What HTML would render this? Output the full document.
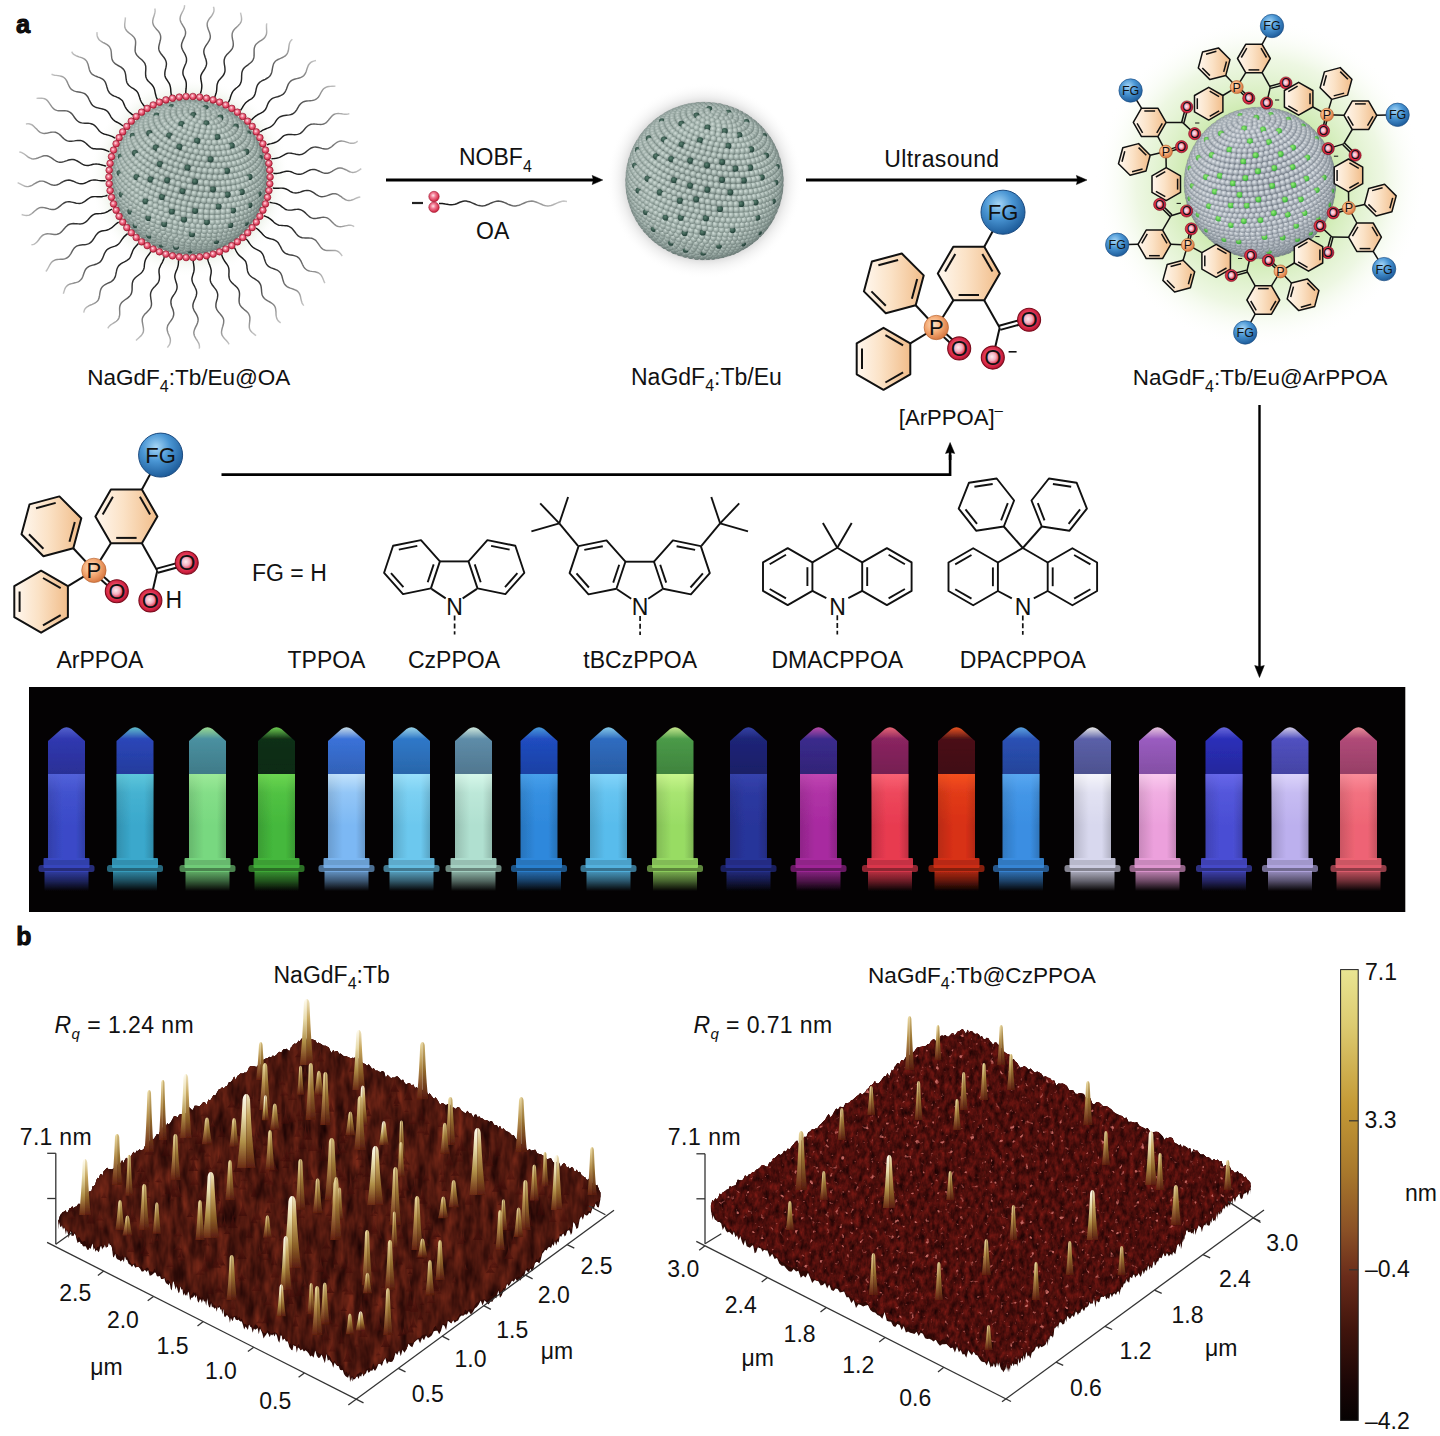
<!DOCTYPE html>
<html><head><meta charset="utf-8"><style>
html,body{margin:0;padding:0;background:#fff;}
svg{display:block;}
text{font-family:"Liberation Sans",sans-serif;}
</style></head><body>
<svg width="1440" height="1436" viewBox="0 0 1440 1436">
<defs>
<filter id="soft" x="-5%" y="-5%" width="110%" height="110%"><feGaussianBlur stdDeviation="0.7"/></filter>
<linearGradient id="peach" x1="0" y1="0" x2="1" y2="0"><stop offset="0" stop-color="#fff7ee"/><stop offset="0.45" stop-color="#fbe2c6"/><stop offset="1" stop-color="#f1bd8a"/></linearGradient>
<radialGradient id="pball" cx="0.4" cy="0.38" r="0.62"><stop offset="0" stop-color="#fde2c4"/><stop offset="0.55" stop-color="#f4a872"/><stop offset="1" stop-color="#d87a44"/></radialGradient>
<radialGradient id="oball" cx="0.46" cy="0.46" r="0.54"><stop offset="0" stop-color="#fdecf0"/><stop offset="0.32" stop-color="#f4b0c0"/><stop offset="0.58" stop-color="#e23c5a"/><stop offset="0.85" stop-color="#d0203e"/><stop offset="1" stop-color="#a81432"/></radialGradient>
<radialGradient id="fgball" cx="0.4" cy="0.32" r="0.7"><stop offset="0" stop-color="#a6d6f6"/><stop offset="0.45" stop-color="#4a96d4"/><stop offset="1" stop-color="#1c5a98"/></radialGradient>
<radialGradient id="rbead" cx="0.42" cy="0.4" r="0.6"><stop offset="0" stop-color="#ffe4e8"/><stop offset="0.4" stop-color="#f07890"/><stop offset="1" stop-color="#cc1f3c"/></radialGradient>
<radialGradient id="gbead" cx="0.4" cy="0.36" r="0.64"><stop offset="0" stop-color="#d0dcd7"/><stop offset="0.5" stop-color="#aabab4"/><stop offset="1" stop-color="#7f8f8a"/></radialGradient>
<radialGradient id="bbead" cx="0.4" cy="0.36" r="0.64"><stop offset="0" stop-color="#e2e6ea"/><stop offset="0.55" stop-color="#b2bac2"/><stop offset="1" stop-color="#8a929c"/></radialGradient>
<radialGradient id="dgdot" cx="0.4" cy="0.38" r="0.6"><stop offset="0" stop-color="#5a8070"/><stop offset="1" stop-color="#24423a"/></radialGradient>
<radialGradient id="lgdot" cx="0.4" cy="0.38" r="0.6"><stop offset="0" stop-color="#9af07a"/><stop offset="1" stop-color="#38b038"/></radialGradient>
<pattern id="pg" patternUnits="userSpaceOnUse" width="6" height="10.4" x="0" y="0" patternTransform="rotate(-8)">
 <rect width="6" height="10.4" fill="#7f8f8a"/>
 <circle cx="3" cy="2.6" r="2.95" fill="url(#gbead)"/>
 <circle cx="0" cy="7.8" r="2.95" fill="url(#gbead)"/><circle cx="6" cy="7.8" r="2.95" fill="url(#gbead)"/>
</pattern>
<pattern id="pb" patternUnits="userSpaceOnUse" width="5.6" height="9.7" x="0" y="0" patternTransform="rotate(-8)">
 <rect width="5.6" height="9.7" fill="#7f8892"/>
 <circle cx="2.8" cy="2.42" r="2.75" fill="url(#bbead)"/>
 <circle cx="0" cy="7.27" r="2.75" fill="url(#bbead)"/><circle cx="5.6" cy="7.27" r="2.75" fill="url(#bbead)"/>
</pattern>
<radialGradient id="sphshade" cx="0.5" cy="0.5" r="0.5"><stop offset="0.7" stop-color="#000" stop-opacity="0"/><stop offset="0.94" stop-color="#233" stop-opacity="0.1"/><stop offset="1" stop-color="#122" stop-opacity="0.22"/></radialGradient>
<radialGradient id="sphhl" cx="0.35" cy="0.3" r="0.6"><stop offset="0" stop-color="#fff" stop-opacity="0.06"/><stop offset="1" stop-color="#fff" stop-opacity="0"/></radialGradient>
<radialGradient id="shadow2" cx="0.5" cy="0.5" r="0.5"><stop offset="0.78" stop-color="#888" stop-opacity="0.35"/><stop offset="0.86" stop-color="#999" stop-opacity="0.15"/><stop offset="1" stop-color="#fff" stop-opacity="0"/></radialGradient>
<radialGradient id="glow3" cx="0.5" cy="0.5" r="0.5"><stop offset="0.45" stop-color="#c8e8a8" stop-opacity="0.9"/><stop offset="0.75" stop-color="#e2f2d0" stop-opacity="0.6"/><stop offset="1" stop-color="#ffffff" stop-opacity="0"/></radialGradient>
<radialGradient id="glow1" cx="0.5" cy="0.5" r="0.5"><stop offset="0.8" stop-color="#dfe8d8" stop-opacity="0.7"/><stop offset="1" stop-color="#ffffff" stop-opacity="0"/></radialGradient>
<radialGradient id="chaing" gradientUnits="userSpaceOnUse" cx="189.5" cy="177" r="175"><stop offset="0.48" stop-color="#111"/><stop offset="0.7" stop-color="#333"/><stop offset="0.88" stop-color="#8a8a8a"/><stop offset="1" stop-color="#d0d0d0"/></radialGradient>
<linearGradient id="oachain" x1="0" y1="0" x2="1" y2="0"><stop offset="0" stop-color="#111"/><stop offset="0.5" stop-color="#555"/><stop offset="1" stop-color="#ccc"/></linearGradient>
<clipPath id="clip1"><circle cx="189.5" cy="177" r="78"/></clipPath><circle id="bd1" r="3.1" fill="url(#gbead)"/><circle id="dt1" r="3.1" fill="url(#dgdot)"/><clipPath id="clip2"><circle cx="704.5" cy="181" r="79.5"/></clipPath><circle id="bd2" r="3.1" fill="url(#gbead)"/><circle id="dt2" r="3.1" fill="url(#dgdot)"/><clipPath id="clip3"><circle cx="1260" cy="183" r="76.5"/></clipPath><circle id="bd3" r="2.9" fill="url(#bbead)"/><circle id="dt3" r="3" fill="url(#lgdot)"/><linearGradient id="vb0" x1="0" y1="0" x2="1" y2="0"><stop offset="0" stop-color="#3a4ac8" stop-opacity="0.85"/><stop offset="0.4" stop-color="#3a4ac8"/><stop offset="0.75" stop-color="#3a4ac8"/><stop offset="1" stop-color="#3a4ac8" stop-opacity="0.82"/></linearGradient><linearGradient id="vh0" x1="0" y1="0" x2="0" y2="1"><stop offset="0" stop-color="#5a6ae0" stop-opacity="0.75"/><stop offset="0.22" stop-color="#5a6ae0" stop-opacity="0.25"/><stop offset="0.6" stop-color="#5a6ae0" stop-opacity="0"/></linearGradient><linearGradient id="vr0" x1="0" y1="0" x2="0" y2="1"><stop offset="0" stop-color="#3a4ac8" stop-opacity="0.8"/><stop offset="0.5" stop-color="#3a4ac8" stop-opacity="0.45"/><stop offset="1" stop-color="#3a4ac8" stop-opacity="0"/></linearGradient><linearGradient id="vc0" x1="0" y1="0" x2="0" y2="1"><stop offset="0" stop-color="#5a6ae0" stop-opacity="0.9"/><stop offset="0.25" stop-color="#3038b0"/><stop offset="1" stop-color="#3038b0" stop-opacity="0.85"/></linearGradient><linearGradient id="vb1" x1="0" y1="0" x2="1" y2="0"><stop offset="0" stop-color="#3aa8cc" stop-opacity="0.85"/><stop offset="0.4" stop-color="#3aa8cc"/><stop offset="0.75" stop-color="#3aa8cc"/><stop offset="1" stop-color="#3aa8cc" stop-opacity="0.82"/></linearGradient><linearGradient id="vh1" x1="0" y1="0" x2="0" y2="1"><stop offset="0" stop-color="#68d0e0" stop-opacity="0.75"/><stop offset="0.22" stop-color="#68d0e0" stop-opacity="0.25"/><stop offset="0.6" stop-color="#68d0e0" stop-opacity="0"/></linearGradient><linearGradient id="vr1" x1="0" y1="0" x2="0" y2="1"><stop offset="0" stop-color="#3aa8cc" stop-opacity="0.8"/><stop offset="0.5" stop-color="#3aa8cc" stop-opacity="0.45"/><stop offset="1" stop-color="#3aa8cc" stop-opacity="0"/></linearGradient><linearGradient id="vc1" x1="0" y1="0" x2="0" y2="1"><stop offset="0" stop-color="#68d0e0" stop-opacity="0.9"/><stop offset="0.25" stop-color="#2a46b8"/><stop offset="1" stop-color="#2a46b8" stop-opacity="0.85"/></linearGradient><linearGradient id="vb2" x1="0" y1="0" x2="1" y2="0"><stop offset="0" stop-color="#78d880" stop-opacity="0.85"/><stop offset="0.4" stop-color="#78d880"/><stop offset="0.75" stop-color="#78d880"/><stop offset="1" stop-color="#78d880" stop-opacity="0.82"/></linearGradient><linearGradient id="vh2" x1="0" y1="0" x2="0" y2="1"><stop offset="0" stop-color="#a8f0a0" stop-opacity="0.75"/><stop offset="0.22" stop-color="#a8f0a0" stop-opacity="0.25"/><stop offset="0.6" stop-color="#a8f0a0" stop-opacity="0"/></linearGradient><linearGradient id="vr2" x1="0" y1="0" x2="0" y2="1"><stop offset="0" stop-color="#78d880" stop-opacity="0.8"/><stop offset="0.5" stop-color="#78d880" stop-opacity="0.45"/><stop offset="1" stop-color="#78d880" stop-opacity="0"/></linearGradient><linearGradient id="vc2" x1="0" y1="0" x2="0" y2="1"><stop offset="0" stop-color="#a8f0a0" stop-opacity="0.9"/><stop offset="0.25" stop-color="#4a90a0"/><stop offset="1" stop-color="#4a90a0" stop-opacity="0.85"/></linearGradient><linearGradient id="vb3" x1="0" y1="0" x2="1" y2="0"><stop offset="0" stop-color="#44b83c" stop-opacity="0.85"/><stop offset="0.4" stop-color="#44b83c"/><stop offset="0.75" stop-color="#44b83c"/><stop offset="1" stop-color="#44b83c" stop-opacity="0.82"/></linearGradient><linearGradient id="vh3" x1="0" y1="0" x2="0" y2="1"><stop offset="0" stop-color="#78e058" stop-opacity="0.75"/><stop offset="0.22" stop-color="#78e058" stop-opacity="0.25"/><stop offset="0.6" stop-color="#78e058" stop-opacity="0"/></linearGradient><linearGradient id="vr3" x1="0" y1="0" x2="0" y2="1"><stop offset="0" stop-color="#44b83c" stop-opacity="0.8"/><stop offset="0.5" stop-color="#44b83c" stop-opacity="0.45"/><stop offset="1" stop-color="#44b83c" stop-opacity="0"/></linearGradient><linearGradient id="vc3" x1="0" y1="0" x2="0" y2="1"><stop offset="0" stop-color="#78e058" stop-opacity="0.9"/><stop offset="0.25" stop-color="#0e3016"/><stop offset="1" stop-color="#0e3016" stop-opacity="0.85"/></linearGradient><linearGradient id="vb4" x1="0" y1="0" x2="1" y2="0"><stop offset="0" stop-color="#7cb8f4" stop-opacity="0.85"/><stop offset="0.4" stop-color="#7cb8f4"/><stop offset="0.75" stop-color="#7cb8f4"/><stop offset="1" stop-color="#7cb8f4" stop-opacity="0.82"/></linearGradient><linearGradient id="vh4" x1="0" y1="0" x2="0" y2="1"><stop offset="0" stop-color="#d8f0ff" stop-opacity="0.75"/><stop offset="0.22" stop-color="#d8f0ff" stop-opacity="0.25"/><stop offset="0.6" stop-color="#d8f0ff" stop-opacity="0"/></linearGradient><linearGradient id="vr4" x1="0" y1="0" x2="0" y2="1"><stop offset="0" stop-color="#7cb8f4" stop-opacity="0.8"/><stop offset="0.5" stop-color="#7cb8f4" stop-opacity="0.45"/><stop offset="1" stop-color="#7cb8f4" stop-opacity="0"/></linearGradient><linearGradient id="vc4" x1="0" y1="0" x2="0" y2="1"><stop offset="0" stop-color="#d8f0ff" stop-opacity="0.9"/><stop offset="0.25" stop-color="#3a72d8"/><stop offset="1" stop-color="#3a72d8" stop-opacity="0.85"/></linearGradient><linearGradient id="vb5" x1="0" y1="0" x2="1" y2="0"><stop offset="0" stop-color="#6cc8ee" stop-opacity="0.85"/><stop offset="0.4" stop-color="#6cc8ee"/><stop offset="0.75" stop-color="#6cc8ee"/><stop offset="1" stop-color="#6cc8ee" stop-opacity="0.82"/></linearGradient><linearGradient id="vh5" x1="0" y1="0" x2="0" y2="1"><stop offset="0" stop-color="#a8e8ff" stop-opacity="0.75"/><stop offset="0.22" stop-color="#a8e8ff" stop-opacity="0.25"/><stop offset="0.6" stop-color="#a8e8ff" stop-opacity="0"/></linearGradient><linearGradient id="vr5" x1="0" y1="0" x2="0" y2="1"><stop offset="0" stop-color="#6cc8ee" stop-opacity="0.8"/><stop offset="0.5" stop-color="#6cc8ee" stop-opacity="0.45"/><stop offset="1" stop-color="#6cc8ee" stop-opacity="0"/></linearGradient><linearGradient id="vc5" x1="0" y1="0" x2="0" y2="1"><stop offset="0" stop-color="#a8e8ff" stop-opacity="0.9"/><stop offset="0.25" stop-color="#2f78c8"/><stop offset="1" stop-color="#2f78c8" stop-opacity="0.85"/></linearGradient><linearGradient id="vb6" x1="0" y1="0" x2="1" y2="0"><stop offset="0" stop-color="#b0e0d0" stop-opacity="0.85"/><stop offset="0.4" stop-color="#b0e0d0"/><stop offset="0.75" stop-color="#b0e0d0"/><stop offset="1" stop-color="#b0e0d0" stop-opacity="0.82"/></linearGradient><linearGradient id="vh6" x1="0" y1="0" x2="0" y2="1"><stop offset="0" stop-color="#e2fff2" stop-opacity="0.75"/><stop offset="0.22" stop-color="#e2fff2" stop-opacity="0.25"/><stop offset="0.6" stop-color="#e2fff2" stop-opacity="0"/></linearGradient><linearGradient id="vr6" x1="0" y1="0" x2="0" y2="1"><stop offset="0" stop-color="#b0e0d0" stop-opacity="0.8"/><stop offset="0.5" stop-color="#b0e0d0" stop-opacity="0.45"/><stop offset="1" stop-color="#b0e0d0" stop-opacity="0"/></linearGradient><linearGradient id="vc6" x1="0" y1="0" x2="0" y2="1"><stop offset="0" stop-color="#e2fff2" stop-opacity="0.9"/><stop offset="0.25" stop-color="#5e8ca8"/><stop offset="1" stop-color="#5e8ca8" stop-opacity="0.85"/></linearGradient><linearGradient id="vb7" x1="0" y1="0" x2="1" y2="0"><stop offset="0" stop-color="#2e88dc" stop-opacity="0.85"/><stop offset="0.4" stop-color="#2e88dc"/><stop offset="0.75" stop-color="#2e88dc"/><stop offset="1" stop-color="#2e88dc" stop-opacity="0.82"/></linearGradient><linearGradient id="vh7" x1="0" y1="0" x2="0" y2="1"><stop offset="0" stop-color="#50a8f0" stop-opacity="0.75"/><stop offset="0.22" stop-color="#50a8f0" stop-opacity="0.25"/><stop offset="0.6" stop-color="#50a8f0" stop-opacity="0"/></linearGradient><linearGradient id="vr7" x1="0" y1="0" x2="0" y2="1"><stop offset="0" stop-color="#2e88dc" stop-opacity="0.8"/><stop offset="0.5" stop-color="#2e88dc" stop-opacity="0.45"/><stop offset="1" stop-color="#2e88dc" stop-opacity="0"/></linearGradient><linearGradient id="vc7" x1="0" y1="0" x2="0" y2="1"><stop offset="0" stop-color="#50a8f0" stop-opacity="0.9"/><stop offset="0.25" stop-color="#1f4cc0"/><stop offset="1" stop-color="#1f4cc0" stop-opacity="0.85"/></linearGradient><linearGradient id="vb8" x1="0" y1="0" x2="1" y2="0"><stop offset="0" stop-color="#58bcec" stop-opacity="0.85"/><stop offset="0.4" stop-color="#58bcec"/><stop offset="0.75" stop-color="#58bcec"/><stop offset="1" stop-color="#58bcec" stop-opacity="0.82"/></linearGradient><linearGradient id="vh8" x1="0" y1="0" x2="0" y2="1"><stop offset="0" stop-color="#90dcff" stop-opacity="0.75"/><stop offset="0.22" stop-color="#90dcff" stop-opacity="0.25"/><stop offset="0.6" stop-color="#90dcff" stop-opacity="0"/></linearGradient><linearGradient id="vr8" x1="0" y1="0" x2="0" y2="1"><stop offset="0" stop-color="#58bcec" stop-opacity="0.8"/><stop offset="0.5" stop-color="#58bcec" stop-opacity="0.45"/><stop offset="1" stop-color="#58bcec" stop-opacity="0"/></linearGradient><linearGradient id="vc8" x1="0" y1="0" x2="0" y2="1"><stop offset="0" stop-color="#90dcff" stop-opacity="0.9"/><stop offset="0.25" stop-color="#2f6cc0"/><stop offset="1" stop-color="#2f6cc0" stop-opacity="0.85"/></linearGradient><linearGradient id="vb9" x1="0" y1="0" x2="1" y2="0"><stop offset="0" stop-color="#98dc64" stop-opacity="0.85"/><stop offset="0.4" stop-color="#98dc64"/><stop offset="0.75" stop-color="#98dc64"/><stop offset="1" stop-color="#98dc64" stop-opacity="0.82"/></linearGradient><linearGradient id="vh9" x1="0" y1="0" x2="0" y2="1"><stop offset="0" stop-color="#d8ff9a" stop-opacity="0.75"/><stop offset="0.22" stop-color="#d8ff9a" stop-opacity="0.25"/><stop offset="0.6" stop-color="#d8ff9a" stop-opacity="0"/></linearGradient><linearGradient id="vr9" x1="0" y1="0" x2="0" y2="1"><stop offset="0" stop-color="#98dc64" stop-opacity="0.8"/><stop offset="0.5" stop-color="#98dc64" stop-opacity="0.45"/><stop offset="1" stop-color="#98dc64" stop-opacity="0"/></linearGradient><linearGradient id="vc9" x1="0" y1="0" x2="0" y2="1"><stop offset="0" stop-color="#d8ff9a" stop-opacity="0.9"/><stop offset="0.25" stop-color="#4a9a48"/><stop offset="1" stop-color="#4a9a48" stop-opacity="0.85"/></linearGradient><linearGradient id="vb10" x1="0" y1="0" x2="1" y2="0"><stop offset="0" stop-color="#28349a" stop-opacity="0.85"/><stop offset="0.4" stop-color="#28349a"/><stop offset="0.75" stop-color="#28349a"/><stop offset="1" stop-color="#28349a" stop-opacity="0.82"/></linearGradient><linearGradient id="vh10" x1="0" y1="0" x2="0" y2="1"><stop offset="0" stop-color="#3a48b4" stop-opacity="0.75"/><stop offset="0.22" stop-color="#3a48b4" stop-opacity="0.25"/><stop offset="0.6" stop-color="#3a48b4" stop-opacity="0"/></linearGradient><linearGradient id="vr10" x1="0" y1="0" x2="0" y2="1"><stop offset="0" stop-color="#28349a" stop-opacity="0.8"/><stop offset="0.5" stop-color="#28349a" stop-opacity="0.45"/><stop offset="1" stop-color="#28349a" stop-opacity="0"/></linearGradient><linearGradient id="vc10" x1="0" y1="0" x2="0" y2="1"><stop offset="0" stop-color="#3a48b4" stop-opacity="0.9"/><stop offset="0.25" stop-color="#1c2478"/><stop offset="1" stop-color="#1c2478" stop-opacity="0.85"/></linearGradient><linearGradient id="vb11" x1="0" y1="0" x2="1" y2="0"><stop offset="0" stop-color="#a82aa0" stop-opacity="0.85"/><stop offset="0.4" stop-color="#a82aa0"/><stop offset="0.75" stop-color="#a82aa0"/><stop offset="1" stop-color="#a82aa0" stop-opacity="0.82"/></linearGradient><linearGradient id="vh11" x1="0" y1="0" x2="0" y2="1"><stop offset="0" stop-color="#c850b8" stop-opacity="0.75"/><stop offset="0.22" stop-color="#c850b8" stop-opacity="0.25"/><stop offset="0.6" stop-color="#c850b8" stop-opacity="0"/></linearGradient><linearGradient id="vr11" x1="0" y1="0" x2="0" y2="1"><stop offset="0" stop-color="#a82aa0" stop-opacity="0.8"/><stop offset="0.5" stop-color="#a82aa0" stop-opacity="0.45"/><stop offset="1" stop-color="#a82aa0" stop-opacity="0"/></linearGradient><linearGradient id="vc11" x1="0" y1="0" x2="0" y2="1"><stop offset="0" stop-color="#c850b8" stop-opacity="0.9"/><stop offset="0.25" stop-color="#3a2a8c"/><stop offset="1" stop-color="#3a2a8c" stop-opacity="0.85"/></linearGradient><linearGradient id="vb12" x1="0" y1="0" x2="1" y2="0"><stop offset="0" stop-color="#e83a50" stop-opacity="0.85"/><stop offset="0.4" stop-color="#e83a50"/><stop offset="0.75" stop-color="#e83a50"/><stop offset="1" stop-color="#e83a50" stop-opacity="0.82"/></linearGradient><linearGradient id="vh12" x1="0" y1="0" x2="0" y2="1"><stop offset="0" stop-color="#ff7080" stop-opacity="0.75"/><stop offset="0.22" stop-color="#ff7080" stop-opacity="0.25"/><stop offset="0.6" stop-color="#ff7080" stop-opacity="0"/></linearGradient><linearGradient id="vr12" x1="0" y1="0" x2="0" y2="1"><stop offset="0" stop-color="#e83a50" stop-opacity="0.8"/><stop offset="0.5" stop-color="#e83a50" stop-opacity="0.45"/><stop offset="1" stop-color="#e83a50" stop-opacity="0"/></linearGradient><linearGradient id="vc12" x1="0" y1="0" x2="0" y2="1"><stop offset="0" stop-color="#ff7080" stop-opacity="0.9"/><stop offset="0.25" stop-color="#8a2460"/><stop offset="1" stop-color="#8a2460" stop-opacity="0.85"/></linearGradient><linearGradient id="vb13" x1="0" y1="0" x2="1" y2="0"><stop offset="0" stop-color="#d83016" stop-opacity="0.85"/><stop offset="0.4" stop-color="#d83016"/><stop offset="0.75" stop-color="#d83016"/><stop offset="1" stop-color="#d83016" stop-opacity="0.82"/></linearGradient><linearGradient id="vh13" x1="0" y1="0" x2="0" y2="1"><stop offset="0" stop-color="#ff5a22" stop-opacity="0.75"/><stop offset="0.22" stop-color="#ff5a22" stop-opacity="0.25"/><stop offset="0.6" stop-color="#ff5a22" stop-opacity="0"/></linearGradient><linearGradient id="vr13" x1="0" y1="0" x2="0" y2="1"><stop offset="0" stop-color="#d83016" stop-opacity="0.8"/><stop offset="0.5" stop-color="#d83016" stop-opacity="0.45"/><stop offset="1" stop-color="#d83016" stop-opacity="0"/></linearGradient><linearGradient id="vc13" x1="0" y1="0" x2="0" y2="1"><stop offset="0" stop-color="#ff5a22" stop-opacity="0.9"/><stop offset="0.25" stop-color="#4a1016"/><stop offset="1" stop-color="#4a1016" stop-opacity="0.85"/></linearGradient><linearGradient id="vb14" x1="0" y1="0" x2="1" y2="0"><stop offset="0" stop-color="#3a8ee2" stop-opacity="0.85"/><stop offset="0.4" stop-color="#3a8ee2"/><stop offset="0.75" stop-color="#3a8ee2"/><stop offset="1" stop-color="#3a8ee2" stop-opacity="0.82"/></linearGradient><linearGradient id="vh14" x1="0" y1="0" x2="0" y2="1"><stop offset="0" stop-color="#62b0f6" stop-opacity="0.75"/><stop offset="0.22" stop-color="#62b0f6" stop-opacity="0.25"/><stop offset="0.6" stop-color="#62b0f6" stop-opacity="0"/></linearGradient><linearGradient id="vr14" x1="0" y1="0" x2="0" y2="1"><stop offset="0" stop-color="#3a8ee2" stop-opacity="0.8"/><stop offset="0.5" stop-color="#3a8ee2" stop-opacity="0.45"/><stop offset="1" stop-color="#3a8ee2" stop-opacity="0"/></linearGradient><linearGradient id="vc14" x1="0" y1="0" x2="0" y2="1"><stop offset="0" stop-color="#62b0f6" stop-opacity="0.9"/><stop offset="0.25" stop-color="#2a50b4"/><stop offset="1" stop-color="#2a50b4" stop-opacity="0.85"/></linearGradient><linearGradient id="vb15" x1="0" y1="0" x2="1" y2="0"><stop offset="0" stop-color="#d8d8ee" stop-opacity="0.85"/><stop offset="0.4" stop-color="#d8d8ee"/><stop offset="0.75" stop-color="#d8d8ee"/><stop offset="1" stop-color="#d8d8ee" stop-opacity="0.82"/></linearGradient><linearGradient id="vh15" x1="0" y1="0" x2="0" y2="1"><stop offset="0" stop-color="#ffffff" stop-opacity="0.75"/><stop offset="0.22" stop-color="#ffffff" stop-opacity="0.25"/><stop offset="0.6" stop-color="#ffffff" stop-opacity="0"/></linearGradient><linearGradient id="vr15" x1="0" y1="0" x2="0" y2="1"><stop offset="0" stop-color="#d8d8ee" stop-opacity="0.8"/><stop offset="0.5" stop-color="#d8d8ee" stop-opacity="0.45"/><stop offset="1" stop-color="#d8d8ee" stop-opacity="0"/></linearGradient><linearGradient id="vc15" x1="0" y1="0" x2="0" y2="1"><stop offset="0" stop-color="#ffffff" stop-opacity="0.9"/><stop offset="0.25" stop-color="#5a60a8"/><stop offset="1" stop-color="#5a60a8" stop-opacity="0.85"/></linearGradient><linearGradient id="vb16" x1="0" y1="0" x2="1" y2="0"><stop offset="0" stop-color="#eca0dc" stop-opacity="0.85"/><stop offset="0.4" stop-color="#eca0dc"/><stop offset="0.75" stop-color="#eca0dc"/><stop offset="1" stop-color="#eca0dc" stop-opacity="0.82"/></linearGradient><linearGradient id="vh16" x1="0" y1="0" x2="0" y2="1"><stop offset="0" stop-color="#ffd8f4" stop-opacity="0.75"/><stop offset="0.22" stop-color="#ffd8f4" stop-opacity="0.25"/><stop offset="0.6" stop-color="#ffd8f4" stop-opacity="0"/></linearGradient><linearGradient id="vr16" x1="0" y1="0" x2="0" y2="1"><stop offset="0" stop-color="#eca0dc" stop-opacity="0.8"/><stop offset="0.5" stop-color="#eca0dc" stop-opacity="0.45"/><stop offset="1" stop-color="#eca0dc" stop-opacity="0"/></linearGradient><linearGradient id="vc16" x1="0" y1="0" x2="0" y2="1"><stop offset="0" stop-color="#ffd8f4" stop-opacity="0.9"/><stop offset="0.25" stop-color="#9a5cc0"/><stop offset="1" stop-color="#9a5cc0" stop-opacity="0.85"/></linearGradient><linearGradient id="vb17" x1="0" y1="0" x2="1" y2="0"><stop offset="0" stop-color="#4a4ed4" stop-opacity="0.85"/><stop offset="0.4" stop-color="#4a4ed4"/><stop offset="0.75" stop-color="#4a4ed4"/><stop offset="1" stop-color="#4a4ed4" stop-opacity="0.82"/></linearGradient><linearGradient id="vh17" x1="0" y1="0" x2="0" y2="1"><stop offset="0" stop-color="#7070f0" stop-opacity="0.75"/><stop offset="0.22" stop-color="#7070f0" stop-opacity="0.25"/><stop offset="0.6" stop-color="#7070f0" stop-opacity="0"/></linearGradient><linearGradient id="vr17" x1="0" y1="0" x2="0" y2="1"><stop offset="0" stop-color="#4a4ed4" stop-opacity="0.8"/><stop offset="0.5" stop-color="#4a4ed4" stop-opacity="0.45"/><stop offset="1" stop-color="#4a4ed4" stop-opacity="0"/></linearGradient><linearGradient id="vc17" x1="0" y1="0" x2="0" y2="1"><stop offset="0" stop-color="#7070f0" stop-opacity="0.9"/><stop offset="0.25" stop-color="#2a2eb8"/><stop offset="1" stop-color="#2a2eb8" stop-opacity="0.85"/></linearGradient><linearGradient id="vb18" x1="0" y1="0" x2="1" y2="0"><stop offset="0" stop-color="#bcb0ee" stop-opacity="0.85"/><stop offset="0.4" stop-color="#bcb0ee"/><stop offset="0.75" stop-color="#bcb0ee"/><stop offset="1" stop-color="#bcb0ee" stop-opacity="0.82"/></linearGradient><linearGradient id="vh18" x1="0" y1="0" x2="0" y2="1"><stop offset="0" stop-color="#e6e0ff" stop-opacity="0.75"/><stop offset="0.22" stop-color="#e6e0ff" stop-opacity="0.25"/><stop offset="0.6" stop-color="#e6e0ff" stop-opacity="0"/></linearGradient><linearGradient id="vr18" x1="0" y1="0" x2="0" y2="1"><stop offset="0" stop-color="#bcb0ee" stop-opacity="0.8"/><stop offset="0.5" stop-color="#bcb0ee" stop-opacity="0.45"/><stop offset="1" stop-color="#bcb0ee" stop-opacity="0"/></linearGradient><linearGradient id="vc18" x1="0" y1="0" x2="0" y2="1"><stop offset="0" stop-color="#e6e0ff" stop-opacity="0.9"/><stop offset="0.25" stop-color="#5050c0"/><stop offset="1" stop-color="#5050c0" stop-opacity="0.85"/></linearGradient><linearGradient id="vb19" x1="0" y1="0" x2="1" y2="0"><stop offset="0" stop-color="#ee6474" stop-opacity="0.85"/><stop offset="0.4" stop-color="#ee6474"/><stop offset="0.75" stop-color="#ee6474"/><stop offset="1" stop-color="#ee6474" stop-opacity="0.82"/></linearGradient><linearGradient id="vh19" x1="0" y1="0" x2="0" y2="1"><stop offset="0" stop-color="#ff9aa6" stop-opacity="0.75"/><stop offset="0.22" stop-color="#ff9aa6" stop-opacity="0.25"/><stop offset="0.6" stop-color="#ff9aa6" stop-opacity="0"/></linearGradient><linearGradient id="vr19" x1="0" y1="0" x2="0" y2="1"><stop offset="0" stop-color="#ee6474" stop-opacity="0.8"/><stop offset="0.5" stop-color="#ee6474" stop-opacity="0.45"/><stop offset="1" stop-color="#ee6474" stop-opacity="0"/></linearGradient><linearGradient id="vc19" x1="0" y1="0" x2="0" y2="1"><stop offset="0" stop-color="#ff9aa6" stop-opacity="0.9"/><stop offset="0.25" stop-color="#b04a78"/><stop offset="1" stop-color="#b04a78" stop-opacity="0.85"/></linearGradient>
<filter id="afmtex" x="0" y="0" width="1" height="1" color-interpolation-filters="sRGB">
 <feTurbulence type="fractalNoise" baseFrequency="0.11 0.035" numOctaves="3" seed="4" result="n"/>
 <feColorMatrix in="n" type="matrix" values="0.5 0 0 0 0.05  0.2 0 0 0 -0.01  0.11 0 0 0 0.0  0 0 0 0 1" result="c"/>
 <feComposite in="c" in2="SourceGraphic" operator="in"/>
</filter>
<filter id="afmtex2" x="0" y="0" width="1" height="1" color-interpolation-filters="sRGB">
 <feTurbulence type="fractalNoise" baseFrequency="0.2 0.12" numOctaves="3" seed="9" result="n"/>
 <feColorMatrix in="n" type="matrix" values="0.48 0 0 0 0.06  0.11 0 0 0 0.0  0.08 0 0 0 0.005  0 0 0 0 1" result="c"/>
 <feComposite in="c" in2="SourceGraphic" operator="in"/>
</filter>
<filter id="speck" x="0" y="0" width="1" height="1" color-interpolation-filters="sRGB">
 <feTurbulence type="fractalNoise" baseFrequency="0.2" numOctaves="2" seed="21" result="n"/>
 <feColorMatrix in="n" type="matrix" values="0 0 0 0 0.76  0 0 0 0 0.4  0 0 0 0 0.38  7 0 0 0 -4.75" result="c"/>
 <feComposite in="c" in2="SourceGraphic" operator="in"/>
</filter>
<linearGradient id="spkL" x1="0" y1="0" x2="0" y2="1"><stop offset="0" stop-color="#fffcf0"/><stop offset="0.3" stop-color="#e8dcac"/><stop offset="0.65" stop-color="#b09048"/><stop offset="1" stop-color="#6a2a14"/></linearGradient>
<linearGradient id="spkR" x1="0" y1="0" x2="0" y2="1"><stop offset="0" stop-color="#efe4c0"/><stop offset="0.3" stop-color="#c8a860"/><stop offset="0.7" stop-color="#8a5e26"/><stop offset="1" stop-color="#5a1c10"/></linearGradient>
<linearGradient id="spkL2" x1="0" y1="0" x2="0" y2="1"><stop offset="0" stop-color="#ecdca4"/><stop offset="0.4" stop-color="#b89450"/><stop offset="1" stop-color="#62200f"/></linearGradient>
<linearGradient id="spkR2" x1="0" y1="0" x2="0" y2="1"><stop offset="0" stop-color="#d0b878"/><stop offset="0.45" stop-color="#967030"/><stop offset="1" stop-color="#561a0e"/></linearGradient>
<linearGradient id="cone" x1="0" y1="0" x2="0" y2="1"><stop offset="0" stop-color="#7e3020"/><stop offset="1" stop-color="#420c08"/></linearGradient>
<linearGradient id="cone2" x1="0" y1="0" x2="0" y2="1"><stop offset="0" stop-color="#5e1a12"/><stop offset="1" stop-color="#360806"/></linearGradient>
<linearGradient id="cbar" x1="0" y1="0" x2="0" y2="1"><stop offset="0" stop-color="#e9e592"/><stop offset="0.12" stop-color="#ddcc72"/><stop offset="0.3" stop-color="#c49a36"/><stop offset="0.45" stop-color="#a8782c"/><stop offset="0.58" stop-color="#8a5026"/><stop offset="0.68" stop-color="#6a2c1a"/><stop offset="0.8" stop-color="#40140c"/><stop offset="0.92" stop-color="#1a0606"/><stop offset="1" stop-color="#060202"/></linearGradient>
<clipPath id="afmclip5"><polygon points="58.8,1220 60.1,1215.2 61.5,1213.7 62.8,1212 64.2,1211.8 65.5,1210.3 66.9,1213 68.2,1211.4 69.6,1208.2 70.9,1207.9 72.3,1206.2 73.6,1208.3 75,1206.8 76.3,1206.7 77.7,1204.8 79,1203.5 80.4,1204.8 81.7,1205 82.9,1199.1 84.1,1197.1 85.4,1197.9 86.6,1194.2 87.8,1194.7 89,1191.6 90.3,1191.6 91.5,1190.9 92.7,1185.9 93.9,1185.9 95.2,1184.7 96.4,1180 97.6,1177.8 98.8,1178.4 100.1,1174.6 101.3,1174 102.5,1176 103.7,1171 104.9,1170.3 106.2,1168.5 107.4,1167.7 108.6,1169.4 109.8,1169.1 111.1,1169.4 112.3,1169 113.5,1168.7 114.7,1167.1 116,1164.8 117.2,1166.1 118.4,1163.2 119.6,1163.2 120.9,1162.8 122.1,1160 123.3,1163.3 124.8,1159.9 126.2,1157.7 127.7,1159 129.2,1154.9 130.7,1157 132.1,1153.9 133.6,1151.8 135.1,1154 136.5,1150.8 138,1150.9 139.5,1149.3 140.9,1150.6 142.4,1150.1 143.9,1148.7 145.4,1144.4 146.8,1145.6 148.3,1146.7 150,1139.9 151.7,1140.3 153.5,1139.2 155.2,1136.9 156.9,1134 158.6,1134.7 160.3,1131 162,1128.5 163.8,1126.3 165.5,1127.9 167.2,1123.3 168.9,1124.4 170.6,1122.4 172.3,1119.5 174.1,1116.1 175.8,1116.3 177.5,1117.5 179.2,1114.8 180.9,1114.1 182.7,1114 184.4,1113.8 186.1,1113 187.8,1109.9 189.5,1107.2 191.2,1109.4 193,1110 194.7,1105.7 196.4,1105.8 198.1,1105.9 199.8,1106.1 201.5,1104.2 203.3,1102.1 205,1102.5 206.7,1105 208.4,1099.6 210.1,1100.7 211.8,1098.1 213.5,1094.9 215.3,1095.8 217,1092.6 218.7,1089.6 220.4,1089.1 222.1,1087.2 223.8,1088.5 225.5,1086.5 227.2,1086 229,1081.9 230.7,1082 232.4,1080.3 234.1,1076.5 235.8,1080 237.3,1076 238.7,1075.3 240.2,1073.5 241.7,1073.4 243.2,1073.5 244.6,1072.5 246.1,1072.7 247.6,1071.1 249,1067.5 250.5,1066 252,1066.3 253.4,1066.3 254.9,1066.4 256.4,1066.9 257.9,1065.6 259.3,1062.5 260.8,1065.4 262.5,1060.8 264.2,1059.3 266,1058.6 267.7,1057.9 269.4,1056.7 271.1,1057.4 272.8,1055.6 274.5,1056.2 276.3,1054.9 278,1052.8 279.7,1051.8 281.4,1052.6 283.1,1049.5 284.8,1049.2 286.6,1048.8 288.3,1050.5 290,1050.8 291,1047.1 292,1046.7 292.9,1044.7 293.9,1044.3 294.9,1043.2 295.9,1044.3 296.9,1043 297.9,1041.7 298.8,1040.6 299.8,1041.8 300.8,1039.7 301.8,1038.5 302.8,1038.5 303.8,1036.8 304.7,1036 305.7,1037.1 306.7,1040.4 308.2,1037.4 309.6,1036.8 311.1,1039.1 312.6,1039.4 314.1,1039.9 315.5,1040.5 317,1043.5 318.5,1042.4 319.9,1043.4 321.4,1043.9 322.9,1045.6 324.3,1045.7 325.8,1045.7 327.3,1046.7 328.8,1047.2 330.2,1050.8 331.7,1052.9 333.2,1050.1 334.6,1052 336.1,1050.9 337.6,1051.2 339.1,1054.1 340.5,1053.5 342,1054.7 343.5,1056.1 344.9,1056.6 346.4,1056.3 347.9,1057.1 349.3,1057.6 350.8,1058.8 352.3,1057.7 353.8,1058.1 355.2,1057.6 356.7,1061.3 358.4,1058.2 360.1,1062 361.8,1062.2 363.5,1063.4 365.3,1063.9 367,1066 368.7,1064.3 370.4,1066.4 372.1,1069.1 373.8,1068.2 375.5,1070.8 377.2,1070.4 379,1071.8 380.7,1071.9 382.4,1071 384.1,1072 385.8,1077.9 387.5,1074.8 389.2,1076.5 391,1078.3 392.7,1077.4 394.4,1077.7 396.1,1076.6 397.8,1076.6 399.5,1078.6 401.3,1080.7 403,1079.4 404.7,1083.3 406.4,1084.4 408.1,1083.2 409.8,1083.1 411.6,1085.5 413.3,1084.6 415,1088.3 416.5,1087 417.9,1088.6 419.4,1089.5 420.9,1087.6 422.4,1090.2 423.8,1089.3 425.3,1089.9 426.8,1092.1 428.2,1094.8 429.7,1093.3 431.2,1095.6 432.6,1097.3 434.1,1098.9 435.6,1097.3 437.1,1099.5 438.5,1101.8 440,1105 442,1103 443.9,1103.8 445.9,1105.2 447.8,1104 449.8,1104 451.8,1108 453.7,1107.5 455.7,1108.9 457.6,1107.1 459.6,1107.7 461.5,1110.7 463.5,1112 465.5,1113.4 467.4,1110.8 469.4,1113.4 471.3,1113.4 473.3,1117.5 474.8,1114.8 476.2,1114.6 477.7,1117.6 479.2,1116.2 480.7,1118.2 482.1,1118.2 483.6,1119.5 485.1,1120.5 486.5,1120.2 488,1120.8 489.5,1121.9 490.9,1121 492.4,1121.8 493.9,1124.8 495.4,1125.2 496.8,1124.9 498.3,1127.9 500,1125.8 501.7,1129.5 503.5,1128.3 505.2,1130.4 506.9,1131.4 508.6,1132 510.3,1133.5 512,1135.5 513.8,1135.2 515.5,1138.3 517.2,1140.2 518.9,1139.7 520.6,1143.3 522.3,1144.9 524.1,1144.1 525.8,1148 527.5,1150.8 529.5,1149.1 531.4,1150.8 533.4,1149.9 535.3,1149.7 537.3,1153.6 539.3,1154.1 541.2,1154.6 543.2,1155.6 545.1,1157.3 547.1,1159.3 549,1158.7 551,1158.3 553,1162 554.9,1163.1 556.9,1161.7 558.8,1162 560.8,1167.5 562,1164.9 563.3,1163.4 564.5,1163.3 565.7,1164.8 566.9,1168.3 568.2,1166.4 569.4,1168.8 570.6,1168.1 571.9,1166.9 573.1,1167.9 574.3,1171 575.6,1171.6 576.8,1169.5 578,1172.4 579.2,1171.7 580.5,1172.6 581.7,1175.8 582.8,1175.8 583.9,1177 585,1176.9 586.1,1178.9 587.2,1180.2 588.3,1179.1 589.4,1178.8 590.5,1178.8 591.6,1182.6 592.7,1183.2 593.8,1184.6 594.9,1184.5 596,1185.6 597.1,1184.7 598.2,1187.5 599.3,1190.4 600.4,1192.5 600.4,1196.2 600.4,1196.6 600.4,1198.9 600.4,1198 600.4,1198.2 600.4,1196.7 600.4,1197.8 600.4,1196.8 600.4,1199.2 600.4,1198.9 600.4,1197.1 600.4,1197.2 600.4,1198.1 600.4,1200.4 600.4,1198.4 600.4,1200.7 600.4,1196.7 598.8,1201.7 597.2,1201.1 595.6,1202.2 594,1205.9 592.4,1206.3 590.8,1210.6 589.2,1210.9 587.6,1211.3 586.1,1214.8 584.5,1213 582.9,1217 581.3,1215.9 579.7,1217 578.1,1222.5 576.5,1223.7 574.9,1222.8 573.3,1221.7 572.1,1227.5 570.9,1229.2 569.6,1227 568.4,1229.5 567.2,1229.5 566,1229.6 564.7,1230.8 563.5,1233.3 562.3,1233.4 561.1,1234.3 559.8,1234 558.6,1238.1 557.4,1239.1 556.2,1240.8 554.9,1240.2 553.7,1242.8 552.5,1238.3 551,1243.8 549.6,1246.6 548.1,1246.9 546.6,1246.7 545.1,1247.5 543.7,1249.8 542.2,1250.9 540.7,1256.7 539.3,1257.6 537.8,1260.5 536.3,1258.7 534.9,1261.7 533.4,1266 531.9,1267.1 530.4,1267.6 529,1269.2 527.5,1267.5 525.8,1269.8 524.1,1272.1 522.3,1273.8 520.6,1277.6 518.9,1275.9 517.2,1276.8 515.5,1278.1 513.8,1278.7 512,1280.4 510.3,1281.5 508.6,1283.9 506.9,1283.2 505.2,1288.4 503.5,1288 501.7,1291.6 500,1292.3 498.3,1288.3 496.3,1295 494.4,1293 492.4,1296 490.5,1295.9 488.5,1298.7 486.5,1300.6 484.6,1299.2 482.6,1299.8 480.7,1300 478.7,1301.9 476.8,1302.6 474.8,1305.3 472.8,1309.9 470.9,1309 468.9,1309.4 467,1311.1 465,1309.2 463.3,1314.9 461.6,1313.4 459.8,1314 458.1,1317.1 456.4,1320 454.7,1320.1 453,1319.7 451.3,1323 449.5,1319.8 447.8,1319.8 446.1,1324.1 444.4,1324.2 442.7,1323.1 441,1326 439.2,1329.8 437.5,1329.2 435.8,1325.8 433.8,1327.5 431.9,1332.9 429.9,1333.4 428,1336.6 426,1334 424,1335 422.1,1335.2 420.1,1337.9 418.2,1337.8 416.2,1339.7 414.3,1341.9 412.3,1342.9 410.3,1342.7 408.4,1343.5 406.4,1349.3 404.5,1347.9 402.5,1346.7 400.8,1351 399.1,1350.1 397.3,1351.6 395.6,1351.8 393.9,1354.7 392.2,1358.1 390.5,1358.2 388.8,1360.2 387,1358.3 385.3,1357.4 383.6,1360.4 381.9,1361.8 380.2,1363.3 378.5,1363.4 376.7,1365.4 375,1367.2 373.3,1363.3 372.1,1366.8 370.9,1369.8 369.6,1368.1 368.4,1367.6 367.2,1369 366,1368.7 364.7,1372.7 363.5,1374.6 362.3,1373.1 361.1,1372.3 359.8,1372.3 358.6,1373.6 357.4,1373.7 356.2,1376 354.9,1378 353.7,1377.4 352.5,1375.8 352.3,1376.8 352.1,1376.6 352,1376.8 351.8,1377.1 351.6,1375.6 351.4,1376.6 351.2,1376.2 351,1378 350.9,1377.4 350.7,1378.7 350.5,1377.7 350.3,1377.7 350.1,1376.6 349.9,1375.4 349.8,1376.8 349.6,1376.1 349.4,1371 348.1,1374.6 346.7,1371.6 345.4,1372.7 344,1370.2 342.7,1367.4 341.3,1365.5 340,1364.7 338.6,1364.2 337.3,1365.4 335.9,1363 334.6,1360.5 333.2,1362.5 331.9,1361.3 330.5,1357.5 329.2,1355.8 327.8,1354.9 326.5,1353 324.9,1358.5 323.3,1356.8 321.6,1354 320,1353.8 318.4,1353 316.8,1352.2 315.2,1350 313.6,1351.9 311.9,1353.3 310.3,1352.8 308.7,1349.1 307.1,1349.8 305.5,1347.8 303.9,1349.6 302.2,1348.4 300.6,1350.1 299,1343.8 297.9,1344.9 296.8,1347.6 295.8,1345.7 294.7,1344.5 293.6,1343.7 292.5,1344.6 291.4,1345.3 290.3,1343 289.3,1344 288.2,1342 287.1,1338.4 286,1340.5 284.9,1338.6 283.8,1335.7 282.8,1339.1 281.7,1334.8 280.6,1332.4 279.4,1337.2 278.2,1335.1 277,1333.3 275.8,1332.8 274.5,1332 273.3,1333.3 272.1,1332.4 270.9,1333.8 269.7,1331.4 268.5,1330.9 267.3,1330 266.1,1333.1 264.8,1333 263.6,1332.8 262.4,1331.2 261.2,1329.4 260,1325.5 258.8,1328.7 257.6,1325.7 256.4,1325.1 255.2,1324.2 253.9,1326.7 252.7,1328 251.5,1324.4 250.3,1326 249.1,1323.7 247.9,1324.5 246.7,1325.2 245.5,1323.8 244.2,1324 243,1321.5 241.8,1318.5 240.6,1319.8 239.4,1316.3 238.5,1318 237.5,1317.5 236.6,1315.5 235.6,1316 234.7,1316.1 233.7,1316.2 232.8,1317 231.8,1315.4 230.9,1317.4 229.9,1316.8 229,1316.8 228,1315.3 227.1,1314.3 226.1,1313 225.2,1313.6 224.2,1311.1 223.3,1307.2 222.4,1310.2 221.4,1308.4 220.5,1306.3 219.5,1305.3 218.6,1305.8 217.7,1306.7 216.7,1307.4 215.8,1306.9 214.8,1304.2 213.9,1306 212.9,1302.8 212,1303.6 211.1,1300.1 210.1,1302 209.2,1301.7 208.2,1302.6 207.3,1295.7 206.2,1300.6 205.1,1300.2 204.1,1299.2 203,1296.5 201.9,1297 200.8,1298.8 199.8,1295.7 198.7,1298.2 197.6,1296.5 196.5,1295 195.5,1292.2 194.4,1293.1 193.3,1292 192.2,1293.8 191.2,1295.3 190.1,1295.5 189,1288.8 188.1,1289.4 187.1,1291.5 186.2,1291.1 185.2,1291.4 184.3,1289.4 183.3,1291.1 182.4,1287.8 181.4,1286.9 180.5,1286 179.5,1287.2 178.6,1288.6 177.6,1284.9 176.7,1285.8 175.7,1286.4 174.8,1283.4 173.8,1281.3 172.9,1279.7 171.8,1284.7 170.7,1283.7 169.7,1281.4 168.6,1280.3 167.5,1280 166.4,1281.3 165.4,1278.2 164.3,1276.7 163.2,1277.4 162.1,1278.9 161.1,1275 160,1272.6 158.9,1271.8 157.8,1273.3 156.8,1273.5 155.7,1271 154.6,1268.2 153,1271.7 151.4,1271.6 149.7,1271.3 148.1,1267.4 146.5,1267.8 144.9,1269.3 143.3,1269.9 141.7,1266.3 140,1267.5 138.4,1266.3 136.8,1267 135.2,1263.1 133.6,1263.9 132,1264.4 130.3,1262.2 128.7,1259.2 127.1,1256.8 126,1256.6 124.9,1256 123.9,1257.5 122.8,1254.8 121.7,1256.6 120.6,1256.5 119.6,1256.2 118.5,1255.4 117.4,1254.1 116.3,1254.2 115.3,1253.7 114.2,1251.3 113.1,1251.7 112,1246.8 111,1244.7 109.9,1243.3 108.8,1241.7 107.9,1244.7 106.9,1246.1 106,1247 105,1243.9 104.1,1244.7 103.1,1245.7 102.2,1245.2 101.2,1243.8 100.3,1245.8 99.3,1245.4 98.4,1246.9 97.4,1246.4 96.5,1248.7 95.5,1249.3 94.6,1245.2 93.6,1247.5 92.7,1243 91.6,1243.4 90.5,1244.4 89.5,1243.6 88.4,1244.8 87.3,1245.6 86.2,1242.7 85.2,1240.8 84.1,1240.9 83,1241.4 81.9,1241.6 80.9,1240.1 79.8,1237.7 78.7,1236.8 77.6,1238.6 76.6,1237 75.5,1233.7 74.4,1231.5 73.5,1234.5 72.5,1231.6 71.6,1231.2 70.6,1229.8 69.7,1230.8 68.7,1233.1 67.8,1231.1 66.8,1229.3 65.9,1231 64.9,1226.8 64,1226.4 63,1228.1 62.1,1224 61.1,1226.2 60.2,1224.3 59.2,1221.5 58.3,1219.8 58.3,1222.4 58.4,1223.2 58.4,1221.1 58.4,1221.3 58.4,1225.2 58.5,1223.7 58.5,1223.4 58.5,1221.4 58.6,1221.8 58.6,1225.3 58.6,1225 58.7,1224 58.7,1221.4 58.7,1222.4 58.7,1224.6 58.8,1223.6 58.8,1220"/></clipPath><path id="cn5a0" d="M-2.5,0 Q0,-1.8 0,-6 Q0,-1.8 2.5,0 Z" fill="url(#cone)" opacity="0.55"/><path id="cn5b0" d="M-2.5,0 Q0,-1.8 0,-6 Q0,-1.8 2.5,0 Z" fill="url(#cone2)" opacity="0.55"/><path id="cn5a1" d="M-3.6,0 Q0,-2.5 0,-8.3 Q0,-2.5 3.6,0 Z" fill="url(#cone)" opacity="0.55"/><path id="cn5b1" d="M-3.6,0 Q0,-2.5 0,-8.3 Q0,-2.5 3.6,0 Z" fill="url(#cone2)" opacity="0.55"/><path id="cn5a2" d="M-4.6,0 Q0,-3.2 0,-10.6 Q0,-3.2 4.6,0 Z" fill="url(#cone)" opacity="0.55"/><path id="cn5b2" d="M-4.6,0 Q0,-3.2 0,-10.6 Q0,-3.2 4.6,0 Z" fill="url(#cone2)" opacity="0.55"/><path id="cn5a3" d="M-2.9,0 Q0,-3.9 0,-12.9 Q0,-3.9 2.9,0 Z" fill="url(#cone)" opacity="0.55"/><path id="cn5b3" d="M-2.9,0 Q0,-3.9 0,-12.9 Q0,-3.9 2.9,0 Z" fill="url(#cone2)" opacity="0.55"/><path id="cn5a4" d="M-3.9,0 Q0,-4.5 0,-15.1 Q0,-4.5 3.9,0 Z" fill="url(#cone)" opacity="0.55"/><path id="cn5b4" d="M-3.9,0 Q0,-4.5 0,-15.1 Q0,-4.5 3.9,0 Z" fill="url(#cone2)" opacity="0.55"/><path id="cn5a5" d="M-5,0 Q0,-5.2 0,-17.4 Q0,-5.2 5,0 Z" fill="url(#cone)" opacity="0.55"/><path id="cn5b5" d="M-5,0 Q0,-5.2 0,-17.4 Q0,-5.2 5,0 Z" fill="url(#cone2)" opacity="0.55"/><path id="cn5a6" d="M-3.2,0 Q0,-5.9 0,-19.7 Q0,-5.9 3.2,0 Z" fill="url(#cone)" opacity="0.55"/><path id="cn5b6" d="M-3.2,0 Q0,-5.9 0,-19.7 Q0,-5.9 3.2,0 Z" fill="url(#cone2)" opacity="0.55"/><path id="cn5a7" d="M-4.3,0 Q0,-6.6 0,-22 Q0,-6.6 4.3,0 Z" fill="url(#cone)" opacity="0.55"/><path id="cn5b7" d="M-4.3,0 Q0,-6.6 0,-22 Q0,-6.6 4.3,0 Z" fill="url(#cone2)" opacity="0.55"/><clipPath id="afmclip8"><polygon points="710.9,1205.4 712.4,1199.9 713.8,1201.2 715.3,1198.3 716.8,1199.2 718.2,1198 719.7,1193.6 721.2,1194.8 722.6,1192.5 724.1,1191.7 725.5,1190.7 727,1189.4 728.5,1189.4 729.9,1185.9 731.4,1187.1 732.9,1186 734.3,1185.8 735.8,1185.1 737.7,1179.7 739.5,1180.1 741.4,1180.6 743.2,1179.4 745.1,1175.2 747,1177.1 748.8,1174.5 750.7,1174.1 752.5,1172 754.4,1172 756.2,1169.7 758.1,1169.1 760,1167.6 761.8,1165.3 763.7,1165.2 765.5,1166.3 767.4,1167 769.3,1162.4 771.1,1162.6 773,1158.5 774.8,1157.9 776.7,1156.2 778.6,1154.1 780.4,1155 782.3,1154.1 784.1,1150.7 786,1151.8 787.8,1148.6 789.7,1149.5 791.6,1146.4 793.4,1144.4 795.3,1141.9 797.1,1140.6 799,1144.4 800.9,1141.9 802.7,1138.7 804.6,1136.7 806.4,1136.9 808.3,1132.3 810.2,1131.5 812,1129.3 813.9,1129.6 815.7,1128.4 817.6,1128 819.4,1125.3 821.3,1123.7 823.2,1121.5 825,1119.9 826.9,1116.4 828.7,1114 830.6,1117.4 832.5,1114.9 834.3,1111.6 836.2,1108.4 838,1109.7 839.9,1106.8 841.8,1107 843.6,1107.3 845.5,1103.3 847.3,1103 849.2,1102.7 851,1100.5 852.9,1099.8 854.8,1097.9 856.6,1096.2 858.5,1094.9 860.3,1092.9 862.2,1094.8 863.8,1093.3 865.4,1092.1 867,1089.2 868.6,1088.3 870.1,1085.4 871.7,1085.1 873.3,1083.4 874.9,1081 876.5,1083.4 878.1,1083.5 879.7,1082.3 881.3,1080.2 882.8,1078 884.4,1075.9 886,1076.1 887.6,1072.9 889.2,1076.7 890.5,1073.4 891.9,1069.8 893.2,1071.3 894.5,1066.9 895.8,1065.5 897.2,1063.2 898.5,1063.3 899.8,1064.1 901.2,1060.1 902.5,1060.2 903.8,1060.8 905.2,1057.9 906.5,1056.5 907.8,1055.3 909.1,1055.3 910.5,1054.6 911.8,1054.2 913.4,1052.3 915,1050.4 916.6,1048.1 918.2,1046.9 919.8,1047 921.4,1046.8 923,1046.3 924.6,1046.2 926.1,1045.7 927.7,1043.9 929.3,1044.3 930.9,1041.2 932.5,1039.8 934.1,1039.2 935.7,1041 937.3,1039.5 938.9,1040.6 940.5,1036 942.1,1035.4 943.7,1036 945.3,1035 946.9,1036.6 948.5,1036.7 950.1,1035.2 951.7,1033.5 953.2,1033.2 954.8,1035.5 956.4,1033.3 958,1031.2 959.6,1030.9 961.2,1029.8 962.8,1029 964.4,1031.6 966,1033.9 967.6,1029.8 969.2,1032.2 970.8,1031 972.4,1031.5 974,1033.5 975.6,1034.1 977.2,1033.4 978.8,1034.3 980.3,1037.1 981.9,1036.1 983.5,1039 985.1,1039.6 986.7,1037.8 988.3,1038.2 989.9,1041 991.5,1042.4 993.1,1045.1 994.7,1042.5 996.3,1042.6 997.9,1044.5 999.5,1045.6 1001,1047.8 1002.6,1050.4 1004.2,1051.8 1005.8,1052.9 1007.4,1054 1009,1054 1010.6,1057.3 1012.2,1060 1013.7,1059 1015.3,1061.6 1016.9,1062.6 1018.5,1065.2 1020.1,1067.7 1022.2,1067.2 1024.4,1066 1026.5,1067.6 1028.6,1069.8 1030.7,1068.6 1032.9,1071 1035,1072.7 1037.1,1071.4 1039.3,1072.5 1041.4,1073.8 1043.5,1077 1045.7,1076.3 1047.8,1077.8 1049.9,1078 1052,1080.7 1054.2,1080.6 1056.3,1085.8 1058.4,1083.6 1060.5,1083.7 1062.7,1083.5 1064.8,1084.5 1066.9,1086.1 1069,1090.1 1071.2,1090 1073.3,1090.4 1075.4,1093.8 1077.5,1094 1079.7,1093.1 1081.8,1093.4 1083.9,1094.1 1086,1098.6 1088.2,1098.5 1090.3,1098.2 1092.4,1103.8 1094.5,1104.3 1096.6,1101.9 1098.8,1102.2 1100.9,1103.9 1103,1106.3 1105.1,1105.9 1107.3,1106.5 1109.4,1107.9 1111.5,1109.5 1113.6,1111.9 1115.8,1113.5 1117.9,1114.5 1120,1115.6 1122.1,1115.9 1124.3,1118.5 1126.4,1117.4 1128.5,1121.9 1130.6,1121.7 1132.7,1122 1134.9,1122.7 1137,1122.1 1139.1,1125.6 1141.2,1126.8 1143.4,1127.7 1145.5,1129.1 1147.6,1127.9 1149.7,1131 1151.9,1132.9 1154,1132.1 1156.1,1131.8 1158.2,1132.1 1160.4,1134 1162.5,1136.3 1164.6,1139.9 1166.2,1137.8 1167.8,1138.3 1169.4,1137.4 1171,1137.4 1172.6,1138.3 1174.2,1142.5 1175.8,1143.5 1177.4,1144 1178.9,1145.7 1180.5,1144.3 1182.1,1147.4 1183.7,1145.4 1185.3,1146.6 1186.9,1147.4 1188.5,1149.1 1190.1,1147.9 1191.7,1153.5 1193.6,1149.3 1195.4,1150.7 1197.3,1150.4 1199.1,1153 1201,1154.8 1202.9,1153.9 1204.7,1155.5 1206.6,1157.5 1208.4,1157.1 1210.3,1158.4 1212.1,1160.8 1214,1159.1 1215.9,1160.5 1217.7,1159.6 1219.6,1161.7 1221.4,1161.1 1223.3,1167 1224.9,1165.4 1226.5,1164.9 1228.1,1165.1 1229.7,1166.6 1231.3,1169.9 1232.9,1170.4 1234.5,1172.7 1236.1,1172.6 1237.6,1170.9 1239.2,1173.5 1240.8,1173.4 1242.4,1174.4 1244,1177.4 1245.6,1176.6 1247.2,1179.6 1248.8,1180.7 1250.4,1182.8 1250.4,1188 1250.5,1186.7 1250.5,1187.5 1250.5,1189.5 1250.6,1185.8 1250.6,1189.3 1250.6,1185.6 1250.7,1187.4 1250.7,1188.4 1250.8,1190.4 1250.8,1187.9 1250.8,1190.2 1250.9,1189.5 1250.9,1188.5 1250.9,1186.8 1251,1186.7 1251,1185 1249.9,1188 1248.9,1191 1247.8,1190.1 1246.7,1191.6 1245.7,1189.5 1244.6,1189.8 1243.5,1193.2 1242.5,1195.5 1241.4,1193.7 1240.4,1192.2 1239.3,1193.2 1238.2,1194.5 1237.2,1195.4 1236.1,1197.1 1235,1196.7 1234,1198.7 1232.9,1195.3 1232.5,1200.5 1232.1,1200.4 1231.6,1198.9 1231.2,1201.6 1230.8,1199.9 1230.4,1202.4 1229.9,1201.3 1229.5,1202.2 1229.1,1202 1228.7,1202.9 1228.2,1201.8 1227.8,1202.9 1227.4,1204.3 1227,1203 1226.5,1204.1 1226.1,1203.9 1225.7,1200.7 1225.2,1204.7 1224.6,1206.5 1224.1,1204.9 1223.6,1204.7 1223.1,1208.4 1222.5,1206.3 1222,1209.7 1221.5,1211 1220.9,1209.1 1220.4,1211.1 1219.9,1210.2 1219.3,1213.5 1218.8,1211.5 1218.3,1210.9 1217.8,1210.8 1217.2,1214.7 1216.7,1211.5 1216,1217.4 1215.2,1217.9 1214.5,1218.4 1213.7,1218.1 1213,1218.8 1212.2,1216.1 1211.5,1219.8 1210.7,1218.8 1210,1221.5 1209.2,1220.5 1208.5,1223.1 1207.7,1219.6 1207,1223.9 1206.2,1221.1 1205.5,1222.7 1204.7,1223.5 1204,1220.6 1202.9,1227.1 1201.9,1227.8 1200.8,1225.9 1199.8,1224.3 1198.7,1224 1197.6,1227.1 1196.6,1229.6 1195.5,1229.1 1194.5,1227.7 1193.4,1228.8 1192.4,1229.8 1191.3,1228.3 1190.2,1230.4 1189.2,1228.8 1188.1,1227.8 1187.1,1227.9 1186,1227.8 1185.7,1230.7 1185.4,1231.9 1185,1234.3 1184.7,1233.4 1184.4,1234.9 1184.1,1236.3 1183.8,1236.3 1183.5,1235.8 1183.1,1238.6 1182.8,1240 1182.5,1238.3 1182.2,1241.5 1181.9,1242.2 1181.6,1244 1181.2,1244.6 1180.9,1243.9 1180.6,1240.4 1179.5,1244.8 1178.5,1243.2 1177.4,1244.5 1176.3,1246.2 1175.3,1249 1174.2,1249.3 1173.1,1251 1172.1,1251.7 1171,1252.9 1170,1252 1168.9,1252.1 1167.8,1251.9 1166.8,1251 1165.7,1254.1 1164.6,1254.5 1163.6,1252.8 1162.5,1251.3 1161.6,1255.9 1160.8,1256.8 1159.9,1255.5 1159.1,1258 1158.2,1258.6 1157.4,1257.7 1156.5,1258.8 1155.7,1262.3 1154.8,1259.5 1154,1259.6 1153.1,1261.9 1152.3,1264.2 1151.4,1265.8 1150.6,1264.1 1149.7,1265.9 1148.9,1263.6 1148,1262.1 1146.9,1267.4 1145.9,1267 1144.8,1268.1 1143.8,1268.4 1142.7,1269.2 1141.6,1271.6 1140.6,1273.2 1139.5,1270.2 1138.5,1272.6 1137.4,1274.7 1136.4,1274.1 1135.3,1273.8 1134.2,1273.5 1133.2,1274.4 1132.1,1275.7 1131.1,1276.6 1130,1273 1129.3,1276.6 1128.5,1278.1 1127.8,1277.3 1127,1279.8 1126.3,1278.2 1125.6,1279.6 1124.8,1280.8 1124.1,1281.3 1123.3,1282.8 1122.6,1282.2 1121.8,1284.1 1121.1,1286.8 1120.4,1287.3 1119.6,1289.7 1118.9,1290.8 1118.1,1289.3 1117.4,1285.6 1116,1291.8 1114.6,1291.3 1113.3,1292.2 1111.9,1293 1110.5,1292.8 1109.1,1293.2 1107.7,1293.2 1106.3,1293.9 1105,1294.7 1103.6,1297 1102.2,1294.9 1100.8,1294.5 1099.4,1298.9 1098,1298.6 1096.7,1299.9 1095.3,1301.8 1093.9,1296.4 1092.8,1302.7 1091.8,1302.5 1090.7,1302 1089.6,1301 1088.6,1301 1087.5,1304.6 1086.4,1306.7 1085.4,1305 1084.3,1305.8 1083.3,1307.3 1082.2,1307.8 1081.1,1306.7 1080.1,1310.1 1079,1309.7 1077.9,1310.9 1076.9,1311.5 1075.8,1307.2 1074.8,1309.9 1073.9,1311.8 1072.9,1313.4 1072,1314.2 1071,1313.2 1070.1,1312.8 1069.1,1312.7 1068.2,1313.2 1067.2,1314.1 1066.3,1316.4 1065.3,1317.9 1064.4,1319.5 1063.4,1319.1 1062.5,1321 1061.5,1318.4 1060.6,1319.6 1059.6,1318 1058.9,1322.8 1058.1,1324.4 1057.4,1325 1056.6,1325.6 1055.9,1326.4 1055.2,1326.4 1054.4,1327.6 1053.7,1330.3 1052.9,1332.3 1052.2,1331.4 1051.4,1335.7 1050.7,1333.7 1050,1334.4 1049.2,1337.1 1048.5,1338.1 1047.7,1340.2 1047,1338 1045.6,1343.6 1044.2,1343.3 1042.9,1344.8 1041.5,1344.4 1040.1,1343.4 1038.7,1343.3 1037.3,1344.4 1035.9,1346.5 1034.6,1346.8 1033.2,1348.9 1031.8,1350.6 1030.4,1352.8 1029,1350.2 1027.6,1354 1026.3,1350.8 1024.9,1354.8 1023.5,1350.6 1022.8,1355.8 1022,1355.8 1021.3,1356.5 1020.5,1358.7 1019.8,1360.2 1019,1357.8 1018.3,1357.2 1017.5,1360.9 1016.8,1360.9 1016,1362.9 1015.3,1360.5 1014.5,1363.4 1013.8,1361.2 1013,1360.9 1012.3,1362 1011.5,1366 1010.8,1361.4 1010.6,1363.6 1010.3,1362.6 1010.1,1364.3 1009.8,1365.1 1009.6,1364.7 1009.3,1366.6 1009.1,1365.1 1008.8,1368.2 1008.6,1368.8 1008.3,1367.4 1008.1,1364.7 1007.8,1366.2 1007.6,1367.1 1007.3,1367.6 1007.1,1366.7 1006.8,1368 1006.6,1363.4 1005.5,1364.3 1004.5,1366.1 1003.4,1366.4 1002.4,1365.8 1001.3,1367.3 1000.2,1363 999.2,1361.3 998.1,1364.1 997.1,1361.5 996,1360.6 995,1363.5 993.9,1361.8 992.8,1363.6 991.8,1363.5 990.7,1362.4 989.7,1360.3 988.6,1356.6 986.7,1361.7 984.9,1361.4 983,1358.7 981.2,1356.2 979.3,1356.6 977.4,1355.1 975.6,1353 973.7,1351.4 971.9,1351.9 970,1350.1 968.2,1349.7 966.3,1352.5 964.4,1352.6 962.6,1351.8 960.7,1349.2 958.9,1349.1 957,1343.1 954.9,1348.1 952.7,1347.2 950.6,1347.4 948.5,1345.1 946.4,1342.2 944.2,1339.3 942.1,1339.2 940,1341.4 937.8,1340 935.7,1339.5 933.6,1339.7 931.4,1336.6 929.3,1334.3 927.2,1336.9 925.1,1335.6 922.9,1331.8 920.8,1329.5 918.7,1333.4 916.6,1329.5 914.4,1328.3 912.3,1329.5 910.2,1328.9 908.1,1326.3 905.9,1327.9 903.8,1324.3 901.7,1325.4 899.6,1321.2 897.4,1320.9 895.3,1322.7 893.2,1321 891.1,1320.1 888.9,1319.7 886.8,1317.5 884.7,1311.5 882.3,1314.1 879.9,1314.8 877.5,1313.1 875.1,1307.9 872.8,1306.8 870.4,1308.6 868,1304.3 865.6,1301.6 863.2,1302.7 860.8,1302.6 858.4,1303.2 856,1302.3 853.7,1299.4 851.3,1298 848.9,1295.8 846.5,1295.8 844.1,1288.9 842,1291.2 839.9,1288 837.7,1287.8 835.6,1286.9 833.5,1288.9 831.4,1285.2 829.2,1284.2 827.1,1284 825,1281.4 822.9,1281.2 820.7,1279.6 818.6,1280.5 816.5,1280.4 814.4,1278.5 812.2,1278.7 810.1,1276.1 808,1270.8 805.6,1271.6 803.2,1270.4 800.8,1272 798.4,1269.6 796.1,1267.3 793.7,1267.2 791.3,1267.6 788.9,1266.2 786.5,1264.7 784.1,1262.7 781.7,1261.8 779.3,1259.4 777,1256.9 774.6,1254.9 772.2,1253 769.8,1252 767.4,1248.3 765.8,1250 764.2,1249.4 762.6,1248 761,1248.2 759.4,1245.5 757.8,1247 756.2,1248.1 754.6,1248.1 753.1,1244.8 751.5,1242.3 749.9,1243.8 748.3,1243.8 746.7,1240.4 745.1,1238.2 743.5,1240 741.9,1238.5 740.3,1234.7 738.7,1238.7 737.1,1234.3 735.5,1232.7 733.9,1230.2 732.3,1231.8 730.7,1228.3 729.1,1230.2 727.5,1228.6 726,1226.7 724.4,1224 722.8,1225.3 721.2,1220.9 719.6,1221.1 718,1221.4 716.4,1219.7 714.8,1215.2 713.2,1212.2 713.1,1215.9 712.9,1213.3 712.8,1216.4 712.7,1216.7 712.5,1214.9 712.4,1215.6 712.3,1214.4 712.1,1211.3 712,1211.3 711.8,1209.1 711.7,1210.3 711.6,1213.1 711.4,1210.8 711.3,1211.1 711.2,1209.4 711,1210.1 710.9,1205.4"/></clipPath><path id="cn8a0" d="M-1.5,0 Q0,-0.9 0,-3 Q0,-0.9 1.5,0 Z" fill="url(#cone)" opacity="0.55"/><path id="cn8b0" d="M-1.5,0 Q0,-0.9 0,-3 Q0,-0.9 1.5,0 Z" fill="url(#cone2)" opacity="0.55"/><path id="cn8a1" d="M-2.4,0 Q0,-1.2 0,-4 Q0,-1.2 2.4,0 Z" fill="url(#cone)" opacity="0.55"/><path id="cn8b1" d="M-2.4,0 Q0,-1.2 0,-4 Q0,-1.2 2.4,0 Z" fill="url(#cone2)" opacity="0.55"/><path id="cn8a2" d="M-3.2,0 Q0,-1.5 0,-5 Q0,-1.5 3.2,0 Z" fill="url(#cone)" opacity="0.55"/><path id="cn8b2" d="M-3.2,0 Q0,-1.5 0,-5 Q0,-1.5 3.2,0 Z" fill="url(#cone2)" opacity="0.55"/><path id="cn8a3" d="M-1.8,0 Q0,-1.8 0,-6 Q0,-1.8 1.8,0 Z" fill="url(#cone)" opacity="0.55"/><path id="cn8b3" d="M-1.8,0 Q0,-1.8 0,-6 Q0,-1.8 1.8,0 Z" fill="url(#cone2)" opacity="0.55"/><path id="cn8a4" d="M-2.6,0 Q0,-2.1 0,-7 Q0,-2.1 2.6,0 Z" fill="url(#cone)" opacity="0.55"/><path id="cn8b4" d="M-2.6,0 Q0,-2.1 0,-7 Q0,-2.1 2.6,0 Z" fill="url(#cone2)" opacity="0.55"/><path id="cn8a5" d="M-3.5,0 Q0,-2.4 0,-8 Q0,-2.4 3.5,0 Z" fill="url(#cone)" opacity="0.55"/><path id="cn8b5" d="M-3.5,0 Q0,-2.4 0,-8 Q0,-2.4 3.5,0 Z" fill="url(#cone2)" opacity="0.55"/><path id="cn8a6" d="M-2.1,0 Q0,-2.7 0,-9 Q0,-2.7 2.1,0 Z" fill="url(#cone)" opacity="0.55"/><path id="cn8b6" d="M-2.1,0 Q0,-2.7 0,-9 Q0,-2.7 2.1,0 Z" fill="url(#cone2)" opacity="0.55"/><path id="cn8a7" d="M-2.9,0 Q0,-3 0,-10 Q0,-3 2.9,0 Z" fill="url(#cone)" opacity="0.55"/><path id="cn8b7" d="M-2.9,0 Q0,-3 0,-10 Q0,-3 2.9,0 Z" fill="url(#cone2)" opacity="0.55"/></defs>
<rect width="1440" height="1436" fill="#fff"/>
<circle cx="189.5" cy="177" r="100" fill="url(#glow1)"/>
<polyline points="185.8,93.1 185.8,91.6 185.9,90.1 186.1,88.7 186.2,87.2 186.3,85.7 186.3,84.3 186.2,82.8 185.9,81.3 185.4,79.9 184.7,78.4 184.1,77 183.4,75.6 183,74.1 182.9,72.7 183,71.2 183.3,69.7 183.8,68.2 184.4,66.7 185,65.2 185.7,63.7 186.2,62.2 186.5,60.8 186.5,59.3 186.4,57.8 185.9,56.4 185.3,54.9 184.6,53.5 183.8,52.1 183,50.6 182.3,49.2 181.8,47.7 181.5,46.3 181.5,44.8 181.8,43.3 182.3,41.9 182.9,40.4 183.6,38.9 184.3,37.4 184.9,35.9 185.4,34.4 185.6,32.9 185.5,31.4 185.1,30 184.6,28.5 183.8,27.1 182.9,25.7 182,24.2 181.2,22.8 180.6,21.4 180.2,19.9 180.1,18.5 180.3,17 180.7,15.5 181.4,14 182.1,12.5 182.9,11 183.6,9.5 184.2,8 184.5,6.5 184.6,5.1" fill="none" stroke="url(#chaing)" stroke-width="1.45" />
<polyline points="200.5,93.7 200.8,92.3 201.2,90.9 201.5,89.4 201.7,88 201.8,86.5 201.8,85 201.6,83.5 201.4,82 201.1,80.5 200.8,79 200.7,77.5 200.8,76 201.3,74.6 202,73.2 202.8,71.8 203.7,70.5 204.6,69.1 205.4,67.7 206,66.3 206.4,64.9 206.6,63.5 206.5,62 206.2,60.5 205.8,58.9 205.2,57.4 204.7,55.8 204.2,54.3 203.9,52.8 203.8,51.3 204,49.8 204.4,48.4 205.1,47 205.9,45.6 206.8,44.3 207.8,42.9 208.7,41.5 209.4,40.2 210,38.8 210.3,37.3 210.3,35.8 210,34.3 209.6,32.8 209,31.2 208.4,29.7 207.8,28.1 207.4,26.6 207.2,25.1 207.2,23.6 207.5,22.2 208.1,20.8 208.9,19.4 209.9,18 211,16.7 212,15.3 212.8,14 213.5,12.6 213.9,11.2 214,9.7 213.9,8.2 213.4,6.7" fill="none" stroke="url(#chaing)" stroke-width="1.45" />
<polyline points="214.8,96.9 215.3,95.5 215.8,94.1 216.2,92.7 216.5,91.3 216.7,89.8 216.8,88.3 216.9,86.8 217,85.3 217.3,83.9 217.8,82.5 218.4,81.1 219.3,79.9 220.4,78.7 221.5,77.5 222.6,76.3 223.5,75 224.2,73.7 224.7,72.3 225,70.9 225,69.4 224.9,67.8 224.7,66.2 224.4,64.6 224.2,63 224.1,61.4 224.2,59.9 224.6,58.5 225.1,57.1 225.9,55.8 226.9,54.6 228,53.4 229.2,52.2 230.4,51.1 231.4,49.8 232.2,48.6 232.8,47.2 233.2,45.8 233.3,44.3 233.2,42.7 233,41.1 232.6,39.5 232.3,37.8 232.1,36.2 232.1,34.7 232.3,33.2 232.8,31.8 233.5,30.5 234.5,29.3 235.6,28.1 236.8,27 238.1,25.8 239.2,24.6 240.2,23.4 240.9,22.1 241.4,20.7 241.6,19.2 241.5,17.7 241.3,16.1 240.9,14.4 240.5,12.7" fill="none" stroke="url(#chaing)" stroke-width="1.45" />
<polyline points="228.3,102.5 229,101.2 229.6,99.9 230.1,98.5 230.5,97 231,95.6 231.5,94.2 232.1,92.9 232.8,91.6 233.7,90.4 234.8,89.4 236,88.3 237.3,87.3 238.5,86.3 239.5,85.2 240.3,83.9 240.9,82.6 241.3,81.1 241.5,79.6 241.6,78 241.6,76.4 241.7,74.7 241.8,73.2 242.1,71.7 242.6,70.3 243.3,69 244.3,67.8 245.4,66.7 246.6,65.8 248,64.8 249.3,63.8 250.6,62.8 251.7,61.8 252.6,60.6 253.3,59.3 253.8,57.9 254,56.4 254.1,54.8 254.1,53.1 254.1,51.4 254.1,49.8 254.3,48.2 254.7,46.8 255.3,45.4 256.1,44.2 257.2,43.2 258.5,42.2 259.9,41.2 261.3,40.3 262.7,39.4 263.9,38.4 264.9,37.2 265.7,36 266.3,34.6 266.6,33.1 266.7,31.5 266.6,29.8 266.5,28.1 266.5,26.5 266.5,24.8 266.8,23.3" fill="none" stroke="url(#chaing)" stroke-width="1.45" />
<polyline points="240.6,110.4 241.4,109.1 242.2,107.9 242.9,106.6 243.7,105.3 244.6,104.1 245.5,103 246.6,102 247.8,101.1 249.1,100.2 250.5,99.4 251.8,98.6 252.9,97.6 253.8,96.5 254.6,95.2 255.1,93.7 255.5,92.2 255.9,90.6 256.2,89 256.6,87.5 257.1,86 257.7,84.7 258.6,83.5 259.6,82.4 260.9,81.5 262.2,80.7 263.7,80 265.2,79.3 266.6,78.5 268,77.7 269.1,76.8 270.1,75.7 270.9,74.4 271.5,73 271.9,71.5 272.2,69.9 272.5,68.2 272.8,66.6 273.2,65.1 273.7,63.6 274.5,62.4 275.4,61.3 276.6,60.3 278,59.5 279.5,58.8 281,58.2 282.5,57.5 284,56.7 285.3,55.9 286.3,54.8 287.2,53.6 287.8,52.3 288.3,50.8 288.6,49.1 288.8,47.5 289,45.8 289.3,44.2 289.7,42.7 290.4,41.3 291.3,40.2 292.4,39.2" fill="none" stroke="url(#chaing)" stroke-width="1.45" />
<polyline points="251.4,120.3 252.4,119.1 253.4,118.1 254.5,117 255.6,116.1 256.8,115.3 258.1,114.5 259.4,113.8 260.8,113.1 262.1,112.4 263.4,111.6 264.5,110.6 265.4,109.5 266.1,108.1 266.8,106.6 267.4,105.1 268,103.6 268.7,102.2 269.6,101 270.5,99.9 271.7,98.9 273,98.2 274.4,97.6 276,97.1 277.6,96.7 279.1,96.2 280.6,95.7 282,95 283.2,94.1 284.3,93.1 285.1,91.9 285.8,90.5 286.5,89 287,87.5 287.6,85.9 288.2,84.4 289,83.1 289.9,81.9 291,80.9 292.2,80.1 293.7,79.5 295.2,79 296.8,78.6 298.4,78.2 300,77.8 301.5,77.2 302.8,76.4 303.9,75.5 304.8,74.3 305.6,73 306.2,71.5 306.7,69.9 307.2,68.3 307.8,66.7 308.4,65.2 309.3,64 310.3,62.9 311.5,62 312.9,61.4 314.4,60.9 316,60.5" fill="none" stroke="url(#chaing)" stroke-width="1.45" />
<polyline points="260.3,131.9 261.5,131 262.8,130.2 264.1,129.6 265.5,129 266.9,128.4 268.3,127.9 269.6,127.3 270.9,126.6 272.1,125.8 273.2,124.8 274.2,123.6 275.1,122.3 276,120.9 276.9,119.6 277.9,118.5 279,117.5 280.3,116.7 281.6,116.2 283.1,115.8 284.7,115.5 286.3,115.3 287.9,115.1 289.5,114.9 291,114.5 292.4,114 293.7,113.2 294.8,112.2 295.8,111.1 296.7,109.8 297.5,108.4 298.4,106.9 299.2,105.5 300.2,104.3 301.2,103.2 302.4,102.3 303.7,101.7 305.2,101.3 306.8,101 308.4,100.9 310.1,100.7 311.7,100.6 313.3,100.3 314.7,99.9 316.1,99.2 317.2,98.3 318.3,97.2 319.2,95.9 320,94.5 320.8,93 321.6,91.5 322.5,90.1 323.4,89 324.6,88 325.8,87.3 327.3,86.8 328.8,86.5 330.5,86.4 332.2,86.3 333.9,86.2 335.5,86.1" fill="none" stroke="url(#chaing)" stroke-width="1.45" />
<polyline points="267.1,144.9 268.5,144.3 269.9,143.9 271.3,143.6 272.8,143.2 274.2,142.8 275.6,142.3 276.9,141.6 278.1,140.8 279.3,139.9 280.5,138.8 281.6,137.7 282.7,136.6 284,135.7 285.3,135.1 286.7,134.7 288.2,134.5 289.8,134.4 291.4,134.5 293,134.6 294.6,134.7 296.2,134.6 297.7,134.4 299.1,133.9 300.4,133.3 301.6,132.4 302.8,131.3 303.9,130.1 304.9,128.8 306,127.6 307.1,126.5 308.3,125.5 309.6,124.8 311,124.3 312.5,124.1 314,124 315.7,124.1 317.3,124.3 319,124.4 320.6,124.5 322.1,124.4 323.6,124 324.9,123.4 326.2,122.6 327.3,121.5 328.4,120.3 329.4,119 330.5,117.7 331.5,116.5 332.7,115.4 333.9,114.5 335.3,113.9 336.7,113.6 338.3,113.5 339.9,113.6 341.6,113.8 343.3,114.1 344.9,114.2 346.5,114.3 348,114 349.4,113.6" fill="none" stroke="url(#chaing)" stroke-width="1.45" />
<polyline points="271.5,158.8 273,158.6 274.4,158.5 275.9,158.3 277.3,158 278.8,157.6 280.1,157.1 281.5,156.4 282.8,155.7 284.2,154.9 285.5,154.1 286.9,153.5 288.3,153.1 289.8,153.1 291.3,153.3 292.9,153.6 294.5,153.9 296,154.3 297.6,154.5 299.1,154.7 300.6,154.5 302,154.2 303.4,153.6 304.7,152.8 306,151.9 307.3,150.8 308.6,149.8 309.9,148.8 311.2,148 312.6,147.5 314,147.1 315.5,147 317,147.2 318.6,147.5 320.2,147.9 321.8,148.4 323.4,148.7 324.9,149 326.4,149 327.9,148.7 329.3,148.2 330.6,147.5 331.9,146.5 333.1,145.4 334.4,144.3 335.7,143.3 337,142.3 338.3,141.6 339.7,141.2 341.2,141 342.7,141.1 344.3,141.4 345.9,141.9 347.5,142.4 349.1,142.9 350.7,143.2 352.2,143.3 353.7,143.2 355.1,142.8 356.4,142.1 357.7,141.2" fill="none" stroke="url(#chaing)" stroke-width="1.45" />
<polyline points="273.4,173.3 274.9,173.4 276.4,173.4 277.8,173.3 279.3,173.1 280.7,172.7 282.2,172.3 283.6,171.9 285.1,171.5 286.5,171.3 288,171.2 289.5,171.4 291,171.8 292.5,172.4 294,173.1 295.5,173.6 296.9,174.1 298.4,174.3 299.9,174.3 301.3,174 302.8,173.6 304.2,172.9 305.7,172.1 307.1,171.3 308.5,170.6 310,170 311.4,169.6 312.9,169.4 314.4,169.5 315.8,169.8 317.3,170.3 318.8,171 320.3,171.7 321.8,172.3 323.3,172.9 324.8,173.2 326.3,173.3 327.7,173.2 329.2,172.8 330.6,172.1 332.1,171.3 333.5,170.5 334.9,169.6 336.4,168.9 337.8,168.3 339.3,168 340.7,168 342.2,168.3 343.7,168.8 345.2,169.5 346.7,170.2 348.2,171 349.7,171.7 351.2,172.1 352.7,172.4 354.1,172.3 355.6,172 357,171.4 358.4,170.6 359.9,169.7 361.3,168.7" fill="none" stroke="url(#chaing)" stroke-width="1.45" />
<polyline points="272.8,188 274.2,188.2 275.7,188.3 277.2,188.3 278.7,188.2 280.2,188.1 281.6,188.1 283.1,188.2 284.5,188.5 286,189 287.4,189.6 288.7,190.4 290.1,191.3 291.5,192 292.9,192.6 294.3,192.9 295.8,193 297.3,192.9 298.8,192.5 300.3,192.1 301.9,191.5 303.4,191 305,190.6 306.5,190.4 308,190.4 309.4,190.6 310.8,191.1 312.2,191.8 313.6,192.7 314.9,193.6 316.3,194.6 317.7,195.4 319.1,196.1 320.5,196.5 321.9,196.7 323.4,196.6 324.9,196.3 326.5,195.9 328,195.3 329.6,194.7 331.1,194.2 332.7,193.8 334.2,193.7 335.6,193.8 337,194.2 338.4,194.9 339.8,195.8 341.2,196.7 342.5,197.8 343.9,198.7 345.2,199.5 346.6,200.1 348.1,200.4 349.5,200.4 351.1,200.2 352.6,199.7 354.2,199.1 355.7,198.4 357.3,197.8 358.8,197.3 360.3,197" fill="none" stroke="url(#chaing)" stroke-width="1.45" />
<polyline points="269.6,202.3 271,202.6 272.5,202.9 274,203.1 275.4,203.4 276.8,203.8 278.2,204.4 279.5,205 280.8,205.9 282,206.8 283.3,207.8 284.5,208.7 285.8,209.5 287.2,209.9 288.7,210.1 290.2,210.1 291.8,210 293.4,209.8 295,209.5 296.6,209.4 298.1,209.3 299.6,209.5 301,209.9 302.4,210.6 303.6,211.4 304.8,212.4 306,213.6 307.2,214.7 308.4,215.8 309.6,216.8 310.9,217.6 312.3,218.1 313.7,218.4 315.3,218.4 316.8,218.3 318.5,218 320.1,217.7 321.7,217.4 323.3,217.3 324.8,217.4 326.3,217.6 327.6,218.2 328.9,219 330.1,220 331.3,221.2 332.5,222.4 333.6,223.6 334.8,224.7 336.1,225.6 337.4,226.2 338.8,226.6 340.3,226.7 341.9,226.6 343.5,226.3 345.2,225.9 346.8,225.6 348.5,225.3 350,225.2 351.5,225.4 352.9,225.9 354.2,226.6" fill="none" stroke="url(#chaing)" stroke-width="1.45" />
<polyline points="264,215.8 265.4,216.3 266.7,216.9 268.1,217.5 269.3,218.3 270.5,219.1 271.7,220.1 272.8,221.1 273.9,222.2 275,223.2 276.2,224 277.5,224.7 278.9,225.2 280.5,225.4 282.1,225.5 283.7,225.6 285.3,225.7 286.9,225.8 288.3,226.2 289.7,226.8 291,227.6 292.1,228.5 293.1,229.7 294.1,231 295.1,232.3 296.1,233.6 297.1,234.8 298.2,235.9 299.4,236.7 300.7,237.3 302.2,237.7 303.7,237.9 305.4,238 307,238 308.7,238 310.3,238.1 311.8,238.3 313.2,238.8 314.5,239.5 315.7,240.4 316.7,241.6 317.7,242.9 318.6,244.2 319.6,245.6 320.5,246.9 321.6,248.1 322.8,249.1 324,249.8 325.4,250.2 327,250.5 328.6,250.5 330.3,250.5 332,250.4 333.6,250.4 335.2,250.5 336.7,250.9 338,251.5 339.2,252.3 340.3,253.4 341.3,254.7 342.2,256.1" fill="none" stroke="url(#chaing)" stroke-width="1.45" />
<polyline points="256.1,228.1 257.4,229 258.5,229.9 259.6,230.9 260.6,232 261.6,233.1 262.6,234.2 263.6,235.3 264.7,236.3 265.9,237.1 267.2,237.8 268.7,238.3 270.2,238.7 271.8,239.1 273.3,239.5 274.7,240.1 276,240.8 277.2,241.7 278.2,242.8 279,244.1 279.8,245.5 280.6,246.9 281.3,248.4 282.1,249.8 282.9,251.1 283.9,252.2 285.1,253.1 286.4,253.8 287.8,254.3 289.4,254.7 291,255 292.6,255.3 294.2,255.6 295.7,256.1 297.1,256.7 298.3,257.6 299.3,258.6 300.2,259.8 301,261.2 301.7,262.7 302.4,264.3 303.1,265.7 303.9,267.1 304.8,268.3 305.9,269.3 307.1,270.1 308.5,270.7 310.1,271.1 311.7,271.4 313.4,271.6 315,271.8 316.6,272.2 318.1,272.7 319.3,273.5 320.5,274.4 321.4,275.6 322.2,277 322.9,278.5 323.5,280.1 324.1,281.7 324.9,283.1" fill="none" stroke="url(#chaing)" stroke-width="1.45" />
<polyline points="246.2,238.9 247.2,240.1 248.1,241.2 248.9,242.5 249.7,243.7 250.6,244.9 251.6,246 252.6,247 253.8,247.9 255.1,248.7 256.5,249.4 258,250.1 259.4,250.8 260.6,251.6 261.6,252.7 262.5,253.9 263.2,255.2 263.8,256.7 264.2,258.2 264.7,259.8 265.2,261.3 265.8,262.8 266.5,264.1 267.4,265.3 268.5,266.3 269.8,267.1 271.2,267.8 272.7,268.4 274.3,269 275.8,269.6 277.2,270.2 278.5,271 279.6,272 280.6,273.1 281.3,274.5 281.9,275.9 282.3,277.5 282.7,279.1 283.2,280.7 283.7,282.2 284.3,283.6 285.1,284.9 286.2,285.9 287.4,286.8 288.8,287.5 290.3,288.1 291.9,288.6 293.5,289.2 295,289.8 296.4,290.5 297.6,291.3 298.6,292.4 299.4,293.7 300,295.1 300.5,296.7 300.8,298.3 301.2,300 301.6,301.6 302.1,303.1 302.9,304.4 303.8,305.6" fill="none" stroke="url(#chaing)" stroke-width="1.45" />
<polyline points="234.6,247.8 235.3,249.2 235.9,250.5 236.6,251.8 237.4,253.1 238.2,254.2 239.2,255.4 240.3,256.4 241.5,257.4 242.7,258.4 243.8,259.4 244.9,260.5 245.7,261.6 246.2,263.1 246.6,264.6 246.9,266.1 247,267.8 247.3,269.4 247.5,270.9 248,272.4 248.6,273.7 249.4,274.9 250.5,276 251.7,277 253,277.9 254.4,278.7 255.8,279.6 257.1,280.5 258.3,281.4 259.3,282.5 260.1,283.8 260.7,285.1 261.1,286.6 261.3,288.2 261.5,289.9 261.6,291.5 261.8,293.1 262.1,294.7 262.7,296.1 263.4,297.3 264.4,298.5 265.5,299.5 266.9,300.3 268.3,301.2 269.8,302 271.2,302.8 272.5,303.7 273.6,304.7 274.5,305.9 275.2,307.2 275.6,308.7 275.8,310.3 276,311.9 276,313.6 276.1,315.3 276.4,316.9 276.8,318.4 277.4,319.7 278.3,320.9 279.4,321.9 280.7,322.8" fill="none" stroke="url(#chaing)" stroke-width="1.45" />
<polyline points="221.6,254.6 222.1,256 222.6,257.4 223.2,258.7 223.9,260 224.7,261.3 225.6,262.5 226.5,263.7 227.3,264.9 228.1,266.2 228.6,267.6 228.9,269.1 229,270.6 229,272.2 228.9,273.8 228.9,275.4 229,277 229.3,278.4 229.8,279.8 230.6,281.1 231.5,282.3 232.6,283.4 233.8,284.5 235.1,285.6 236.3,286.7 237.3,287.8 238.2,289 238.8,290.3 239.3,291.8 239.5,293.3 239.5,294.8 239.4,296.5 239.2,298.1 239.1,299.8 239.1,301.3 239.3,302.9 239.7,304.3 240.4,305.6 241.3,306.8 242.4,307.9 243.6,309 244.9,310.1 246.2,311.1 247.4,312.2 248.4,313.4 249.1,314.7 249.6,316 249.9,317.5 249.9,319.1 249.8,320.7 249.6,322.4 249.4,324.1 249.3,325.7 249.3,327.3 249.6,328.7 250.2,330.1 251,331.3 252.1,332.5 253.4,333.5 254.7,334.6 256.1,335.6" fill="none" stroke="url(#chaing)" stroke-width="1.45" />
<polyline points="207.7,259 208,260.4 208.4,261.9 208.9,263.2 209.5,264.6 210,266 210.5,267.4 210.9,268.8 211.2,270.3 211.2,271.7 211.1,273.3 210.8,274.8 210.5,276.4 210.3,278 210.2,279.5 210.4,280.9 210.8,282.3 211.5,283.7 212.3,285 213.3,286.3 214.3,287.6 215.3,288.9 216.2,290.2 216.9,291.5 217.4,292.9 217.7,294.3 217.7,295.8 217.5,297.4 217.2,299 216.7,300.6 216.3,302.2 216,303.7 215.9,305.3 215.9,306.8 216.3,308.2 216.9,309.6 217.7,310.9 218.7,312.2 219.7,313.4 220.8,314.7 221.8,316 222.7,317.3 223.3,318.6 223.7,320.1 223.7,321.5 223.6,323.1 223.2,324.7 222.8,326.3 222.3,327.9 221.9,329.5 221.6,331 221.5,332.6 221.7,334 222.2,335.4 223,336.7 224,338 225.1,339.3 226.3,340.5 227.4,341.8 228.4,343.1 229.1,344.4" fill="none" stroke="url(#chaing)" stroke-width="1.45" />
<polyline points="193.2,260.9 193.3,262.4 193.6,263.8 193.8,265.3 194,266.8 194.1,268.2 194.1,269.7 193.9,271.2 193.6,272.6 193.1,274.1 192.6,275.6 192.2,277.1 191.9,278.6 192,280.1 192.3,281.5 192.8,283 193.5,284.4 194.3,285.8 195,287.3 195.7,288.7 196.3,290.1 196.6,291.6 196.7,293.1 196.5,294.5 196.2,296 195.6,297.5 195,299 194.3,300.5 193.7,302 193.2,303.5 192.9,305 192.9,306.4 193.1,307.9 193.6,309.3 194.3,310.8 195.1,312.2 196,313.6 196.8,315.1 197.4,316.5 197.9,318 198.1,319.4 198,320.9 197.7,322.4 197.1,323.9 196.5,325.4 195.7,326.9 195,328.4 194.4,329.9 194,331.4 193.8,332.8 194,334.3 194.4,335.7 195.1,337.2 195.9,338.6 196.8,340 197.7,341.5 198.5,342.9 199.1,344.3 199.4,345.8 199.5,347.3 199.2,348.7" fill="none" stroke="url(#chaing)" stroke-width="1.45" />
<polyline points="178.5,260.3 178.5,261.8 178.4,263.2 178.3,264.7 178,266.1 177.6,267.6 177.1,269 176.5,270.4 175.9,271.8 175.4,273.2 175,274.6 174.8,276.1 174.8,277.5 175.2,279.1 175.6,280.6 176.1,282.2 176.6,283.7 176.9,285.2 177.1,286.7 177,288.2 176.7,289.6 176.1,291 175.4,292.4 174.5,293.8 173.6,295.1 172.7,296.5 171.9,297.9 171.3,299.3 171,300.7 170.9,302.2 171,303.7 171.3,305.2 171.8,306.7 172.4,308.3 173,309.8 173.4,311.4 173.7,312.9 173.7,314.4 173.5,315.8 173,317.3 172.3,318.6 171.4,320 170.5,321.3 169.5,322.7 168.6,324.1 167.8,325.4 167.4,326.9 167.1,328.3 167.2,329.8 167.5,331.3 168,332.9 168.6,334.4 169.3,336 169.9,337.5 170.3,339.1 170.4,340.6 170.3,342 169.9,343.5 169.3,344.9 168.4,346.2 167.4,347.6" fill="none" stroke="url(#chaing)" stroke-width="1.45" />
<polyline points="164.2,257.1 163.9,258.5 163.4,259.9 162.8,261.3 162.2,262.6 161.4,263.9 160.7,265.2 160.1,266.6 159.5,267.9 159.1,269.3 159,270.8 159,272.4 159.2,274 159.4,275.6 159.5,277.1 159.4,278.7 159.2,280.1 158.7,281.5 158,282.8 157.1,284.1 156,285.3 154.9,286.5 153.8,287.6 152.7,288.9 151.8,290.1 151.2,291.4 150.7,292.8 150.5,294.3 150.5,295.8 150.7,297.4 150.9,299.1 151.2,300.7 151.4,302.3 151.5,303.8 151.4,305.3 151,306.8 150.4,308.1 149.5,309.4 148.4,310.6 147.3,311.7 146.1,312.9 144.9,314.1 143.9,315.3 143.1,316.6 142.5,317.9 142.2,319.4 142.2,320.9 142.4,322.5 142.7,324.1 143,325.8 143.3,327.4 143.5,329 143.5,330.5 143.3,332 142.7,333.4 141.9,334.7 140.9,335.9 139.7,337 138.4,338.2 137.2,339.3 136,340.5" fill="none" stroke="url(#chaing)" stroke-width="1.45" />
<polyline points="150.7,251.5 150,252.8 149.2,254 148.3,255.2 147.4,256.4 146.6,257.6 145.9,258.9 145.3,260.3 144.9,261.7 144.6,263.2 144.4,264.8 144.3,266.3 144.1,267.9 143.7,269.3 143,270.7 142.2,271.9 141.2,273 140,274 138.7,275 137.4,276 136.1,277 135,278 134,279.2 133.2,280.4 132.7,281.8 132.3,283.3 132.2,284.8 132.1,286.5 132.1,288.1 132.1,289.8 131.9,291.3 131.6,292.8 131.1,294.2 130.3,295.4 129.3,296.6 128.1,297.6 126.8,298.6 125.4,299.5 124.1,300.5 122.8,301.5 121.7,302.6 120.8,303.8 120.2,305.1 119.8,306.5 119.6,308.1 119.6,309.7 119.7,311.4 119.7,313.1 119.7,314.7 119.4,316.3 119,317.7 118.4,319 117.4,320.2 116.3,321.2 115,322.2 113.5,323.1 112.1,324 110.7,324.9 109.5,326 108.5,327.1 107.8,328.4" fill="none" stroke="url(#chaing)" stroke-width="1.45" />
<polyline points="138.4,243.6 137.3,244.7 136.3,245.8 135.3,246.9 134.4,248 133.6,249.2 132.9,250.5 132.3,251.9 131.8,253.4 131.2,254.8 130.7,256.2 130,257.6 129.2,258.8 128,259.7 126.7,260.6 125.3,261.4 123.9,262.1 122.4,262.8 121.1,263.7 119.9,264.6 118.8,265.6 118,266.8 117.3,268.2 116.8,269.6 116.5,271.2 116.1,272.8 115.8,274.4 115.4,276 114.9,277.4 114.2,278.7 113.3,279.9 112.2,280.9 110.9,281.8 109.5,282.5 108,283.2 106.5,283.9 105.1,284.7 103.8,285.5 102.6,286.5 101.7,287.6 101,288.9 100.5,290.3 100.1,291.9 99.8,293.6 99.6,295.2 99.3,296.8 98.9,298.4 98.3,299.8 97.5,301 96.4,302 95.2,302.9 93.8,303.7 92.2,304.4 90.7,305 89.1,305.7 87.7,306.5 86.5,307.3 85.4,308.4 84.6,309.6 84.1,311.1 83.7,312.6" fill="none" stroke="url(#chaing)" stroke-width="1.45" />
<polyline points="127.6,233.7 126.4,234.6 125.3,235.6 124.2,236.6 123.3,237.7 122.4,238.9 121.5,240.2 120.7,241.4 119.8,242.6 118.8,243.8 117.7,244.7 116.5,245.5 115,246.1 113.5,246.6 112,247.1 110.5,247.6 109.1,248.3 107.8,249.1 106.7,250 105.8,251.2 105,252.5 104.3,253.9 103.7,255.4 103.1,257 102.5,258.5 101.7,259.8 100.9,261.1 99.9,262.1 98.7,263 97.3,263.7 95.8,264.2 94.3,264.7 92.7,265.1 91.1,265.6 89.6,266.1 88.3,266.8 87.1,267.7 86.1,268.8 85.2,270.1 84.6,271.5 84,273 83.5,274.6 82.9,276.2 82.3,277.6 81.5,279 80.5,280.1 79.4,281.1 78.1,281.8 76.6,282.4 75,282.8 73.4,283.2 71.8,283.6 70.2,284 68.7,284.6 67.5,285.4 66.4,286.4 65.5,287.6 64.8,289 64.3,290.6 63.8,292.2 63.3,293.8" fill="none" stroke="url(#chaing)" stroke-width="1.45" />
<polyline points="118.7,222.1 117.4,222.9 116.2,223.8 115.1,224.7 114,225.7 112.9,226.7 111.8,227.7 110.6,228.5 109.3,229.2 107.9,229.8 106.4,230.2 104.8,230.5 103.2,230.7 101.7,231 100.3,231.5 99,232.2 97.8,233.1 96.8,234.2 95.8,235.4 94.9,236.8 94.1,238.2 93.2,239.5 92.3,240.8 91.3,241.9 90.1,242.9 88.9,243.6 87.5,244.1 85.9,244.5 84.3,244.7 82.7,244.8 81,245 79.5,245.2 78,245.6 76.6,246.2 75.4,247 74.3,248.1 73.3,249.3 72.5,250.7 71.7,252.1 70.9,253.6 70,254.9 69,256.2 68,257.2 66.7,258 65.4,258.6 63.9,259 62.3,259.2 60.6,259.3 58.9,259.4 57.3,259.5 55.7,259.8 54.3,260.3 53,261 51.9,262 50.9,263.1 50,264.5 49.2,266 48.4,267.5 47.6,269 46.8,270.3 45.8,271.5" fill="none" stroke="url(#chaing)" stroke-width="1.45" />
<polyline points="111.9,209.1 110.6,209.8 109.3,210.5 108,211.3 106.7,212 105.4,212.6 104,213 102.5,213.3 101,213.5 99.5,213.6 97.9,213.7 96.3,213.8 94.9,214 93.5,214.6 92.3,215.4 91.1,216.4 90,217.5 88.9,218.7 87.8,220 86.7,221.1 85.5,222.1 84.2,222.9 82.9,223.5 81.5,223.8 79.9,224 78.3,223.9 76.7,223.8 75.1,223.7 73.4,223.6 71.9,223.7 70.4,224 69,224.5 67.7,225.2 66.6,226.2 65.4,227.3 64.4,228.6 63.3,229.8 62.2,231.1 61.1,232.2 59.9,233.1 58.6,233.8 57.2,234.2 55.7,234.4 54.1,234.4 52.4,234.2 50.8,234 49.1,233.9 47.5,233.8 46,234 44.6,234.4 43.2,235 42,235.9 40.9,237 39.8,238.3 38.8,239.7 37.8,241 36.7,242.2 35.5,243.3 34.3,244.1 32.9,244.6 31.4,244.8" fill="none" stroke="url(#chaing)" stroke-width="1.45" />
<polyline points="107.5,195.2 106.1,195.7 104.7,196.1 103.3,196.4 101.8,196.7 100.3,196.8 98.8,196.8 97.3,196.7 95.8,196.6 94.3,196.6 92.8,196.7 91.4,197 90,197.6 88.7,198.5 87.4,199.4 86.1,200.4 84.8,201.4 83.5,202.2 82.2,202.9 80.7,203.3 79.3,203.5 77.8,203.4 76.2,203.2 74.6,202.8 73,202.4 71.5,202.1 69.9,201.8 68.4,201.7 66.9,201.9 65.5,202.3 64.1,203 62.8,203.8 61.6,204.8 60.3,205.9 59,206.9 57.7,207.9 56.4,208.7 55,209.2 53.6,209.5 52.1,209.5 50.5,209.3 48.9,208.9 47.3,208.4 45.7,208 44.1,207.6 42.6,207.4 41.1,207.4 39.7,207.7 38.3,208.3 37,209.2 35.7,210.2 34.4,211.3 33.2,212.4 31.9,213.5 30.6,214.4 29.3,215.1 27.9,215.4 26.4,215.5 24.8,215.4 23.3,215 21.6,214.5" fill="none" stroke="url(#chaing)" stroke-width="1.45" />
<polyline points="105.6,180.7 104.1,180.8 102.7,180.8 101.2,180.8 99.7,180.6 98.2,180.4 96.7,180.1 95.3,180 93.8,179.9 92.3,180.1 90.9,180.4 89.4,181 88,181.7 86.6,182.4 85.1,183 83.7,183.5 82.2,183.8 80.8,183.8 79.3,183.6 77.8,183.1 76.3,182.6 74.8,181.9 73.3,181.2 71.8,180.7 70.3,180.3 68.9,180.1 67.4,180.2 65.9,180.5 64.5,181 63.1,181.7 61.6,182.5 60.2,183.4 58.8,184.1 57.3,184.7 55.9,185.1 54.4,185.2 52.9,185 51.4,184.7 49.9,184.1 48.4,183.4 46.9,182.6 45.4,182 44,181.4 42.5,181.1 41,181.1 39.5,181.3 38.1,181.8 36.7,182.5 35.2,183.3 33.8,184.2 32.4,185.1 30.9,185.8 29.5,186.3 28,186.6 26.6,186.5 25.1,186.2 23.6,185.6 22.1,184.9 20.6,184.1 19.1,183.3 17.6,182.6" fill="none" stroke="url(#chaing)" stroke-width="1.45" />
<polyline points="106.2,166 104.8,165.8 103.3,165.4 101.9,165 100.5,164.6 99.1,164.3 97.6,164.1 96.1,164 94.6,164.1 93.1,164.3 91.6,164.7 90.1,165.1 88.5,165.5 87.1,165.5 85.6,165.4 84.2,165 82.8,164.4 81.4,163.6 80,162.7 78.7,161.8 77.3,161 75.9,160.3 74.5,159.8 73.1,159.5 71.6,159.5 70.1,159.7 68.5,160 67,160.6 65.4,161.1 63.9,161.6 62.4,162 60.9,162.2 59.4,162.2 58,161.9 56.5,161.3 55.2,160.5 53.8,159.6 52.5,158.7 51.1,157.7 49.7,156.9 48.3,156.2 46.9,155.8 45.4,155.7 43.9,155.8 42.4,156.2 40.9,156.8 39.3,157.4 37.8,158 36.2,158.5 34.7,158.8 33.2,158.9 31.7,158.7 30.3,158.2 28.9,157.5 27.6,156.6 26.2,155.5 24.9,154.5 23.5,153.5 22.2,152.8 20.8,152.2 19.3,152" fill="none" stroke="url(#chaing)" stroke-width="1.45" />
<polyline points="109.4,151.7 108,151.2 106.7,150.6 105.3,150 103.9,149.5 102.5,149.2 101,149 99.5,148.9 98,148.9 96.4,148.9 94.9,148.8 93.4,148.7 92,148.3 90.7,147.5 89.5,146.6 88.3,145.5 87.1,144.4 85.9,143.3 84.7,142.3 83.4,141.5 82.1,140.9 80.6,140.5 79.1,140.4 77.6,140.4 76,140.6 74.4,140.9 72.8,141.1 71.2,141.3 69.6,141.3 68.2,141.1 66.8,140.6 65.4,139.9 64.2,139 63,137.9 61.8,136.7 60.7,135.6 59.5,134.5 58.2,133.5 56.9,132.8 55.5,132.3 54.1,132.1 52.5,132.1 50.9,132.3 49.3,132.6 47.6,133 46,133.2 44.4,133.4 42.9,133.3 41.5,132.9 40.2,132.3 38.9,131.4 37.7,130.3 36.6,129.1 35.4,127.9 34.2,126.7 33,125.6 31.8,124.7 30.4,124.2 29,123.8 27.5,123.8 25.9,124" fill="none" stroke="url(#chaing)" stroke-width="1.45" />
<polyline points="115,138.2 113.7,137.4 112.5,136.7 111.1,136.1 109.8,135.6 108.3,135.1 106.9,134.8 105.4,134.4 104,134 102.6,133.4 101.3,132.7 100.2,131.8 99.1,130.7 98.1,129.4 97.1,128.1 96.1,126.9 95,125.8 93.8,124.9 92.5,124.2 91.1,123.7 89.6,123.4 88,123.3 86.4,123.2 84.8,123.2 83.2,123.1 81.6,122.9 80.2,122.5 78.8,121.9 77.6,121 76.5,120 75.5,118.8 74.5,117.5 73.6,116.1 72.6,114.8 71.6,113.6 70.5,112.6 69.2,111.8 67.9,111.2 66.4,110.9 64.8,110.7 63.2,110.7 61.5,110.8 59.8,110.8 58.2,110.7 56.7,110.4 55.3,109.9 54.1,109.1 52.9,108.1 51.9,106.9 51,105.6 50,104.2 49.1,102.8 48.1,101.5 47.1,100.3 45.9,99.4 44.6,98.8 43.1,98.4 41.6,98.2 39.9,98.2 38.2,98.3 36.5,98.4" fill="none" stroke="url(#chaing)" stroke-width="1.45" />
<polyline points="122.9,125.9 121.7,125 120.5,124.2 119.2,123.4 117.9,122.7 116.6,122 115.3,121.3 114.1,120.4 113,119.5 112,118.3 111.1,117.1 110.3,115.7 109.6,114.3 108.7,113 107.8,111.8 106.7,110.8 105.4,110 104,109.4 102.5,109 101,108.6 99.4,108.3 97.8,107.9 96.3,107.5 94.9,106.9 93.6,106.2 92.5,105.2 91.5,104 90.7,102.7 90,101.3 89.2,99.8 88.5,98.3 87.8,96.9 86.9,95.7 85.8,94.6 84.7,93.7 83.3,93.1 81.8,92.6 80.2,92.3 78.6,92 77,91.7 75.4,91.4 73.9,90.9 72.6,90.2 71.4,89.4 70.4,88.3 69.5,87 68.8,85.5 68.1,84 67.4,82.4 66.7,80.9 65.9,79.6 65,78.4 63.9,77.5 62.6,76.7 61.1,76.2 59.5,75.9 57.9,75.6 56.2,75.4 54.5,75.2 53,74.8 51.5,74.3" fill="none" stroke="url(#chaing)" stroke-width="1.45" />
<polyline points="132.8,115.1 131.7,114.1 130.5,113.1 129.4,112.2 128.3,111.2 127.3,110.1 126.4,108.9 125.6,107.7 124.9,106.3 124.3,104.9 123.7,103.4 123.1,102 122.4,100.7 121.3,99.7 120.1,98.8 118.8,98 117.3,97.4 115.8,96.7 114.3,96.1 112.9,95.5 111.6,94.7 110.4,93.8 109.4,92.7 108.6,91.5 107.9,90.1 107.4,88.6 106.9,87 106.5,85.4 106,83.9 105.4,82.4 104.6,81.1 103.7,80 102.6,79.1 101.2,78.3 99.8,77.6 98.2,77.1 96.7,76.5 95.1,75.9 93.7,75.2 92.4,74.4 91.4,73.4 90.5,72.2 89.8,70.9 89.3,69.4 88.9,67.8 88.5,66.1 88.1,64.5 87.5,63 86.9,61.6 86,60.4 84.9,59.4 83.7,58.6 82.2,57.9 80.7,57.4 79,56.9 77.4,56.3 75.9,55.7 74.6,55 73.4,54.1 72.4,53 71.7,51.7" fill="none" stroke="url(#chaing)" stroke-width="1.45" />
<polyline points="144.4,106.2 143.4,105 142.6,103.8 141.7,102.6 141,101.3 140.4,100 139.9,98.6 139.5,97.1 139,95.7 138.5,94.2 137.9,92.9 137.1,91.7 136.1,90.6 134.8,89.6 133.5,88.7 132.1,87.9 130.8,87 129.5,86 128.5,85 127.6,83.8 126.9,82.5 126.5,81 126.2,79.5 126,77.9 125.8,76.2 125.6,74.6 125.3,73.1 124.8,71.6 124.2,70.3 123.3,69.1 122.2,68.1 121,67.2 119.6,66.3 118.1,65.5 116.7,64.7 115.4,63.8 114.2,62.8 113.2,61.6 112.5,60.4 112,59 111.7,57.4 111.5,55.8 111.4,54.1 111.3,52.5 111.1,50.9 110.7,49.3 110.1,48 109.4,46.7 108.3,45.6 107.1,44.7 105.7,43.8 104.2,43 102.7,42.3 101.3,41.4 100,40.5 98.9,39.5 98.1,38.2 97.5,36.9 97.1,35.4 97,33.8 96.9,32.1" fill="none" stroke="url(#chaing)" stroke-width="1.45" />
<polyline points="157.4,99.4 156.7,98.1 156.2,96.7 155.8,95.3 155.4,93.8 155.1,92.4 154.8,90.9 154.5,89.5 154,88.1 153.4,86.8 152.5,85.5 151.5,84.3 150.4,83.2 149.2,82.1 148.1,81 147.2,79.8 146.5,78.5 145.9,77.1 145.7,75.7 145.6,74.1 145.6,72.5 145.7,70.9 145.8,69.3 145.8,67.7 145.7,66.1 145.3,64.7 144.8,63.3 143.9,62.1 142.9,60.9 141.8,59.8 140.5,58.7 139.3,57.7 138.1,56.6 137,55.4 136.2,54.2 135.6,52.8 135.2,51.4 135.1,49.9 135.2,48.3 135.3,46.6 135.5,45 135.6,43.3 135.6,41.7 135.4,40.2 134.9,38.9 134.2,37.6 133.2,36.4 132,35.3 130.7,34.2 129.4,33.2 128.1,32.1 126.9,31 126,29.8 125.3,28.5 124.8,27.1 124.7,25.6 124.7,24 124.9,22.4 125.1,20.7 125.3,19 125.4,17.4" fill="none" stroke="url(#chaing)" stroke-width="1.45" />
<polyline points="171.3,95 171.1,93.5 170.9,92.1 170.8,90.6 170.7,89.1 170.5,87.7 170.2,86.2 169.8,84.8 169.2,83.4 168.4,82.1 167.6,80.8 166.7,79.5 165.8,78.2 165.2,76.8 164.9,75.4 164.8,73.9 164.9,72.4 165.1,70.8 165.5,69.2 165.9,67.7 166.2,66.1 166.4,64.5 166.4,63 166.1,61.6 165.6,60.2 164.9,58.9 164,57.5 163,56.3 162,55 161,53.7 160.1,52.4 159.4,51.1 158.9,49.7 158.7,48.2 158.8,46.7 159.1,45.1 159.5,43.5 159.9,41.9 160.3,40.3 160.6,38.8 160.7,37.2 160.6,35.8 160.2,34.4 159.6,33 158.7,31.7 157.7,30.4 156.5,29.2 155.4,27.9 154.4,26.6 153.6,25.3 153,23.9 152.7,22.5 152.7,21 153,19.4 153.4,17.8 153.9,16.2 154.4,14.6 154.8,13 155.1,11.5 155.1,10 154.8,8.5" fill="none" stroke="url(#chaing)" stroke-width="1.45" />
<g clip-path="url(#clip1)">
<circle cx="189.5" cy="177" r="76.5" fill="#6e7e79"/>
<g transform="translate(189.5,177)">
<use href="#bd1" x="-15.9" y="-72.9"/>
<use href="#bd1" x="71.2" y="-22.3"/>
<use href="#bd1" x="67.8" y="31.3"/>
<use href="#bd1" x="-11.2" y="73.8"/>
<use href="#bd1" x="40.2" y="62.9"/>
<use href="#bd1" x="73.7" y="11.9"/>
<use href="#bd1" x="-17" y="72.7"/>
<use href="#bd1" x="-25.2" y="-70.3"/>
<use href="#bd1" x="-56.3" y="-49"/>
<use href="#bd1" x="-69" y="28.6"/>
<use href="#bd1" x="-33.1" y="-66.9"/>
<use href="#bd1" x="-51.5" y="-54"/>
<use href="#bd1" x="25.2" y="70.3"/>
<use href="#bd1" x="16" y="-72.9"/>
<use href="#bd1" x="-67.7" y="-31.4"/>
<use href="#bd1" x="-7.2" y="-74.3"/>
<use href="#bd1" x="36.8" y="-65"/>
<use href="#bd1" x="32.6" y="67.2"/>
<use href="#bd1" x="-72.3" y="-18.5"/>
<use href="#bd1" x="10.2" y="-74"/>
<use href="#bd1" x="4.6" y="74.5"/>
<use href="#bd1" x="45.9" y="-58.9"/>
<use href="#bd1" x="72.1" y="19.3"/>
<use href="#bd1" x="-34.4" y="66.2"/>
<use href="#bd1" x="21.7" y="-71.4"/>
<use href="#bd1" x="-44.1" y="60.2"/>
<use href="#bd1" x="58" y="-47"/>
<use href="#bd1" x="62.5" y="-40.8"/>
<use href="#bd1" x="-64.7" y="-37.2"/>
<use href="#bd1" x="-61.6" y="42.2"/>
<use href="#bd1" x="45.2" y="59.4"/>
<use href="#bd1" x="69.3" y="-27.7"/>
<use href="#bd1" x="-61.1" y="-42.8"/>
<use href="#bd1" x="69.8" y="26.3"/>
<use href="#bd1" x="53.2" y="-52.3"/>
<use href="#bd1" x="4.5" y="-74.5"/>
<use href="#bd1" x="-65.1" y="36.5"/>
<use href="#bd1" x="-50.1" y="55.3"/>
<use href="#bd1" x="-74.6" y="2.7"/>
<use href="#bd1" x="27.1" y="-69.5"/>
<use href="#bd1" x="-47.2" y="-57.8"/>
<use href="#bd1" x="74.3" y="6.7"/>
<use href="#bd1" x="55.2" y="50.2"/>
<use href="#bd1" x="73.3" y="-13.7"/>
<use href="#bd1" x="13.6" y="73.4"/>
<use href="#bd1" x="-74.5" y="-4"/>
<use href="#bd1" x="74.3" y="-6.8"/>
<use href="#bd1" x="-72.7" y="16.7"/>
<use href="#bd1" x="-55.8" y="49.5"/>
<use href="#bd1" x="-41.6" y="-61.9"/>
<use href="#bd1" x="-20.2" y="-71.8"/>
<use href="#bd1" x="-73.9" y="10"/>
<use href="#bd1" x="74.6" y="0.3"/>
<use href="#bd1" x="-0.9" y="74.6"/>
<use href="#bd1" x="49.8" y="55.5"/>
<use href="#bd1" x="-29.4" y="68.5"/>
<use href="#bd1" x="-70.7" y="23.8"/>
<use href="#bd1" x="63.4" y="39.4"/>
<use href="#bd1" x="-70.7" y="-23.6"/>
<use href="#bd1" x="59.3" y="45.2"/>
<use href="#bd1" x="-12.1" y="-73.6"/>
<use href="#bd1" x="41" y="-62.3"/>
<use href="#bd1" x="67" y="-32.8"/>
<use href="#bd1" x="-28.9" y="-68.7"/>
<use href="#bd1" x="37" y="64.7"/>
<use href="#bd1" x="-1" y="-74.5"/>
<use href="#bd1" x="-73.9" y="-10"/>
<use href="#bd1" x="-40" y="62.9"/>
<use href="#bd1" x="21.1" y="71.5"/>
<use href="#bd1" x="72" y="-19.4"/>
<use href="#bd1" x="66.4" y="33.8"/>
<use href="#bd1" x="32" y="-67.3"/>
<use href="#bd1" x="-36.3" y="-65.1"/>
<use href="#bd1" x="73.1" y="14.6"/>
<use href="#bd1" x="-6.6" y="74.2"/>
<use href="#bd1" x="-24" y="70.5"/>
<use href="#bd1" x="-67.5" y="31.5"/>
<use href="#bd1" x="49.1" y="-56"/>
<use href="#bd1" x="28.8" y="68.7"/>
<use href="#bd1" x="-58.1" y="-46.7"/>
<use href="#bd1" x="-53.6" y="-51.7"/>
<use href="#bd1" x="-12.5" y="73.4"/>
<use href="#bd1" x="-18.3" y="72.2"/>
<use href="#bd1" x="8.6" y="74"/>
<use href="#bd1" x="-59.2" y="45.2"/>
<use href="#bd1" x="-68.7" y="-28.8"/>
<use href="#bd1" x="60" y="-44"/>
<use href="#bd1" x="64.1" y="-37.8"/>
<use href="#bd1" x="-72.7" y="-15.7"/>
<use href="#bd1" x="-46.6" y="58.1"/>
<use href="#bd1" x="42.1" y="61.3"/>
<use href="#bd1" x="71.1" y="21.9"/>
<use href="#bd1" x="-65.9" y="-34.6"/>
<use href="#bd1" x="55.6" y="-49.4"/>
<use href="#bd1" x="15.2" y="-72.8"/>
<use href="#bd1" x="70.1" y="-24.8"/>
<use href="#bd1" x="-62.5" y="-40.3"/>
<use href="#bd1" x="-52.7" y="52.4"/>
<use href="#bd1" x="-63" y="39.5"/>
<use href="#bd1" x="20.9" y="-71.3"/>
<use href="#bd1" x="-6.1" y="-74.1"/>
<use href="#bd1" x="-35.4" y="65.4"/>
<use href="#bd1" x="9.4" y="-73.7"/>
<use href="#bd1" x="68.5" y="28.8"/>
<use href="#bd1" x="-24" y="-70.3"/>
<use href="#bd1" x="-74.1" y="5.5"/>
<use href="#bd1" x="52.8" y="52.3"/>
<use href="#bd1" x="-49.3" y="-55.5"/>
<use href="#bd1" x="36.4" y="-64.7"/>
<use href="#bd1" x="-16.5" y="-72.4"/>
<use href="#bd1" x="73.7" y="9.4"/>
<use href="#bd1" x="44.5" y="-59.4"/>
<use href="#bd1" x="73.5" y="-10.8"/>
<use href="#bd1" x="-71.6" y="19.6"/>
<use href="#bd1" x="16.4" y="72.4"/>
<use href="#bd1" x="-74.2" y="-1.1"/>
<use href="#bd1" x="-44" y="-59.8"/>
<use href="#bd1" x="74.1" y="-4"/>
<use href="#bd1" x="46.9" y="57.5"/>
<use href="#bd1" x="3.2" y="74.2"/>
<use href="#bd1" x="-69.2" y="26.8"/>
<use href="#bd1" x="-73.1" y="13"/>
<use href="#bd1" x="33.3" y="66.3"/>
<use href="#bd1" x="74.1" y="3"/>
<use href="#bd1" x="26.3" y="-69.4"/>
<use href="#bd1" x="61.4" y="41.7"/>
<use href="#bd1" x="57.1" y="47.4"/>
<use href="#bd1" x="-32" y="-66.9"/>
<use href="#bd1" x="3.7" y="-74.1"/>
<use href="#bd1" x="-71.2" y="-20.9"/>
<use href="#bd1" x="24.5" y="70"/>
<use href="#bd1" x="67.9" y="-29.8"/>
<use href="#bd1" x="-30.4" y="67.6"/>
<use href="#bd1" x="-42.5" y="60.7"/>
<use href="#bd1" x="51.7" y="-53.1"/>
<use href="#bd1" x="-73.7" y="-7.1"/>
<use href="#bd1" x="72.2" y="-16.6"/>
<use href="#bd1" x="-38.9" y="-63"/>
<use href="#bd1" x="64.6" y="36.2"/>
<use href="#bd1" x="-65.5" y="34.5"/>
<use href="#bd1" x="-56.3" y="48.1"/>
<use href="#bd1" x="-2.3" y="74"/>
<use href="#bd1" x="72" y="17.2"/>
<use href="#bd1" x="-59.4" y="-44.1"/>
<use href="#bd1" x="-55.1" y="-49.3"/>
<use href="#bd1" x="-10.8" y="-73.1"/>
<use href="#bd1" x="38.6" y="63"/>
<use href="#bd1" x="-25.1" y="69.5"/>
<use href="#bd1" x="-49.1" y="55.2"/>
<use href="#bd1" x="61.5" y="-41"/>
<use href="#bd1" x="11.4" y="73"/>
<use href="#bd1" x="-69.1" y="-26.1"/>
<use href="#bd1" x="31.1" y="-67"/>
<use href="#bd1" x="65.1" y="-34.9"/>
<use href="#bd1" x="-8" y="73.4"/>
<use href="#bd1" x="40.1" y="-62"/>
<use href="#bd1" x="57.4" y="-46.4"/>
<use href="#bd1" x="-1.6" y="-73.8"/>
<use href="#bd1" x="-72.7" y="-12.9"/>
<use href="#bd1" x="69.6" y="24.4"/>
<use href="#bd1" x="-60.4" y="42.4"/>
<use href="#bd1" x="-19.5" y="71.2"/>
<use href="#bd1" x="-13.8" y="72.5"/>
<use href="#bd1" x="-66.5" y="-31.9"/>
<use href="#bd1" x="70.4" y="-21.9"/>
<use href="#bd1" x="-27.2" y="-68.5"/>
<use href="#bd1" x="-63.4" y="-37.6"/>
<use href="#bd1" x="-20.3" y="-70.8"/>
<use href="#bd1" x="47.3" y="-56.5"/>
<use href="#bd1" x="-37.9" y="63.2"/>
<use href="#bd1" x="49.9" y="54.2"/>
<use href="#bd1" x="66.7" y="31.2"/>
<use href="#bd1" x="29.3" y="67.6"/>
<use href="#bd1" x="15" y="-72.1"/>
<use href="#bd1" x="-73.1" y="8.5"/>
<use href="#bd1" x="43.6" y="59.3"/>
<use href="#bd1" x="19.8" y="70.9"/>
<use href="#bd1" x="-70" y="22.6"/>
<use href="#bd1" x="-51" y="-53.1"/>
<use href="#bd1" x="-73.5" y="1.8"/>
<use href="#bd1" x="72.6" y="12"/>
<use href="#bd1" x="-67.3" y="29.7"/>
<use href="#bd1" x="-45.9" y="-57.4"/>
<use href="#bd1" x="73.1" y="-8.1"/>
<use href="#bd1" x="20.7" y="-70.6"/>
<use href="#bd1" x="9.2" y="-72.9"/>
<use href="#bd1" x="73.5" y="-1.3"/>
<use href="#bd1" x="-71.7" y="15.9"/>
<use href="#bd1" x="6.1" y="73.2"/>
<use href="#bd1" x="54.3" y="49.4"/>
<use href="#bd1" x="-34.6" y="-64.8"/>
<use href="#bd1" x="58.9" y="43.9"/>
<use href="#bd1" x="73.2" y="5.6"/>
<use href="#bd1" x="-52.9" y="50.9"/>
<use href="#bd1" x="-71.1" y="-18.1"/>
<use href="#bd1" x="-45" y="57.9"/>
<use href="#bd1" x="53.5" y="-50.1"/>
<use href="#bd1" x="-63.1" y="37.4"/>
<use href="#bd1" x="68.2" y="-26.9"/>
<use href="#bd1" x="-33" y="65.4"/>
<use href="#bd1" x="35.2" y="-64.3"/>
<use href="#bd1" x="-73.1" y="-4.2"/>
<use href="#bd1" x="62.4" y="38.4"/>
<use href="#bd1" x="-41" y="-60.7"/>
<use href="#bd1" x="-6.4" y="-72.9"/>
<use href="#bd1" x="-14.7" y="-71.7"/>
<use href="#bd1" x="71.9" y="-13.8"/>
<use href="#bd1" x="34.7" y="64.5"/>
<use href="#bd1" x="25.9" y="-68.4"/>
<use href="#bd1" x="70.4" y="19.7"/>
<use href="#bd1" x="3.6" y="-73"/>
<use href="#dt1" x="0.6" y="73.1"/>
<use href="#bd1" x="43" y="-59.1"/>
<use href="#bd1" x="-60.1" y="-41.5"/>
<use href="#bd1" x="-57.3" y="45.3"/>
<use href="#bd1" x="14.8" y="71.5"/>
<use href="#bd1" x="-56.1" y="-46.7"/>
<use href="#bd1" x="62.3" y="-38.1"/>
<use href="#dt1" x="-27.8" y="67.5"/>
<use href="#bd1" x="24.8" y="68.6"/>
<use href="#bd1" x="65.5" y="-32"/>
<use href="#bd1" x="-69.1" y="-23.2"/>
<use href="#dt1" x="58.5" y="-43.5"/>
<use href="#bd1" x="-72.2" y="-10"/>
<use href="#bd1" x="67.7" y="26.8"/>
<use href="#bd1" x="-5.1" y="72.6"/>
<use href="#bd1" x="-29.8" y="-66.4"/>
<use href="#bd1" x="46.5" y="56"/>
<use href="#bd1" x="-23.3" y="-68.9"/>
<use href="#bd1" x="49.3" y="-53.5"/>
<use href="#bd1" x="39.9" y="60.8"/>
<use href="#bd1" x="-66.7" y="-29.1"/>
<use href="#dt1" x="70.2" y="-19.2"/>
<use href="#bd1" x="-40.5" y="60.4"/>
<use href="#bd1" x="-22.3" y="69.2"/>
<use href="#bd1" x="-63.7" y="-34.9"/>
<use href="#bd1" x="64.5" y="33.5"/>
<use href="#bd1" x="-49" y="53.6"/>
<use href="#bd1" x="-71.7" y="11.4"/>
<use href="#bd1" x="-68" y="25.6"/>
<use href="#bd1" x="-10.9" y="71.8"/>
<use href="#bd1" x="-64.8" y="32.7"/>
<use href="#bd1" x="-16.6" y="70.7"/>
<use href="#bd1" x="-72.4" y="4.7"/>
<use href="#bd1" x="30.3" y="-65.9"/>
<use href="#bd1" x="-52" y="-50.5"/>
<use href="#bd1" x="-70" y="18.9"/>
<use href="#bd1" x="71" y="14.4"/>
<use href="#bd1" x="51.2" y="51.3"/>
<use href="#bd1" x="-47.2" y="-54.9"/>
<use href="#bd1" x="72.2" y="-5.4"/>
<use href="#dt1" x="56.1" y="45.8"/>
<use href="#bd1" x="9.5" y="71.8"/>
<use href="#bd1" x="-60.1" y="40.3"/>
<use href="#bd1" x="-1.4" y="-72.4"/>
<use href="#bd1" x="72.4" y="1.3"/>
<use href="#bd1" x="-36.5" y="-62.5"/>
<use href="#bd1" x="12.7" y="-71.2"/>
<use href="#bd1" x="38.3" y="-61.4"/>
<use href="#bd1" x="18.4" y="-69.9"/>
<use href="#bd1" x="30.3" y="65.6"/>
<use href="#bd1" x="71.8" y="8.1"/>
<use href="#bd1" x="-10.3" y="-71.5"/>
<use href="#bd1" x="-70.6" y="-15.2"/>
<use href="#bd1" x="54.7" y="-47.2"/>
<use href="#bd1" x="20" y="69.3"/>
<use href="#dt1" x="-17.9" y="-69.9"/>
<use href="#bd1" x="-35.6" y="62.8"/>
<use href="#dt1" x="-53.7" y="48.2"/>
<use href="#bd1" x="59.7" y="40.5"/>
<use href="#bd1" x="67.9" y="-24.1"/>
<use href="#bd1" x="-72.1" y="-1.2"/>
<use href="#bd1" x="-42.4" y="-58.2"/>
<use href="#bd1" x="71.1" y="-11.2"/>
<use href="#bd1" x="7" y="-71.6"/>
<use href="#bd1" x="45" y="-56.1"/>
<use href="#bd1" x="68.4" y="22"/>
<use href="#bd1" x="3.9" y="71.7"/>
<use href="#bd1" x="-44.8" y="56.2"/>
<use href="#bd1" x="23.6" y="-67.8"/>
<use href="#bd1" x="-60.4" y="-38.7"/>
<use href="#bd1" x="35.8" y="62.1"/>
<use href="#bd1" x="-56.6" y="-43.9"/>
<use href="#bd1" x="42.8" y="57.5"/>
<use href="#bd1" x="62.4" y="-35.2"/>
<use href="#bd1" x="-30.3" y="64.9"/>
<use href="#bd1" x="65.3" y="-29.3"/>
<use href="#dt1" x="-68.6" y="-20.4"/>
<use href="#bd1" x="58.9" y="-40.7"/>
<use href="#bd1" x="-71.2" y="-7"/>
<use href="#bd1" x="65.4" y="29"/>
<use href="#bd1" x="-62" y="35.6"/>
<use href="#bd1" x="-31.6" y="-64.1"/>
<use href="#bd1" x="-65.5" y="28.6"/>
<use href="#bd1" x="-25.6" y="-66.7"/>
<use href="#bd1" x="50.5" y="-50.5"/>
<use href="#bd1" x="33.6" y="-63"/>
<use href="#bd1" x="-1.8" y="71.4"/>
<use href="#bd1" x="-66.4" y="-26.2"/>
<use href="#bd1" x="14.8" y="69.8"/>
<use href="#bd1" x="61.9" y="35.5"/>
<use href="#bd1" x="-69.9" y="14.4"/>
<use href="#bd1" x="69.4" y="-16.5"/>
<use href="#bd1" x="25.6" y="66.6"/>
<use href="#bd1" x="-56.8" y="43.2"/>
<use href="#bd1" x="-5.5" y="-71"/>
<use href="#bd1" x="-63.6" y="-32"/>
<use href="#bd1" x="-24.9" y="66.8"/>
<use href="#bd1" x="47.6" y="53"/>
<use href="#bd1" x="-67.7" y="21.9"/>
<use href="#bd1" x="-70.7" y="7.7"/>
<use href="#bd1" x="-49.7" y="50.9"/>
<use href="#bd1" x="52.8" y="47.6"/>
<use href="#bd1" x="-7.6" y="70.7"/>
<use href="#dt1" x="-40.2" y="58.6"/>
<use href="#bd1" x="2.1" y="-71"/>
<use href="#dt1" x="69" y="16.8"/>
<use href="#bd1" x="40.4" y="-58.4"/>
<use href="#bd1" x="-52.6" y="-47.7"/>
<use href="#bd1" x="-19.2" y="68.4"/>
<use href="#bd1" x="-48" y="-52.3"/>
<use href="#dt1" x="-13.4" y="69.7"/>
<use href="#bd1" x="70.9" y="-2.9"/>
<use href="#bd1" x="-13.3" y="-69.6"/>
<use href="#bd1" x="70.8" y="3.8"/>
<use href="#bd1" x="-37.8" y="-60"/>
<use href="#bd1" x="27.7" y="-65.2"/>
<use href="#bd1" x="70" y="10.5"/>
<use href="#bd1" x="-69.7" y="-12.2"/>
<use href="#bd1" x="56.6" y="42.4"/>
<use href="#bd1" x="55" y="-44.3"/>
<use href="#dt1" x="16.2" y="-68.8"/>
<use href="#bd1" x="-20.2" y="-67.7"/>
<use href="#bd1" x="9.5" y="69.9"/>
<use href="#bd1" x="-70.5" y="1.7"/>
<use href="#bd1" x="31.4" y="63.2"/>
<use href="#bd1" x="67.1" y="-21.5"/>
<use href="#bd1" x="10.5" y="-69.7"/>
<use href="#bd1" x="38.7" y="58.8"/>
<use href="#bd1" x="-43.2" y="-55.5"/>
<use href="#bd1" x="69.8" y="-8.6"/>
<use href="#bd1" x="46.1" y="-53.2"/>
<use href="#bd1" x="66" y="24.2"/>
<use href="#bd1" x="-35.2" y="60.8"/>
<use href="#bd1" x="20.6" y="67.2"/>
<use href="#bd1" x="-58.7" y="38.5"/>
<use href="#bd1" x="-53" y="45.9"/>
<use href="#bd1" x="-45.3" y="53.5"/>
<use href="#bd1" x="-60.2" y="-35.9"/>
<use href="#bd1" x="21.2" y="-66.7"/>
<use href="#bd1" x="-62.5" y="31.5"/>
<use href="#dt1" x="-56.6" y="-41.1"/>
<use href="#bd1" x="61.9" y="-32.5"/>
<use href="#bd1" x="62.6" y="31"/>
<use href="#bd1" x="-67.7" y="-17.4"/>
<use href="#bd1" x="3.9" y="69.8"/>
<use href="#dt1" x="-69.8" y="-4"/>
<use href="#bd1" x="64.6" y="-26.6"/>
<use href="#bd1" x="58.7" y="-37.9"/>
<use href="#bd1" x="35.6" y="-60"/>
<use href="#dt1" x="-67.6" y="17.4"/>
<use href="#bd1" x="43.7" y="54.4"/>
<use href="#bd1" x="58.8" y="37.4"/>
<use href="#dt1" x="-32.8" y="-61.5"/>
<use href="#bd1" x="-30" y="62.9"/>
<use href="#bd1" x="-65" y="24.9"/>
<use href="#bd1" x="-27" y="-64.1"/>
<use href="#bd1" x="50.8" y="-47.6"/>
<use href="#bd1" x="-8.4" y="-69.1"/>
<use href="#bd1" x="-65.6" y="-23.3"/>
<use href="#bd1" x="49.1" y="49.2"/>
<use href="#bd1" x="68.1" y="-14"/>
<use href="#bd1" x="-1.7" y="-69.5"/>
<use href="#bd1" x="-68.7" y="10.7"/>
<use href="#bd1" x="-63" y="-29.1"/>
<use href="#bd1" x="5.6" y="-69.2"/>
<use href="#bd1" x="-1.7" y="69.3"/>
<use href="#dt1" x="26.6" y="64"/>
<use href="#bd1" x="15.3" y="67.5"/>
<use href="#bd1" x="66.6" y="18.9"/>
<use href="#bd1" x="-24.6" y="64.7"/>
<use href="#bd1" x="41.3" y="-55.5"/>
<use href="#bd1" x="30.2" y="-62.2"/>
<use href="#bd1" x="-52.5" y="-44.9"/>
<use href="#bd1" x="-48.2" y="-49.5"/>
<use href="#bd1" x="-40.6" y="55.9"/>
<use href="#bd1" x="53.1" y="44"/>
<use href="#bd1" x="69" y="-0.5"/>
<use href="#bd1" x="-7.5" y="68.6"/>
<use href="#bd1" x="-15.3" y="-67.3"/>
<use href="#bd1" x="68.7" y="6.1"/>
<use href="#bd1" x="34.2" y="59.9"/>
<use href="#bd1" x="-38.4" y="-57.3"/>
<use href="#bd1" x="67.7" y="12.7"/>
<use href="#bd1" x="-18.9" y="66.3"/>
<use href="#bd1" x="-68.3" y="-9.3"/>
<use href="#bd1" x="-13.2" y="67.6"/>
<use href="#bd1" x="-48.8" y="48.6"/>
<use href="#bd1" x="-68.6" y="4.7"/>
<use href="#bd1" x="-55" y="41.2"/>
<use href="#bd1" x="54.7" y="-41.6"/>
<use href="#bd1" x="-21.6" y="-65.2"/>
<use href="#bd1" x="13.4" y="-67.2"/>
<use href="#bd1" x="24.5" y="-64"/>
<use href="#bd1" x="65.8" y="-18.9"/>
<use href="#bd1" x="63.2" y="26.2"/>
<use href="#dt1" x="-59.1" y="34.4"/>
<use href="#bd1" x="68" y="-6.2"/>
<use href="#bd1" x="9.9" y="67.6"/>
<use href="#dt1" x="46.2" y="-50.3"/>
<use href="#bd1" x="-43.4" y="-52.7"/>
<use href="#bd1" x="39.4" y="55.6"/>
<use href="#bd1" x="-35.5" y="58.1"/>
<use href="#bd1" x="21.5" y="64.5"/>
<use href="#bd1" x="-59.5" y="-33"/>
<use href="#bd1" x="59.5" y="32.9"/>
<use href="#bd1" x="-64.9" y="20.3"/>
<use href="#bd1" x="-67.9" y="-1"/>
<use href="#bd1" x="-61.9" y="27.8"/>
<use href="#bd1" x="-56.1" y="-38.2"/>
<use href="#bd1" x="-66.3" y="-14.5"/>
<use href="#bd1" x="55.4" y="39.1"/>
<use href="#bd1" x="45.1" y="50.6"/>
<use href="#bd1" x="60.8" y="-29.9"/>
<use href="#bd1" x="63.3" y="-24.1"/>
<use href="#bd1" x="57.7" y="-35.3"/>
<use href="#bd1" x="18.6" y="-65"/>
<use href="#bd1" x="36.2" y="-57.1"/>
<use href="#bd1" x="-44.3" y="51"/>
<use href="#bd1" x="-66.2" y="13.6"/>
<use href="#bd1" x="4.2" y="67.4"/>
<use href="#bd1" x="29.5" y="60.7"/>
<use href="#bd1" x="-33.1" y="-58.8"/>
<use href="#bd1" x="2.5" y="-67.4"/>
<use href="#bd1" x="-64.3" y="-20.3"/>
<use href="#bd1" x="-30.2" y="60.2"/>
<use href="#bd1" x="-10" y="-66.6"/>
<use href="#bd1" x="-3.9" y="-67.2"/>
<use href="#bd1" x="66.3" y="-11.6"/>
<use href="#bd1" x="-27.6" y="-61.4"/>
<use href="#bd1" x="50.2" y="-44.9"/>
<use href="#bd1" x="-61.9" y="-26.2"/>
<use href="#bd1" x="-50.9" y="43.9"/>
<use href="#bd1" x="49.3" y="45.5"/>
<use href="#bd1" x="63.8" y="20.9"/>
<use href="#bd1" x="8.4" y="-66.4"/>
<use href="#bd1" x="-1.6" y="66.8"/>
<use href="#dt1" x="30.8" y="-59.3"/>
<use href="#bd1" x="41.1" y="-52.7"/>
<use href="#bd1" x="16.2" y="64.8"/>
<use href="#bd1" x="-47.8" y="-46.7"/>
<use href="#bd1" x="-24.7" y="62"/>
<use href="#bd1" x="-51.9" y="-42"/>
<use href="#bd1" x="66.7" y="1.7"/>
<use href="#bd1" x="66.2" y="8.2"/>
<use href="#bd1" x="65.1" y="14.8"/>
<use href="#bd1" x="-66.4" y="-6.3"/>
<use href="#bd1" x="-55.4" y="37.1"/>
<use href="#bd1" x="-66.2" y="7.7"/>
<use href="#bd1" x="-16.1" y="-64.6"/>
<use href="#bd1" x="-38.3" y="-54.5"/>
<use href="#bd1" x="-7.4" y="66"/>
<use href="#bd1" x="34.8" y="56.6"/>
<use href="#bd1" x="-19" y="63.6"/>
<use href="#bd1" x="-39.5" y="53.4"/>
<use href="#bd1" x="-13.2" y="65"/>
<use href="#bd1" x="53.6" y="-39"/>
<use href="#bd1" x="-22" y="-62.5"/>
<use href="#dt1" x="59.9" y="28"/>
<use href="#bd1" x="25.2" y="-61.1"/>
<use href="#bd1" x="63.9" y="-16.6"/>
<use href="#bd1" x="-58.5" y="30.6"/>
<use href="#bd1" x="24.4" y="61.3"/>
<use href="#bd1" x="-61.7" y="23.2"/>
<use href="#bd1" x="65.8" y="-4"/>
<use href="#bd1" x="13.7" y="-64.5"/>
<use href="#bd1" x="40.7" y="51.8"/>
<use href="#bd1" x="55.9" y="34.6"/>
<use href="#bd1" x="45.3" y="-47.7"/>
<use href="#bd1" x="-42.9" y="-49.8"/>
<use href="#bd1" x="-46.5" y="46.4"/>
<use href="#bd1" x="51.6" y="40.7"/>
<use href="#bd1" x="10.8" y="64.8"/>
<use href="#bd1" x="-65.6" y="2"/>
<use href="#bd1" x="-58.3" y="-30"/>
<use href="#bd1" x="-64.5" y="-11.5"/>
<use href="#bd1" x="-63.3" y="16.5"/>
<use href="#bd1" x="-55" y="-35.3"/>
<use href="#bd1" x="-34.4" y="55.6"/>
<use href="#bd1" x="61.4" y="-21.8"/>
<use href="#bd1" x="59" y="-27.5"/>
<use href="#bd1" x="56.1" y="-32.9"/>
<use href="#bd1" x="45.2" y="46.8"/>
<use href="#bd1" x="-62.6" y="-17.3"/>
<use href="#bd1" x="35.4" y="-54.4"/>
<use href="#bd1" x="18.9" y="-62.1"/>
<use href="#bd1" x="-51.3" y="39.8"/>
<use href="#bd1" x="1.9" y="-64.8"/>
<use href="#bd1" x="-32.8" y="-55.9"/>
<use href="#bd1" x="5.1" y="64.5"/>
<use href="#bd1" x="64" y="-9.4"/>
<use href="#bd1" x="60.6" y="22.7"/>
<use href="#bd1" x="-60.3" y="-23.2"/>
<use href="#bd1" x="29.9" y="57.3"/>
<use href="#bd1" x="-4.1" y="-64.5"/>
<use href="#bd1" x="-10.1" y="-63.8"/>
<use href="#bd1" x="-27.3" y="-58.5"/>
<use href="#bd1" x="48.8" y="-42.3"/>
<use href="#bd1" x="19.2" y="61.6"/>
<use href="#bd1" x="-29.1" y="57.5"/>
<use href="#bd1" x="-63.4" y="10.6"/>
<use href="#bd1" x="-41.8" y="48.8"/>
<use href="#bd1" x="-64.1" y="-3.3"/>
<use href="#bd1" x="62" y="16.6"/>
<use href="#bd1" x="8.7" y="-63.5"/>
<use href="#bd1" x="63.3" y="10.2"/>
<use href="#bd1" x="64" y="3.8"/>
<use href="#bd1" x="-46.8" y="-43.7"/>
<use href="#bd1" x="29.6" y="-56.8"/>
<use href="#bd1" x="-50.7" y="-39"/>
<use href="#bd1" x="-0.6" y="64"/>
<use href="#bd1" x="-54.6" y="33.4"/>
<use href="#bd1" x="39.7" y="-50.2"/>
<use href="#bd1" x="36.1" y="52.7"/>
<use href="#bd1" x="-23.5" y="59.3"/>
<use href="#bd1" x="-58.3" y="26"/>
<use href="#bd1" x="-37.5" y="-51.5"/>
<use href="#bd1" x="-15.8" y="-61.7"/>
<use href="#bd1" x="56.3" y="29.7"/>
<use href="#bd1" x="-6.4" y="63.2"/>
<use href="#bd1" x="-17.9" y="60.8"/>
<use href="#bd1" x="51.7" y="-36.7"/>
<use href="#bd1" x="47.5" y="42"/>
<use href="#bd1" x="-12.2" y="62.1"/>
<use href="#bd1" x="52" y="36.1"/>
<use href="#bd1" x="23.3" y="-58.9"/>
<use href="#bd1" x="-21.4" y="-59.6"/>
<use href="#bd1" x="13.7" y="61.6"/>
<use href="#bd1" x="-46.8" y="42.4"/>
<use href="#bd1" x="61.5" y="-14.4"/>
<use href="#bd1" x="63.1" y="-2"/>
<use href="#bd1" x="-60" y="19.4"/>
<use href="#bd1" x="-62.8" y="4.9"/>
<use href="#bd1" x="-36.8" y="51.1"/>
<use href="#bd1" x="13.9" y="-61.4"/>
<use href="#bd1" x="24.7" y="57.8"/>
<use href="#dt1" x="40.7" y="47.9"/>
<use href="#bd1" x="-41.8" y="-46.8"/>
<use href="#bd1" x="43.4" y="-45.3"/>
<use href="#bd1" x="-62.2" y="-8.5"/>
<use href="#bd1" x="-56.6" y="-27"/>
<use href="#bd1" x="-53.4" y="-32.3"/>
<use href="#bd1" x="58.9" y="-19.6"/>
<use href="#bd1" x="-60.4" y="-14.3"/>
<use href="#dt1" x="56.7" y="-25.3"/>
<use href="#dt1" x="3.9" y="-61.9"/>
<use href="#bd1" x="53.9" y="-30.6"/>
<use href="#bd1" x="8.1" y="61.4"/>
<use href="#bd1" x="57" y="24.3"/>
<use href="#bd1" x="-50.4" y="36"/>
<use href="#bd1" x="31.1" y="53.4"/>
<use href="#bd1" x="33.1" y="-52.2"/>
<use href="#bd1" x="-31.6" y="53.1"/>
<use href="#bd1" x="61.3" y="-7.4"/>
<use href="#bd1" x="-58.3" y="-20.2"/>
<use href="#bd1" x="-60.2" y="13.5"/>
<use href="#bd1" x="-31.6" y="-53"/>
<use href="#bd1" x="-2.5" y="-61.5"/>
<use href="#bd1" x="-54.4" y="28.7"/>
<use href="#bd1" x="-8.8" y="-60.8"/>
<use href="#bd1" x="-42.1" y="44.8"/>
<use href="#bd1" x="-61.4" y="-0.4"/>
<use href="#bd1" x="-26.2" y="-55.5"/>
<use href="#bd1" x="46.5" y="-40.1"/>
<use href="#bd1" x="58.5" y="18.3"/>
<use href="#bd1" x="19.4" y="58"/>
<use href="#bd1" x="60" y="12"/>
<use href="#bd1" x="60.8" y="5.6"/>
<use href="#bd1" x="2.4" y="61"/>
<use href="#bd1" x="26.6" y="-54.9"/>
<use href="#bd1" x="52.4" y="31.1"/>
<use href="#bd1" x="43.1" y="43"/>
<use href="#bd1" x="-45.2" y="-40.8"/>
<use href="#bd1" x="-26.1" y="55"/>
<use href="#bd1" x="-49" y="-36"/>
<use href="#bd1" x="19.1" y="-57.7"/>
<use href="#bd1" x="37.2" y="-48"/>
<use href="#bd1" x="47.8" y="37.3"/>
<use href="#bd1" x="-56.4" y="22.2"/>
<use href="#bd1" x="35.9" y="48.7"/>
<use href="#bd1" x="-36.1" y="-48.6"/>
<use href="#bd1" x="-14.3" y="-58.7"/>
<use href="#bd1" x="-3.3" y="60.2"/>
<use href="#bd1" x="-20.6" y="56.6"/>
<use href="#bd1" x="-59.7" y="7.8"/>
<use href="#bd1" x="49.2" y="-34.6"/>
<use href="#bd1" x="-19.9" y="-56.6"/>
<use href="#bd1" x="-9.1" y="59.3"/>
<use href="#bd1" x="8.2" y="-59.4"/>
<use href="#dt1" x="60" y="-0.1"/>
<use href="#bd1" x="-14.9" y="58.1"/>
<use href="#bd1" x="-45.9" y="38.5"/>
<use href="#bd1" x="-37" y="47"/>
<use href="#bd1" x="58.6" y="-12.4"/>
<use href="#bd1" x="25.9" y="53.9"/>
<use href="#bd1" x="-59.5" y="-5.6"/>
<use href="#bd1" x="13.9" y="58"/>
<use href="#bd1" x="13.7" y="-57.9"/>
<use href="#dt1" x="-54.4" y="-24.1"/>
<use href="#dt1" x="-40.1" y="-43.8"/>
<use href="#bd1" x="40.7" y="-43.3"/>
<use href="#bd1" x="-50.2" y="31.4"/>
<use href="#bd1" x="-51.3" y="-29.4"/>
<use href="#bd1" x="53" y="25.8"/>
<use href="#bd1" x="-56.6" y="16.4"/>
<use href="#bd1" x="-57.8" y="-11.4"/>
<use href="#bd1" x="56" y="-17.7"/>
<use href="#bd1" x="0.8" y="-58.7"/>
<use href="#bd1" x="53.7" y="-23.3"/>
<use href="#bd1" x="51" y="-28.7"/>
<use href="#bd1" x="29.6" y="-50.5"/>
<use href="#bd1" x="-31.8" y="49.1"/>
<use href="#bd1" x="-55.8" y="-17.2"/>
<use href="#bd1" x="-58.3" y="2.5"/>
<use href="#bd1" x="58.1" y="-5.6"/>
<use href="#bd1" x="38.4" y="43.9"/>
<use href="#bd1" x="8.2" y="57.7"/>
<use href="#bd1" x="-29.8" y="-50"/>
<use href="#bd1" x="30.9" y="49.3"/>
<use href="#bd1" x="-6.1" y="-57.9"/>
<use href="#bd1" x="22.2" y="-53.8"/>
<use href="#bd1" x="54.7" y="19.8"/>
<use href="#bd1" x="-52.4" y="24.9"/>
<use href="#bd1" x="48.1" y="32.3"/>
<use href="#dt1" x="-41" y="40.9"/>
<use href="#bd1" x="56.3" y="13.5"/>
<use href="#bd1" x="20.6" y="54.1"/>
<use href="#bd1" x="43.3" y="38.3"/>
<use href="#bd1" x="-24.2" y="-52.5"/>
<use href="#bd1" x="43.4" y="-38.2"/>
<use href="#bd1" x="57.2" y="7.3"/>
<use href="#bd1" x="-26.3" y="51"/>
<use href="#bd1" x="-43.1" y="-37.8"/>
<use href="#bd1" x="33.7" y="-46.3"/>
<use href="#bd1" x="-46.8" y="-33"/>
<use href="#dt1" x="2.4" y="57.2"/>
<use href="#bd1" x="-56.2" y="10.6"/>
<use href="#bd1" x="-11.6" y="-55.8"/>
<use href="#bd1" x="-34" y="-45.6"/>
<use href="#bd1" x="-45.7" y="33.9"/>
<use href="#bd1" x="-20.7" y="52.7"/>
<use href="#bd1" x="-3.4" y="56.4"/>
<use href="#bd1" x="5.5" y="-56.3"/>
<use href="#bd1" x="-56.4" y="-2.7"/>
<use href="#bd1" x="46" y="-32.8"/>
<use href="#bd1" x="56.4" y="1.5"/>
<use href="#bd1" x="-17.4" y="-53.7"/>
<use href="#dt1" x="16.8" y="-53.7"/>
<use href="#bd1" x="-15" y="54.2"/>
<use href="#bd1" x="-9.2" y="55.4"/>
<use href="#bd1" x="55.2" y="-10.7"/>
<use href="#bd1" x="-36" y="43.1"/>
<use href="#bd1" x="15" y="54"/>
<use href="#bd1" x="-52.7" y="19.1"/>
<use href="#bd1" x="25.7" y="49.7"/>
<use href="#bd1" x="-51.7" y="-21.2"/>
<use href="#bd1" x="37.1" y="-41.7"/>
<use href="#bd1" x="48.8" y="27"/>
<use href="#bd1" x="33.4" y="44.6"/>
<use href="#bd1" x="-37.8" y="-40.9"/>
<use href="#bd1" x="11" y="-54.5"/>
<use href="#bd1" x="-48.8" y="-26.4"/>
<use href="#bd1" x="25" y="-49.5"/>
<use href="#bd1" x="-54.7" y="-8.5"/>
<use href="#bd1" x="-48.1" y="27.4"/>
<use href="#bd1" x="-2.2" y="-55.1"/>
<use href="#bd1" x="-54.9" y="5.3"/>
<use href="#bd1" x="52.6" y="-16"/>
<use href="#bd1" x="38.5" y="39.2"/>
<use href="#dt1" x="43.5" y="33.3"/>
<use href="#bd1" x="-52.9" y="-14.3"/>
<use href="#bd1" x="47.6" y="-27"/>
<use href="#bd1" x="50.3" y="-21.6"/>
<use href="#bd1" x="50.5" y="21.1"/>
<use href="#bd1" x="-40.9" y="36.2"/>
<use href="#bd1" x="-30.7" y="45.2"/>
<use href="#bd1" x="54.4" y="-4"/>
<use href="#bd1" x="9.3" y="53.7"/>
<use href="#bd1" x="-27.2" y="-47.1"/>
<use href="#dt1" x="52.2" y="14.9"/>
<use href="#bd1" x="-52.3" y="13.4"/>
<use href="#bd1" x="53.3" y="8.7"/>
<use href="#bd1" x="-21.4" y="-49.6"/>
<use href="#bd1" x="39.7" y="-36.6"/>
<use href="#bd1" x="29.3" y="-45.2"/>
<use href="#bd1" x="20.3" y="49.8"/>
<use href="#dt1" x="-8" y="-53"/>
<use href="#bd1" x="-40.4" y="-34.9"/>
<use href="#dt1" x="-25.2" y="47.1"/>
<use href="#bd1" x="3.6" y="53.2"/>
<use href="#bd1" x="-44" y="-30.1"/>
<use href="#bd1" x="28.2" y="45"/>
<use href="#bd1" x="-48.4" y="21.7"/>
<use href="#bd1" x="19.7" y="-49.3"/>
<use href="#bd1" x="-31.2" y="-42.7"/>
<use href="#dt1" x="-52.9" y="0.1"/>
<use href="#bd1" x="2.6" y="-52.8"/>
<use href="#bd1" x="-43.5" y="29.9"/>
<use href="#bd1" x="-14.1" y="-50.8"/>
<use href="#bd1" x="-35.9" y="38.5"/>
<use href="#bd1" x="52.5" y="2.9"/>
<use href="#bd1" x="-19.6" y="48.7"/>
<use href="#dt1" x="42.2" y="-31.3"/>
<use href="#bd1" x="-2.2" y="52.4"/>
<use href="#bd1" x="44.2" y="27.9"/>
<use href="#bd1" x="51.3" y="-9.1"/>
<use href="#bd1" x="32.8" y="-40.5"/>
<use href="#bd1" x="-13.9" y="50.2"/>
<use href="#bd1" x="-8.1" y="51.4"/>
<use href="#bd1" x="-48.7" y="-18.3"/>
<use href="#bd1" x="33.4" y="39.7"/>
<use href="#bd1" x="14.8" y="49.7"/>
<use href="#bd1" x="-51" y="8"/>
<use href="#bd1" x="13.9" y="-49.7"/>
<use href="#bd1" x="-51.3" y="-5.6"/>
<use href="#bd1" x="8.1" y="-50.9"/>
<use href="#bd1" x="38.7" y="34.1"/>
<use href="#bd1" x="-34.9" y="-37.9"/>
<use href="#bd1" x="-45.8" y="-23.5"/>
<use href="#bd1" x="46" y="22.1"/>
<use href="#bd1" x="48.7" y="-14.6"/>
<use href="#bd1" x="-49.5" y="-11.4"/>
<use href="#bd1" x="-30.7" y="40.5"/>
<use href="#bd1" x="24.2" y="-44.6"/>
<use href="#bd1" x="-48.1" y="16.1"/>
<use href="#bd1" x="43.7" y="-25.6"/>
<use href="#bd1" x="22.9" y="45.1"/>
<use href="#bd1" x="-3.6" y="-50.4"/>
<use href="#bd1" x="46.3" y="-20.2"/>
<use href="#bd1" x="50.4" y="-2.6"/>
<use href="#bd1" x="47.8" y="16"/>
<use href="#bd1" x="-24" y="-44.2"/>
<use href="#bd1" x="-38.6" y="32.2"/>
<use href="#bd1" x="9.1" y="49.3"/>
<use href="#dt1" x="-43.9" y="24.2"/>
<use href="#bd1" x="-17.8" y="-46.7"/>
<use href="#bd1" x="49" y="9.9"/>
<use href="#bd1" x="35.3" y="-35.4"/>
<use href="#bd1" x="-25.2" y="42.4"/>
<use href="#bd1" x="-37.3" y="-32.1"/>
<use href="#bd1" x="-10" y="-48.1"/>
<use href="#bd1" x="-49.1" y="2.8"/>
<use href="#bd1" x="-40.8" y="-27.2"/>
<use href="#bd1" x="28.2" y="40.1"/>
<use href="#bd1" x="3.3" y="48.7"/>
<use href="#bd1" x="39.4" y="28.7"/>
<use href="#bd1" x="-28" y="-39.9"/>
<use href="#dt1" x="27.9" y="-39.8"/>
<use href="#bd1" x="18.7" y="-44.7"/>
<use href="#bd1" x="37.8" y="-30.2"/>
<use href="#bd1" x="48.2" y="4.1"/>
<use href="#dt1" x="17.3" y="45.1"/>
<use href="#bd1" x="-19.7" y="44.1"/>
<use href="#bd1" x="1.5" y="-48.2"/>
<use href="#bd1" x="33.6" y="34.6"/>
<use href="#bd1" x="-46.9" y="10.7"/>
<use href="#bd1" x="-33.5" y="34.4"/>
<use href="#bd1" x="-2.4" y="47.9"/>
<use href="#bd1" x="-45.2" y="-15.5"/>
<use href="#bd1" x="47.1" y="-7.9"/>
<use href="#bd1" x="-14" y="45.6"/>
<use href="#bd1" x="-8.2" y="46.8"/>
<use href="#bd1" x="-47.5" y="-2.8"/>
<use href="#bd1" x="-43.6" y="18.6"/>
<use href="#bd1" x="-39" y="26.6"/>
<use href="#bd1" x="41.2" y="22.9"/>
<use href="#bd1" x="-42.3" y="-20.7"/>
<use href="#bd1" x="12.9" y="-45.3"/>
<use href="#bd1" x="-31.4" y="-35.1"/>
<use href="#bd1" x="7.1" y="-46.5"/>
<use href="#bd1" x="-45.8" y="-8.7"/>
<use href="#bd1" x="44.4" y="-13.4"/>
<use href="#bd1" x="43.1" y="16.9"/>
<use href="#bd1" x="39.3" y="-24.5"/>
<use href="#bd1" x="11.7" y="44.8"/>
<use href="#bd1" x="22.7" y="40.2"/>
<use href="#dt1" x="-20.2" y="-41.5"/>
<use href="#bd1" x="-13.6" y="-44"/>
<use href="#bd1" x="30.4" y="-34.7"/>
<use href="#bd1" x="46" y="-1.5"/>
<use href="#bd1" x="-5.3" y="-45.7"/>
<use href="#bd1" x="41.9" y="-19"/>
<use href="#bd1" x="-28.2" y="36.4"/>
<use href="#bd1" x="44.4" y="10.9"/>
<use href="#bd1" x="22.6" y="-39.6"/>
<use href="#bd1" x="-44.9" y="5.5"/>
<use href="#bd1" x="34.3" y="29.2"/>
<use href="#bd1" x="28.3" y="34.9"/>
<use href="#dt1" x="-33.7" y="-29.3"/>
<use href="#bd1" x="6" y="44.2"/>
<use href="#bd1" x="-33.9" y="28.8"/>
<use href="#bd1" x="-22.7" y="38.2"/>
<use href="#bd1" x="-37.1" y="-24.4"/>
<use href="#bd1" x="-42.4" y="13.2"/>
<use href="#bd1" x="-24.1" y="-37.2"/>
<use href="#bd1" x="33" y="-29.4"/>
<use href="#bd1" x="-38.8" y="21"/>
<use href="#bd1" x="43.6" y="5"/>
<use href="#bd1" x="-0.1" y="-43.6"/>
<use href="#bd1" x="17.1" y="40.1"/>
<use href="#bd1" x="0.2" y="43.5"/>
<use href="#bd1" x="16.9" y="-39.9"/>
<use href="#bd1" x="-17.1" y="39.8"/>
<use href="#bd1" x="-43.3" y="-0.2"/>
<use href="#bd1" x="-41.3" y="-12.7"/>
<use href="#bd1" x="36.2" y="23.5"/>
<use href="#bd1" x="42.5" y="-6.9"/>
<use href="#dt1" x="-5.6" y="42.5"/>
<use href="#bd1" x="-11.4" y="41.3"/>
<use href="#bd1" x="-8.9" y="-41.6"/>
<use href="#bd1" x="25" y="-34.4"/>
<use href="#bd1" x="-27.5" y="-32.3"/>
<use href="#bd1" x="-38.4" y="-18"/>
<use href="#bd1" x="5.4" y="-42"/>
<use href="#bd1" x="11.2" y="-40.7"/>
<use href="#bd1" x="-28.6" y="30.9"/>
<use href="#bd1" x="-41.6" y="-6"/>
<use href="#bd1" x="-15.9" y="-38.9"/>
<use href="#dt1" x="38.1" y="17.6"/>
<use href="#bd1" x="34.4" y="-23.8"/>
<use href="#bd1" x="22.8" y="35"/>
<use href="#bd1" x="39.7" y="-12.6"/>
<use href="#dt1" x="29" y="29.5"/>
<use href="#bd1" x="37.1" y="-18.2"/>
<use href="#bd1" x="41.3" y="-0.6"/>
<use href="#bd1" x="11.4" y="39.7"/>
<use href="#bd1" x="-40.4" y="8"/>
<use href="#bd1" x="39.5" y="11.6"/>
<use href="#bd1" x="-33.8" y="23.2"/>
<use href="#bd1" x="-37.6" y="15.6"/>
<use href="#bd1" x="27.9" y="-29"/>
<use href="#bd1" x="-23.2" y="32.8"/>
<use href="#bd1" x="-19.8" y="-34.6"/>
<use href="#bd1" x="-29.6" y="-26.6"/>
<use href="#bd1" x="-3.6" y="-39.4"/>
<use href="#bd1" x="19.4" y="-34.5"/>
<use href="#bd1" x="5.6" y="39.1"/>
<use href="#bd1" x="-33" y="-21.7"/>
<use href="#bd1" x="31" y="23.9"/>
<use href="#bd1" x="38.7" y="5.7"/>
<use href="#dt1" x="-38.8" y="2.4"/>
<use href="#bd1" x="17.1" y="34.8"/>
<use href="#dt1" x="-17.6" y="34.5"/>
<use href="#bd1" x="-37" y="-10.1"/>
<use href="#bd1" x="-0.2" y="38.3"/>
<use href="#bd1" x="-11.1" y="-36.6"/>
<use href="#bd1" x="-28.5" y="25.3"/>
<use href="#dt1" x="37.5" y="-6.2"/>
<use href="#bd1" x="-11.8" y="35.9"/>
<use href="#bd1" x="23.6" y="29.6"/>
<use href="#bd1" x="-6" y="37.2"/>
<use href="#bd1" x="1.9" y="-37.6"/>
<use href="#bd1" x="13.5" y="-35.1"/>
<use href="#bd1" x="-23.1" y="-29.8"/>
<use href="#bd1" x="32.9" y="18"/>
<use href="#bd1" x="-34.2" y="-15.4"/>
<use href="#bd1" x="29.3" y="-23.4"/>
<use href="#bd1" x="-37.2" y="-3.4"/>
<use href="#bd1" x="-32.6" y="17.8"/>
<use href="#bd1" x="-35.6" y="10.4"/>
<use href="#dt1" x="7.7" y="-36.2"/>
<use href="#bd1" x="34.8" y="-12"/>
<use href="#bd1" x="22.4" y="-29"/>
<use href="#bd1" x="32" y="-17.7"/>
<use href="#bd1" x="34.3" y="12.1"/>
<use href="#bd1" x="36.3" y="-0"/>
<use href="#bd1" x="11.4" y="34.4"/>
<use href="#bd1" x="-23.1" y="27.2"/>
<use href="#bd1" x="-15.1" y="-32.2"/>
<use href="#bd1" x="25.6" y="24"/>
<use href="#bd1" x="-5.9" y="-34.5"/>
<use href="#bd1" x="-25.2" y="-24.1"/>
<use href="#bd1" x="18" y="29.4"/>
<use href="#bd1" x="-28.5" y="-19.1"/>
<use href="#bd1" x="-34" y="4.8"/>
<use href="#dt1" x="5.6" y="33.8"/>
<use href="#bd1" x="33.5" y="6.2"/>
<use href="#dt1" x="-27.4" y="19.9"/>
<use href="#bd1" x="-17.5" y="29"/>
<use href="#bd1" x="16.7" y="-29.4"/>
<use href="#bd1" x="-32.5" y="-7.7"/>
<use href="#bd1" x="23.8" y="-23.3"/>
<use href="#bd1" x="-30.6" y="12.6"/>
<use href="#bd1" x="27.5" y="18.2"/>
<use href="#bd1" x="-18.3" y="-27.3"/>
<use href="#bd1" x="-0.2" y="32.9"/>
<use href="#bd1" x="32.3" y="-5.8"/>
<use href="#bd1" x="-0.4" y="-32.7"/>
<use href="#bd1" x="-11.8" y="30.5"/>
<use href="#bd1" x="-32.5" y="-1"/>
<use href="#bd1" x="-6" y="31.8"/>
<use href="#dt1" x="-29.6" y="-12.9"/>
<use href="#bd1" x="11" y="-30.1"/>
<use href="#bd1" x="26.6" y="-17.5"/>
<use href="#bd1" x="29.5" y="-11.7"/>
<use href="#dt1" x="-10" y="-30.1"/>
<use href="#bd1" x="5.2" y="-31.2"/>
<use href="#bd1" x="29" y="12.3"/>
<use href="#bd1" x="12.3" y="29"/>
<use href="#bd1" x="20" y="23.8"/>
<use href="#bd1" x="31.1" y="0.3"/>
<use href="#bd1" x="-22" y="21.8"/>
<use href="#bd1" x="-20.4" y="-21.8"/>
<use href="#bd1" x="18.2" y="-23.6"/>
<use href="#bd1" x="-29" y="7"/>
<use href="#bd1" x="-25.4" y="14.6"/>
<use href="#bd1" x="6.5" y="28.3"/>
<use href="#bd1" x="-23.7" y="-16.8"/>
<use href="#bd1" x="28.2" y="6.4"/>
<use href="#bd1" x="-16.5" y="23.5"/>
<use href="#bd1" x="-4.6" y="-28.2"/>
<use href="#bd1" x="22" y="18.1"/>
<use href="#bd1" x="-13.2" y="-25.2"/>
<use href="#bd1" x="-27.6" y="-5.3"/>
<use href="#bd1" x="14.4" y="23.5"/>
<use href="#bd1" x="0.7" y="27.5"/>
<use href="#bd1" x="26.9" y="-5.7"/>
<use href="#bd1" x="-27.4" y="1.3"/>
<use href="#dt1" x="21" y="-17.7"/>
<use href="#bd1" x="12.5" y="-24.3"/>
<use href="#bd1" x="-10.8" y="25.1"/>
<use href="#bd1" x="-24.7" y="-10.6"/>
<use href="#bd1" x="-5.1" y="26.4"/>
<use href="#bd1" x="24.1" y="-11.7"/>
<use href="#bd1" x="1" y="-26.6"/>
<use href="#dt1" x="23.4" y="12.3"/>
<use href="#bd1" x="6.7" y="-25.3"/>
<use href="#bd1" x="-20" y="16.5"/>
<use href="#bd1" x="25.6" y="0.3"/>
<use href="#bd1" x="-23.7" y="9.1"/>
<use href="#bd1" x="-15.3" y="-19.7"/>
<use href="#bd1" x="-7.8" y="-23.2"/>
<use href="#bd1" x="8.6" y="22.9"/>
<use href="#bd1" x="16.3" y="17.8"/>
<use href="#bd1" x="15.2" y="-18.2"/>
<use href="#bd1" x="-18.6" y="-14.6"/>
<use href="#bd1" x="22.7" y="6.3"/>
<use href="#bd1" x="-14.4" y="18.2"/>
<use href="#bd1" x="-22.5" y="-3.2"/>
<use href="#dt1" x="-22.2" y="3.3"/>
<use href="#bd1" x="2.8" y="22.1"/>
<use href="#bd1" x="21.3" y="-5.8"/>
<use href="#bd1" x="18.5" y="-12"/>
<use href="#bd1" x="-2.2" y="-21.5"/>
<use href="#bd1" x="-8.7" y="19.7"/>
<use href="#bd1" x="17.8" y="12"/>
<use href="#bd1" x="-19.6" y="-8.5"/>
<use href="#bd1" x="-18.2" y="11"/>
<use href="#bd1" x="-3" y="21"/>
<use href="#bd1" x="9.4" y="-19"/>
<use href="#bd1" x="3.6" y="-20.1"/>
<use href="#bd1" x="-9.9" y="-17.7"/>
<use href="#bd1" x="10.5" y="17.3"/>
<use href="#bd1" x="20" y="0.1"/>
<use href="#bd1" x="-13.2" y="-12.6"/>
<use href="#bd1" x="17" y="5.9"/>
<use href="#bd1" x="12.7" y="-12.6"/>
<use href="#bd1" x="-12.6" y="12.7"/>
<use href="#bd1" x="-16.7" y="5.2"/>
<use href="#bd1" x="-17.2" y="-1.2"/>
<use href="#bd1" x="4.7" y="16.5"/>
<use href="#bd1" x="15.5" y="-6.3"/>
<use href="#bd1" x="-4.4" y="-16"/>
<use href="#bd1" x="12" y="11.5"/>
<use href="#dt1" x="-6.9" y="14.1"/>
<use href="#bd1" x="-14.2" y="-6.6"/>
<use href="#bd1" x="-1.1" y="15.4"/>
<use href="#bd1" x="7" y="-13.4"/>
<use href="#bd1" x="1.2" y="-14.6"/>
<use href="#bd1" x="14.3" y="-0.3"/>
<use href="#bd1" x="-7.6" y="-10.8"/>
<use href="#bd1" x="-11.1" y="6.9"/>
<use href="#bd1" x="11.3" y="5.3"/>
<use href="#bd1" x="6.2" y="10.7"/>
<use href="#bd1" x="9.7" y="-7"/>
<use href="#bd1" x="-11.7" y="0.5"/>
<use href="#bd1" x="-5.4" y="8.4"/>
<use href="#bd1" x="-8.7" y="-4.8"/>
<use href="#bd1" x="0.4" y="9.7"/>
<use href="#dt1" x="-1.9" y="-9.3"/>
<use href="#bd1" x="3.9" y="-8"/>
<use href="#bd1" x="8.5" y="-1.1"/>
<use href="#dt1" x="5.5" y="4.5"/>
<use href="#bd1" x="-6" y="2.1"/>
<use href="#bd1" x="-3" y="-3.3"/>
<use href="#bd1" x="2.8" y="-2.1"/>
<use href="#bd1" x="-0.3" y="3.4"/>
</g>
<circle cx="189.5" cy="177" r="78" fill="url(#sphshade)"/>
</g>
<circle cx="270.1" cy="177" r="3.35" fill="url(#rbead)" stroke="#8a1026" stroke-width="0.6"/>
<circle cx="269.8" cy="183.8" r="3.35" fill="url(#rbead)" stroke="#8a1026" stroke-width="0.6"/>
<circle cx="268.9" cy="190.6" r="3.35" fill="url(#rbead)" stroke="#8a1026" stroke-width="0.6"/>
<circle cx="267.5" cy="197.3" r="3.35" fill="url(#rbead)" stroke="#8a1026" stroke-width="0.6"/>
<circle cx="265.5" cy="203.9" r="3.35" fill="url(#rbead)" stroke="#8a1026" stroke-width="0.6"/>
<circle cx="262.9" cy="210.2" r="3.35" fill="url(#rbead)" stroke="#8a1026" stroke-width="0.6"/>
<circle cx="259.9" cy="216.3" r="3.35" fill="url(#rbead)" stroke="#8a1026" stroke-width="0.6"/>
<circle cx="256.3" cy="222.1" r="3.35" fill="url(#rbead)" stroke="#8a1026" stroke-width="0.6"/>
<circle cx="252.2" cy="227.6" r="3.35" fill="url(#rbead)" stroke="#8a1026" stroke-width="0.6"/>
<circle cx="247.7" cy="232.8" r="3.35" fill="url(#rbead)" stroke="#8a1026" stroke-width="0.6"/>
<circle cx="242.8" cy="237.5" r="3.35" fill="url(#rbead)" stroke="#8a1026" stroke-width="0.6"/>
<circle cx="237.4" cy="241.8" r="3.35" fill="url(#rbead)" stroke="#8a1026" stroke-width="0.6"/>
<circle cx="231.8" cy="245.6" r="3.35" fill="url(#rbead)" stroke="#8a1026" stroke-width="0.6"/>
<circle cx="225.8" cy="249" r="3.35" fill="url(#rbead)" stroke="#8a1026" stroke-width="0.6"/>
<circle cx="219.6" cy="251.8" r="3.35" fill="url(#rbead)" stroke="#8a1026" stroke-width="0.6"/>
<circle cx="213.1" cy="254.1" r="3.35" fill="url(#rbead)" stroke="#8a1026" stroke-width="0.6"/>
<circle cx="206.5" cy="255.8" r="3.35" fill="url(#rbead)" stroke="#8a1026" stroke-width="0.6"/>
<circle cx="199.7" cy="256.9" r="3.35" fill="url(#rbead)" stroke="#8a1026" stroke-width="0.6"/>
<circle cx="192.9" cy="257.5" r="3.35" fill="url(#rbead)" stroke="#8a1026" stroke-width="0.6"/>
<circle cx="186.1" cy="257.5" r="3.35" fill="url(#rbead)" stroke="#8a1026" stroke-width="0.6"/>
<circle cx="179.3" cy="256.9" r="3.35" fill="url(#rbead)" stroke="#8a1026" stroke-width="0.6"/>
<circle cx="172.5" cy="255.8" r="3.35" fill="url(#rbead)" stroke="#8a1026" stroke-width="0.6"/>
<circle cx="165.9" cy="254.1" r="3.35" fill="url(#rbead)" stroke="#8a1026" stroke-width="0.6"/>
<circle cx="159.4" cy="251.8" r="3.35" fill="url(#rbead)" stroke="#8a1026" stroke-width="0.6"/>
<circle cx="153.2" cy="249" r="3.35" fill="url(#rbead)" stroke="#8a1026" stroke-width="0.6"/>
<circle cx="147.2" cy="245.6" r="3.35" fill="url(#rbead)" stroke="#8a1026" stroke-width="0.6"/>
<circle cx="141.6" cy="241.8" r="3.35" fill="url(#rbead)" stroke="#8a1026" stroke-width="0.6"/>
<circle cx="136.2" cy="237.5" r="3.35" fill="url(#rbead)" stroke="#8a1026" stroke-width="0.6"/>
<circle cx="131.3" cy="232.8" r="3.35" fill="url(#rbead)" stroke="#8a1026" stroke-width="0.6"/>
<circle cx="126.8" cy="227.6" r="3.35" fill="url(#rbead)" stroke="#8a1026" stroke-width="0.6"/>
<circle cx="122.7" cy="222.1" r="3.35" fill="url(#rbead)" stroke="#8a1026" stroke-width="0.6"/>
<circle cx="119.1" cy="216.3" r="3.35" fill="url(#rbead)" stroke="#8a1026" stroke-width="0.6"/>
<circle cx="116.1" cy="210.2" r="3.35" fill="url(#rbead)" stroke="#8a1026" stroke-width="0.6"/>
<circle cx="113.5" cy="203.9" r="3.35" fill="url(#rbead)" stroke="#8a1026" stroke-width="0.6"/>
<circle cx="111.5" cy="197.3" r="3.35" fill="url(#rbead)" stroke="#8a1026" stroke-width="0.6"/>
<circle cx="110.1" cy="190.6" r="3.35" fill="url(#rbead)" stroke="#8a1026" stroke-width="0.6"/>
<circle cx="109.2" cy="183.8" r="3.35" fill="url(#rbead)" stroke="#8a1026" stroke-width="0.6"/>
<circle cx="108.9" cy="177" r="3.35" fill="url(#rbead)" stroke="#8a1026" stroke-width="0.6"/>
<circle cx="109.2" cy="170.2" r="3.35" fill="url(#rbead)" stroke="#8a1026" stroke-width="0.6"/>
<circle cx="110.1" cy="163.4" r="3.35" fill="url(#rbead)" stroke="#8a1026" stroke-width="0.6"/>
<circle cx="111.5" cy="156.7" r="3.35" fill="url(#rbead)" stroke="#8a1026" stroke-width="0.6"/>
<circle cx="113.5" cy="150.1" r="3.35" fill="url(#rbead)" stroke="#8a1026" stroke-width="0.6"/>
<circle cx="116.1" cy="143.8" r="3.35" fill="url(#rbead)" stroke="#8a1026" stroke-width="0.6"/>
<circle cx="119.1" cy="137.7" r="3.35" fill="url(#rbead)" stroke="#8a1026" stroke-width="0.6"/>
<circle cx="122.7" cy="131.9" r="3.35" fill="url(#rbead)" stroke="#8a1026" stroke-width="0.6"/>
<circle cx="126.8" cy="126.4" r="3.35" fill="url(#rbead)" stroke="#8a1026" stroke-width="0.6"/>
<circle cx="131.3" cy="121.2" r="3.35" fill="url(#rbead)" stroke="#8a1026" stroke-width="0.6"/>
<circle cx="136.2" cy="116.5" r="3.35" fill="url(#rbead)" stroke="#8a1026" stroke-width="0.6"/>
<circle cx="141.6" cy="112.2" r="3.35" fill="url(#rbead)" stroke="#8a1026" stroke-width="0.6"/>
<circle cx="147.2" cy="108.4" r="3.35" fill="url(#rbead)" stroke="#8a1026" stroke-width="0.6"/>
<circle cx="153.2" cy="105" r="3.35" fill="url(#rbead)" stroke="#8a1026" stroke-width="0.6"/>
<circle cx="159.4" cy="102.2" r="3.35" fill="url(#rbead)" stroke="#8a1026" stroke-width="0.6"/>
<circle cx="165.9" cy="99.9" r="3.35" fill="url(#rbead)" stroke="#8a1026" stroke-width="0.6"/>
<circle cx="172.5" cy="98.2" r="3.35" fill="url(#rbead)" stroke="#8a1026" stroke-width="0.6"/>
<circle cx="179.3" cy="97.1" r="3.35" fill="url(#rbead)" stroke="#8a1026" stroke-width="0.6"/>
<circle cx="186.1" cy="96.5" r="3.35" fill="url(#rbead)" stroke="#8a1026" stroke-width="0.6"/>
<circle cx="192.9" cy="96.5" r="3.35" fill="url(#rbead)" stroke="#8a1026" stroke-width="0.6"/>
<circle cx="199.7" cy="97.1" r="3.35" fill="url(#rbead)" stroke="#8a1026" stroke-width="0.6"/>
<circle cx="206.5" cy="98.2" r="3.35" fill="url(#rbead)" stroke="#8a1026" stroke-width="0.6"/>
<circle cx="213.1" cy="99.9" r="3.35" fill="url(#rbead)" stroke="#8a1026" stroke-width="0.6"/>
<circle cx="219.6" cy="102.2" r="3.35" fill="url(#rbead)" stroke="#8a1026" stroke-width="0.6"/>
<circle cx="225.8" cy="105" r="3.35" fill="url(#rbead)" stroke="#8a1026" stroke-width="0.6"/>
<circle cx="231.8" cy="108.4" r="3.35" fill="url(#rbead)" stroke="#8a1026" stroke-width="0.6"/>
<circle cx="237.4" cy="112.2" r="3.35" fill="url(#rbead)" stroke="#8a1026" stroke-width="0.6"/>
<circle cx="242.8" cy="116.5" r="3.35" fill="url(#rbead)" stroke="#8a1026" stroke-width="0.6"/>
<circle cx="247.7" cy="121.2" r="3.35" fill="url(#rbead)" stroke="#8a1026" stroke-width="0.6"/>
<circle cx="252.2" cy="126.4" r="3.35" fill="url(#rbead)" stroke="#8a1026" stroke-width="0.6"/>
<circle cx="256.3" cy="131.9" r="3.35" fill="url(#rbead)" stroke="#8a1026" stroke-width="0.6"/>
<circle cx="259.9" cy="137.7" r="3.35" fill="url(#rbead)" stroke="#8a1026" stroke-width="0.6"/>
<circle cx="262.9" cy="143.8" r="3.35" fill="url(#rbead)" stroke="#8a1026" stroke-width="0.6"/>
<circle cx="265.5" cy="150.1" r="3.35" fill="url(#rbead)" stroke="#8a1026" stroke-width="0.6"/>
<circle cx="267.5" cy="156.7" r="3.35" fill="url(#rbead)" stroke="#8a1026" stroke-width="0.6"/>
<circle cx="268.9" cy="163.4" r="3.35" fill="url(#rbead)" stroke="#8a1026" stroke-width="0.6"/>
<circle cx="269.8" cy="170.2" r="3.35" fill="url(#rbead)" stroke="#8a1026" stroke-width="0.6"/>
<circle cx="704.5" cy="181" r="98" fill="url(#shadow2)"/>
<g clip-path="url(#clip2)">
<circle cx="704.5" cy="181" r="78" fill="#6e7e79"/>
<g transform="translate(704.5,181)">
<use href="#bd2" x="-46.4" y="-60.4"/>
<use href="#bd2" x="-67.8" y="-34.7"/>
<use href="#bd2" x="-19.9" y="-73.5"/>
<use href="#bd2" x="28.4" y="70.7"/>
<use href="#bd2" x="41.2" y="-64.1"/>
<use href="#bd2" x="31.3" y="-69.4"/>
<use href="#bd2" x="70.1" y="-29.7"/>
<use href="#bd2" x="64.8" y="40"/>
<use href="#bd2" x="-75.5" y="10.2"/>
<use href="#bd2" x="-11.8" y="-75.2"/>
<use href="#bd2" x="61" y="45.6"/>
<use href="#bd2" x="-70.1" y="29.7"/>
<use href="#bd2" x="63.8" y="-41.7"/>
<use href="#bd2" x="-74.5" y="-15.7"/>
<use href="#bd2" x="-1.8" y="-76.1"/>
<use href="#bd2" x="-74.2" y="17"/>
<use href="#bd2" x="-35.2" y="-67.5"/>
<use href="#bd2" x="56.6" y="50.9"/>
<use href="#bd2" x="67.3" y="-35.6"/>
<use href="#bd2" x="-76.1" y="4"/>
<use href="#bd2" x="40.9" y="64.3"/>
<use href="#bd2" x="75.5" y="9.6"/>
<use href="#bd2" x="-61.2" y="-45.3"/>
<use href="#bd2" x="-48" y="59.1"/>
<use href="#bd2" x="54.9" y="-52.7"/>
<use href="#bd2" x="-30" y="70"/>
<use href="#bd2" x="-70.8" y="-28"/>
<use href="#bd2" x="-63.3" y="42.3"/>
<use href="#bd2" x="49.4" y="-58"/>
<use href="#bd2" x="75.5" y="-9.7"/>
<use href="#bd2" x="-2.2" y="76.1"/>
<use href="#bd2" x="72.7" y="22.8"/>
<use href="#bd2" x="-39.9" y="64.9"/>
<use href="#bd2" x="46.1" y="60.6"/>
<use href="#bd2" x="-53.6" y="54.1"/>
<use href="#bd2" x="-73" y="-21.5"/>
<use href="#bd2" x="-75.7" y="-8.6"/>
<use href="#bd2" x="76.1" y="-2.9"/>
<use href="#bd2" x="-58.5" y="48.7"/>
<use href="#bd2" x="15.2" y="-74.6"/>
<use href="#bd2" x="51.2" y="56.4"/>
<use href="#bd2" x="74.2" y="16.8"/>
<use href="#bd2" x="20.9" y="-73.2"/>
<use href="#bd2" x="-76.1" y="-1.7"/>
<use href="#bd2" x="8.6" y="75.6"/>
<use href="#bd2" x="35.8" y="-67.2"/>
<use href="#bd2" x="-29.9" y="-70"/>
<use href="#bd2" x="-57.6" y="-49.7"/>
<use href="#bd2" x="9.4" y="-75.5"/>
<use href="#bd2" x="-24.8" y="72"/>
<use href="#bd2" x="17.6" y="74"/>
<use href="#bd2" x="-7.8" y="75.7"/>
<use href="#bd2" x="-42.7" y="-63"/>
<use href="#bd2" x="-53.2" y="-54.4"/>
<use href="#bd2" x="76" y="4.3"/>
<use href="#bd2" x="32.5" y="68.8"/>
<use href="#bd2" x="-6.7" y="-75.8"/>
<use href="#bd2" x="-71.8" y="25"/>
<use href="#bd2" x="-23.6" y="-72.3"/>
<use href="#bd2" x="44.8" y="-61.5"/>
<use href="#bd2" x="67.1" y="35.9"/>
<use href="#bd2" x="-19.3" y="73.6"/>
<use href="#bd2" x="-16.1" y="-74.3"/>
<use href="#bd2" x="60.9" y="-45.5"/>
<use href="#bd2" x="-13.5" y="74.8"/>
<use href="#bd2" x="26.3" y="-71.4"/>
<use href="#bd2" x="-66" y="37.9"/>
<use href="#bd2" x="73" y="-21.4"/>
<use href="#bd2" x="69.9" y="30"/>
<use href="#bd2" x="24.7" y="71.9"/>
<use href="#bd2" x="-48.6" y="-58.5"/>
<use href="#bd2" x="74.6" y="-14.8"/>
<use href="#bd2" x="-65.7" y="-38.3"/>
<use href="#bd2" x="3.8" y="-75.9"/>
<use href="#bd2" x="-68.8" y="-32.4"/>
<use href="#bd2" x="-35.4" y="67.3"/>
<use href="#bd2" x="-44.4" y="61.7"/>
<use href="#bd2" x="71" y="-27.2"/>
<use href="#bd2" x="63.2" y="42.1"/>
<use href="#bd2" x="-74.9" y="12.8"/>
<use href="#bd2" x="59.2" y="47.6"/>
<use href="#bd2" x="-68.8" y="32.3"/>
<use href="#bd2" x="37.9" y="65.8"/>
<use href="#bd2" x="65.2" y="-39.1"/>
<use href="#bd2" x="-37.9" y="-65.8"/>
<use href="#bd2" x="3.4" y="75.9"/>
<use href="#bd2" x="52" y="-55.3"/>
<use href="#bd2" x="54.5" y="52.9"/>
<use href="#bd2" x="68.4" y="-33"/>
<use href="#bd2" x="-73.4" y="19.6"/>
<use href="#bd2" x="57.1" y="-50.1"/>
<use href="#bd2" x="-74.8" y="-13.3"/>
<use href="#bd2" x="-50.5" y="56.7"/>
<use href="#bd2" x="-61.2" y="45"/>
<use href="#bd2" x="-75.7" y="6.5"/>
<use href="#bd2" x="-62.5" y="-43.2"/>
<use href="#bd2" x="75" y="12"/>
<use href="#bd2" x="39.7" y="-64.7"/>
<use href="#bd2" x="-71.4" y="-25.6"/>
<use href="#bd2" x="43.4" y="62.2"/>
<use href="#bd2" x="31.2" y="-69.2"/>
<use href="#bd2" x="-55.9" y="51.3"/>
<use href="#bd2" x="13.1" y="74.7"/>
<use href="#bd2" x="75.5" y="-7.2"/>
<use href="#bd2" x="71.6" y="25"/>
<use href="#bd2" x="-73.4" y="-19.1"/>
<use href="#bd2" x="-30.5" y="69.4"/>
<use href="#bd2" x="-75.6" y="-6.1"/>
<use href="#bd2" x="-1.5" y="-75.8"/>
<use href="#bd2" x="48.7" y="58.1"/>
<use href="#bd2" x="75.8" y="-0.5"/>
<use href="#bd2" x="-11.1" y="-75"/>
<use href="#bd2" x="-32.7" y="-68.4"/>
<use href="#bd2" x="73.3" y="19.1"/>
<use href="#bd2" x="-2.1" y="75.7"/>
<use href="#bd2" x="-75.7" y="0.8"/>
<use href="#bd2" x="16" y="-74"/>
<use href="#bd2" x="28.9" y="70"/>
<use href="#bd2" x="-58.9" y="-47.6"/>
<use href="#bd2" x="20.6" y="72.9"/>
<use href="#bd2" x="47.7" y="-58.8"/>
<use href="#bd2" x="-40.3" y="64.1"/>
<use href="#bd2" x="-26.7" y="-70.8"/>
<use href="#bd2" x="-44.7" y="-61.1"/>
<use href="#bd2" x="-19.8" y="-73.1"/>
<use href="#bd2" x="-54.7" y="-52.3"/>
<use href="#bd2" x="10.3" y="-75"/>
<use href="#bd2" x="-70.4" y="27.7"/>
<use href="#bd2" x="21.7" y="-72.5"/>
<use href="#bd2" x="75.4" y="6.7"/>
<use href="#bd2" x="-63.9" y="40.5"/>
<use href="#bd2" x="-25.1" y="71.4"/>
<use href="#bd2" x="62.3" y="-42.9"/>
<use href="#bd2" x="65.4" y="37.9"/>
<use href="#bd2" x="-7.8" y="75.2"/>
<use href="#bd2" x="68.4" y="32.1"/>
<use href="#bd2" x="73.2" y="-18.9"/>
<use href="#bd2" x="-50.2" y="-56.5"/>
<use href="#bd2" x="-46.9" y="59.2"/>
<use href="#bd2" x="74.5" y="-12.4"/>
<use href="#bd2" x="8.2" y="75.1"/>
<use href="#bd2" x="-66.4" y="-36"/>
<use href="#bd2" x="-19.5" y="73"/>
<use href="#bd2" x="35.3" y="-66.8"/>
<use href="#bd2" x="-13.7" y="74.3"/>
<use href="#bd2" x="34.5" y="67.2"/>
<use href="#bd2" x="-69.3" y="-30.1"/>
<use href="#bd2" x="-66.9" y="35"/>
<use href="#bd2" x="-58.5" y="47.6"/>
<use href="#bd2" x="61.2" y="44.1"/>
<use href="#bd2" x="57" y="49.4"/>
<use href="#bd2" x="71.3" y="-24.7"/>
<use href="#bd2" x="-73.9" y="15.4"/>
<use href="#bd2" x="42.9" y="-62.1"/>
<use href="#bd2" x="54" y="-52.7"/>
<use href="#bd2" x="4.7" y="-75.3"/>
<use href="#bd2" x="66" y="-36.5"/>
<use href="#bd2" x="-40" y="-63.9"/>
<use href="#bd2" x="58.6" y="-47.5"/>
<use href="#bd2" x="52" y="54.6"/>
<use href="#bd2" x="-6.1" y="-75.2"/>
<use href="#bd2" x="-52.7" y="54"/>
<use href="#bd2" x="26.8" y="-70.5"/>
<use href="#bd2" x="-72.1" y="22.2"/>
<use href="#bd2" x="68.9" y="-30.5"/>
<use href="#bd2" x="-35.7" y="66.4"/>
<use href="#bd2" x="-74.8" y="9"/>
<use href="#bd2" x="40.2" y="63.7"/>
<use href="#bd2" x="-74.6" y="-10.8"/>
<use href="#bd2" x="74" y="14.2"/>
<use href="#bd2" x="-63.2" y="-40.9"/>
<use href="#bd2" x="-14.8" y="-73.8"/>
<use href="#bd2" x="16" y="73.5"/>
<use href="#bd2" x="-71.6" y="-23.2"/>
<use href="#bd2" x="45.7" y="59.7"/>
<use href="#bd2" x="24.7" y="71"/>
<use href="#bd2" x="70.1" y="27.1"/>
<use href="#bd2" x="75" y="-4.9"/>
<use href="#bd2" x="2.9" y="75.1"/>
<use href="#bd2" x="-73.3" y="-16.7"/>
<use href="#bd2" x="-75.1" y="-3.6"/>
<use href="#bd2" x="-34.9" y="-66.5"/>
<use href="#bd2" x="75.1" y="1.8"/>
<use href="#bd2" x="49.8" y="-56.2"/>
<use href="#bd2" x="-42.8" y="61.6"/>
<use href="#bd2" x="72" y="21.2"/>
<use href="#bd2" x="-74.9" y="3.4"/>
<use href="#bd2" x="-30.7" y="68.4"/>
<use href="#bd2" x="-22.7" y="-71.5"/>
<use href="#bd2" x="-61.3" y="43.1"/>
<use href="#bd2" x="-29.2" y="-69.1"/>
<use href="#bd2" x="-59.7" y="-45.3"/>
<use href="#bd2" x="-68.5" y="30.3"/>
<use href="#bd2" x="-0.3" y="-74.9"/>
<use href="#bd2" x="-46.2" y="-59"/>
<use href="#bd2" x="-55.7" y="-50"/>
<use href="#bd2" x="31.2" y="-68.1"/>
<use href="#bd2" x="17.5" y="-72.8"/>
<use href="#bd2" x="38.6" y="-64.2"/>
<use href="#bd2" x="-2.6" y="74.8"/>
<use href="#bd2" x="74.3" y="8.9"/>
<use href="#bd2" x="30.6" y="68.3"/>
<use href="#bd2" x="63.3" y="39.8"/>
<use href="#bd2" x="11.8" y="-73.9"/>
<use href="#bd2" x="63" y="-40.4"/>
<use href="#bd2" x="66.5" y="34.1"/>
<use href="#bd2" x="-55.4" y="50.2"/>
<use href="#bd2" x="-48.9" y="56.5"/>
<use href="#bd2" x="72.9" y="-16.5"/>
<use href="#bd2" x="-25.4" y="70.3"/>
<use href="#bd2" x="11.1" y="73.9"/>
<use href="#bd2" x="-51.3" y="-54.3"/>
<use href="#bd2" x="-64.5" y="37.6"/>
<use href="#bd2" x="74" y="-10"/>
<use href="#bd2" x="-9.9" y="-74"/>
<use href="#bd2" x="-66.6" y="-33.6"/>
<use href="#bd2" x="45.1" y="-59.5"/>
<use href="#bd2" x="-69.3" y="-27.7"/>
<use href="#bd2" x="-8.3" y="74.1"/>
<use href="#dt2" x="54.3" y="51.1"/>
<use href="#bd2" x="58.8" y="45.9"/>
<use href="#bd2" x="22.9" y="-71"/>
<use href="#bd2" x="-72.4" y="18"/>
<use href="#bd2" x="49" y="56.2"/>
<use href="#bd2" x="36.6" y="65"/>
<use href="#bd2" x="55.2" y="-50.1"/>
<use href="#bd2" x="-19.8" y="71.9"/>
<use href="#bd2" x="-70.3" y="24.8"/>
<use href="#bd2" x="71.1" y="-22.2"/>
<use href="#bd2" x="20.1" y="71.7"/>
<use href="#bd2" x="-14.1" y="73.2"/>
<use href="#dt2" x="59.4" y="-45"/>
<use href="#bd2" x="66.3" y="-34"/>
<use href="#bd2" x="-38.2" y="63.9"/>
<use href="#bd2" x="-41.5" y="-61.8"/>
<use href="#bd2" x="-73.5" y="11.6"/>
<use href="#bd2" x="68.9" y="-28.1"/>
<use href="#bd2" x="6.3" y="-74.1"/>
<use href="#bd2" x="-73.9" y="-8.2"/>
<use href="#bd2" x="-17.7" y="-72.2"/>
<use href="#bd2" x="42.3" y="61.1"/>
<use href="#bd2" x="72.5" y="16.3"/>
<use href="#bd2" x="-63.5" y="-38.5"/>
<use href="#bd2" x="-71.3" y="-20.7"/>
<use href="#bd2" x="68.2" y="29.1"/>
<use href="#bd2" x="5.8" y="73.9"/>
<use href="#bd2" x="74.1" y="-2.6"/>
<use href="#bd2" x="-72.7" y="-14.1"/>
<use href="#bd2" x="-58.3" y="45.7"/>
<use href="#bd2" x="-74.1" y="-1"/>
<use href="#bd2" x="-4.4" y="-73.9"/>
<use href="#bd2" x="-36.5" y="-64.4"/>
<use href="#bd2" x="73.9" y="4"/>
<use href="#bd2" x="-44.7" y="58.9"/>
<use href="#bd2" x="26.3" y="69.2"/>
<use href="#bd2" x="34.4" y="-65.5"/>
<use href="#bd2" x="51" y="-53.6"/>
<use href="#bd2" x="-33.3" y="66"/>
<use href="#bd2" x="-73.7" y="6"/>
<use href="#bd2" x="70.2" y="23.2"/>
<use href="#bd2" x="-66.2" y="33"/>
<use href="#bd2" x="-51.8" y="52.7"/>
<use href="#bd2" x="-24.9" y="-69.6"/>
<use href="#bd2" x="27.3" y="-68.7"/>
<use href="#bd2" x="-30.9" y="-67.1"/>
<use href="#bd2" x="40.8" y="-61.5"/>
<use href="#bd2" x="-60.1" y="-42.9"/>
<use href="#bd2" x="-47.1" y="-56.7"/>
<use href="#bd2" x="15.2" y="72.2"/>
<use href="#bd2" x="60.8" y="41.6"/>
<use href="#bd2" x="0.3" y="73.7"/>
<use href="#bd2" x="-56.2" y="-47.7"/>
<use href="#bd2" x="-61.7" y="40.2"/>
<use href="#bd2" x="72.8" y="11"/>
<use href="#bd2" x="64.2" y="35.9"/>
<use href="#bd2" x="32.6" y="66"/>
<use href="#bd2" x="63.1" y="-37.9"/>
<use href="#bd2" x="14.5" y="-72.1"/>
<use href="#bd2" x="1.6" y="-73.5"/>
<use href="#bd2" x="-12.8" y="-72.4"/>
<use href="#bd2" x="-28" y="67.9"/>
<use href="#bd2" x="51.2" y="52.7"/>
<use href="#dt2" x="72.1" y="-14.2"/>
<use href="#bd2" x="-51.9" y="-52"/>
<use href="#bd2" x="45.6" y="57.6"/>
<use href="#bd2" x="46.5" y="-56.9"/>
<use href="#bd2" x="56" y="47.5"/>
<use href="#bd2" x="-70.4" y="20.6"/>
<use href="#bd2" x="73" y="-7.8"/>
<use href="#dt2" x="-66.4" y="-31.1"/>
<use href="#bd2" x="-68" y="27.5"/>
<use href="#bd2" x="-68.9" y="-25.2"/>
<use href="#bd2" x="19.9" y="-70.6"/>
<use href="#bd2" x="-5.4" y="73.1"/>
<use href="#bd2" x="55.6" y="-47.6"/>
<use href="#bd2" x="-40.1" y="61.3"/>
<use href="#dt2" x="38.5" y="62.3"/>
<use href="#bd2" x="-22.5" y="69.6"/>
<use href="#bd2" x="70.4" y="-19.9"/>
<use href="#bd2" x="-71.8" y="14.3"/>
<use href="#bd2" x="59.5" y="-42.5"/>
<use href="#bd2" x="65.9" y="-31.7"/>
<use href="#bd2" x="9" y="-72.6"/>
<use href="#dt2" x="-42.4" y="-59.6"/>
<use href="#bd2" x="-11.1" y="72.2"/>
<use href="#bd2" x="21.6" y="69.8"/>
<use href="#bd2" x="-54.8" y="48.3"/>
<use href="#bd2" x="-72.8" y="-5.6"/>
<use href="#bd2" x="-16.9" y="71.1"/>
<use href="#bd2" x="68.3" y="-25.7"/>
<use href="#bd2" x="-19.8" y="-70.3"/>
<use href="#bd2" x="9.9" y="72.3"/>
<use href="#bd2" x="70.6" y="18.3"/>
<use href="#bd2" x="-47.7" y="55.2"/>
<use href="#bd2" x="-63.4" y="-36"/>
<use href="#bd2" x="-70.5" y="-18.1"/>
<use href="#bd2" x="65.9" y="30.9"/>
<use href="#bd2" x="-7.4" y="-72.4"/>
<use href="#bd2" x="-72.7" y="1.6"/>
<use href="#bd2" x="-71.7" y="-11.6"/>
<use href="#bd2" x="-63.4" y="35.6"/>
<use href="#bd2" x="30.3" y="-66.1"/>
<use href="#bd2" x="72.7" y="-0.5"/>
<use href="#bd2" x="36.3" y="-62.8"/>
<use href="#bd2" x="-37.3" y="-62.2"/>
<use href="#bd2" x="72.3" y="6"/>
<use href="#bd2" x="-72" y="8.6"/>
<use href="#bd2" x="-35.2" y="63.4"/>
<use href="#bd2" x="68" y="25.1"/>
<use href="#bd2" x="28.2" y="66.8"/>
<use href="#bd2" x="51.4" y="-51"/>
<use href="#bd2" x="-58.4" y="42.8"/>
<use href="#dt2" x="24" y="-68.2"/>
<use href="#bd2" x="-26.3" y="-67.4"/>
<use href="#bd2" x="-32" y="-64.9"/>
<use href="#dt2" x="41.9" y="-58.9"/>
<use href="#bd2" x="4.4" y="72.1"/>
<use href="#bd2" x="57.9" y="43.2"/>
<use href="#bd2" x="-59.9" y="-40.4"/>
<use href="#bd2" x="-47.5" y="-54.4"/>
<use href="#bd2" x="-1.7" y="-72.1"/>
<use href="#bd2" x="41.8" y="58.7"/>
<use href="#bd2" x="61.5" y="37.6"/>
<use href="#bd2" x="70.9" y="12.9"/>
<use href="#bd2" x="16.7" y="70.1"/>
<use href="#bd2" x="47.7" y="54"/>
<use href="#bd2" x="-56.1" y="-45.2"/>
<use href="#bd2" x="-43.3" y="57.5"/>
<use href="#bd2" x="-65.3" y="30.1"/>
<use href="#bd2" x="52.7" y="48.9"/>
<use href="#bd2" x="34.3" y="63.2"/>
<use href="#dt2" x="4.8" y="-71.8"/>
<use href="#bd2" x="-68" y="23.3"/>
<use href="#bd2" x="62.5" y="-35.5"/>
<use href="#bd2" x="-29.9" y="65.4"/>
<use href="#bd2" x="-50.9" y="50.7"/>
<use href="#bd2" x="-14.6" y="-70.4"/>
<use href="#bd2" x="70.8" y="-12.1"/>
<use href="#bd2" x="-51.9" y="-49.5"/>
<use href="#bd2" x="46.8" y="-54.4"/>
<use href="#bd2" x="16.1" y="-69.9"/>
<use href="#dt2" x="-1.3" y="71.7"/>
<use href="#bd2" x="71.5" y="-5.7"/>
<use href="#bd2" x="-65.7" y="-28.6"/>
<use href="#bd2" x="-68" y="-22.6"/>
<use href="#bd2" x="-69.6" y="16.9"/>
<use href="#bd2" x="55.4" y="-45.3"/>
<use href="#bd2" x="-24.3" y="67.1"/>
<use href="#bd2" x="69.2" y="-17.8"/>
<use href="#bd2" x="59" y="-40.2"/>
<use href="#bd2" x="65" y="-29.4"/>
<use href="#bd2" x="-71.3" y="-3"/>
<use href="#bd2" x="-7" y="71"/>
<use href="#bd2" x="-42.6" y="-57.1"/>
<use href="#bd2" x="23.4" y="67.3"/>
<use href="#bd2" x="67.2" y="-23.5"/>
<use href="#dt2" x="68.3" y="20.1"/>
<use href="#bd2" x="-20.9" y="-68.1"/>
<use href="#bd2" x="-60.1" y="38.2"/>
<use href="#dt2" x="-18.7" y="68.7"/>
<use href="#bd2" x="-12.9" y="69.9"/>
<use href="#bd2" x="10.4" y="-70.4"/>
<use href="#bd2" x="11.4" y="70.2"/>
<use href="#bd2" x="63.2" y="32.6"/>
<use href="#bd2" x="-62.7" y="-33.5"/>
<use href="#bd2" x="-54.7" y="45.4"/>
<use href="#bd2" x="-38.5" y="59.7"/>
<use href="#dt2" x="-69.3" y="-15.5"/>
<use href="#bd2" x="-70.8" y="4.2"/>
<use href="#bd2" x="-9" y="-70.3"/>
<use href="#bd2" x="-70.3" y="-9"/>
<use href="#bd2" x="31.5" y="-63.5"/>
<use href="#dt2" x="70.8" y="1.5"/>
<use href="#bd2" x="-69.9" y="11.3"/>
<use href="#bd2" x="36.8" y="-60.3"/>
<use href="#bd2" x="-46.6" y="53.1"/>
<use href="#bd2" x="70.2" y="8"/>
<use href="#bd2" x="65.3" y="26.8"/>
<use href="#bd2" x="25.9" y="-65.7"/>
<use href="#bd2" x="-37.5" y="-59.8"/>
<use href="#bd2" x="37.6" y="59.7"/>
<use href="#bd2" x="29.7" y="63.9"/>
<use href="#bd2" x="54.6" y="44.6"/>
<use href="#bd2" x="43.9" y="55.1"/>
<use href="#bd2" x="50.9" y="-48.7"/>
<use href="#bd2" x="20.1" y="-67.4"/>
<use href="#bd2" x="-32.2" y="-62.5"/>
<use href="#bd2" x="-26.7" y="-65"/>
<use href="#bd2" x="-62.2" y="32.7"/>
<use href="#bd2" x="41.8" y="-56.5"/>
<use href="#bd2" x="58.4" y="39.1"/>
<use href="#bd2" x="5.9" y="70"/>
<use href="#bd2" x="-59.2" y="-37.8"/>
<use href="#bd2" x="49.1" y="50.2"/>
<use href="#bd2" x="-65.2" y="25.9"/>
<use href="#dt2" x="-33.4" y="61.7"/>
<use href="#bd2" x="-3.3" y="-70.1"/>
<use href="#bd2" x="-47.2" y="-51.9"/>
<use href="#bd2" x="68.5" y="14.8"/>
<use href="#bd2" x="18.4" y="67.6"/>
<use href="#dt2" x="-55.5" y="-42.7"/>
<use href="#bd2" x="2.7" y="-69.9"/>
<use href="#bd2" x="-67" y="19.5"/>
<use href="#bd2" x="61.3" y="-33.3"/>
<use href="#bd2" x="-15.2" y="-68.1"/>
<use href="#bd2" x="69" y="-10"/>
<use href="#bd2" x="-51.4" y="-47"/>
<use href="#dt2" x="-50.6" y="47.8"/>
<use href="#bd2" x="46.2" y="-52.1"/>
<use href="#bd2" x="-56.4" y="40.8"/>
<use href="#bd2" x="69.5" y="-3.8"/>
<use href="#bd2" x="-66.7" y="-20"/>
<use href="#bd2" x="-64.6" y="-26"/>
<use href="#bd2" x="14.5" y="-68.1"/>
<use href="#bd2" x="0.3" y="69.5"/>
<use href="#bd2" x="-28.1" y="63.6"/>
<use href="#bd2" x="-42" y="55.4"/>
<use href="#bd2" x="54.3" y="-43"/>
<use href="#bd2" x="-69.3" y="-0.4"/>
<use href="#bd2" x="67.4" y="-15.7"/>
<use href="#bd2" x="57.8" y="-38"/>
<use href="#bd2" x="63.5" y="-27.3"/>
<use href="#bd2" x="65.6" y="21.8"/>
<use href="#bd2" x="24.9" y="64.4"/>
<use href="#bd2" x="60.1" y="34.1"/>
<use href="#bd2" x="-42.2" y="-54.6"/>
<use href="#bd2" x="-5.4" y="68.8"/>
<use href="#bd2" x="65.6" y="-21.5"/>
<use href="#bd2" x="-22.5" y="65.2"/>
<use href="#bd2" x="-21" y="-65.7"/>
<use href="#bd2" x="33.1" y="60.5"/>
<use href="#bd2" x="-68.6" y="6.9"/>
<use href="#bd2" x="13.1" y="67.6"/>
<use href="#bd2" x="-61.5" y="-30.9"/>
<use href="#bd2" x="-67.6" y="-12.9"/>
<use href="#bd2" x="8.7" y="-68.3"/>
<use href="#bd2" x="-11.1" y="67.9"/>
<use href="#bd2" x="-16.9" y="66.7"/>
<use href="#bd2" x="-67.3" y="13.9"/>
<use href="#bd2" x="-68.5" y="-6.3"/>
<use href="#bd2" x="39.7" y="56"/>
<use href="#bd2" x="68.5" y="3.3"/>
<use href="#bd2" x="50.9" y="45.8"/>
<use href="#bd2" x="-9.3" y="-67.9"/>
<use href="#bd2" x="30.8" y="-61.2"/>
<use href="#bd2" x="-58.7" y="35.3"/>
<use href="#bd2" x="62.3" y="28.4"/>
<use href="#bd2" x="67.7" y="9.7"/>
<use href="#bd2" x="-37" y="57.5"/>
<use href="#bd2" x="25.2" y="-63.5"/>
<use href="#bd2" x="45.1" y="51.3"/>
<use href="#bd2" x="35.9" y="-58.1"/>
<use href="#bd2" x="-62" y="28.5"/>
<use href="#bd2" x="-37.1" y="-57.3"/>
<use href="#bd2" x="54.9" y="40.4"/>
<use href="#bd2" x="-46.1" y="50.2"/>
<use href="#bd2" x="49.6" y="-46.5"/>
<use href="#bd2" x="-52.4" y="43.2"/>
<use href="#bd2" x="18.5" y="-65.3"/>
<use href="#bd2" x="-31.8" y="-60"/>
<use href="#bd2" x="7.6" y="67.4"/>
<use href="#bd2" x="-26.3" y="-62.5"/>
<use href="#bd2" x="-57.9" y="-35.2"/>
<use href="#bd2" x="65.8" y="16.4"/>
<use href="#bd2" x="40.6" y="-54.3"/>
<use href="#bd2" x="-64" y="22.2"/>
<use href="#bd2" x="-46.4" y="-49.3"/>
<use href="#bd2" x="-3" y="-67.6"/>
<use href="#bd2" x="19.8" y="64.7"/>
<use href="#bd2" x="3.3" y="-67.5"/>
<use href="#bd2" x="-54.4" y="-40.1"/>
<use href="#bd2" x="-31.8" y="59.4"/>
<use href="#bd2" x="28.3" y="61"/>
<use href="#bd2" x="59.5" y="-31.3"/>
<use href="#bd2" x="66.7" y="-8.2"/>
<use href="#bd2" x="-64.9" y="-17.4"/>
<use href="#bd2" x="-14.7" y="-65.5"/>
<use href="#bd2" x="-50.3" y="-44.4"/>
<use href="#bd2" x="-62.9" y="-23.3"/>
<use href="#bd2" x="67.1" y="-2"/>
<use href="#bd2" x="44.7" y="-50"/>
<use href="#bd2" x="2" y="67"/>
<use href="#bd2" x="12.8" y="-65.8"/>
<use href="#bd2" x="-66.9" y="2.3"/>
<use href="#bd2" x="-41.4" y="52.4"/>
<use href="#bd2" x="35.1" y="56.8"/>
<use href="#bd2" x="56.6" y="35.4"/>
<use href="#bd2" x="62.5" y="23.3"/>
<use href="#bd2" x="52.6" y="-41"/>
<use href="#bd2" x="-26.4" y="61.2"/>
<use href="#bd2" x="65.2" y="-13.9"/>
<use href="#dt2" x="-65.9" y="9.5"/>
<use href="#bd2" x="-54.8" y="37.8"/>
<use href="#dt2" x="61.5" y="-25.4"/>
<use href="#bd2" x="55.9" y="-36.1"/>
<use href="#bd2" x="-64.4" y="16.5"/>
<use href="#bd2" x="63.4" y="-19.6"/>
<use href="#bd2" x="-3.7" y="66.3"/>
<use href="#bd2" x="-41.2" y="-52"/>
<use href="#bd2" x="-65.6" y="-10.3"/>
<use href="#bd2" x="46.9" y="46.9"/>
<use href="#bd2" x="-66.2" y="-3.7"/>
<use href="#dt2" x="14.4" y="64.7"/>
<use href="#bd2" x="-59.9" y="-28.3"/>
<use href="#bd2" x="-20.1" y="-63.1"/>
<use href="#bd2" x="-48" y="45.6"/>
<use href="#bd2" x="-20.9" y="62.8"/>
<use href="#bd2" x="40.8" y="52.2"/>
<use href="#dt2" x="-58.4" y="31.1"/>
<use href="#bd2" x="58.9" y="29.8"/>
<use href="#bd2" x="-9.4" y="65.4"/>
<use href="#bd2" x="-15.2" y="64.2"/>
<use href="#bd2" x="65.7" y="5"/>
<use href="#bd2" x="21.9" y="-62.1"/>
<use href="#bd2" x="51" y="41.6"/>
<use href="#bd2" x="28.4" y="-59.4"/>
<use href="#bd2" x="64.8" y="11.3"/>
<use href="#dt2" x="-8" y="-65.3"/>
<use href="#bd2" x="23.2" y="61.3"/>
<use href="#bd2" x="33.6" y="-56.2"/>
<use href="#bd2" x="-36.3" y="54.5"/>
<use href="#bd2" x="-60.6" y="24.7"/>
<use href="#bd2" x="-35.9" y="-54.7"/>
<use href="#bd2" x="6.4" y="-65"/>
<use href="#bd2" x="62.6" y="17.9"/>
<use href="#bd2" x="47.4" y="-44.6"/>
<use href="#bd2" x="8.9" y="64.4"/>
<use href="#bd2" x="-30.6" y="-57.4"/>
<use href="#bd2" x="-56.3" y="-32.6"/>
<use href="#bd2" x="-0.8" y="-65"/>
<use href="#bd2" x="38.2" y="-52.5"/>
<use href="#bd2" x="-25.1" y="-59.9"/>
<use href="#bd2" x="-45" y="-46.7"/>
<use href="#bd2" x="30.3" y="57.3"/>
<use href="#bd2" x="-52.7" y="-37.4"/>
<use href="#bd2" x="-50.6" y="40.2"/>
<use href="#bd2" x="-43.3" y="47.9"/>
<use href="#bd2" x="-31" y="56.4"/>
<use href="#bd2" x="-62.7" y="-14.7"/>
<use href="#bd2" x="-64.1" y="4.9"/>
<use href="#bd2" x="-60.9" y="-20.7"/>
<use href="#bd2" x="63.9" y="-6.5"/>
<use href="#bd2" x="64.3" y="-0.3"/>
<use href="#bd2" x="-13.1" y="-62.9"/>
<use href="#bd2" x="57.1" y="-29.5"/>
<use href="#bd2" x="-48.7" y="-41.8"/>
<use href="#bd2" x="16.9" y="-61.9"/>
<use href="#dt2" x="52.8" y="36.6"/>
<use href="#bd2" x="42.2" y="-48.2"/>
<use href="#bd2" x="3.2" y="64"/>
<use href="#bd2" x="-62.9" y="12.1"/>
<use href="#bd2" x="59.1" y="24.7"/>
<use href="#bd2" x="-61.1" y="19.1"/>
<use href="#bd2" x="36.1" y="52.8"/>
<use href="#bd2" x="42.6" y="47.7"/>
<use href="#bd2" x="-54.5" y="33.6"/>
<use href="#bd2" x="11.3" y="-63"/>
<use href="#bd2" x="17.9" y="61.4"/>
<use href="#bd2" x="50.1" y="-39.3"/>
<use href="#bd2" x="62.4" y="-12.2"/>
<use href="#bd2" x="-25.5" y="58.2"/>
<use href="#bd2" x="58.9" y="-23.7"/>
<use href="#bd2" x="-63.1" y="-7.6"/>
<use href="#bd2" x="-63.5" y="-1"/>
<use href="#bd2" x="53.4" y="-34.3"/>
<use href="#bd2" x="60.8" y="-17.9"/>
<use href="#bd2" x="46.9" y="42.6"/>
<use href="#bd2" x="55.2" y="31"/>
<use href="#bd2" x="-2.5" y="63.3"/>
<use href="#bd2" x="-57.9" y="-25.6"/>
<use href="#bd2" x="24.3" y="-58.4"/>
<use href="#bd2" x="-39.6" y="-49.4"/>
<use href="#bd2" x="-18.3" y="-60.5"/>
<use href="#bd2" x="-56.9" y="27.3"/>
<use href="#bd2" x="-38.3" y="50"/>
<use href="#bd2" x="-19.9" y="59.8"/>
<use href="#bd2" x="62.6" y="6.5"/>
<use href="#bd2" x="-5.4" y="-62.7"/>
<use href="#bd2" x="-8.3" y="62.3"/>
<use href="#bd2" x="61.6" y="12.8"/>
<use href="#bd2" x="25.2" y="57.6"/>
<use href="#bd2" x="-14.1" y="61.2"/>
<use href="#bd2" x="-46.1" y="42.5"/>
<use href="#bd2" x="30" y="-54.9"/>
<use href="#bd2" x="2.9" y="-62.5"/>
<use href="#bd2" x="12.4" y="61.2"/>
<use href="#bd2" x="-34.1" y="-52.1"/>
<use href="#bd2" x="59.1" y="19.3"/>
<use href="#bd2" x="34.8" y="-51.1"/>
<use href="#bd2" x="44.5" y="-43"/>
<use href="#bd2" x="-54.1" y="-29.9"/>
<use href="#bd2" x="-28.6" y="-54.8"/>
<use href="#bd2" x="31.2" y="53.3"/>
<use href="#bd2" x="-50.2" y="36"/>
<use href="#dt2" x="-23" y="-57.2"/>
<use href="#bd2" x="-33.1" y="52"/>
<use href="#bd2" x="-43" y="-44.1"/>
<use href="#bd2" x="38" y="48.4"/>
<use href="#bd2" x="-61" y="7.5"/>
<use href="#bd2" x="48.6" y="37.5"/>
<use href="#bd2" x="-50.6" y="-34.8"/>
<use href="#bd2" x="-57.4" y="21.7"/>
<use href="#bd2" x="19.2" y="-58.2"/>
<use href="#bd2" x="-60.1" y="-12.1"/>
<use href="#bd2" x="-59.4" y="14.7"/>
<use href="#bd2" x="6.8" y="60.8"/>
<use href="#bd2" x="-10.3" y="-60.3"/>
<use href="#bd2" x="-58.4" y="-18"/>
<use href="#bd2" x="61" y="1.1"/>
<use href="#bd2" x="55.3" y="25.8"/>
<use href="#bd2" x="60.8" y="-5"/>
<use href="#bd2" x="20" y="57.6"/>
<use href="#bd2" x="-46.6" y="-39.2"/>
<use href="#bd2" x="7.9" y="-60.4"/>
<use href="#bd2" x="38.9" y="-46.8"/>
<use href="#bd2" x="54.1" y="-27.9"/>
<use href="#bd2" x="-41.3" y="44.7"/>
<use href="#bd2" x="42.4" y="43.3"/>
<use href="#bd2" x="-52.8" y="29.7"/>
<use href="#bd2" x="-27.7" y="53.8"/>
<use href="#bd2" x="13.5" y="-58.9"/>
<use href="#bd2" x="-60.4" y="1.6"/>
<use href="#bd2" x="-60.1" y="-5"/>
<use href="#bd2" x="51.1" y="32"/>
<use href="#bd2" x="47" y="-37.8"/>
<use href="#bd2" x="59.3" y="-10.7"/>
<use href="#bd2" x="1" y="60.2"/>
<use href="#bd2" x="-1.6" y="-60.1"/>
<use href="#bd2" x="55.9" y="-22.2"/>
<use href="#bd2" x="50.3" y="-32.8"/>
<use href="#bd2" x="-15.6" y="-57.9"/>
<use href="#bd2" x="57.6" y="-16.5"/>
<use href="#bd2" x="-55.3" y="-23"/>
<use href="#bd2" x="25.4" y="-54.3"/>
<use href="#bd2" x="-37.3" y="-46.7"/>
<use href="#bd2" x="-22.1" y="55.5"/>
<use href="#bd2" x="57.9" y="14"/>
<use href="#bd2" x="59" y="7.8"/>
<use href="#bd2" x="26.1" y="53.5"/>
<use href="#bd2" x="-45.6" y="38.3"/>
<use href="#bd2" x="-4.8" y="59.3"/>
<use href="#bd2" x="-16.4" y="57"/>
<use href="#bd2" x="14.5" y="57.5"/>
<use href="#bd2" x="-10.6" y="58.2"/>
<use href="#bd2" x="-36.2" y="46.8"/>
<use href="#bd2" x="33.1" y="48.8"/>
<use href="#bd2" x="55.2" y="20.4"/>
<use href="#bd2" x="30.6" y="-50.2"/>
<use href="#bd2" x="-31.6" y="-49.4"/>
<use href="#bd2" x="-53.4" y="24.1"/>
<use href="#bd2" x="44.2" y="38.3"/>
<use href="#bd2" x="40.8" y="-41.7"/>
<use href="#bd2" x="-57.4" y="10.1"/>
<use href="#bd2" x="-26" y="-52.2"/>
<use href="#bd2" x="-55.7" y="17.2"/>
<use href="#bd2" x="-51.4" y="-27.3"/>
<use href="#bd2" x="-20.1" y="-54.6"/>
<use href="#bd2" x="-6.6" y="-57.7"/>
<use href="#bd2" x="-48.4" y="32.1"/>
<use href="#bd2" x="3.2" y="-57.9"/>
<use href="#dt2" x="-40.5" y="-41.5"/>
<use href="#bd2" x="20.1" y="-54.2"/>
<use href="#bd2" x="-57.1" y="-9.5"/>
<use href="#bd2" x="37.6" y="43.9"/>
<use href="#bd2" x="8.9" y="57.1"/>
<use href="#bd2" x="-48" y="-32.1"/>
<use href="#bd2" x="51.1" y="26.8"/>
<use href="#bd2" x="-30.9" y="48.7"/>
<use href="#bd2" x="-55.4" y="-15.4"/>
<use href="#dt2" x="34.8" y="-45.8"/>
<use href="#bd2" x="20.8" y="53.5"/>
<use href="#bd2" x="57.4" y="2.4"/>
<use href="#bd2" x="-40.7" y="40.5"/>
<use href="#dt2" x="57.2" y="-3.7"/>
<use href="#bd2" x="-44" y="-36.6"/>
<use href="#bd2" x="46.7" y="32.9"/>
<use href="#bd2" x="-57" y="4.1"/>
<use href="#bd2" x="50.5" y="-26.6"/>
<use href="#dt2" x="-56.9" y="-2.4"/>
<use href="#bd2" x="8.6" y="-56.1"/>
<use href="#bd2" x="14.4" y="-54.9"/>
<use href="#bd2" x="43.3" y="-36.6"/>
<use href="#bd2" x="-12.1" y="-55.3"/>
<use href="#bd2" x="3.2" y="56.5"/>
<use href="#dt2" x="28" y="49.1"/>
<use href="#bd2" x="-25.4" y="50.5"/>
<use href="#bd2" x="55.6" y="-9.4"/>
<use href="#dt2" x="46.7" y="-31.6"/>
<use href="#bd2" x="52.3" y="-20.9"/>
<use href="#bd2" x="-52.4" y="-20.4"/>
<use href="#bd2" x="54.1" y="-15.2"/>
<use href="#bd2" x="25.6" y="-49.8"/>
<use href="#bd2" x="53.9" y="15.1"/>
<use href="#bd2" x="-34.4" y="-44.1"/>
<use href="#bd2" x="55.1" y="8.9"/>
<use href="#bd2" x="-49" y="26.5"/>
<use href="#bd2" x="-2.6" y="55.7"/>
<use href="#dt2" x="-19.8" y="52"/>
<use href="#bd2" x="-43.7" y="34.3"/>
<use href="#bd2" x="15.3" y="53.3"/>
<use href="#bd2" x="-2.1" y="-55.4"/>
<use href="#bd2" x="-35.6" y="42.5"/>
<use href="#bd2" x="39.4" y="38.9"/>
<use href="#dt2" x="51" y="21.3"/>
<use href="#bd2" x="-8.4" y="54.7"/>
<use href="#bd2" x="-14.1" y="53.5"/>
<use href="#bd2" x="-51.6" y="19.6"/>
<use href="#bd2" x="-53.6" y="12.6"/>
<use href="#bd2" x="32.6" y="44.3"/>
<use href="#bd2" x="-28.6" y="-46.9"/>
<use href="#bd2" x="36.5" y="-40.8"/>
<use href="#bd2" x="-22.7" y="-49.6"/>
<use href="#bd2" x="-16.5" y="-52"/>
<use href="#bd2" x="30.1" y="-45.3"/>
<use href="#dt2" x="-48.4" y="-24.7"/>
<use href="#bd2" x="46.7" y="27.6"/>
<use href="#bd2" x="22.7" y="49.1"/>
<use href="#bd2" x="-53.7" y="-6.9"/>
<use href="#bd2" x="-37.5" y="-38.9"/>
<use href="#dt2" x="20.2" y="-49.9"/>
<use href="#bd2" x="9.6" y="52.9"/>
<use href="#bd2" x="42.1" y="33.5"/>
<use href="#bd2" x="-30.3" y="44.4"/>
<use href="#bd2" x="-44.9" y="-29.5"/>
<use href="#bd2" x="-52.1" y="-12.8"/>
<use href="#bd2" x="-53.2" y="6.6"/>
<use href="#bd2" x="-7.9" y="-53"/>
<use href="#dt2" x="3.1" y="-53.4"/>
<use href="#bd2" x="53.4" y="3.4"/>
<use href="#bd2" x="53.2" y="-2.6"/>
<use href="#dt2" x="-38.8" y="36.5"/>
<use href="#bd2" x="-53.2" y="0.2"/>
<use href="#bd2" x="-40.9" y="-34"/>
<use href="#bd2" x="46.5" y="-25.5"/>
<use href="#bd2" x="-44.4" y="28.8"/>
<use href="#bd2" x="39" y="-35.7"/>
<use href="#bd2" x="14.5" y="-50.6"/>
<use href="#bd2" x="8.7" y="-51.8"/>
<use href="#bd2" x="3.9" y="52.3"/>
<use href="#bd2" x="-24.8" y="46.2"/>
<use href="#bd2" x="42.5" y="-30.6"/>
<use href="#bd2" x="51.6" y="-8.4"/>
<use href="#bd2" x="34.5" y="39.2"/>
<use href="#bd2" x="48.3" y="-19.9"/>
<use href="#bd2" x="27.4" y="44.4"/>
<use href="#bd2" x="-49" y="-17.8"/>
<use href="#bd2" x="49.6" y="15.9"/>
<use href="#bd2" x="50.1" y="-14.1"/>
<use href="#bd2" x="-47.2" y="22"/>
<use href="#bd2" x="17.2" y="48.9"/>
<use href="#bd2" x="50.9" y="9.9"/>
<use href="#bd2" x="-31.1" y="-41.5"/>
<use href="#bd2" x="-49.4" y="15"/>
<use href="#bd2" x="24.9" y="-45.1"/>
<use href="#dt2" x="-1.9" y="51.5"/>
<use href="#bd2" x="-19.2" y="47.8"/>
<use href="#bd2" x="46.5" y="22.1"/>
<use href="#bd2" x="31.6" y="-40.3"/>
<use href="#bd2" x="-33.6" y="38.5"/>
<use href="#bd2" x="-12.2" y="-49.5"/>
<use href="#bd2" x="-7.7" y="50.4"/>
<use href="#bd2" x="-13.5" y="49.2"/>
<use href="#bd2" x="-25" y="-44.3"/>
<use href="#bd2" x="-3" y="-50.8"/>
<use href="#bd2" x="-18.9" y="-47.1"/>
<use href="#bd2" x="42" y="28.2"/>
<use href="#bd2" x="37.2" y="33.9"/>
<use href="#bd2" x="-39.5" y="31"/>
<use href="#bd2" x="-49.9" y="-4.4"/>
<use href="#bd2" x="-44.9" y="-22.1"/>
<use href="#bd2" x="11.6" y="48.5"/>
<use href="#bd2" x="-49.1" y="9.1"/>
<use href="#bd2" x="-34" y="-36.3"/>
<use href="#bd2" x="22" y="44.4"/>
<use href="#bd2" x="-48.4" y="-10.3"/>
<use href="#bd2" x="-41.4" y="-26.9"/>
<use href="#bd2" x="19.4" y="-45.4"/>
<use href="#bd2" x="-49.2" y="2.6"/>
<use href="#bd2" x="-28.3" y="40.3"/>
<use href="#bd2" x="49" y="4.3"/>
<use href="#bd2" x="34.3" y="-35.2"/>
<use href="#bd2" x="29.3" y="39.4"/>
<use href="#bd2" x="2.3" y="-48.9"/>
<use href="#bd2" x="48.9" y="-1.7"/>
<use href="#bd2" x="-42.5" y="24.2"/>
<use href="#bd2" x="-37.4" y="-31.4"/>
<use href="#bd2" x="42.1" y="-24.7"/>
<use href="#bd2" x="37.9" y="-30"/>
<use href="#bd2" x="5.9" y="47.9"/>
<use href="#bd2" x="13.6" y="-46.2"/>
<use href="#bd2" x="-44.9" y="17.3"/>
<use href="#bd2" x="26.3" y="-40.2"/>
<use href="#bd2" x="7.9" y="-47.4"/>
<use href="#bd2" x="45" y="16.6"/>
<use href="#bd2" x="-7.4" y="-47.3"/>
<use href="#bd2" x="43.9" y="-19.1"/>
<use href="#bd2" x="47.3" y="-7.5"/>
<use href="#bd2" x="-45.3" y="-15.3"/>
<use href="#bd2" x="-22.8" y="42"/>
<use href="#bd2" x="-34.4" y="33"/>
<use href="#dt2" x="45.7" y="-13.3"/>
<use href="#bd2" x="46.4" y="10.6"/>
<use href="#bd2" x="-27.2" y="-38.9"/>
<use href="#bd2" x="41.7" y="22.6"/>
<use href="#bd2" x="0.1" y="47.1"/>
<use href="#bd2" x="16.5" y="44.1"/>
<use href="#bd2" x="-14.5" y="-44.8"/>
<use href="#bd2" x="-17.1" y="43.6"/>
<use href="#bd2" x="32" y="34.1"/>
<use href="#bd2" x="-20.9" y="-41.9"/>
<use href="#bd2" x="37" y="28.5"/>
<use href="#bd2" x="-5.6" y="46.2"/>
<use href="#bd2" x="-11.4" y="45"/>
<use href="#dt2" x="-44.6" y="11.4"/>
<use href="#bd2" x="23.9" y="39.4"/>
<use href="#bd2" x="-37.6" y="26.4"/>
<use href="#bd2" x="-45.8" y="-1.9"/>
<use href="#bd2" x="29.2" y="-35"/>
<use href="#bd2" x="-29.1" y="35"/>
<use href="#bd2" x="20.7" y="-40.4"/>
<use href="#bd2" x="-41" y="-19.6"/>
<use href="#bd2" x="-2.2" y="-45.3"/>
<use href="#bd2" x="-30" y="-33.9"/>
<use href="#bd2" x="-44.9" y="5"/>
<use href="#bd2" x="-44.4" y="-7.8"/>
<use href="#bd2" x="10.8" y="43.6"/>
<use href="#bd2" x="-37.5" y="-24.5"/>
<use href="#bd2" x="44.4" y="4.9"/>
<use href="#bd2" x="-40.1" y="19.6"/>
<use href="#bd2" x="37.3" y="-24.2"/>
<use href="#bd2" x="33" y="-29.6"/>
<use href="#bd2" x="44.3" y="-1.1"/>
<use href="#bd2" x="-33.4" y="-29"/>
<use href="#bd2" x="15" y="-41.1"/>
<use href="#bd2" x="3.4" y="-43.6"/>
<use href="#bd2" x="-9.6" y="-42.6"/>
<use href="#dt2" x="-23.6" y="36.7"/>
<use href="#bd2" x="40.1" y="17.1"/>
<use href="#bd2" x="26.7" y="34.2"/>
<use href="#dt2" x="36.7" y="23"/>
<use href="#bd2" x="39.2" y="-18.5"/>
<use href="#bd2" x="5.1" y="42.9"/>
<use href="#bd2" x="18.4" y="39.1"/>
<use href="#bd2" x="-41.2" y="-12.8"/>
<use href="#bd2" x="9.1" y="-42.2"/>
<use href="#bd2" x="42.6" y="-6.9"/>
<use href="#dt2" x="-22.8" y="-36.5"/>
<use href="#bd2" x="-32.4" y="28.4"/>
<use href="#bd2" x="41.5" y="11.1"/>
<use href="#bd2" x="41" y="-12.8"/>
<use href="#bd2" x="31.9" y="28.7"/>
<use href="#bd2" x="-16.3" y="-39.6"/>
<use href="#dt2" x="23.8" y="-35.1"/>
<use href="#bd2" x="-18" y="38.3"/>
<use href="#bd2" x="-39.9" y="13.7"/>
<use href="#bd2" x="-0.7" y="42.1"/>
<use href="#bd2" x="-12.3" y="39.8"/>
<use href="#bd2" x="-6.5" y="41"/>
<use href="#bd2" x="-41.4" y="0.4"/>
<use href="#bd2" x="-35.1" y="21.7"/>
<use href="#bd2" x="-40.3" y="7.3"/>
<use href="#dt2" x="-4.4" y="-40.7"/>
<use href="#bd2" x="12.8" y="38.7"/>
<use href="#bd2" x="-25.7" y="-31.5"/>
<use href="#bd2" x="-27.1" y="30.3"/>
<use href="#bd2" x="-36.7" y="-17.2"/>
<use href="#bd2" x="27.7" y="-29.6"/>
<use href="#bd2" x="-40" y="-5.4"/>
<use href="#bd2" x="21.2" y="34"/>
<use href="#bd2" x="32.1" y="-24"/>
<use href="#bd2" x="18.2" y="-35.6"/>
<use href="#dt2" x="-33.2" y="-22"/>
<use href="#bd2" x="39.5" y="5.3"/>
<use href="#bd2" x="-29.1" y="-26.6"/>
<use href="#dt2" x="39.3" y="-0.6"/>
<use href="#bd2" x="-11.4" y="-37.5"/>
<use href="#bd2" x="31.5" y="23.1"/>
<use href="#bd2" x="35" y="17.3"/>
<use href="#bd2" x="26.5" y="28.7"/>
<use href="#bd2" x="1" y="-38.9"/>
<use href="#bd2" x="-18.1" y="-34.3"/>
<use href="#bd2" x="7.1" y="38"/>
<use href="#bd2" x="34.1" y="-18.2"/>
<use href="#bd2" x="-21.6" y="32"/>
<use href="#bd2" x="12.4" y="-36.4"/>
<use href="#bd2" x="-35" y="15.8"/>
<use href="#bd2" x="-36.8" y="-10.5"/>
<use href="#bd2" x="36.5" y="11.4"/>
<use href="#bd2" x="37.6" y="-6.5"/>
<use href="#bd2" x="6.7" y="-37.5"/>
<use href="#bd2" x="36" y="-12.4"/>
<use href="#bd2" x="-29.8" y="23.7"/>
<use href="#dt2" x="1.3" y="37.2"/>
<use href="#bd2" x="22.2" y="-29.8"/>
<use href="#bd2" x="-16" y="33.6"/>
<use href="#bd2" x="15.6" y="33.6"/>
<use href="#bd2" x="-36.7" y="2.7"/>
<use href="#bd2" x="-35.4" y="9.5"/>
<use href="#bd2" x="-4.5" y="36.2"/>
<use href="#bd2" x="-10.3" y="35"/>
<use href="#bd2" x="-6.1" y="-35.6"/>
<use href="#bd2" x="-21" y="-29.3"/>
<use href="#bd2" x="26.7" y="-24"/>
<use href="#bd2" x="-35.3" y="-3.2"/>
<use href="#bd2" x="-32.2" y="-14.8"/>
<use href="#bd2" x="21" y="28.5"/>
<use href="#bd2" x="-24.4" y="25.5"/>
<use href="#bd2" x="26.1" y="23"/>
<use href="#bd2" x="-29.8" y="17.8"/>
<use href="#bd2" x="34.3" y="5.5"/>
<use href="#bd2" x="-28.6" y="-19.8"/>
<use href="#bd2" x="-13" y="-32.2"/>
<use href="#bd2" x="16.5" y="-30.4"/>
<use href="#bd2" x="-24.4" y="-24.4"/>
<use href="#bd2" x="9.9" y="33"/>
<use href="#bd2" x="29.7" y="17.3"/>
<use href="#bd2" x="34.1" y="-0.4"/>
<use href="#bd2" x="28.8" y="-18.2"/>
<use href="#bd2" x="-0.6" y="-33.9"/>
<use href="#bd2" x="31.2" y="11.5"/>
<use href="#dt2" x="30.8" y="-12.3"/>
<use href="#bd2" x="-18.9" y="27.2"/>
<use href="#bd2" x="-32.1" y="-8.2"/>
<use href="#bd2" x="10.8" y="-31.3"/>
<use href="#bd2" x="32.3" y="-6.4"/>
<use href="#bd2" x="5" y="-32.5"/>
<use href="#bd2" x="4.1" y="32.2"/>
<use href="#bd2" x="-30.3" y="11.6"/>
<use href="#bd2" x="21" y="-24.4"/>
<use href="#bd2" x="-31.7" y="4.8"/>
<use href="#dt2" x="15.4" y="28"/>
<use href="#bd2" x="-13.2" y="28.7"/>
<use href="#bd2" x="-16" y="-27.2"/>
<use href="#dt2" x="-24.5" y="19.7"/>
<use href="#bd2" x="-1.7" y="31.2"/>
<use href="#bd2" x="-7.7" y="-30.3"/>
<use href="#bd2" x="-7.5" y="30.1"/>
<use href="#bd2" x="20.5" y="22.8"/>
<use href="#dt2" x="-30.4" y="-1"/>
<use href="#bd2" x="-27.3" y="-12.6"/>
<use href="#bd2" x="23.3" y="-18.5"/>
<use href="#bd2" x="24.3" y="17.2"/>
<use href="#bd2" x="-19.4" y="-22.3"/>
<use href="#bd2" x="-23.6" y="-17.6"/>
<use href="#bd2" x="28.9" y="5.5"/>
<use href="#bd2" x="15.3" y="-25"/>
<use href="#bd2" x="9.7" y="27.4"/>
<use href="#bd2" x="28.8" y="-0.5"/>
<use href="#bd2" x="-2.1" y="-28.6"/>
<use href="#bd2" x="-19" y="21.4"/>
<use href="#bd2" x="-25" y="13.5"/>
<use href="#bd2" x="25.3" y="-12.5"/>
<use href="#dt2" x="25.7" y="11.3"/>
<use href="#bd2" x="-27.1" y="-6.1"/>
<use href="#bd2" x="26.9" y="-6.5"/>
<use href="#bd2" x="9.5" y="-25.9"/>
<use href="#bd2" x="-10.7" y="-25.3"/>
<use href="#bd2" x="-26.6" y="6.8"/>
<use href="#bd2" x="3.7" y="-27.1"/>
<use href="#bd2" x="3.9" y="26.6"/>
<use href="#bd2" x="14.9" y="22.3"/>
<use href="#bd2" x="-13.4" y="23"/>
<use href="#dt2" x="17.6" y="-19"/>
<use href="#bd2" x="-1.9" y="25.6"/>
<use href="#bd2" x="-7.7" y="24.3"/>
<use href="#bd2" x="-25.2" y="1"/>
<use href="#bd2" x="18.7" y="16.8"/>
<use href="#bd2" x="-19.6" y="15.3"/>
<use href="#dt2" x="-14.2" y="-20.3"/>
<use href="#bd2" x="-22.2" y="-10.6"/>
<use href="#bd2" x="-18.5" y="-15.6"/>
<use href="#bd2" x="-5.2" y="-23.6"/>
<use href="#bd2" x="23.4" y="5.3"/>
<use href="#bd2" x="19.7" y="-12.9"/>
<use href="#bd2" x="9.1" y="21.6"/>
<use href="#bd2" x="23.2" y="-0.7"/>
<use href="#bd2" x="11.9" y="-19.8"/>
<use href="#bd2" x="20.1" y="11"/>
<use href="#bd2" x="-21.2" y="8.7"/>
<use href="#bd2" x="21.3" y="-6.9"/>
<use href="#bd2" x="-21.9" y="-4.1"/>
<use href="#bd2" x="0.4" y="-22.1"/>
<use href="#bd2" x="-13.9" y="16.9"/>
<use href="#bd2" x="6.2" y="-20.8"/>
<use href="#bd2" x="3.3" y="20.7"/>
<use href="#bd2" x="13" y="16.2"/>
<use href="#bd2" x="-8.8" y="-18.6"/>
<use href="#dt2" x="-8.2" y="18.3"/>
<use href="#bd2" x="-19.9" y="2.9"/>
<use href="#bd2" x="-2.5" y="19.6"/>
<use href="#bd2" x="14" y="-13.6"/>
<use href="#bd2" x="-13.1" y="-13.7"/>
<use href="#bd2" x="-16.8" y="-8.7"/>
<use href="#bd2" x="-15.7" y="10.4"/>
<use href="#bd2" x="17.8" y="4.8"/>
<use href="#bd2" x="14.4" y="10.4"/>
<use href="#dt2" x="17.5" y="-1.2"/>
<use href="#bd2" x="-3.2" y="-17"/>
<use href="#bd2" x="15.6" y="-7.5"/>
<use href="#bd2" x="7.2" y="15.4"/>
<use href="#bd2" x="8.3" y="-14.5"/>
<use href="#bd2" x="-16.5" y="-2.3"/>
<use href="#dt2" x="2.5" y="-15.7"/>
<use href="#bd2" x="-10.1" y="11.9"/>
<use href="#dt2" x="-14.3" y="4.6"/>
<use href="#bd2" x="1.4" y="14.4"/>
<use href="#bd2" x="-7.5" y="-12.1"/>
<use href="#bd2" x="-4.3" y="13.3"/>
<use href="#bd2" x="-11.3" y="-7"/>
<use href="#bd2" x="8.6" y="9.7"/>
<use href="#bd2" x="9.8" y="-8.3"/>
<use href="#bd2" x="12" y="4.1"/>
<use href="#bd2" x="11.7" y="-2"/>
<use href="#bd2" x="-10.9" y="-0.6"/>
<use href="#bd2" x="-1.8" y="-10.6"/>
<use href="#bd2" x="-8.7" y="6.1"/>
<use href="#bd2" x="4" y="-9.3"/>
<use href="#dt2" x="2.8" y="8.7"/>
<use href="#bd2" x="-2.9" y="7.5"/>
<use href="#bd2" x="-5.6" y="-5.4"/>
<use href="#bd2" x="6.3" y="3.2"/>
<use href="#bd2" x="5.9" y="-2.9"/>
<use href="#bd2" x="-5.3" y="0.8"/>
<use href="#bd2" x="0.1" y="-4"/>
<use href="#bd2" x="0.5" y="2.1"/>
</g>
<circle cx="704.5" cy="181" r="79.5" fill="url(#sphshade)"/>
</g>
<circle cx="1260" cy="183" r="165" fill="url(#glow3)"/>
<g clip-path="url(#clip3)">
<circle cx="1260" cy="183" r="75" fill="#77808a"/>
<g transform="translate(1260,183)">
<use href="#bd3" x="-24.4" y="-69.1"/>
<use href="#bd3" x="44.8" y="58"/>
<use href="#bd3" x="50.7" y="52.9"/>
<use href="#bd3" x="37.4" y="63"/>
<use href="#bd3" x="27.6" y="67.9"/>
<use href="#bd3" x="-18.6" y="70.9"/>
<use href="#bd3" x="-72.2" y="-12.3"/>
<use href="#bd3" x="25.9" y="-68.5"/>
<use href="#bd3" x="33.6" y="-65.1"/>
<use href="#bd3" x="63.4" y="36.6"/>
<use href="#bd3" x="-33.5" y="65.1"/>
<use href="#bd3" x="18.1" y="-71"/>
<use href="#bd3" x="72.9" y="-6.8"/>
<use href="#bd3" x="66.4" y="30.9"/>
<use href="#bd3" x="72.1" y="-13.1"/>
<use href="#bd3" x="-50.6" y="-53"/>
<use href="#bd3" x="7.8" y="-72.8"/>
<use href="#bd3" x="70.7" y="-19.2"/>
<use href="#bd3" x="73.2" y="-0.3"/>
<use href="#bd3" x="-4.4" y="73.1"/>
<use href="#bd3" x="-55.1" y="48.3"/>
<use href="#bd3" x="-37.9" y="-62.7"/>
<use href="#bd3" x="68.8" y="25.2"/>
<use href="#bd3" x="73" y="6.3"/>
<use href="#bd3" x="-70.4" y="20.2"/>
<use href="#bd3" x="66.4" y="-30.8"/>
<use href="#bd3" x="-29.2" y="-67.2"/>
<use href="#bd3" x="56.1" y="-47.1"/>
<use href="#bd3" x="22.7" y="69.6"/>
<use href="#bd3" x="-38.9" y="62"/>
<use href="#bd3" x="-56.2" y="-47"/>
<use href="#bd3" x="-65.7" y="32.3"/>
<use href="#bd3" x="59" y="43.4"/>
<use href="#bd3" x="-62.6" y="38.1"/>
<use href="#bd3" x="-71.8" y="14.3"/>
<use href="#bd3" x="-67" y="-29.5"/>
<use href="#bd3" x="70.6" y="19.5"/>
<use href="#bd3" x="-24.1" y="69.2"/>
<use href="#bd3" x="-11.8" y="-72.3"/>
<use href="#bd3" x="-44.4" y="58.2"/>
<use href="#bd3" x="-72.8" y="8.2"/>
<use href="#bd3" x="-60.6" y="-41.1"/>
<use href="#bd3" x="72" y="13.3"/>
<use href="#bd3" x="-6.2" y="-73"/>
<use href="#bd3" x="-73.2" y="2"/>
<use href="#bd3" x="54" y="49.4"/>
<use href="#bd3" x="0.9" y="73.2"/>
<use href="#bd3" x="-58.6" y="43.9"/>
<use href="#bd3" x="33.3" y="65.2"/>
<use href="#bd3" x="69.1" y="-24.3"/>
<use href="#bd3" x="-13.9" y="71.9"/>
<use href="#bd3" x="60.4" y="-41.4"/>
<use href="#bd3" x="63.8" y="-35.8"/>
<use href="#bd3" x="52.1" y="-51.4"/>
<use href="#bd3" x="-46.4" y="-56.6"/>
<use href="#bd3" x="-17.3" y="-71.1"/>
<use href="#bd3" x="17.4" y="71.1"/>
<use href="#bd3" x="-68" y="27.1"/>
<use href="#bd3" x="-64.3" y="-34.9"/>
<use href="#bd3" x="41.3" y="60.5"/>
<use href="#bd3" x="47.3" y="-55.8"/>
<use href="#bd3" x="-73.1" y="-4"/>
<use href="#bd3" x="-71.3" y="-16.6"/>
<use href="#bd3" x="12.7" y="-72.1"/>
<use href="#bd3" x="42" y="-59.9"/>
<use href="#bd3" x="6.4" y="72.9"/>
<use href="#bd3" x="-69.6" y="-22.7"/>
<use href="#bd3" x="47.7" y="55.5"/>
<use href="#bd3" x="-0.6" y="-73.2"/>
<use href="#bd3" x="12" y="72.2"/>
<use href="#bd3" x="29.6" y="-66.9"/>
<use href="#bd3" x="-49" y="54.3"/>
<use href="#bd3" x="22.3" y="-69.7"/>
<use href="#bd3" x="-29.9" y="66.8"/>
<use href="#bd3" x="-33.4" y="-65"/>
<use href="#bd3" x="36.7" y="-63.2"/>
<use href="#bd3" x="-22.5" y="-69.6"/>
<use href="#bd3" x="-72.5" y="-9.6"/>
<use href="#bd3" x="-41.4" y="-60.3"/>
<use href="#bd3" x="61.6" y="39.3"/>
<use href="#bd3" x="-53" y="-50.4"/>
<use href="#bd3" x="64.9" y="33.6"/>
<use href="#bd3" x="28.7" y="67.2"/>
<use href="#bd3" x="-9" y="72.5"/>
<use href="#bd3" x="4.7" y="-72.9"/>
<use href="#bd3" x="72.9" y="-4.2"/>
<use href="#bd3" x="72.3" y="-10.5"/>
<use href="#bd3" x="-19.7" y="70.3"/>
<use href="#bd3" x="71.1" y="-16.7"/>
<use href="#bd3" x="-52.8" y="50.4"/>
<use href="#bd3" x="73" y="2.3"/>
<use href="#bd3" x="-35.5" y="63.8"/>
<use href="#bd3" x="67.5" y="27.9"/>
<use href="#bd3" x="72.4" y="9"/>
<use href="#bd3" x="56.6" y="46.1"/>
<use href="#bd3" x="-58" y="-44.3"/>
<use href="#bd3" x="-69.4" y="22.7"/>
<use href="#bd3" x="37.3" y="62.7"/>
<use href="#bd3" x="57.6" y="-44.8"/>
<use href="#bd3" x="67.3" y="-28.3"/>
<use href="#bd3" x="17.1" y="-70.9"/>
<use href="#bd3" x="-41.4" y="60.1"/>
<use href="#bd3" x="51.1" y="52"/>
<use href="#bd3" x="-64.2" y="34.7"/>
<use href="#bd3" x="-60.8" y="40.4"/>
<use href="#bd3" x="-27.3" y="-67.6"/>
<use href="#bd3" x="69.5" y="22.2"/>
<use href="#bd3" x="-67.8" y="-26.8"/>
<use href="#bd3" x="-70.9" y="16.9"/>
<use href="#bd3" x="-62" y="-38.4"/>
<use href="#bd3" x="23.7" y="69"/>
<use href="#bd3" x="-49" y="-54"/>
<use href="#bd3" x="-3.7" y="72.8"/>
<use href="#bd3" x="44.3" y="57.9"/>
<use href="#bd3" x="71.1" y="16"/>
<use href="#bd3" x="-72.1" y="10.8"/>
<use href="#bd3" x="-56.5" y="46.1"/>
<use href="#bd3" x="-72.7" y="4.5"/>
<use href="#bd3" x="69.6" y="-21.7"/>
<use href="#bd3" x="61.6" y="-38.9"/>
<use href="#bd3" x="53.9" y="-49.1"/>
<use href="#bd3" x="25.9" y="-68.1"/>
<use href="#bd3" x="64.8" y="-33.3"/>
<use href="#bd3" x="-25.8" y="68.1"/>
<use href="#bd3" x="-37.1" y="-62.7"/>
<use href="#bd3" x="-66.6" y="29.5"/>
<use href="#bd3" x="49.4" y="-53.6"/>
<use href="#bd3" x="-65.3" y="-32.2"/>
<use href="#bd3" x="-8.1" y="-72.4"/>
<use href="#bd3" x="32.8" y="-65"/>
<use href="#bd3" x="44.4" y="-57.7"/>
<use href="#bd3" x="-13.6" y="-71.5"/>
<use href="#bd3" x="9.7" y="-72.2"/>
<use href="#bd3" x="-46.2" y="56.3"/>
<use href="#bd3" x="-72.8" y="-1.4"/>
<use href="#bd3" x="-71.5" y="-13.9"/>
<use href="#bd3" x="-70" y="-20"/>
<use href="#bd3" x="18.4" y="70.4"/>
<use href="#bd3" x="1.8" y="72.8"/>
<use href="#bd3" x="-15" y="71.2"/>
<use href="#bd3" x="-44.3" y="-57.7"/>
<use href="#bd3" x="-2.7" y="-72.7"/>
<use href="#bd3" x="39.3" y="-61.2"/>
<use href="#bd3" x="59.3" y="42"/>
<use href="#bd3" x="12.9" y="71.5"/>
<use href="#bd3" x="7.4" y="72.3"/>
<use href="#bd3" x="32.8" y="64.9"/>
<use href="#bd3" x="-18.9" y="-70.2"/>
<use href="#bd3" x="-54.8" y="-47.7"/>
<use href="#bd3" x="-72.3" y="-7"/>
<use href="#bd3" x="-31.7" y="65.3"/>
<use href="#bd3" x="62.9" y="36.3"/>
<use href="#bd3" x="-31.5" y="-65.4"/>
<use href="#bd3" x="-50.1" y="52.5"/>
<use href="#bd3" x="53.8" y="48.7"/>
<use href="#bd3" x="72.5" y="-1.5"/>
<use href="#bd3" x="20.9" y="-69.4"/>
<use href="#bd3" x="47.8" y="54.5"/>
<use href="#bd3" x="72.1" y="-7.8"/>
<use href="#bd3" x="40.4" y="60.2"/>
<use href="#bd3" x="65.7" y="30.6"/>
<use href="#bd3" x="71.1" y="-14"/>
<use href="#bd3" x="72.3" y="5"/>
<use href="#bd3" x="2.6" y="-72.5"/>
<use href="#bd3" x="-37.9" y="61.8"/>
<use href="#bd3" x="-9.9" y="71.8"/>
<use href="#bd3" x="71.5" y="11.7"/>
<use href="#bd3" x="-21.4" y="69.2"/>
<use href="#bd3" x="-59.3" y="-41.6"/>
<use href="#bd3" x="-68" y="25"/>
<use href="#bd3" x="-23.7" y="-68.4"/>
<use href="#bd3" x="58.8" y="-42.3"/>
<use href="#bd3" x="-58.5" y="42.6"/>
<use href="#bd3" x="28" y="66.7"/>
<use href="#bd3" x="67.7" y="-25.7"/>
<use href="#bd3" x="-62.2" y="37"/>
<use href="#bd3" x="14.1" y="-71"/>
<use href="#bd3" x="-51" y="-51.3"/>
<use href="#bd3" x="67.9" y="25"/>
<use href="#bd3" x="-40.2" y="-60.1"/>
<use href="#bd3" x="-53.9" y="48.1"/>
<use href="#bd3" x="-62.9" y="-35.6"/>
<use href="#bd3" x="-69.7" y="19.3"/>
<use href="#bd3" x="-68.2" y="-24.1"/>
<use href="#bd3" x="69.8" y="18.8"/>
<use href="#bd3" x="29" y="-66.2"/>
<use href="#bd3" x="-71" y="13.2"/>
<use href="#bd3" x="-42.9" y="58.1"/>
<use href="#bd3" x="-71.9" y="7.1"/>
<use href="#bd3" x="35.3" y="-63"/>
<use href="#bd3" x="69.6" y="-19.1"/>
<use href="#bd3" x="55.1" y="-46.6"/>
<use href="#bd3" x="62.4" y="-36.4"/>
<use href="#bd3" x="-64.8" y="31.8"/>
<use href="#bd3" x="-4.6" y="72"/>
<use href="#bd3" x="65.3" y="-30.7"/>
<use href="#bd3" x="50.9" y="-51.2"/>
<use href="#bd3" x="-65.8" y="-29.5"/>
<use href="#bd3" x="46.2" y="-55.4"/>
<use href="#bd3" x="22.9" y="68.4"/>
<use href="#bd3" x="-46.6" y="-55"/>
<use href="#bd3" x="-72.1" y="1.2"/>
<use href="#bd3" x="-27.5" y="66.6"/>
<use href="#bd3" x="56.6" y="44.6"/>
<use href="#bd3" x="-71.2" y="-11.3"/>
<use href="#bd3" x="7.4" y="-71.7"/>
<use href="#bd3" x="36.1" y="62.4"/>
<use href="#bd3" x="-69.9" y="-17.3"/>
<use href="#bd3" x="-12.5" y="-70.9"/>
<use href="#bd3" x="-7" y="-71.7"/>
<use href="#bd3" x="-35" y="-62.9"/>
<use href="#bd3" x="41.4" y="-58.9"/>
<use href="#bd3" x="-16.6" y="70"/>
<use href="#bd3" x="44" y="56.9"/>
<use href="#bd3" x="0.9" y="71.9"/>
<use href="#bd3" x="60.5" y="39"/>
<use href="#bd3" x="-27.9" y="-66.3"/>
<use href="#bd3" x="50.5" y="51.2"/>
<use href="#bd3" x="-56.1" y="-44.9"/>
<use href="#bd3" x="17.6" y="69.7"/>
<use href="#bd3" x="-47" y="54.3"/>
<use href="#bd3" x="-34" y="63.3"/>
<use href="#bd3" x="-71.7" y="-4.4"/>
<use href="#bd3" x="24.1" y="-67.6"/>
<use href="#bd3" x="6.5" y="71.5"/>
<use href="#bd3" x="-17.7" y="-69.6"/>
<use href="#bd3" x="12.1" y="70.8"/>
<use href="#bd3" x="-1.6" y="-71.7"/>
<use href="#bd3" x="63.6" y="33.3"/>
<use href="#bd3" x="71.7" y="1.2"/>
<use href="#dt3" x="71.2" y="7.7"/>
<use href="#bd3" x="71.5" y="-5.1"/>
<use href="#bd3" x="17.8" y="-69.4"/>
<use href="#bd3" x="70.7" y="-11.3"/>
<use href="#bd3" x="70.1" y="14.4"/>
<use href="#bd3" x="31.4" y="64.3"/>
<use href="#bd3" x="-66.1" y="27.3"/>
<use href="#bd3" x="-60.1" y="-38.8"/>
<use href="#bd3" x="-55.9" y="44.6"/>
<use href="#bd3" x="-59.8" y="39.1"/>
<use href="#bd3" x="-42.5" y="-57.5"/>
<use href="#bd3" x="-11.5" y="70.6"/>
<use href="#bd3" x="65.9" y="27.7"/>
<use href="#bd3" x="-51" y="50.1"/>
<use href="#bd3" x="-39.3" y="59.7"/>
<use href="#bd3" x="59.4" y="-39.7"/>
<use href="#bd3" x="-23" y="67.7"/>
<use href="#bd3" x="67.6" y="-23"/>
<use href="#bd3" x="-52.4" y="-48.5"/>
<use href="#dt3" x="68.1" y="21.5"/>
<use href="#bd3" x="31.4" y="-64.1"/>
<use href="#bd3" x="-68" y="21.7"/>
<use href="#bd3" x="11.5" y="-70.4"/>
<use href="#bd3" x="-63.3" y="-32.9"/>
<use href="#bd3" x="-68" y="-21.5"/>
<use href="#bd3" x="39.8" y="59.1"/>
<use href="#bd3" x="-22.4" y="-67.7"/>
<use href="#dt3" x="-69.5" y="15.6"/>
<use href="#bd3" x="53.5" y="47.1"/>
<use href="#bd3" x="-70.6" y="9.5"/>
<use href="#bd3" x="37.3" y="-60.7"/>
<use href="#bd3" x="-62.6" y="33.9"/>
<use href="#bd3" x="3.3" y="-71.1"/>
<use href="#bd3" x="69.3" y="-16.4"/>
<use href="#dt3" x="55.9" y="-44.1"/>
<use href="#bd3" x="62.7" y="-33.7"/>
<use href="#bd3" x="46.8" y="53.6"/>
<use href="#bd3" x="26.4" y="66"/>
<use href="#bd3" x="51.9" y="-48.7"/>
<use href="#bd3" x="65.3" y="-28.1"/>
<use href="#bd3" x="-65.8" y="-26.8"/>
<use href="#bd3" x="47.5" y="-53"/>
<use href="#bd3" x="-31.3" y="-63.8"/>
<use href="#bd3" x="-48.2" y="-52.3"/>
<use href="#bd3" x="-37.7" y="-60.3"/>
<use href="#dt3" x="-6.2" y="70.8"/>
<use href="#bd3" x="-29.7" y="64.5"/>
<use href="#bd3" x="-70.9" y="3.6"/>
<use href="#bd3" x="57.6" y="41.6"/>
<use href="#bd3" x="-70.5" y="-8.7"/>
<use href="#dt3" x="-69.4" y="-14.8"/>
<use href="#dt3" x="42.8" y="-56.5"/>
<use href="#bd3" x="-43.5" y="56"/>
<use href="#bd3" x="-9.8" y="-70.1"/>
<use href="#bd3" x="21.2" y="67.5"/>
<use href="#bd3" x="-18.1" y="68.4"/>
<use href="#bd3" x="-56.8" y="-42.2"/>
<use href="#bd3" x="61" y="35.9"/>
<use href="#bd3" x="26.6" y="-65.5"/>
<use href="#bd3" x="-0.8" y="70.7"/>
<use href="#bd3" x="-70.6" y="-1.9"/>
<use href="#bd3" x="35.3" y="61.2"/>
<use href="#bd3" x="-15.1" y="-69"/>
<use href="#bd3" x="-4.3" y="-70.5"/>
<use href="#bd3" x="20.8" y="-67.4"/>
<use href="#bd3" x="-35.3" y="61.1"/>
<use href="#bd3" x="15.8" y="68.7"/>
<use href="#bd3" x="70.4" y="3.9"/>
<use href="#bd3" x="69.7" y="10.4"/>
<use href="#bd3" x="4.7" y="70.4"/>
<use href="#bd3" x="70.4" y="-2.4"/>
<use href="#bd3" x="68.3" y="17.1"/>
<use href="#bd3" x="10.3" y="69.7"/>
<use href="#bd3" x="69.9" y="-8.7"/>
<use href="#dt3" x="-52.9" y="46.5"/>
<use href="#bd3" x="-26.2" y="-65.4"/>
<use href="#bd3" x="-47.7" y="51.8"/>
<use href="#bd3" x="-63.9" y="29.5"/>
<use href="#bd3" x="-57.1" y="41.2"/>
<use href="#bd3" x="63.5" y="30.3"/>
<use href="#bd3" x="7.5" y="-69.9"/>
<use href="#dt3" x="49.9" y="49.5"/>
<use href="#bd3" x="-44.1" y="-54.8"/>
<use href="#bd3" x="42.7" y="55.9"/>
<use href="#bd3" x="14.8" y="-68.7"/>
<use href="#bd3" x="-60.2" y="-36.2"/>
<use href="#bd3" x="65.9" y="24.2"/>
<use href="#bd3" x="-25.1" y="65.5"/>
<use href="#bd3" x="59.6" y="-37.1"/>
<use href="#bd3" x="67.1" y="-20.3"/>
<use href="#bd3" x="-53.1" y="-45.8"/>
<use href="#bd3" x="-13" y="68.9"/>
<use href="#bd3" x="-65.9" y="23.9"/>
<use href="#bd3" x="33.2" y="-61.7"/>
<use href="#bd3" x="30.4" y="63"/>
<use href="#bd3" x="-60" y="36"/>
<use href="#bd3" x="-63.1" y="-30.3"/>
<use href="#bd3" x="-67.6" y="17.9"/>
<use href="#bd3" x="-67.4" y="-18.9"/>
<use href="#bd3" x="54.3" y="44.1"/>
<use href="#dt3" x="-19.7" y="-67.1"/>
<use href="#bd3" x="-33.8" y="-61.2"/>
<use href="#bd3" x="-68.9" y="11.8"/>
<use href="#bd3" x="0.6" y="-69.9"/>
<use href="#bd3" x="38.6" y="-58.2"/>
<use href="#bd3" x="68.5" y="-13.7"/>
<use href="#bd3" x="-39.6" y="57.5"/>
<use href="#bd3" x="56.1" y="-41.5"/>
<use href="#dt3" x="62.5" y="-31.1"/>
<use href="#bd3" x="-39.4" y="-57.5"/>
<use href="#bd3" x="64.9" y="-25.4"/>
<use href="#bd3" x="-49" y="-49.5"/>
<use href="#bd3" x="52.3" y="-46"/>
<use href="#bd3" x="-65.3" y="-24.3"/>
<use href="#bd3" x="48.1" y="-50.4"/>
<use href="#bd3" x="-69.4" y="6"/>
<use href="#bd3" x="-7.6" y="69.1"/>
<use href="#bd3" x="-69.3" y="-6.2"/>
<use href="#bd3" x="57.9" y="38.5"/>
<use href="#bd3" x="-30.9" y="62.3"/>
<use href="#bd3" x="-68.4" y="-12.3"/>
<use href="#bd3" x="43.7" y="-54"/>
<use href="#bd3" x="25.3" y="64.7"/>
<use href="#bd3" x="38.2" y="58"/>
<use href="#bd3" x="-20.3" y="66.3"/>
<use href="#bd3" x="46" y="51.8"/>
<use href="#dt3" x="28.3" y="-63.2"/>
<use href="#bd3" x="-56.8" y="-39.6"/>
<use href="#bd3" x="-44" y="53.4"/>
<use href="#bd3" x="-10.3" y="-68.4"/>
<use href="#bd3" x="-69.1" y="0.5"/>
<use href="#bd3" x="-49.5" y="48.3"/>
<use href="#bd3" x="-28.9" y="-62.8"/>
<use href="#bd3" x="-2.1" y="69.1"/>
<use href="#bd3" x="67.8" y="13.1"/>
<use href="#bd3" x="68.8" y="6.6"/>
<use href="#bd3" x="66.2" y="19.8"/>
<use href="#bd3" x="22.8" y="-65.2"/>
<use href="#bd3" x="60.7" y="32.9"/>
<use href="#bd3" x="20" y="66.1"/>
<use href="#bd3" x="-53.9" y="43"/>
<use href="#bd3" x="69" y="0.3"/>
<use href="#dt3" x="10.7" y="-68.1"/>
<use href="#bd3" x="68.7" y="-5.9"/>
<use href="#dt3" x="-61.3" y="31.5"/>
<use href="#bd3" x="-5" y="-68.7"/>
<use href="#bd3" x="3.4" y="68.7"/>
<use href="#bd3" x="63.4" y="26.8"/>
<use href="#bd3" x="14.6" y="67.2"/>
<use href="#bd3" x="17.2" y="-66.6"/>
<use href="#bd3" x="50.7" y="46.5"/>
<use href="#bd3" x="-23.1" y="-64.7"/>
<use href="#dt3" x="9" y="68.1"/>
<use href="#bd3" x="-44.8" y="-52"/>
<use href="#bd3" x="4.5" y="-68.5"/>
<use href="#bd3" x="-15.3" y="-66.9"/>
<use href="#bd3" x="-35.4" y="58.8"/>
<use href="#bd3" x="-59.8" y="-33.5"/>
<use href="#bd3" x="33.5" y="59.9"/>
<use href="#bd3" x="-63.4" y="26"/>
<use href="#bd3" x="-15.1" y="66.8"/>
<use href="#bd3" x="66.2" y="-17.6"/>
<use href="#bd3" x="-57.1" y="37.9"/>
<use href="#bd3" x="59.2" y="-34.4"/>
<use href="#bd3" x="-26.3" y="63.2"/>
<use href="#dt3" x="-53.1" y="-43.2"/>
<use href="#bd3" x="-65.4" y="20.1"/>
<use href="#bd3" x="34.2" y="-59.2"/>
<use href="#bd3" x="-35.2" y="-58.5"/>
<use href="#bd3" x="-66.8" y="14"/>
<use href="#bd3" x="-66.2" y="-16.4"/>
<use href="#bd3" x="-62.4" y="-27.7"/>
<use href="#bd3" x="41.7" y="54"/>
<use href="#bd3" x="54.6" y="40.9"/>
<use href="#bd3" x="67.3" y="-11"/>
<use href="#bd3" x="39.2" y="-55.7"/>
<use href="#bd3" x="61.8" y="-28.4"/>
<use href="#bd3" x="55.9" y="-38.8"/>
<use href="#bd3" x="-40.3" y="-54.8"/>
<use href="#bd3" x="64.1" y="-22.6"/>
<use href="#bd3" x="-67.4" y="8.2"/>
<use href="#bd3" x="-64.3" y="-21.8"/>
<use href="#bd3" x="-49.1" y="-46.9"/>
<use href="#bd3" x="52.2" y="-43.4"/>
<use href="#bd3" x="48.3" y="-47.7"/>
<use href="#bd3" x="28.4" y="61.6"/>
<use href="#bd3" x="-39.9" y="54.8"/>
<use href="#bd3" x="-9.8" y="67.1"/>
<use href="#bd3" x="-67.7" y="-3.9"/>
<use href="#bd3" x="-0.6" y="-67.7"/>
<use href="#bd3" x="-67" y="-9.9"/>
<use href="#bd3" x="-45.7" y="49.8"/>
<use href="#bd3" x="43.9" y="-51.4"/>
<use href="#dt3" x="57.5" y="35.5"/>
<use href="#bd3" x="46.7" y="48.8"/>
<use href="#bd3" x="63.6" y="22.4"/>
<use href="#bd3" x="65.5" y="15.8"/>
<use href="#bd3" x="-21.4" y="63.9"/>
<use href="#bd3" x="-50.4" y="44.7"/>
<use href="#bd3" x="29.3" y="-60.7"/>
<use href="#bd3" x="-56.3" y="-37"/>
<use href="#bd3" x="-30.9" y="59.8"/>
<use href="#bd3" x="66.7" y="9.3"/>
<use href="#bd3" x="-18.8" y="-64.6"/>
<use href="#bd3" x="-30.3" y="-60.1"/>
<use href="#dt3" x="-67.2" y="2.8"/>
<use href="#bd3" x="23.2" y="63.1"/>
<use href="#bd3" x="-58.3" y="33.4"/>
<use href="#bd3" x="-4.4" y="67.1"/>
<use href="#bd3" x="60.4" y="29.4"/>
<use href="#dt3" x="37.1" y="56"/>
<use href="#bd3" x="67.1" y="3"/>
<use href="#bd3" x="12.7" y="-65.9"/>
<use href="#bd3" x="67" y="-3.2"/>
<use href="#bd3" x="24" y="-62.7"/>
<use href="#bd3" x="-7.6" y="-66.6"/>
<use href="#bd3" x="-25" y="-62.1"/>
<use href="#bd3" x="7" y="-66.5"/>
<use href="#bd3" x="18.5" y="-64.2"/>
<use href="#bd3" x="17.8" y="64.4"/>
<use href="#bd3" x="-53.7" y="39.7"/>
<use href="#bd3" x="1.2" y="66.8"/>
<use href="#bd3" x="50.8" y="43.3"/>
<use href="#bd3" x="-60.6" y="28"/>
<use href="#bd3" x="-44.7" y="-49.4"/>
<use href="#bd3" x="12.3" y="65.4"/>
<use href="#bd3" x="6.7" y="66.2"/>
<use href="#bd3" x="-58.9" y="-31"/>
<use href="#bd3" x="-13" y="-65.3"/>
<use href="#bd3" x="64.9" y="-14.9"/>
<use href="#bd3" x="-62.7" y="22.1"/>
<use href="#bd3" x="58.4" y="-31.7"/>
<use href="#bd3" x="-16.3" y="64.4"/>
<use href="#bd3" x="-52.5" y="-40.6"/>
<use href="#bd3" x="-64.4" y="16.1"/>
<use href="#dt3" x="-35.6" y="56"/>
<use href="#bd3" x="34.5" y="-56.6"/>
<use href="#bd3" x="32.3" y="57.8"/>
<use href="#bd3" x="-35.5" y="-55.9"/>
<use href="#bd3" x="42.3" y="50.9"/>
<use href="#bd3" x="65.7" y="-8.3"/>
<use href="#bd3" x="-64.7" y="-14.1"/>
<use href="#dt3" x="-61.1" y="-25.3"/>
<use href="#bd3" x="-26.1" y="60.7"/>
<use href="#bd3" x="-41.7" y="51.2"/>
<use href="#bd3" x="39.2" y="-53"/>
<use href="#bd3" x="60.7" y="-25.7"/>
<use href="#bd3" x="53.9" y="37.9"/>
<use href="#bd3" x="-65.1" y="10.4"/>
<use href="#bd3" x="55.1" y="-36.1"/>
<use href="#bd3" x="62.8" y="-19.9"/>
<use href="#bd3" x="1.9" y="-65.8"/>
<use href="#bd3" x="-40.1" y="-52.1"/>
<use href="#bd3" x="-62.8" y="-19.4"/>
<use href="#bd3" x="51.6" y="-40.7"/>
<use href="#bd3" x="-48.5" y="-44.3"/>
<use href="#bd3" x="47.8" y="-45"/>
<use href="#bd3" x="-46.6" y="46.2"/>
<use href="#bd3" x="-65.6" y="-1.6"/>
<use href="#bd3" x="60.6" y="25"/>
<use href="#bd3" x="-65.1" y="-7.6"/>
<use href="#bd3" x="-11" y="64.6"/>
<use href="#bd3" x="62.9" y="18.4"/>
<use href="#bd3" x="57.1" y="31.9"/>
<use href="#bd3" x="27.2" y="59.5"/>
<use href="#bd3" x="43.6" y="-48.7"/>
<use href="#bd3" x="64.2" y="12"/>
<use href="#dt3" x="-3.6" y="-65.2"/>
<use href="#bd3" x="46.8" y="45.6"/>
<use href="#bd3" x="-55" y="35.2"/>
<use href="#bd3" x="-20" y="-62"/>
<use href="#bd3" x="-64.9" y="5"/>
<use href="#bd3" x="64.9" y="5.7"/>
<use href="#bd3" x="-55.1" y="-34.5"/>
<use href="#bd3" x="29.3" y="-58.1"/>
<use href="#bd3" x="-30.4" y="-57.5"/>
<use href="#bd3" x="65" y="-0.6"/>
<use href="#bd3" x="37.7" y="52.9"/>
<use href="#bd3" x="-50.1" y="41.2"/>
<use href="#bd3" x="-5.6" y="64.6"/>
<use href="#bd3" x="-21.1" y="61.3"/>
<use href="#bd3" x="-31" y="56.9"/>
<use href="#bd3" x="13.4" y="-63.4"/>
<use href="#bd3" x="21.9" y="60.9"/>
<use href="#bd3" x="-9" y="-64"/>
<use href="#bd3" x="24.1" y="-60"/>
<use href="#bd3" x="-57.4" y="29.8"/>
<use href="#bd3" x="-25.2" y="-59.5"/>
<use href="#bd3" x="7.8" y="-64"/>
<use href="#bd3" x="18.8" y="-61.6"/>
<use href="#bd3" x="-0.1" y="64.3"/>
<use href="#bd3" x="-37.3" y="52.4"/>
<use href="#bd3" x="-59.6" y="24"/>
<use href="#bd3" x="16.5" y="62.1"/>
<use href="#bd3" x="63.1" y="-12.2"/>
<use href="#bd3" x="50" y="40.2"/>
<use href="#bd3" x="-43.8" y="-46.9"/>
<use href="#bd3" x="-14.3" y="-62.5"/>
<use href="#bd3" x="-61.5" y="18.1"/>
<use href="#bd3" x="-57.3" y="-28.6"/>
<use href="#bd3" x="5.5" y="63.8"/>
<use href="#bd3" x="11" y="63.1"/>
<use href="#bd3" x="57.1" y="-29"/>
<use href="#dt3" x="63.6" y="-5.6"/>
<use href="#bd3" x="-51.2" y="-38.1"/>
<use href="#bd3" x="32.9" y="54.7"/>
<use href="#bd3" x="42.4" y="47.7"/>
<use href="#bd3" x="-42.5" y="47.5"/>
<use href="#bd3" x="-62.6" y="-11.8"/>
<use href="#bd3" x="-15.9" y="61.7"/>
<use href="#bd3" x="34" y="-53.9"/>
<use href="#bd3" x="-34.7" y="-53.4"/>
<use href="#bd3" x="-59.3" y="-22.9"/>
<use href="#bd3" x="57.4" y="27.4"/>
<use href="#bd3" x="-62.3" y="12.4"/>
<use href="#bd3" x="53.5" y="34.3"/>
<use href="#bd3" x="59.2" y="-22.9"/>
<use href="#bd3" x="61" y="-17.2"/>
<use href="#bd3" x="59.8" y="20.9"/>
<use href="#bd3" x="53.9" y="-33.4"/>
<use href="#bd3" x="-26.1" y="57.7"/>
<use href="#bd3" x="38.5" y="-50.3"/>
<use href="#bd3" x="1.9" y="-63.2"/>
<use href="#bd3" x="-60.9" y="-17.1"/>
<use href="#bd3" x="-63.1" y="0.5"/>
<use href="#bd3" x="-51.3" y="36.8"/>
<use href="#bd3" x="50.5" y="-37.9"/>
<use href="#dt3" x="-39" y="-49.6"/>
<use href="#bd3" x="61.4" y="14.6"/>
<use href="#bd3" x="46.8" y="-42.3"/>
<use href="#bd3" x="-62.8" y="-5.4"/>
<use href="#bd3" x="-47.1" y="-41.9"/>
<use href="#bd3" x="-46.1" y="42.7"/>
<use href="#bd3" x="27.8" y="56.3"/>
<use href="#bd3" x="62.2" y="8.3"/>
<use href="#bd3" x="-10.5" y="61.8"/>
<use href="#bd3" x="42.6" y="-46"/>
<use href="#bd3" x="-5" y="-62.5"/>
<use href="#bd3" x="-18.7" y="-59.7"/>
<use href="#bd3" x="-62.2" y="7"/>
<use href="#bd3" x="62.5" y="2.1"/>
<use href="#bd3" x="-32.6" y="53.4"/>
<use href="#bd3" x="45.8" y="42.4"/>
<use href="#bd3" x="-53.4" y="-32.2"/>
<use href="#bd3" x="37.7" y="49.6"/>
<use href="#bd3" x="-53.8" y="31.4"/>
<use href="#bd3" x="28.6" y="-55.4"/>
<use href="#bd3" x="-29" y="-55.1"/>
<use href="#bd3" x="22.5" y="57.8"/>
<use href="#bd3" x="-10.3" y="-61.1"/>
<use href="#bd3" x="12.6" y="-60.7"/>
<use href="#bd3" x="-5.1" y="61.7"/>
<use href="#dt3" x="-21.1" y="58.2"/>
<use href="#bd3" x="-56.3" y="25.8"/>
<use href="#bd3" x="23.3" y="-57.3"/>
<use href="#bd3" x="-23.5" y="-57.2"/>
<use href="#bd3" x="-38.1" y="48.7"/>
<use href="#bd3" x="6.8" y="-61.3"/>
<use href="#bd3" x="-58.3" y="19.9"/>
<use href="#bd3" x="60.9" y="-9.5"/>
<use href="#bd3" x="17.9" y="-58.9"/>
<use href="#bd3" x="49.5" y="36.6"/>
<use href="#bd3" x="17.1" y="59"/>
<use href="#bd3" x="53.7" y="29.8"/>
<use href="#bd3" x="0.5" y="61.4"/>
<use href="#bd3" x="-42.1" y="-44.6"/>
<use href="#bd3" x="61.2" y="-3"/>
<use href="#bd3" x="55.4" y="-26.2"/>
<use href="#bd3" x="-55.3" y="-26.4"/>
<use href="#bd3" x="11.6" y="60"/>
<use href="#bd3" x="6" y="60.8"/>
<use href="#bd3" x="56.5" y="23.4"/>
<use href="#bd3" x="32.9" y="51.4"/>
<use href="#bd3" x="-59.2" y="14.2"/>
<use href="#bd3" x="-49.2" y="-35.9"/>
<use href="#bd3" x="-60.1" y="-9.7"/>
<use href="#bd3" x="-27.8" y="54.1"/>
<use href="#bd3" x="-47.4" y="38.2"/>
<use href="#bd3" x="-32.8" y="-51.1"/>
<use href="#bd3" x="32.8" y="-51.1"/>
<use href="#bd3" x="-0.5" y="-60.7"/>
<use href="#bd3" x="41.3" y="44.5"/>
<use href="#bd3" x="-57" y="-20.8"/>
<use href="#bd3" x="-41.9" y="43.9"/>
<use href="#bd3" x="57.2" y="-20.3"/>
<use href="#bd3" x="-15.8" y="58.6"/>
<use href="#bd3" x="58.2" y="17.1"/>
<use href="#bd3" x="58.9" y="-14.5"/>
<use href="#bd3" x="52.1" y="-30.7"/>
<use href="#bd3" x="37.1" y="-47.5"/>
<use href="#bd3" x="-60.3" y="2.5"/>
<use href="#bd3" x="-58.4" y="-15"/>
<use href="#bd3" x="59.2" y="10.9"/>
<use href="#bd3" x="-60.1" y="-3.4"/>
<use href="#bd3" x="-15.1" y="-58.2"/>
<use href="#bd3" x="48.8" y="-35.2"/>
<use href="#bd3" x="45.2" y="-39.6"/>
<use href="#bd3" x="-36.9" y="-47.4"/>
<use href="#bd3" x="-45" y="-39.6"/>
<use href="#bd3" x="59.7" y="4.6"/>
<use href="#bd3" x="27.8" y="53"/>
<use href="#bd3" x="-49.9" y="32.9"/>
<use href="#bd3" x="-33.4" y="49.6"/>
<use href="#bd3" x="-59.1" y="8.8"/>
<use href="#bd3" x="41" y="-43.3"/>
<use href="#bd3" x="-10.5" y="58.6"/>
<use href="#bd3" x="45.2" y="38.7"/>
<use href="#bd3" x="-51.1" y="-30.1"/>
<use href="#bd3" x="-26.4" y="-53"/>
<use href="#bd3" x="49.8" y="32.1"/>
<use href="#bd3" x="-52.5" y="27.3"/>
<use href="#bd3" x="-22.7" y="54.7"/>
<use href="#bd3" x="27.1" y="-52.6"/>
<use href="#bd3" x="36.6" y="46.4"/>
<use href="#bd3" x="-20.3" y="-55.4"/>
<use href="#bd3" x="-4.9" y="-58.8"/>
<use href="#bd3" x="10.5" y="-58"/>
<use href="#dt3" x="22.5" y="54.5"/>
<use href="#bd3" x="4.1" y="-58.8"/>
<use href="#bd3" x="-54.8" y="21.5"/>
<use href="#bd3" x="-10.2" y="-57.9"/>
<use href="#bd3" x="-5" y="58.5"/>
<use href="#bd3" x="52.7" y="25.7"/>
<use href="#bd3" x="58.3" y="-6.8"/>
<use href="#bd3" x="21.5" y="-54.5"/>
<use href="#bd3" x="16" y="-56.3"/>
<use href="#bd3" x="-37.4" y="44.9"/>
<use href="#bd3" x="58.4" y="-0.4"/>
<use href="#bd3" x="-43.1" y="39.4"/>
<use href="#bd3" x="17.1" y="55.7"/>
<use href="#bd3" x="53.1" y="-23.6"/>
<use href="#bd3" x="0.5" y="58.1"/>
<use href="#bd3" x="-39.6" y="-42.5"/>
<use href="#bd3" x="54.7" y="19.5"/>
<use href="#bd3" x="-55.8" y="15.9"/>
<use href="#bd3" x="-52.7" y="-24.3"/>
<use href="#bd3" x="11.6" y="56.7"/>
<use href="#bd3" x="6.1" y="57.5"/>
<use href="#bd3" x="-28.5" y="50.3"/>
<use href="#bd3" x="-57.2" y="-7.8"/>
<use href="#bd3" x="-17.4" y="55"/>
<use href="#bd3" x="-30" y="-49.2"/>
<use href="#bd3" x="31.6" y="48.2"/>
<use href="#bd3" x="40.7" y="40.8"/>
<use href="#bd3" x="-46.7" y="-33.8"/>
<use href="#bd3" x="54.8" y="-17.6"/>
<use href="#bd3" x="56.3" y="-11.9"/>
<use href="#bd3" x="-54.3" y="-18.7"/>
<use href="#bd3" x="30.8" y="-48.4"/>
<use href="#bd3" x="55.8" y="13.4"/>
<use href="#bd3" x="49.9" y="-28"/>
<use href="#bd3" x="-57" y="4.3"/>
<use href="#bd3" x="-45.8" y="34.2"/>
<use href="#bd3" x="-55.5" y="-13.1"/>
<use href="#dt3" x="56.6" y="7.1"/>
<use href="#bd3" x="-57" y="-1.6"/>
<use href="#bd3" x="45.5" y="34.3"/>
<use href="#bd3" x="35.1" y="-44.8"/>
<use href="#bd3" x="46.6" y="-32.5"/>
<use href="#bd3" x="-34" y="-45.4"/>
<use href="#bd3" x="43.1" y="-36.9"/>
<use href="#dt3" x="-15.8" y="-54.4"/>
<use href="#bd3" x="-55.7" y="10.6"/>
<use href="#bd3" x="-0" y="-56.6"/>
<use href="#bd3" x="-42.3" y="-37.6"/>
<use href="#bd3" x="-12" y="55.1"/>
<use href="#bd3" x="-48.5" y="28.7"/>
<use href="#bd3" x="26.4" y="49.7"/>
<use href="#bd3" x="-22.7" y="-51.5"/>
<use href="#bd3" x="38.9" y="-40.6"/>
<use href="#bd3" x="-32.6" y="45.8"/>
<use href="#bd3" x="48.7" y="28"/>
<use href="#bd3" x="7.3" y="-55.6"/>
<use href="#bd3" x="-23.4" y="50.9"/>
<use href="#bd3" x="-38.6" y="40.4"/>
<use href="#dt3" x="-50.9" y="23"/>
<use href="#dt3" x="-48.2" y="-28.1"/>
<use href="#bd3" x="24.7" y="-50"/>
<use href="#dt3" x="35.9" y="42.7"/>
<use href="#bd3" x="55.3" y="-4.3"/>
<use href="#bd3" x="-6.6" y="55"/>
<use href="#bd3" x="-10.5" y="-54.3"/>
<use href="#bd3" x="21.1" y="51.1"/>
<use href="#bd3" x="-5.1" y="-55.1"/>
<use href="#bd3" x="50.8" y="21.9"/>
<use href="#bd3" x="55.3" y="2.1"/>
<use href="#bd3" x="13" y="-53.7"/>
<use href="#dt3" x="18.9" y="-51.9"/>
<use href="#bd3" x="-52" y="17.4"/>
<use href="#bd3" x="41.1" y="36.3"/>
<use href="#bd3" x="50.5" y="-20.9"/>
<use href="#bd3" x="-1" y="54.6"/>
<use href="#bd3" x="15.7" y="52.3"/>
<use href="#bd3" x="-36.4" y="-40.7"/>
<use href="#bd3" x="52.1" y="15.8"/>
<use href="#bd3" x="-26.2" y="-47.7"/>
<use href="#dt3" x="-41.4" y="35.4"/>
<use href="#bd3" x="-49.6" y="-22.4"/>
<use href="#dt3" x="4.6" y="54.1"/>
<use href="#bd3" x="-18.1" y="51.2"/>
<use href="#bd3" x="10.2" y="53.3"/>
<use href="#dt3" x="-53.9" y="-6"/>
<use href="#bd3" x="53.3" y="-9.3"/>
<use href="#bd3" x="30.9" y="44.4"/>
<use href="#bd3" x="51.9" y="-15"/>
<use href="#bd3" x="-27.7" y="46.4"/>
<use href="#bd3" x="-43.5" y="-31.9"/>
<use href="#bd3" x="53.1" y="9.6"/>
<use href="#bd3" x="-51.1" y="-16.9"/>
<use href="#bd3" x="28.2" y="-45.8"/>
<use href="#bd3" x="-53.4" y="5.9"/>
<use href="#bd3" x="-18.1" y="-50.6"/>
<use href="#dt3" x="44.4" y="30.1"/>
<use href="#dt3" x="47.2" y="-25.4"/>
<use href="#dt3" x="3" y="-53.5"/>
<use href="#bd3" x="-53.5" y="0.1"/>
<use href="#bd3" x="-52.2" y="-11.3"/>
<use href="#bd3" x="-33.9" y="41.3"/>
<use href="#bd3" x="-44.2" y="29.9"/>
<use href="#bd3" x="32.5" y="-42.2"/>
<use href="#bd3" x="-51.9" y="12.1"/>
<use href="#bd3" x="-30.2" y="-43.8"/>
<use href="#bd3" x="43.9" y="-29.9"/>
<use href="#bd3" x="40.4" y="-34.2"/>
<use href="#bd3" x="-38.9" y="-35.9"/>
<use href="#bd3" x="-12.7" y="51.2"/>
<use href="#bd3" x="-46.8" y="24.3"/>
<use href="#bd3" x="36.3" y="38.2"/>
<use href="#bd3" x="25.7" y="45.9"/>
<use href="#bd3" x="46.6" y="24.1"/>
<use href="#bd3" x="36.2" y="-38"/>
<use href="#bd3" x="9.2" y="-51.4"/>
<use href="#bd3" x="21.7" y="-47.4"/>
<use href="#bd3" x="-44.8" y="-26.4"/>
<use href="#bd3" x="-22.6" y="46.8"/>
<use href="#bd3" x="51.9" y="-1.8"/>
<use href="#bd3" x="-12.9" y="-50.3"/>
<use href="#bd3" x="51.7" y="4.5"/>
<use href="#bd3" x="-2" y="-51.8"/>
<use href="#bd3" x="15.4" y="-49.4"/>
<use href="#bd3" x="-7.2" y="51.1"/>
<use href="#bd3" x="-36.7" y="36.3"/>
<use href="#bd3" x="20.4" y="47.3"/>
<use href="#bd3" x="-47.9" y="18.8"/>
<use href="#bd3" x="-21.7" y="-46.7"/>
<use href="#bd3" x="48.1" y="18"/>
<use href="#bd3" x="-7.4" y="-50.8"/>
<use href="#bd3" x="39.9" y="32.1"/>
<use href="#dt3" x="-28.9" y="41.9"/>
<use href="#bd3" x="-32.6" y="-39.2"/>
<use href="#bd3" x="47.4" y="-18.4"/>
<use href="#bd3" x="-1.7" y="50.8"/>
<use href="#bd3" x="31.4" y="39.9"/>
<use href="#bd3" x="15" y="48.5"/>
<use href="#bd3" x="49.2" y="11.9"/>
<use href="#bd3" x="-46" y="-20.8"/>
<use href="#bd3" x="50" y="-6.8"/>
<use href="#bd3" x="3.9" y="50.2"/>
<use href="#bd3" x="-50.2" y="-4.4"/>
<use href="#bd3" x="9.4" y="49.4"/>
<use href="#bd3" x="-39.7" y="31"/>
<use href="#bd3" x="48.7" y="-12.5"/>
<use href="#bd3" x="-17.3" y="47.1"/>
<use href="#bd3" x="-39.8" y="-30.3"/>
<use href="#bd3" x="-49.5" y="7.4"/>
<use href="#bd3" x="25" y="-43.3"/>
<use href="#bd3" x="-47.4" y="-15.3"/>
<use href="#bd3" x="-25.8" y="-42.6"/>
<use href="#bd3" x="44.1" y="-22.9"/>
<use href="#bd3" x="42.2" y="26.2"/>
<use href="#bd3" x="4.6" y="-49.4"/>
<use href="#bd3" x="-49.6" y="1.6"/>
<use href="#bd3" x="-47.8" y="13.4"/>
<use href="#bd3" x="-48.5" y="-9.7"/>
<use href="#bd3" x="-42.4" y="25.4"/>
<use href="#bd3" x="29.3" y="-39.7"/>
<use href="#bd3" x="40.8" y="-27.3"/>
<use href="#bd3" x="-16.7" y="-46.2"/>
<use href="#bd3" x="26.3" y="41.5"/>
<use href="#bd3" x="-35" y="-34.4"/>
<use href="#bd3" x="37.3" y="-31.7"/>
<use href="#bd3" x="35.1" y="34"/>
<use href="#bd3" x="-31.8" y="37"/>
<use href="#bd3" x="-23.8" y="42.4"/>
<use href="#bd3" x="-11.9" y="47.1"/>
<use href="#bd3" x="18" y="-45.1"/>
<use href="#bd3" x="11.2" y="-47.2"/>
<use href="#dt3" x="33" y="-35.5"/>
<use href="#bd3" x="47.9" y="6.8"/>
<use href="#bd3" x="43.9" y="20.2"/>
<use href="#bd3" x="48.2" y="0.6"/>
<use href="#bd3" x="-41" y="-24.9"/>
<use href="#bd3" x="-43.6" y="19.9"/>
<use href="#bd3" x="-0.4" y="-47.9"/>
<use href="#bd3" x="21" y="42.8"/>
<use href="#bd3" x="-11.3" y="-46.2"/>
<use href="#bd3" x="-28.2" y="-38"/>
<use href="#bd3" x="-6.4" y="46.9"/>
<use href="#bd3" x="45.1" y="14.1"/>
<use href="#bd3" x="-34.9" y="31.8"/>
<use href="#bd3" x="-5.8" y="-46.8"/>
<use href="#bd3" x="37.6" y="28.1"/>
<use href="#bd3" x="-20.9" y="-41.9"/>
<use href="#bd3" x="44" y="-15.9"/>
<use href="#bd3" x="15.6" y="44"/>
<use href="#bd3" x="30.2" y="35.7"/>
<use href="#bd3" x="-0.9" y="46.5"/>
<use href="#bd3" x="-18.6" y="42.6"/>
<use href="#dt3" x="46.2" y="-4.4"/>
<use href="#bd3" x="-42" y="-19.3"/>
<use href="#bd3" x="45.1" y="-10.1"/>
<use href="#bd3" x="-46.1" y="-3"/>
<use href="#bd3" x="10.1" y="45.1"/>
<use href="#bd3" x="4.6" y="45.9"/>
<use href="#bd3" x="-26.7" y="37.5"/>
<use href="#bd3" x="21.2" y="-40.9"/>
<use href="#dt3" x="-45.2" y="8.6"/>
<use href="#bd3" x="-37.7" y="26.3"/>
<use href="#bd3" x="-35.7" y="-29"/>
<use href="#bd3" x="-43.4" y="14.6"/>
<use href="#bd3" x="6.4" y="-45.2"/>
<use href="#bd3" x="-43.4" y="-13.9"/>
<use href="#bd3" x="-45.5" y="2.9"/>
<use href="#bd3" x="40.6" y="-20.4"/>
<use href="#bd3" x="-44.5" y="-8.4"/>
<use href="#bd3" x="25.6" y="-37.3"/>
<use href="#bd3" x="39.3" y="22.2"/>
<use href="#dt3" x="-30.5" y="-33.3"/>
<use href="#bd3" x="13.7" y="-42.9"/>
<use href="#bd3" x="25" y="37.2"/>
<use href="#bd3" x="37.2" y="-24.9"/>
<use href="#bd3" x="43.8" y="9"/>
<use href="#bd3" x="-13.2" y="42.6"/>
<use href="#bd3" x="33.7" y="-29.3"/>
<use href="#bd3" x="-15.5" y="-41.6"/>
<use href="#bd3" x="44.2" y="2.9"/>
<use href="#bd3" x="32.7" y="29.9"/>
<use href="#bd3" x="-39" y="20.9"/>
<use href="#bd3" x="29.3" y="-33.1"/>
<use href="#bd3" x="-29.9" y="32.4"/>
<use href="#bd3" x="-23.3" y="-37.3"/>
<use href="#dt3" x="40.7" y="16.2"/>
<use href="#bd3" x="-36.8" y="-23.6"/>
<use href="#bd3" x="1.1" y="-43.7"/>
<use href="#bd3" x="-21.5" y="37.9"/>
<use href="#bd3" x="19.7" y="38.6"/>
<use href="#bd3" x="-7.7" y="42.5"/>
<use href="#dt3" x="-10" y="-41.8"/>
<use href="#bd3" x="-4.4" y="-42.5"/>
<use href="#bd3" x="-32.8" y="27"/>
<use href="#bd3" x="40.1" y="-13.6"/>
<use href="#bd3" x="42.2" y="-2.1"/>
<use href="#bd3" x="16.8" y="-38.8"/>
<use href="#bd3" x="14.3" y="39.7"/>
<use href="#bd3" x="-2.2" y="42.1"/>
<use href="#bd3" x="34.5" y="24.1"/>
<use href="#dt3" x="8.9" y="-41"/>
<use href="#dt3" x="27.6" y="31.6"/>
<use href="#bd3" x="41.2" y="-7.8"/>
<use href="#bd3" x="-40.7" y="9.7"/>
<use href="#bd3" x="-31.1" y="-28"/>
<use href="#bd3" x="-37.7" y="-18.1"/>
<use href="#bd3" x="-41.8" y="-1.9"/>
<use href="#bd3" x="-38.7" y="15.6"/>
<use href="#bd3" x="8.9" y="40.7"/>
<use href="#bd3" x="3.3" y="41.5"/>
<use href="#bd3" x="-25.7" y="-32.5"/>
<use href="#dt3" x="-16.1" y="38"/>
<use href="#bd3" x="-41" y="4"/>
<use href="#bd3" x="-18.1" y="-36.9"/>
<use href="#bd3" x="-24.7" y="32.8"/>
<use href="#bd3" x="21.4" y="-35.1"/>
<use href="#bd3" x="-39" y="-12.7"/>
<use href="#bd3" x="36.8" y="-18.1"/>
<use href="#bd3" x="39.4" y="11.1"/>
<use href="#dt3" x="-40.1" y="-7.2"/>
<use href="#bd3" x="-34.2" y="21.6"/>
<use href="#bd3" x="36.1" y="18.1"/>
<use href="#bd3" x="39.9" y="5.1"/>
<use href="#bd3" x="33.3" y="-22.6"/>
<use href="#bd3" x="29.6" y="-27"/>
<use href="#bd3" x="22.4" y="33"/>
<use href="#bd3" x="25.1" y="-30.9"/>
<use href="#bd3" x="3.8" y="-39.5"/>
<use href="#bd3" x="-10.6" y="37.9"/>
<use href="#bd3" x="-32.2" y="-22.7"/>
<use href="#bd3" x="29.6" y="25.8"/>
<use href="#bd3" x="-27.8" y="27.5"/>
<use href="#bd3" x="-12.7" y="-37"/>
<use href="#bd3" x="12.1" y="-36.8"/>
<use href="#bd3" x="17" y="34.3"/>
<use href="#bd3" x="-19.4" y="33"/>
<use href="#bd3" x="-1.6" y="-38.3"/>
<use href="#bd3" x="-7.1" y="-37.4"/>
<use href="#bd3" x="-20.5" y="-32"/>
<use href="#bd3" x="-5.1" y="37.6"/>
<use href="#bd3" x="37.9" y="0"/>
<use href="#bd3" x="-26.2" y="-27.3"/>
<use href="#bd3" x="36" y="-11.4"/>
<use href="#bd3" x="-33.9" y="16.3"/>
<use href="#bd3" x="-35.9" y="10.5"/>
<use href="#bd3" x="36.9" y="-5.6"/>
<use href="#bd3" x="11.5" y="35.4"/>
<use href="#bd3" x="-33" y="-17.2"/>
<use href="#bd3" x="34.8" y="13.1"/>
<use href="#bd3" x="-37.1" y="-0.9"/>
<use href="#bd3" x="16.8" y="-33.1"/>
<use href="#dt3" x="0.5" y="37.1"/>
<use href="#bd3" x="31.2" y="19.9"/>
<use href="#bd3" x="6" y="36.4"/>
<use href="#bd3" x="24.4" y="27.4"/>
<use href="#dt3" x="-29.1" y="22.2"/>
<use href="#bd3" x="-36.3" y="4.9"/>
<use href="#bd3" x="-34.3" y="-11.8"/>
<use href="#dt3" x="32.5" y="-15.9"/>
<use href="#bd3" x="35.3" y="7.1"/>
<use href="#bd3" x="-35.4" y="-6.3"/>
<use href="#bd3" x="6.9" y="-35.2"/>
<use href="#bd3" x="-14" y="33"/>
<use href="#bd3" x="-22.6" y="27.9"/>
<use href="#dt3" x="20.6" y="-28.9"/>
<use href="#bd3" x="29" y="-20.4"/>
<use href="#bd3" x="25.2" y="-24.9"/>
<use href="#bd3" x="-15.1" y="-32"/>
<use href="#bd3" x="-27.2" y="-22"/>
<use href="#bd3" x="19.1" y="28.8"/>
<use href="#bd3" x="-20.9" y="-26.9"/>
<use href="#bd3" x="26.2" y="21.6"/>
<use href="#bd3" x="1.6" y="-33.9"/>
<use href="#bd3" x="-8.5" y="32.8"/>
<use href="#bd3" x="-9.5" y="-32.2"/>
<use href="#bd3" x="11.8" y="-31.3"/>
<use href="#bd3" x="29.9" y="14.9"/>
<use href="#bd3" x="-28.8" y="16.9"/>
<use href="#dt3" x="33.3" y="2"/>
<use href="#bd3" x="-3.9" y="-32.9"/>
<use href="#dt3" x="13.7" y="30"/>
<use href="#bd3" x="-24" y="22.6"/>
<use href="#bd3" x="-30.9" y="11.2"/>
<use href="#bd3" x="-17.2" y="28"/>
<use href="#bd3" x="31.5" y="-9.3"/>
<use href="#bd3" x="32.4" y="-3.6"/>
<use href="#bd3" x="-2.9" y="32.4"/>
<use href="#bd3" x="-28" y="-16.6"/>
<use href="#bd3" x="-32.2" y="-0.2"/>
<use href="#bd3" x="8.2" y="31"/>
<use href="#bd3" x="2.6" y="31.8"/>
<use href="#bd3" x="-31.3" y="5.6"/>
<use href="#bd3" x="30.5" y="8.9"/>
<use href="#bd3" x="-29.3" y="-11.1"/>
<use href="#bd3" x="15.8" y="-27"/>
<use href="#bd3" x="28" y="-13.9"/>
<use href="#bd3" x="21" y="23"/>
<use href="#bd3" x="-15.5" y="-26.8"/>
<use href="#bd3" x="-30.5" y="-5.6"/>
<use href="#bd3" x="-22" y="-21.6"/>
<use href="#bd3" x="20.5" y="-22.9"/>
<use href="#bd3" x="6.6" y="-29.8"/>
<use href="#bd3" x="24.3" y="-18.4"/>
<use href="#bd3" x="-11.8" y="27.9"/>
<use href="#dt3" x="24.8" y="16.5"/>
<use href="#bd3" x="-18.6" y="22.7"/>
<use href="#bd3" x="-23.5" y="17.2"/>
<use href="#bd3" x="15.7" y="24.3"/>
<use href="#bd3" x="-10" y="-27.1"/>
<use href="#bd3" x="28.4" y="3.9"/>
<use href="#bd3" x="1.1" y="-28.6"/>
<use href="#bd3" x="-6.3" y="27.6"/>
<use href="#bd3" x="-25.7" y="11.6"/>
<use href="#dt3" x="-4.4" y="-27.7"/>
<use href="#bd3" x="-22.8" y="-16.2"/>
<use href="#bd3" x="26.8" y="-7.4"/>
<use href="#bd3" x="27.6" y="-1.7"/>
<use href="#bd3" x="25.5" y="10.6"/>
<use href="#bd3" x="10.7" y="-25.4"/>
<use href="#bd3" x="10.2" y="25.4"/>
<use href="#dt3" x="-16.7" y="-21.5"/>
<use href="#dt3" x="-27.1" y="0.3"/>
<use href="#bd3" x="-0.8" y="27.1"/>
<use href="#bd3" x="-26.2" y="6"/>
<use href="#bd3" x="4.8" y="26.3"/>
<use href="#bd3" x="19.6" y="17.9"/>
<use href="#bd3" x="-24.1" y="-10.7"/>
<use href="#bd3" x="15.5" y="-21.2"/>
<use href="#dt3" x="-13.2" y="22.6"/>
<use href="#bd3" x="23.2" y="-12.1"/>
<use href="#bd3" x="-25.3" y="-5.2"/>
<use href="#bd3" x="19.4" y="-16.7"/>
<use href="#bd3" x="-18.2" y="17.3"/>
<use href="#bd3" x="5.4" y="-24.1"/>
<use href="#bd3" x="-11.2" y="-21.7"/>
<use href="#bd3" x="23.4" y="5.6"/>
<use href="#bd3" x="14.3" y="19.2"/>
<use href="#bd3" x="20.3" y="12.2"/>
<use href="#bd3" x="-17.4" y="-16.1"/>
<use href="#bd3" x="-7.7" y="22.4"/>
<use href="#dt3" x="-20.4" y="11.8"/>
<use href="#bd3" x="-0.1" y="-23"/>
<use href="#bd3" x="-5.6" y="-22.2"/>
<use href="#bd3" x="22.6" y="-0"/>
<use href="#bd3" x="21.8" y="-5.7"/>
<use href="#bd3" x="10.3" y="-19.7"/>
<use href="#bd3" x="8.8" y="20.3"/>
<use href="#bd3" x="-2.2" y="21.9"/>
<use href="#bd3" x="-21.8" y="0.6"/>
<use href="#bd3" x="-20.9" y="6.2"/>
<use href="#bd3" x="-18.8" y="-10.6"/>
<use href="#bd3" x="3.3" y="21.2"/>
<use href="#bd3" x="-12.7" y="17.2"/>
<use href="#bd3" x="18.1" y="-10.4"/>
<use href="#dt3" x="14.2" y="-15.1"/>
<use href="#bd3" x="-20" y="-5"/>
<use href="#bd3" x="15" y="13.5"/>
<use href="#bd3" x="-11.8" y="-16.3"/>
<use href="#bd3" x="18.1" y="7"/>
<use href="#bd3" x="4.8" y="-18.4"/>
<use href="#bd3" x="-14.9" y="11.8"/>
<use href="#bd3" x="-7.1" y="16.9"/>
<use href="#bd3" x="-6.3" y="-16.7"/>
<use href="#bd3" x="17.4" y="1.5"/>
<use href="#bd3" x="9.5" y="14.7"/>
<use href="#bd3" x="-0.7" y="-17.4"/>
<use href="#bd3" x="16.6" y="-4.1"/>
<use href="#bd3" x="-13.3" y="-10.7"/>
<use href="#bd3" x="-15.5" y="6.2"/>
<use href="#dt3" x="-1.6" y="16.4"/>
<use href="#bd3" x="-16.4" y="0.6"/>
<use href="#bd3" x="8.9" y="-13.7"/>
<use href="#bd3" x="4" y="15.6"/>
<use href="#bd3" x="12.9" y="-8.9"/>
<use href="#dt3" x="-14.6" y="-5"/>
<use href="#bd3" x="12.8" y="8.4"/>
<use href="#bd3" x="-9.4" y="11.5"/>
<use href="#bd3" x="-7.7" y="-11"/>
<use href="#bd3" x="3.4" y="-12.6"/>
<use href="#dt3" x="12.1" y="2.8"/>
<use href="#bd3" x="7.3" y="9.5"/>
<use href="#dt3" x="-2.1" y="-11.7"/>
<use href="#bd3" x="-3.8" y="11"/>
<use href="#bd3" x="-10" y="6"/>
<use href="#bd3" x="11.3" y="-2.8"/>
<use href="#bd3" x="-10.9" y="0.4"/>
<use href="#bd3" x="7.5" y="-7.7"/>
<use href="#bd3" x="-9.1" y="-5.3"/>
<use href="#bd3" x="1.7" y="10.4"/>
<use href="#bd3" x="6.6" y="3.9"/>
<use href="#bd3" x="-4.4" y="5.5"/>
<use href="#bd3" x="2" y="-6.7"/>
<use href="#bd3" x="-3.5" y="-5.9"/>
<use href="#bd3" x="5.8" y="-1.6"/>
<use href="#bd3" x="-5.3" y="-0"/>
<use href="#bd3" x="1.1" y="4.8"/>
<use href="#bd3" x="0.3" y="-0.7"/>
</g>
<circle cx="1260" cy="183" r="76.5" fill="url(#sphshade)"/>
</g>
<line x1="984.3" y1="246.7" x2="1003" y2="212.2" stroke="#111" stroke-width="2.0" />
<line x1="953.3" y1="300.4" x2="936.3" y2="327.5" stroke="#111" stroke-width="2.0" />
<line x1="984.3" y1="300.4" x2="999.7" y2="327.8" stroke="#111" stroke-width="2.0" />
<line x1="1000.3" y1="329.9" x2="1029.7" y2="321.9" stroke="#111" stroke-width="2.0" />
<line x1="999.1" y1="325.7" x2="1028.5" y2="317.7" stroke="#111" stroke-width="2.0" />
<line x1="999.7" y1="327.8" x2="992.8" y2="357.6" stroke="#111" stroke-width="2.0" />
<line x1="935" y1="329" x2="957.9" y2="349.9" stroke="#111" stroke-width="2.0" />
<line x1="937.6" y1="326" x2="960.5" y2="346.9" stroke="#111" stroke-width="2.0" />
<line x1="936.3" y1="327.5" x2="915.7" y2="305.3" stroke="#111" stroke-width="2.0" />
<line x1="936.3" y1="327.5" x2="910.3" y2="343.3" stroke="#111" stroke-width="2.0" />
<polygon points="999.8,273.5 984.3,300.3 953.3,300.3 937.8,273.5 953.3,246.7 984.3,246.7" fill="url(#peach)" stroke="#111" stroke-width="2.0" stroke-linejoin="round" />
<line x1="945.1" y1="271.6" x2="955.3" y2="253.9" stroke="#111" stroke-width="2.0" />
<line x1="982.3" y1="253.9" x2="992.5" y2="271.6" stroke="#111" stroke-width="2.0" />
<line x1="979" y1="295" x2="958.6" y2="295" stroke="#111" stroke-width="2.0" />
<polygon points="923.7,275.4 915.7,305.3 885.8,313.3 863.9,291.4 871.9,261.5 901.8,253.5" fill="url(#peach)" stroke="#111" stroke-width="2.0" stroke-linejoin="round" />
<line x1="885.8" y1="305.8" x2="871.4" y2="291.4" stroke="#111" stroke-width="2.0" />
<line x1="878.4" y1="265.3" x2="898.1" y2="260" stroke="#111" stroke-width="2.0" />
<line x1="917.2" y1="279.1" x2="911.9" y2="298.8" stroke="#111" stroke-width="2.0" />
<polygon points="910.3,374.3 883.5,389.8 856.7,374.3 856.7,343.3 883.5,327.8 910.3,343.3" fill="url(#peach)" stroke="#111" stroke-width="2.0" stroke-linejoin="round" />
<line x1="885.4" y1="335.1" x2="903.1" y2="345.3" stroke="#111" stroke-width="2.0" />
<line x1="903.1" y1="372.3" x2="885.4" y2="382.5" stroke="#111" stroke-width="2.0" />
<line x1="862" y1="369" x2="862" y2="348.6" stroke="#111" stroke-width="2.0" />
<circle cx="1003" cy="212.2" r="22" fill="url(#fgball)" stroke="#1a4a80" stroke-width="1.0"/>
<text x="1003" y="220" font-size="22" text-anchor="middle" font-weight="normal" fill="#111"  style="">FG</text>
<circle cx="936.3" cy="327.5" r="12.2" fill="url(#pball)" stroke="#b05a28" stroke-width="0.6"/>
<text x="936.3" y="335.3" font-size="22" text-anchor="middle" font-weight="normal" fill="#111"  style="">P</text>
<circle cx="1029.1" cy="319.8" r="11.5" fill="url(#oball)" stroke="#7a0c1c" stroke-width="1.1"/>
<text x="1029.1" y="327.3" font-size="22" text-anchor="middle" font-weight="normal" fill="#111"  style="">O</text>
<circle cx="992.8" cy="357.6" r="11.5" fill="url(#oball)" stroke="#7a0c1c" stroke-width="1.1"/>
<text x="992.8" y="365.1" font-size="22" text-anchor="middle" font-weight="normal" fill="#111"  style="">O</text>
<circle cx="959.2" cy="348.4" r="11.5" fill="url(#oball)" stroke="#7a0c1c" stroke-width="1.1"/>
<text x="959.2" y="355.9" font-size="22" text-anchor="middle" font-weight="normal" fill="#111"  style="">O</text>
<line x1="1008.6" y1="351.8" x2="1016.6" y2="351.8" stroke="#111" stroke-width="1.6" />
<line x1="141.9" y1="489.5" x2="160.6" y2="455.1" stroke="#111" stroke-width="2.0" />
<line x1="110.9" y1="543.2" x2="93.9" y2="570.4" stroke="#111" stroke-width="2.0" />
<line x1="141.9" y1="543.2" x2="157.3" y2="570.7" stroke="#111" stroke-width="2.0" />
<line x1="157.9" y1="572.8" x2="187.3" y2="564.8" stroke="#111" stroke-width="2.0" />
<line x1="156.7" y1="568.6" x2="186.1" y2="560.6" stroke="#111" stroke-width="2.0" />
<line x1="157.3" y1="570.7" x2="150.4" y2="600.5" stroke="#111" stroke-width="2.0" />
<line x1="92.6" y1="571.9" x2="115.5" y2="592.8" stroke="#111" stroke-width="2.0" />
<line x1="95.2" y1="568.9" x2="118.1" y2="589.8" stroke="#111" stroke-width="2.0" />
<line x1="93.9" y1="570.4" x2="73.3" y2="548.2" stroke="#111" stroke-width="2.0" />
<line x1="93.9" y1="570.4" x2="68" y2="586.2" stroke="#111" stroke-width="2.0" />
<polygon points="157.4,516.4 141.9,543.2 110.9,543.2 95.4,516.4 110.9,489.6 141.9,489.6" fill="url(#peach)" stroke="#111" stroke-width="2.0" stroke-linejoin="round" />
<line x1="102.7" y1="514.5" x2="112.9" y2="496.8" stroke="#111" stroke-width="2.0" />
<line x1="139.9" y1="496.8" x2="150.1" y2="514.5" stroke="#111" stroke-width="2.0" />
<line x1="136.6" y1="537.9" x2="116.2" y2="537.9" stroke="#111" stroke-width="2.0" />
<polygon points="81.3,518.3 73.3,548.2 43.4,556.2 21.5,534.3 29.5,504.4 59.4,496.4" fill="url(#peach)" stroke="#111" stroke-width="2.0" stroke-linejoin="round" />
<line x1="43.4" y1="548.7" x2="29" y2="534.3" stroke="#111" stroke-width="2.0" />
<line x1="36" y1="508.2" x2="55.7" y2="502.9" stroke="#111" stroke-width="2.0" />
<line x1="74.8" y1="522" x2="69.5" y2="541.7" stroke="#111" stroke-width="2.0" />
<polygon points="67.9,617.2 41.1,632.7 14.3,617.2 14.3,586.2 41.1,570.7 67.9,586.2" fill="url(#peach)" stroke="#111" stroke-width="2.0" stroke-linejoin="round" />
<line x1="43" y1="578" x2="60.7" y2="588.2" stroke="#111" stroke-width="2.0" />
<line x1="60.7" y1="615.2" x2="43" y2="625.4" stroke="#111" stroke-width="2.0" />
<line x1="19.6" y1="611.9" x2="19.6" y2="591.5" stroke="#111" stroke-width="2.0" />
<circle cx="160.6" cy="455.1" r="22" fill="url(#fgball)" stroke="#1a4a80" stroke-width="1.0"/>
<text x="160.6" y="462.9" font-size="22" text-anchor="middle" font-weight="normal" fill="#111"  style="">FG</text>
<circle cx="93.9" cy="570.4" r="12.2" fill="url(#pball)" stroke="#b05a28" stroke-width="0.6"/>
<text x="93.9" y="578.2" font-size="22" text-anchor="middle" font-weight="normal" fill="#111"  style="">P</text>
<circle cx="186.7" cy="562.7" r="11.5" fill="url(#oball)" stroke="#7a0c1c" stroke-width="1.1"/>
<text x="186.7" y="570.2" font-size="22" text-anchor="middle" font-weight="normal" fill="#111"  style="">O</text>
<circle cx="150.4" cy="600.5" r="11.5" fill="url(#oball)" stroke="#7a0c1c" stroke-width="1.1"/>
<text x="150.4" y="608" font-size="22" text-anchor="middle" font-weight="normal" fill="#111"  style="">O</text>
<circle cx="116.8" cy="591.3" r="11.5" fill="url(#oball)" stroke="#7a0c1c" stroke-width="1.1"/>
<text x="116.8" y="598.8" font-size="22" text-anchor="middle" font-weight="normal" fill="#111"  style="">O</text>
<text x="165.4" y="608.3" font-size="23" text-anchor="start" font-weight="normal" fill="#111"  style="">H</text>
<line x1="1262.1" y1="44.3" x2="1272" y2="26" stroke="#111" stroke-width="1.5" />
<line x1="1245.7" y1="72.7" x2="1236.7" y2="87.1" stroke="#111" stroke-width="1.5" />
<line x1="1262.1" y1="72.7" x2="1270.3" y2="87.3" stroke="#111" stroke-width="1.5" />
<line x1="1270.6" y1="88.4" x2="1286.2" y2="84.2" stroke="#111" stroke-width="1.5" />
<line x1="1270" y1="86.2" x2="1285.6" y2="81.9" stroke="#111" stroke-width="1.5" />
<line x1="1270.3" y1="87.3" x2="1266.6" y2="103.1" stroke="#111" stroke-width="1.5" />
<line x1="1236" y1="87.9" x2="1248.1" y2="99" stroke="#111" stroke-width="1.5" />
<line x1="1237.4" y1="86.3" x2="1249.5" y2="97.4" stroke="#111" stroke-width="1.5" />
<line x1="1236.7" y1="87.1" x2="1225.8" y2="75.4" stroke="#111" stroke-width="1.5" />
<line x1="1236.7" y1="87.1" x2="1222.9" y2="95.5" stroke="#111" stroke-width="1.5" />
<polygon points="1270.3,58.5 1262.1,72.7 1245.7,72.7 1237.5,58.5 1245.7,44.3 1262.1,44.3" fill="url(#peach)" stroke="#111" stroke-width="1.5" stroke-linejoin="round" />
<line x1="1241.3" y1="57.5" x2="1246.8" y2="48.1" stroke="#111" stroke-width="1.5" />
<line x1="1261" y1="48.1" x2="1266.5" y2="57.5" stroke="#111" stroke-width="1.5" />
<line x1="1259.3" y1="69.9" x2="1248.5" y2="69.9" stroke="#111" stroke-width="1.5" />
<polygon points="1230,59.5 1225.8,75.4 1209.9,79.6 1198.3,68 1202.5,52.1 1218.4,47.9" fill="url(#peach)" stroke="#111" stroke-width="1.5" stroke-linejoin="round" />
<line x1="1209.9" y1="75.6" x2="1202.3" y2="68" stroke="#111" stroke-width="1.5" />
<line x1="1206" y1="54.2" x2="1216.4" y2="51.3" stroke="#111" stroke-width="1.5" />
<line x1="1226.5" y1="61.5" x2="1223.7" y2="71.9" stroke="#111" stroke-width="1.5" />
<polygon points="1222.9,111.9 1208.7,120.1 1194.5,111.9 1194.5,95.5 1208.7,87.3 1222.9,95.5" fill="url(#peach)" stroke="#111" stroke-width="1.5" stroke-linejoin="round" />
<line x1="1209.7" y1="91.1" x2="1219.1" y2="96.6" stroke="#111" stroke-width="1.5" />
<line x1="1219.1" y1="110.9" x2="1209.7" y2="116.3" stroke="#111" stroke-width="1.5" />
<line x1="1197.3" y1="109.1" x2="1197.3" y2="98.3" stroke="#111" stroke-width="1.5" />
<circle cx="1272" cy="26" r="11.7" fill="url(#fgball)" stroke="#1a4a80" stroke-width="0.6240000000000001"/>
<text x="1272" y="30.4" font-size="12.5" text-anchor="middle" font-weight="normal" fill="#111"  style="">FG</text>
<circle cx="1236.7" cy="87.1" r="6.5" fill="url(#pball)" stroke="#b05a28" stroke-width="0.6"/>
<text x="1236.7" y="91.5" font-size="12.5" text-anchor="middle" font-weight="normal" fill="#111"  style="">P</text>
<circle cx="1285.9" cy="83" r="6.1" fill="url(#oball)" stroke="#7a0c1c" stroke-width="0.5830000000000001"/>
<text x="1285.9" y="87.2" font-size="12" text-anchor="middle" font-weight="normal" fill="#111"  style="">O</text>
<circle cx="1266.6" cy="103.1" r="6.1" fill="url(#oball)" stroke="#7a0c1c" stroke-width="0.5830000000000001"/>
<text x="1266.6" y="107.3" font-size="12" text-anchor="middle" font-weight="normal" fill="#111"  style="">O</text>
<circle cx="1248.8" cy="98.2" r="6.1" fill="url(#oball)" stroke="#7a0c1c" stroke-width="0.5830000000000001"/>
<text x="1248.8" y="102.4" font-size="12" text-anchor="middle" font-weight="normal" fill="#111"  style="">O</text>
<line x1="1275" y1="100" x2="1279.2" y2="100" stroke="#111" stroke-width="1" />
<line x1="1141.5" y1="108.2" x2="1130.6" y2="90.5" stroke="#111" stroke-width="1.5" />
<line x1="1157.9" y1="136.6" x2="1165.9" y2="151.6" stroke="#111" stroke-width="1.5" />
<line x1="1166.1" y1="122.4" x2="1182.8" y2="122.6" stroke="#111" stroke-width="1.5" />
<line x1="1183.9" y1="122.9" x2="1188.1" y2="107.3" stroke="#111" stroke-width="1.5" />
<line x1="1181.7" y1="122.3" x2="1185.8" y2="106.7" stroke="#111" stroke-width="1.5" />
<line x1="1182.8" y1="122.6" x2="1194.7" y2="133.7" stroke="#111" stroke-width="1.5" />
<line x1="1166.2" y1="152.6" x2="1181.9" y2="147.7" stroke="#111" stroke-width="1.5" />
<line x1="1165.6" y1="150.6" x2="1181.2" y2="145.6" stroke="#111" stroke-width="1.5" />
<line x1="1165.9" y1="151.6" x2="1150.2" y2="155.2" stroke="#111" stroke-width="1.5" />
<line x1="1165.9" y1="151.6" x2="1166.2" y2="167.7" stroke="#111" stroke-width="1.5" />
<polygon points="1157.9,108.2 1166.1,122.4 1157.9,136.6 1141.5,136.6 1133.3,122.4 1141.5,108.2" fill="url(#peach)" stroke="#111" stroke-width="1.5" stroke-linejoin="round" />
<line x1="1142.6" y1="132.8" x2="1137.1" y2="123.4" stroke="#111" stroke-width="1.5" />
<line x1="1144.3" y1="111" x2="1155.1" y2="111" stroke="#111" stroke-width="1.5" />
<line x1="1162.3" y1="123.4" x2="1156.8" y2="132.8" stroke="#111" stroke-width="1.5" />
<polygon points="1138.6,143.6 1150.2,155.2 1146,171.1 1130.1,175.3 1118.5,163.7 1122.8,147.8" fill="url(#peach)" stroke="#111" stroke-width="1.5" stroke-linejoin="round" />
<line x1="1142.6" y1="169" x2="1132.1" y2="171.8" stroke="#111" stroke-width="1.5" />
<line x1="1122" y1="161.7" x2="1124.8" y2="151.3" stroke="#111" stroke-width="1.5" />
<line x1="1138.6" y1="147.6" x2="1146.3" y2="155.2" stroke="#111" stroke-width="1.5" />
<polygon points="1180.5,175.9 1180.5,192.4 1166.2,200.6 1152,192.4 1152,175.9 1166.2,167.7" fill="url(#peach)" stroke="#111" stroke-width="1.5" stroke-linejoin="round" />
<line x1="1155.9" y1="177" x2="1165.3" y2="171.6" stroke="#111" stroke-width="1.5" />
<line x1="1177.6" y1="178.7" x2="1177.6" y2="189.6" stroke="#111" stroke-width="1.5" />
<line x1="1165.3" y1="196.7" x2="1155.9" y2="191.3" stroke="#111" stroke-width="1.5" />
<circle cx="1130.6" cy="90.5" r="11.7" fill="url(#fgball)" stroke="#1a4a80" stroke-width="0.6240000000000001"/>
<text x="1130.6" y="94.9" font-size="12.5" text-anchor="middle" font-weight="normal" fill="#111"  style="">FG</text>
<circle cx="1165.9" cy="151.6" r="6.5" fill="url(#pball)" stroke="#b05a28" stroke-width="0.6"/>
<text x="1165.9" y="156" font-size="12.5" text-anchor="middle" font-weight="normal" fill="#111"  style="">P</text>
<circle cx="1186.9" cy="107" r="6.1" fill="url(#oball)" stroke="#7a0c1c" stroke-width="0.5830000000000001"/>
<text x="1186.9" y="111.2" font-size="12" text-anchor="middle" font-weight="normal" fill="#111"  style="">O</text>
<circle cx="1194.7" cy="133.7" r="6.1" fill="url(#oball)" stroke="#7a0c1c" stroke-width="0.5830000000000001"/>
<text x="1194.7" y="137.9" font-size="12" text-anchor="middle" font-weight="normal" fill="#111"  style="">O</text>
<circle cx="1181.5" cy="146.7" r="6.1" fill="url(#oball)" stroke="#7a0c1c" stroke-width="0.5830000000000001"/>
<text x="1181.5" y="150.9" font-size="12" text-anchor="middle" font-weight="normal" fill="#111"  style="">O</text>
<line x1="1195.1" y1="123" x2="1199.4" y2="123" stroke="#111" stroke-width="1" />
<line x1="1376.8" y1="115.3" x2="1397.6" y2="114.8" stroke="#111" stroke-width="1.5" />
<line x1="1344" y1="115.3" x2="1327" y2="114.7" stroke="#111" stroke-width="1.5" />
<line x1="1352.2" y1="129.5" x2="1343.7" y2="143.9" stroke="#111" stroke-width="1.5" />
<line x1="1342.8" y1="144.7" x2="1354.3" y2="156.1" stroke="#111" stroke-width="1.5" />
<line x1="1344.5" y1="143" x2="1355.9" y2="154.4" stroke="#111" stroke-width="1.5" />
<line x1="1343.7" y1="143.9" x2="1328.2" y2="148.6" stroke="#111" stroke-width="1.5" />
<line x1="1326" y1="114.5" x2="1322.4" y2="130.5" stroke="#111" stroke-width="1.5" />
<line x1="1328" y1="114.9" x2="1324.5" y2="131" stroke="#111" stroke-width="1.5" />
<line x1="1327" y1="114.7" x2="1331.7" y2="99.4" stroke="#111" stroke-width="1.5" />
<line x1="1327" y1="114.7" x2="1312.9" y2="107" stroke="#111" stroke-width="1.5" />
<polygon points="1368.6,129.5 1352.2,129.5 1344,115.3 1352.2,101.1 1368.6,101.1 1376.8,115.3" fill="url(#peach)" stroke="#111" stroke-width="1.5" stroke-linejoin="round" />
<line x1="1355" y1="103.9" x2="1365.8" y2="103.9" stroke="#111" stroke-width="1.5" />
<line x1="1373" y1="116.3" x2="1367.5" y2="125.7" stroke="#111" stroke-width="1.5" />
<line x1="1353.3" y1="125.7" x2="1347.8" y2="116.3" stroke="#111" stroke-width="1.5" />
<polygon points="1347.6,95.1 1331.7,99.4 1320.1,87.8 1324.4,71.9 1340.2,67.6 1351.9,79.2" fill="url(#peach)" stroke="#111" stroke-width="1.5" stroke-linejoin="round" />
<line x1="1323.6" y1="85.8" x2="1326.4" y2="75.3" stroke="#111" stroke-width="1.5" />
<line x1="1340.2" y1="71.6" x2="1347.9" y2="79.3" stroke="#111" stroke-width="1.5" />
<line x1="1344.2" y1="93.1" x2="1333.7" y2="95.9" stroke="#111" stroke-width="1.5" />
<polygon points="1298.6,115.2 1284.4,107 1284.4,90.5 1298.6,82.3 1312.9,90.5 1312.9,107" fill="url(#peach)" stroke="#111" stroke-width="1.5" stroke-linejoin="round" />
<line x1="1310" y1="93.3" x2="1310" y2="104.2" stroke="#111" stroke-width="1.5" />
<line x1="1297.6" y1="111.3" x2="1288.3" y2="105.9" stroke="#111" stroke-width="1.5" />
<line x1="1288.3" y1="91.6" x2="1297.6" y2="86.2" stroke="#111" stroke-width="1.5" />
<circle cx="1397.6" cy="114.8" r="11.7" fill="url(#fgball)" stroke="#1a4a80" stroke-width="0.6240000000000001"/>
<text x="1397.6" y="119.2" font-size="12.5" text-anchor="middle" font-weight="normal" fill="#111"  style="">FG</text>
<circle cx="1327" cy="114.7" r="6.5" fill="url(#pball)" stroke="#b05a28" stroke-width="0.6"/>
<text x="1327" y="119.1" font-size="12.5" text-anchor="middle" font-weight="normal" fill="#111"  style="">P</text>
<circle cx="1355.1" cy="155.2" r="6.1" fill="url(#oball)" stroke="#7a0c1c" stroke-width="0.5830000000000001"/>
<text x="1355.1" y="159.4" font-size="12" text-anchor="middle" font-weight="normal" fill="#111"  style="">O</text>
<circle cx="1328.2" cy="148.6" r="6.1" fill="url(#oball)" stroke="#7a0c1c" stroke-width="0.5830000000000001"/>
<text x="1328.2" y="152.8" font-size="12" text-anchor="middle" font-weight="normal" fill="#111"  style="">O</text>
<circle cx="1323.5" cy="130.7" r="6.1" fill="url(#oball)" stroke="#7a0c1c" stroke-width="0.5830000000000001"/>
<text x="1323.5" y="134.9" font-size="12" text-anchor="middle" font-weight="normal" fill="#111"  style="">O</text>
<line x1="1333.9" y1="156.2" x2="1338.2" y2="156.2" stroke="#111" stroke-width="1" />
<line x1="1138" y1="244.3" x2="1117.2" y2="244.8" stroke="#111" stroke-width="1.5" />
<line x1="1170.8" y1="244.3" x2="1187.8" y2="244.9" stroke="#111" stroke-width="1.5" />
<line x1="1162.6" y1="230.1" x2="1171.1" y2="215.7" stroke="#111" stroke-width="1.5" />
<line x1="1172" y1="214.9" x2="1160.5" y2="203.5" stroke="#111" stroke-width="1.5" />
<line x1="1170.3" y1="216.6" x2="1158.9" y2="205.2" stroke="#111" stroke-width="1.5" />
<line x1="1171.1" y1="215.7" x2="1186.6" y2="211" stroke="#111" stroke-width="1.5" />
<line x1="1188.8" y1="245.1" x2="1192.4" y2="229.1" stroke="#111" stroke-width="1.5" />
<line x1="1186.8" y1="244.7" x2="1190.3" y2="228.6" stroke="#111" stroke-width="1.5" />
<line x1="1187.8" y1="244.9" x2="1183.1" y2="260.2" stroke="#111" stroke-width="1.5" />
<line x1="1187.8" y1="244.9" x2="1201.9" y2="252.6" stroke="#111" stroke-width="1.5" />
<polygon points="1146.2,230.1 1162.6,230.1 1170.8,244.3 1162.6,258.5 1146.2,258.5 1138,244.3" fill="url(#peach)" stroke="#111" stroke-width="1.5" stroke-linejoin="round" />
<line x1="1159.8" y1="255.7" x2="1149" y2="255.7" stroke="#111" stroke-width="1.5" />
<line x1="1141.8" y1="243.3" x2="1147.3" y2="233.9" stroke="#111" stroke-width="1.5" />
<line x1="1161.5" y1="233.9" x2="1167" y2="243.3" stroke="#111" stroke-width="1.5" />
<polygon points="1167.2,264.5 1183.1,260.2 1194.7,271.8 1190.4,287.7 1174.6,292 1162.9,280.4" fill="url(#peach)" stroke="#111" stroke-width="1.5" stroke-linejoin="round" />
<line x1="1191.2" y1="273.8" x2="1188.4" y2="284.3" stroke="#111" stroke-width="1.5" />
<line x1="1174.6" y1="288" x2="1166.9" y2="280.3" stroke="#111" stroke-width="1.5" />
<line x1="1170.6" y1="266.5" x2="1181.1" y2="263.7" stroke="#111" stroke-width="1.5" />
<polygon points="1216.2,244.4 1230.4,252.6 1230.4,269.1 1216.2,277.3 1201.9,269.1 1201.9,252.6" fill="url(#peach)" stroke="#111" stroke-width="1.5" stroke-linejoin="round" />
<line x1="1204.8" y1="266.3" x2="1204.8" y2="255.4" stroke="#111" stroke-width="1.5" />
<line x1="1217.2" y1="248.3" x2="1226.5" y2="253.7" stroke="#111" stroke-width="1.5" />
<line x1="1226.5" y1="268" x2="1217.2" y2="273.4" stroke="#111" stroke-width="1.5" />
<circle cx="1117.2" cy="244.8" r="11.7" fill="url(#fgball)" stroke="#1a4a80" stroke-width="0.6240000000000001"/>
<text x="1117.2" y="249.2" font-size="12.5" text-anchor="middle" font-weight="normal" fill="#111"  style="">FG</text>
<circle cx="1187.8" cy="244.9" r="6.5" fill="url(#pball)" stroke="#b05a28" stroke-width="0.6"/>
<text x="1187.8" y="249.3" font-size="12.5" text-anchor="middle" font-weight="normal" fill="#111"  style="">P</text>
<circle cx="1159.7" cy="204.4" r="6.1" fill="url(#oball)" stroke="#7a0c1c" stroke-width="0.5830000000000001"/>
<text x="1159.7" y="208.6" font-size="12" text-anchor="middle" font-weight="normal" fill="#111"  style="">O</text>
<circle cx="1186.6" cy="211" r="6.1" fill="url(#oball)" stroke="#7a0c1c" stroke-width="0.5830000000000001"/>
<text x="1186.6" y="215.2" font-size="12" text-anchor="middle" font-weight="normal" fill="#111"  style="">O</text>
<circle cx="1191.3" cy="228.9" r="6.1" fill="url(#oball)" stroke="#7a0c1c" stroke-width="0.5830000000000001"/>
<text x="1191.3" y="233.1" font-size="12" text-anchor="middle" font-weight="normal" fill="#111"  style="">O</text>
<line x1="1176.6" y1="203.4" x2="1180.9" y2="203.4" stroke="#111" stroke-width="1" />
<line x1="1373.2" y1="251.4" x2="1384.1" y2="269.1" stroke="#111" stroke-width="1.5" />
<line x1="1356.8" y1="223" x2="1348.8" y2="208" stroke="#111" stroke-width="1.5" />
<line x1="1348.6" y1="237.2" x2="1331.9" y2="237" stroke="#111" stroke-width="1.5" />
<line x1="1330.8" y1="236.7" x2="1326.6" y2="252.3" stroke="#111" stroke-width="1.5" />
<line x1="1333" y1="237.3" x2="1328.9" y2="252.9" stroke="#111" stroke-width="1.5" />
<line x1="1331.9" y1="237" x2="1320" y2="225.9" stroke="#111" stroke-width="1.5" />
<line x1="1348.5" y1="207" x2="1332.8" y2="211.9" stroke="#111" stroke-width="1.5" />
<line x1="1349.1" y1="209" x2="1333.5" y2="214" stroke="#111" stroke-width="1.5" />
<line x1="1348.8" y1="208" x2="1364.5" y2="204.4" stroke="#111" stroke-width="1.5" />
<line x1="1348.8" y1="208" x2="1348.5" y2="191.9" stroke="#111" stroke-width="1.5" />
<polygon points="1356.8,251.4 1348.6,237.2 1356.8,223 1373.2,223 1381.4,237.2 1373.2,251.4" fill="url(#peach)" stroke="#111" stroke-width="1.5" stroke-linejoin="round" />
<line x1="1372.1" y1="226.8" x2="1377.6" y2="236.2" stroke="#111" stroke-width="1.5" />
<line x1="1370.4" y1="248.6" x2="1359.6" y2="248.6" stroke="#111" stroke-width="1.5" />
<line x1="1352.4" y1="236.2" x2="1357.9" y2="226.8" stroke="#111" stroke-width="1.5" />
<polygon points="1376.1,216 1364.5,204.4 1368.7,188.5 1384.6,184.3 1396.2,195.9 1391.9,211.8" fill="url(#peach)" stroke="#111" stroke-width="1.5" stroke-linejoin="round" />
<line x1="1372.1" y1="190.6" x2="1382.6" y2="187.8" stroke="#111" stroke-width="1.5" />
<line x1="1392.7" y1="197.9" x2="1389.9" y2="208.3" stroke="#111" stroke-width="1.5" />
<line x1="1376.1" y1="212" x2="1368.4" y2="204.4" stroke="#111" stroke-width="1.5" />
<polygon points="1334.2,183.7 1334.2,167.2 1348.5,159 1362.7,167.2 1362.7,183.7 1348.5,191.9" fill="url(#peach)" stroke="#111" stroke-width="1.5" stroke-linejoin="round" />
<line x1="1358.8" y1="182.6" x2="1349.4" y2="188" stroke="#111" stroke-width="1.5" />
<line x1="1337.1" y1="180.9" x2="1337.1" y2="170" stroke="#111" stroke-width="1.5" />
<line x1="1349.4" y1="162.9" x2="1358.8" y2="168.3" stroke="#111" stroke-width="1.5" />
<circle cx="1384.1" cy="269.1" r="11.7" fill="url(#fgball)" stroke="#1a4a80" stroke-width="0.6240000000000001"/>
<text x="1384.1" y="273.5" font-size="12.5" text-anchor="middle" font-weight="normal" fill="#111"  style="">FG</text>
<circle cx="1348.8" cy="208" r="6.5" fill="url(#pball)" stroke="#b05a28" stroke-width="0.6"/>
<text x="1348.8" y="212.4" font-size="12.5" text-anchor="middle" font-weight="normal" fill="#111"  style="">P</text>
<circle cx="1327.8" cy="252.6" r="6.1" fill="url(#oball)" stroke="#7a0c1c" stroke-width="0.5830000000000001"/>
<text x="1327.8" y="256.8" font-size="12" text-anchor="middle" font-weight="normal" fill="#111"  style="">O</text>
<circle cx="1320" cy="225.9" r="6.1" fill="url(#oball)" stroke="#7a0c1c" stroke-width="0.5830000000000001"/>
<text x="1320" y="230.1" font-size="12" text-anchor="middle" font-weight="normal" fill="#111"  style="">O</text>
<circle cx="1333.2" cy="212.9" r="6.1" fill="url(#oball)" stroke="#7a0c1c" stroke-width="0.5830000000000001"/>
<text x="1333.2" y="217.1" font-size="12" text-anchor="middle" font-weight="normal" fill="#111"  style="">O</text>
<line x1="1315.3" y1="236.6" x2="1319.6" y2="236.6" stroke="#111" stroke-width="1" />
<line x1="1255.1" y1="314.2" x2="1245.2" y2="332.5" stroke="#111" stroke-width="1.5" />
<line x1="1271.5" y1="285.8" x2="1280.5" y2="271.4" stroke="#111" stroke-width="1.5" />
<line x1="1255.1" y1="285.8" x2="1246.9" y2="271.2" stroke="#111" stroke-width="1.5" />
<line x1="1246.6" y1="270.1" x2="1231" y2="274.3" stroke="#111" stroke-width="1.5" />
<line x1="1247.2" y1="272.3" x2="1231.6" y2="276.6" stroke="#111" stroke-width="1.5" />
<line x1="1246.9" y1="271.2" x2="1250.6" y2="255.4" stroke="#111" stroke-width="1.5" />
<line x1="1281.2" y1="270.6" x2="1269.1" y2="259.5" stroke="#111" stroke-width="1.5" />
<line x1="1279.8" y1="272.2" x2="1267.7" y2="261.1" stroke="#111" stroke-width="1.5" />
<line x1="1280.5" y1="271.4" x2="1291.4" y2="283.1" stroke="#111" stroke-width="1.5" />
<line x1="1280.5" y1="271.4" x2="1294.3" y2="263" stroke="#111" stroke-width="1.5" />
<polygon points="1246.9,300 1255.1,285.8 1271.5,285.8 1279.7,300 1271.5,314.2 1255.1,314.2" fill="url(#peach)" stroke="#111" stroke-width="1.5" stroke-linejoin="round" />
<line x1="1275.9" y1="301" x2="1270.4" y2="310.4" stroke="#111" stroke-width="1.5" />
<line x1="1256.2" y1="310.4" x2="1250.7" y2="301" stroke="#111" stroke-width="1.5" />
<line x1="1257.9" y1="288.6" x2="1268.7" y2="288.6" stroke="#111" stroke-width="1.5" />
<polygon points="1287.2,299 1291.4,283.1 1307.3,278.9 1318.9,290.5 1314.7,306.4 1298.8,310.6" fill="url(#peach)" stroke="#111" stroke-width="1.5" stroke-linejoin="round" />
<line x1="1307.3" y1="282.9" x2="1314.9" y2="290.5" stroke="#111" stroke-width="1.5" />
<line x1="1311.2" y1="304.3" x2="1300.8" y2="307.2" stroke="#111" stroke-width="1.5" />
<line x1="1290.7" y1="297" x2="1293.5" y2="286.6" stroke="#111" stroke-width="1.5" />
<polygon points="1294.3,246.6 1308.5,238.4 1322.7,246.6 1322.7,263 1308.5,271.2 1294.3,263" fill="url(#peach)" stroke="#111" stroke-width="1.5" stroke-linejoin="round" />
<line x1="1307.5" y1="267.4" x2="1298.1" y2="261.9" stroke="#111" stroke-width="1.5" />
<line x1="1298.1" y1="247.6" x2="1307.5" y2="242.2" stroke="#111" stroke-width="1.5" />
<line x1="1319.9" y1="249.4" x2="1319.9" y2="260.2" stroke="#111" stroke-width="1.5" />
<circle cx="1245.2" cy="332.5" r="11.7" fill="url(#fgball)" stroke="#1a4a80" stroke-width="0.6240000000000001"/>
<text x="1245.2" y="336.9" font-size="12.5" text-anchor="middle" font-weight="normal" fill="#111"  style="">FG</text>
<circle cx="1280.5" cy="271.4" r="6.5" fill="url(#pball)" stroke="#b05a28" stroke-width="0.6"/>
<text x="1280.5" y="275.8" font-size="12.5" text-anchor="middle" font-weight="normal" fill="#111"  style="">P</text>
<circle cx="1231.3" cy="275.5" r="6.1" fill="url(#oball)" stroke="#7a0c1c" stroke-width="0.5830000000000001"/>
<text x="1231.3" y="279.7" font-size="12" text-anchor="middle" font-weight="normal" fill="#111"  style="">O</text>
<circle cx="1250.6" cy="255.4" r="6.1" fill="url(#oball)" stroke="#7a0c1c" stroke-width="0.5830000000000001"/>
<text x="1250.6" y="259.6" font-size="12" text-anchor="middle" font-weight="normal" fill="#111"  style="">O</text>
<circle cx="1268.4" cy="260.3" r="6.1" fill="url(#oball)" stroke="#7a0c1c" stroke-width="0.5830000000000001"/>
<text x="1268.4" y="264.5" font-size="12" text-anchor="middle" font-weight="normal" fill="#111"  style="">O</text>
<line x1="1238" y1="258.5" x2="1242.2" y2="258.5" stroke="#111" stroke-width="1" />
<line x1="386" y1="180" x2="597" y2="180" stroke="#000" stroke-width="2.9" />
<polygon points="602.8,180 592.2,184.6 593.4,180 592.2,175.4" fill="#000" stroke="#000" stroke-width="0.5" stroke-linejoin="round" />
<line x1="806" y1="180" x2="1081.2" y2="180" stroke="#000" stroke-width="2.9" />
<polygon points="1087,180 1076.4,184.6 1077.6,180 1076.4,175.4" fill="#000" stroke="#000" stroke-width="0.5" stroke-linejoin="round" />
<polyline points="221.5,474.6 950.1,474.6 950.1,455" fill="none" stroke="#000" stroke-width="2.6" />
<line x1="950.1" y1="460" x2="950.1" y2="448.6" stroke="#000" stroke-width="2.6" />
<polygon points="950.1,442.5 954.7,453.5 950.1,452.3 945.5,453.5" fill="#000" stroke="#000" stroke-width="0.5" stroke-linejoin="round" />
<line x1="1259.5" y1="405" x2="1259.5" y2="670.9" stroke="#000" stroke-width="2.4" />
<polygon points="1259.5,677.5 1254.7,665.5 1259.5,666.7 1264.3,665.5" fill="#000" stroke="#000" stroke-width="0.5" stroke-linejoin="round" />
<text x="459" y="165" font-size="23" text-anchor="start" font-weight="normal" fill="#111"  style="">NOBF<tspan font-size="16" dy="6.5">4</tspan><tspan dy="-6.5"></tspan></text>
<text x="476" y="239.3" font-size="23" text-anchor="start" font-weight="normal" fill="#111"  style="">OA</text>
<text x="884.3" y="167" font-size="23" text-anchor="start" font-weight="normal" fill="#111" letter-spacing="0.4" style="">Ultrasound</text>
<text x="87.3" y="385" font-size="22.5" text-anchor="start" font-weight="normal" fill="#111"  style="">NaGdF<tspan font-size="16" dy="6.5">4</tspan><tspan dy="-6.5">:Tb/Eu@OA</tspan></text>
<text x="631" y="384.5" font-size="23" text-anchor="start" font-weight="normal" fill="#111"  style="">NaGdF<tspan font-size="16" dy="6.5">4</tspan><tspan dy="-6.5">:Tb/Eu</tspan></text>
<text x="1132.8" y="385" font-size="22.43" text-anchor="start" font-weight="normal" fill="#111"  style="">NaGdF<tspan font-size="16" dy="6.5">4</tspan><tspan dy="-6.5">:Tb/Eu@ArPPOA</tspan></text>
<text x="898.8" y="425" font-size="22.1" text-anchor="start" font-weight="normal" fill="#111"  style="">[ArPPOA]<tspan font-size="15" dy="-10">&#8211;</tspan></text>
<text x="16" y="32.8" font-size="26" text-anchor="start" font-weight="bold" fill="#111" textLength="14.2" lengthAdjust="spacingAndGlyphs" stroke="#000" stroke-width="0.9" style="">a</text>
<text x="16.2" y="944.8" font-size="26" text-anchor="start" font-weight="bold" fill="#111" textLength="15.2" lengthAdjust="spacingAndGlyphs" stroke="#000" stroke-width="0.9" style="">b</text>
<line x1="412" y1="203" x2="423" y2="203" stroke="#222" stroke-width="2.2" />
<polyline points="439,203.5 440.6,203.5 442.2,203.6 443.8,203.8 445.4,204.1 447,204.3 448.6,204.6 450.2,204.7 451.8,204.7 453.4,204.5 455,204.2 456.6,203.7 458.2,203 459.8,202.3 461.4,201.7 463,201.3 464.6,201.1 466.2,201.1 467.8,201.4 469.4,201.8 471,202.4 472.6,203.1 474.2,203.8 475.8,204.5 477.4,205.1 479,205.6 480.6,205.8 482.2,205.9 483.8,205.7 485.4,205.4 487,204.8 488.6,204.2 490.2,203.4 491.8,202.7 493.4,202.1 495,201.6 496.6,201.2 498.2,201.1 499.8,201.2 501.4,201.5 503,202 504.6,202.6 506.2,203.3 507.8,204.1 509.4,204.7 511,205.3 512.6,205.7 514.2,205.9 515.8,205.9 517.4,205.6 519,205.2 520.6,204.6 522.2,203.9 523.8,203.2 525.4,202.5 527,201.9 528.6,201.4 530.2,201.2 531.8,201.1 533.4,201.3 535,201.7 536.6,202.2 538.2,202.9 539.8,203.6 541.4,204.3 543,205 544.6,205.5 546.2,205.8 547.8,205.9 549.4,205.8 551,205.5 552.6,205 554.2,204.3 555.8,203.6 557.4,202.9 559,202.2 560.6,201.7 562.2,201.3 563.8,201.1 565.4,201.2 567,201.4" fill="none" stroke="url(#oachain)" stroke-width="1.5" />
<circle cx="434" cy="196.5" r="5.2" fill="url(#rbead)" stroke="#a01830" stroke-width="0.6"/>
<circle cx="434" cy="207.2" r="5.2" fill="url(#rbead)" stroke="#a01830" stroke-width="0.6"/>
<polygon points="439.9,561.4 430.9,588.4 403,594.1 384.1,572.8 393.1,545.8 421,540.1" fill="none" stroke="#111" stroke-width="1.9" stroke-linejoin="round" />
<polygon points="468.5,561.4 477.5,588.4 505.4,594.1 524.3,572.8 515.3,545.8 487.4,540.1" fill="none" stroke="#111" stroke-width="1.9" stroke-linejoin="round" />
<line x1="433.7" y1="564.4" x2="427.7" y2="582.3" stroke="#111" stroke-width="1.9" />
<line x1="474.7" y1="564.4" x2="480.7" y2="582.3" stroke="#111" stroke-width="1.9" />
<line x1="403.4" y1="587.2" x2="391" y2="573.1" stroke="#111" stroke-width="1.9" />
<line x1="505" y1="587.2" x2="517.4" y2="573.1" stroke="#111" stroke-width="1.9" />
<line x1="398.8" y1="549.6" x2="417.3" y2="545.9" stroke="#111" stroke-width="1.9" />
<line x1="509.6" y1="549.6" x2="491.1" y2="545.9" stroke="#111" stroke-width="1.9" />
<line x1="439.9" y1="561.4" x2="468.5" y2="561.4" stroke="#111" stroke-width="1.9" />
<line x1="431.5" y1="588.9" x2="445.7" y2="598.4" stroke="#111" stroke-width="1.9" />
<line x1="476.9" y1="588.9" x2="462.7" y2="598.4" stroke="#111" stroke-width="1.9" />
<text x="454.6" y="615.1" font-size="23" text-anchor="middle" font-weight="normal" fill="#111"  style="">N</text>
<line x1="454.6" y1="615.6" x2="454.6" y2="634.6" stroke="#111" stroke-width="1.7" stroke-dasharray="5,2.8"/>
<polygon points="625.4,561.7 616.4,588.7 588.5,594.4 569.6,573.1 578.6,546.1 606.5,540.4" fill="none" stroke="#111" stroke-width="1.9" stroke-linejoin="round" />
<polygon points="654,561.7 663,588.7 690.9,594.4 709.8,573.1 700.8,546.1 672.9,540.4" fill="none" stroke="#111" stroke-width="1.9" stroke-linejoin="round" />
<line x1="619.2" y1="564.7" x2="613.2" y2="582.6" stroke="#111" stroke-width="1.9" />
<line x1="660.2" y1="564.7" x2="666.2" y2="582.6" stroke="#111" stroke-width="1.9" />
<line x1="588.9" y1="587.5" x2="576.5" y2="573.4" stroke="#111" stroke-width="1.9" />
<line x1="690.5" y1="587.5" x2="702.9" y2="573.4" stroke="#111" stroke-width="1.9" />
<line x1="584.3" y1="549.9" x2="602.8" y2="546.2" stroke="#111" stroke-width="1.9" />
<line x1="695.1" y1="549.9" x2="676.6" y2="546.2" stroke="#111" stroke-width="1.9" />
<line x1="625.4" y1="561.7" x2="654" y2="561.7" stroke="#111" stroke-width="1.9" />
<line x1="617" y1="589.2" x2="631.2" y2="598.7" stroke="#111" stroke-width="1.9" />
<line x1="662.4" y1="589.2" x2="648.2" y2="598.7" stroke="#111" stroke-width="1.9" />
<text x="640.1" y="615.4" font-size="23" text-anchor="middle" font-weight="normal" fill="#111"  style="">N</text>
<line x1="640.1" y1="615.9" x2="640.1" y2="634.9" stroke="#111" stroke-width="1.7" stroke-dasharray="5,2.8"/>
<line x1="578" y1="545.8" x2="559.3" y2="523.3" stroke="#111" stroke-width="1.9" />
<line x1="559.3" y1="523.3" x2="540.2" y2="503.4" stroke="#111" stroke-width="1.9" />
<line x1="559.3" y1="523.3" x2="568.1" y2="497" stroke="#111" stroke-width="1.9" />
<line x1="559.3" y1="523.3" x2="531.4" y2="531.3" stroke="#111" stroke-width="1.9" />
<line x1="701.4" y1="545.8" x2="720.1" y2="523.3" stroke="#111" stroke-width="1.9" />
<line x1="720.1" y1="523.3" x2="739.2" y2="503.4" stroke="#111" stroke-width="1.9" />
<line x1="720.1" y1="523.3" x2="711.3" y2="497" stroke="#111" stroke-width="1.9" />
<line x1="720.1" y1="523.3" x2="748" y2="531.3" stroke="#111" stroke-width="1.9" />
<polygon points="812.4,590.9 787.7,605.1 763,590.9 763,562.4 787.7,548.1 812.4,562.4" fill="none" stroke="#111" stroke-width="1.9" stroke-linejoin="round" />
<polygon points="911.6,590.9 886.9,605.1 862.2,590.9 862.2,562.4 886.9,548.1 911.6,562.4" fill="none" stroke="#111" stroke-width="1.9" stroke-linejoin="round" />
<line x1="807.4" y1="567.2" x2="807.4" y2="586" stroke="#111" stroke-width="1.9" />
<line x1="867.2" y1="567.2" x2="867.2" y2="586" stroke="#111" stroke-width="1.9" />
<line x1="786" y1="598.4" x2="769.7" y2="589" stroke="#111" stroke-width="1.9" />
<line x1="888.6" y1="598.4" x2="904.9" y2="589" stroke="#111" stroke-width="1.9" />
<line x1="769.7" y1="564.2" x2="786" y2="554.8" stroke="#111" stroke-width="1.9" />
<line x1="904.9" y1="564.2" x2="888.6" y2="554.8" stroke="#111" stroke-width="1.9" />
<line x1="812.4" y1="562.4" x2="837.3" y2="547.8" stroke="#111" stroke-width="1.9" />
<line x1="862.2" y1="562.4" x2="837.3" y2="547.8" stroke="#111" stroke-width="1.9" />
<line x1="812.4" y1="590.9" x2="826.3" y2="598.2" stroke="#111" stroke-width="1.9" />
<line x1="862.2" y1="590.9" x2="848.3" y2="598.2" stroke="#111" stroke-width="1.9" />
<text x="837.6" y="614.8" font-size="23" text-anchor="middle" font-weight="normal" fill="#111"  style="">N</text>
<line x1="837.3" y1="615.2" x2="837.3" y2="634.6" stroke="#111" stroke-width="1.7" stroke-dasharray="5,2.8"/>
<line x1="837.3" y1="547.8" x2="822.9" y2="523.1" stroke="#111" stroke-width="1.9" />
<line x1="837.3" y1="547.8" x2="851.7" y2="523.1" stroke="#111" stroke-width="1.9" />
<polygon points="997.9,591 973.2,605.3 948.5,591 948.5,562.5 973.2,548.3 997.9,562.5" fill="none" stroke="#111" stroke-width="1.9" stroke-linejoin="round" />
<polygon points="1097.1,591 1072.4,605.3 1047.7,591 1047.7,562.5 1072.4,548.3 1097.1,562.5" fill="none" stroke="#111" stroke-width="1.9" stroke-linejoin="round" />
<line x1="992.9" y1="567.4" x2="992.9" y2="586.2" stroke="#111" stroke-width="1.9" />
<line x1="1052.7" y1="567.4" x2="1052.7" y2="586.2" stroke="#111" stroke-width="1.9" />
<line x1="971.5" y1="598.6" x2="955.2" y2="589.2" stroke="#111" stroke-width="1.9" />
<line x1="1074.1" y1="598.6" x2="1090.4" y2="589.2" stroke="#111" stroke-width="1.9" />
<line x1="955.2" y1="564.4" x2="971.5" y2="555" stroke="#111" stroke-width="1.9" />
<line x1="1090.4" y1="564.4" x2="1074.1" y2="555" stroke="#111" stroke-width="1.9" />
<line x1="997.9" y1="562.5" x2="1022.8" y2="548" stroke="#111" stroke-width="1.9" />
<line x1="1047.7" y1="562.5" x2="1022.8" y2="548" stroke="#111" stroke-width="1.9" />
<line x1="997.9" y1="591" x2="1011.8" y2="598.4" stroke="#111" stroke-width="1.9" />
<line x1="1047.7" y1="591" x2="1033.8" y2="598.4" stroke="#111" stroke-width="1.9" />
<text x="1023.1" y="615" font-size="23" text-anchor="middle" font-weight="normal" fill="#111"  style="">N</text>
<line x1="1022.8" y1="615.4" x2="1022.8" y2="634.8" stroke="#111" stroke-width="1.7" stroke-dasharray="5,2.8"/>
<polygon points="1014.1,500.5 1003.8,526.5 976.1,530.7 958.7,508.7 969,482.7 996.7,478.5" fill="none" stroke="#111" stroke-width="1.9" stroke-linejoin="round" />
<polygon points="1031.5,500.5 1041.8,526.5 1069.5,530.7 1086.9,508.7 1076.6,482.7 1048.9,478.5" fill="none" stroke="#111" stroke-width="1.9" stroke-linejoin="round" />
<line x1="1007.8" y1="503.1" x2="1001.1" y2="520.3" stroke="#111" stroke-width="1.9" />
<line x1="1037.8" y1="503.1" x2="1044.5" y2="520.3" stroke="#111" stroke-width="1.9" />
<line x1="977" y1="523.9" x2="965.5" y2="509.4" stroke="#111" stroke-width="1.9" />
<line x1="1068.6" y1="523.9" x2="1080.1" y2="509.4" stroke="#111" stroke-width="1.9" />
<line x1="974.4" y1="486.8" x2="992.7" y2="484" stroke="#111" stroke-width="1.9" />
<line x1="1071.2" y1="486.8" x2="1052.9" y2="484" stroke="#111" stroke-width="1.9" />
<line x1="1022.8" y1="548" x2="1003.8" y2="526.5" stroke="#111" stroke-width="1.9" />
<line x1="1022.8" y1="548" x2="1041.8" y2="526.5" stroke="#111" stroke-width="1.9" />
<text x="252" y="580.6" font-size="23" text-anchor="start" font-weight="normal" fill="#111"  style="">FG = H</text>
<text x="56.5" y="667.6" font-size="23" text-anchor="start" font-weight="normal" fill="#111"  style="">ArPPOA</text>
<text x="287.5" y="667.6" font-size="23" text-anchor="start" font-weight="normal" fill="#111"  style="">TPPOA</text>
<text x="408" y="667.6" font-size="23" text-anchor="start" font-weight="normal" fill="#111"  style="">CzPPOA</text>
<text x="583.3" y="667.6" font-size="23" text-anchor="start" font-weight="normal" fill="#111"  style="">tBCzPPOA</text>
<text x="771.5" y="667.6" font-size="23" text-anchor="start" font-weight="normal" fill="#111"  style="">DMACPPOA</text>
<text x="959.8" y="667.6" font-size="23" text-anchor="start" font-weight="normal" fill="#111"  style="">DPACPPOA</text>
<rect x="29" y="687" width="1376.3" height="225" fill="#040203"/>
<g filter="url(#soft)">
<rect x="44.5" y="871" width="44" height="20" fill="url(#vr0)"/>
<rect x="38.5" y="865" width="56" height="7" rx="2.5" fill="#3a4ac8" opacity="0.6"/>
<rect x="43.5" y="858" width="46" height="10" rx="1" fill="#3a4ac8" opacity="0.85"/>
<rect x="48" y="774" width="37" height="86" fill="url(#vb0)"/>
<rect x="48" y="774" width="37" height="86" fill="url(#vh0)"/>
<path d="M48,774 L48,741 L61.5,729 Q66.5,725.5 71.5,729 L85,741 L85,774 Z" fill="url(#vc0)"/>
<rect x="113" y="871" width="44" height="20" fill="url(#vr1)"/>
<rect x="107" y="865" width="56" height="7" rx="2.5" fill="#3aa8cc" opacity="0.6"/>
<rect x="112" y="858" width="46" height="10" rx="1" fill="#3aa8cc" opacity="0.85"/>
<rect x="116.5" y="774" width="37" height="86" fill="url(#vb1)"/>
<rect x="116.5" y="774" width="37" height="86" fill="url(#vh1)"/>
<path d="M116.5,774 L116.5,741 L130,729 Q135,725.5 140,729 L153.5,741 L153.5,774 Z" fill="url(#vc1)"/>
<rect x="185.5" y="871" width="44" height="20" fill="url(#vr2)"/>
<rect x="179.5" y="865" width="56" height="7" rx="2.5" fill="#78d880" opacity="0.6"/>
<rect x="184.5" y="858" width="46" height="10" rx="1" fill="#78d880" opacity="0.85"/>
<rect x="189" y="774" width="37" height="86" fill="url(#vb2)"/>
<rect x="189" y="774" width="37" height="86" fill="url(#vh2)"/>
<path d="M189,774 L189,741 L202.5,729 Q207.5,725.5 212.5,729 L226,741 L226,774 Z" fill="url(#vc2)"/>
<rect x="254.5" y="871" width="44" height="20" fill="url(#vr3)"/>
<rect x="248.5" y="865" width="56" height="7" rx="2.5" fill="#44b83c" opacity="0.6"/>
<rect x="253.5" y="858" width="46" height="10" rx="1" fill="#44b83c" opacity="0.85"/>
<rect x="258" y="774" width="37" height="86" fill="url(#vb3)"/>
<rect x="258" y="774" width="37" height="86" fill="url(#vh3)"/>
<path d="M258,774 L258,741 L271.5,729 Q276.5,725.5 281.5,729 L295,741 L295,774 Z" fill="url(#vc3)"/>
<rect x="324.5" y="871" width="44" height="20" fill="url(#vr4)"/>
<rect x="318.5" y="865" width="56" height="7" rx="2.5" fill="#7cb8f4" opacity="0.6"/>
<rect x="323.5" y="858" width="46" height="10" rx="1" fill="#7cb8f4" opacity="0.85"/>
<rect x="328" y="774" width="37" height="86" fill="url(#vb4)"/>
<rect x="328" y="774" width="37" height="86" fill="url(#vh4)"/>
<path d="M328,774 L328,741 L341.5,729 Q346.5,725.5 351.5,729 L365,741 L365,774 Z" fill="url(#vc4)"/>
<rect x="389.5" y="871" width="44" height="20" fill="url(#vr5)"/>
<rect x="383.5" y="865" width="56" height="7" rx="2.5" fill="#6cc8ee" opacity="0.6"/>
<rect x="388.5" y="858" width="46" height="10" rx="1" fill="#6cc8ee" opacity="0.85"/>
<rect x="393" y="774" width="37" height="86" fill="url(#vb5)"/>
<rect x="393" y="774" width="37" height="86" fill="url(#vh5)"/>
<path d="M393,774 L393,741 L406.5,729 Q411.5,725.5 416.5,729 L430,741 L430,774 Z" fill="url(#vc5)"/>
<rect x="451.5" y="871" width="44" height="20" fill="url(#vr6)"/>
<rect x="445.5" y="865" width="56" height="7" rx="2.5" fill="#b0e0d0" opacity="0.6"/>
<rect x="450.5" y="858" width="46" height="10" rx="1" fill="#b0e0d0" opacity="0.85"/>
<rect x="455" y="774" width="37" height="86" fill="url(#vb6)"/>
<rect x="455" y="774" width="37" height="86" fill="url(#vh6)"/>
<path d="M455,774 L455,741 L468.5,729 Q473.5,725.5 478.5,729 L492,741 L492,774 Z" fill="url(#vc6)"/>
<rect x="517" y="871" width="44" height="20" fill="url(#vr7)"/>
<rect x="511" y="865" width="56" height="7" rx="2.5" fill="#2e88dc" opacity="0.6"/>
<rect x="516" y="858" width="46" height="10" rx="1" fill="#2e88dc" opacity="0.85"/>
<rect x="520.5" y="774" width="37" height="86" fill="url(#vb7)"/>
<rect x="520.5" y="774" width="37" height="86" fill="url(#vh7)"/>
<path d="M520.5,774 L520.5,741 L534,729 Q539,725.5 544,729 L557.5,741 L557.5,774 Z" fill="url(#vc7)"/>
<rect x="586.5" y="871" width="44" height="20" fill="url(#vr8)"/>
<rect x="580.5" y="865" width="56" height="7" rx="2.5" fill="#58bcec" opacity="0.6"/>
<rect x="585.5" y="858" width="46" height="10" rx="1" fill="#58bcec" opacity="0.85"/>
<rect x="590" y="774" width="37" height="86" fill="url(#vb8)"/>
<rect x="590" y="774" width="37" height="86" fill="url(#vh8)"/>
<path d="M590,774 L590,741 L603.5,729 Q608.5,725.5 613.5,729 L627,741 L627,774 Z" fill="url(#vc8)"/>
<rect x="653" y="871" width="44" height="20" fill="url(#vr9)"/>
<rect x="647" y="865" width="56" height="7" rx="2.5" fill="#98dc64" opacity="0.6"/>
<rect x="652" y="858" width="46" height="10" rx="1" fill="#98dc64" opacity="0.85"/>
<rect x="656.5" y="774" width="37" height="86" fill="url(#vb9)"/>
<rect x="656.5" y="774" width="37" height="86" fill="url(#vh9)"/>
<path d="M656.5,774 L656.5,741 L670,729 Q675,725.5 680,729 L693.5,741 L693.5,774 Z" fill="url(#vc9)"/>
<rect x="726.5" y="871" width="44" height="20" fill="url(#vr10)"/>
<rect x="720.5" y="865" width="56" height="7" rx="2.5" fill="#28349a" opacity="0.6"/>
<rect x="725.5" y="858" width="46" height="10" rx="1" fill="#28349a" opacity="0.85"/>
<rect x="730" y="774" width="37" height="86" fill="url(#vb10)"/>
<rect x="730" y="774" width="37" height="86" fill="url(#vh10)"/>
<path d="M730,774 L730,741 L743.5,729 Q748.5,725.5 753.5,729 L767,741 L767,774 Z" fill="url(#vc10)"/>
<rect x="796.5" y="871" width="44" height="20" fill="url(#vr11)"/>
<rect x="790.5" y="865" width="56" height="7" rx="2.5" fill="#a82aa0" opacity="0.6"/>
<rect x="795.5" y="858" width="46" height="10" rx="1" fill="#a82aa0" opacity="0.85"/>
<rect x="800" y="774" width="37" height="86" fill="url(#vb11)"/>
<rect x="800" y="774" width="37" height="86" fill="url(#vh11)"/>
<path d="M800,774 L800,741 L813.5,729 Q818.5,725.5 823.5,729 L837,741 L837,774 Z" fill="url(#vc11)"/>
<rect x="868" y="871" width="44" height="20" fill="url(#vr12)"/>
<rect x="862" y="865" width="56" height="7" rx="2.5" fill="#e83a50" opacity="0.6"/>
<rect x="867" y="858" width="46" height="10" rx="1" fill="#e83a50" opacity="0.85"/>
<rect x="871.5" y="774" width="37" height="86" fill="url(#vb12)"/>
<rect x="871.5" y="774" width="37" height="86" fill="url(#vh12)"/>
<path d="M871.5,774 L871.5,741 L885,729 Q890,725.5 895,729 L908.5,741 L908.5,774 Z" fill="url(#vc12)"/>
<rect x="934.5" y="871" width="44" height="20" fill="url(#vr13)"/>
<rect x="928.5" y="865" width="56" height="7" rx="2.5" fill="#d83016" opacity="0.6"/>
<rect x="933.5" y="858" width="46" height="10" rx="1" fill="#d83016" opacity="0.85"/>
<rect x="938" y="774" width="37" height="86" fill="url(#vb13)"/>
<rect x="938" y="774" width="37" height="86" fill="url(#vh13)"/>
<path d="M938,774 L938,741 L951.5,729 Q956.5,725.5 961.5,729 L975,741 L975,774 Z" fill="url(#vc13)"/>
<rect x="999" y="871" width="44" height="20" fill="url(#vr14)"/>
<rect x="993" y="865" width="56" height="7" rx="2.5" fill="#3a8ee2" opacity="0.6"/>
<rect x="998" y="858" width="46" height="10" rx="1" fill="#3a8ee2" opacity="0.85"/>
<rect x="1002.5" y="774" width="37" height="86" fill="url(#vb14)"/>
<rect x="1002.5" y="774" width="37" height="86" fill="url(#vh14)"/>
<path d="M1002.5,774 L1002.5,741 L1016,729 Q1021,725.5 1026,729 L1039.5,741 L1039.5,774 Z" fill="url(#vc14)"/>
<rect x="1070.5" y="871" width="44" height="20" fill="url(#vr15)"/>
<rect x="1064.5" y="865" width="56" height="7" rx="2.5" fill="#d8d8ee" opacity="0.6"/>
<rect x="1069.5" y="858" width="46" height="10" rx="1" fill="#d8d8ee" opacity="0.85"/>
<rect x="1074" y="774" width="37" height="86" fill="url(#vb15)"/>
<rect x="1074" y="774" width="37" height="86" fill="url(#vh15)"/>
<path d="M1074,774 L1074,741 L1087.5,729 Q1092.5,725.5 1097.5,729 L1111,741 L1111,774 Z" fill="url(#vc15)"/>
<rect x="1135.5" y="871" width="44" height="20" fill="url(#vr16)"/>
<rect x="1129.5" y="865" width="56" height="7" rx="2.5" fill="#eca0dc" opacity="0.6"/>
<rect x="1134.5" y="858" width="46" height="10" rx="1" fill="#eca0dc" opacity="0.85"/>
<rect x="1139" y="774" width="37" height="86" fill="url(#vb16)"/>
<rect x="1139" y="774" width="37" height="86" fill="url(#vh16)"/>
<path d="M1139,774 L1139,741 L1152.5,729 Q1157.5,725.5 1162.5,729 L1176,741 L1176,774 Z" fill="url(#vc16)"/>
<rect x="1202" y="871" width="44" height="20" fill="url(#vr17)"/>
<rect x="1196" y="865" width="56" height="7" rx="2.5" fill="#4a4ed4" opacity="0.6"/>
<rect x="1201" y="858" width="46" height="10" rx="1" fill="#4a4ed4" opacity="0.85"/>
<rect x="1205.5" y="774" width="37" height="86" fill="url(#vb17)"/>
<rect x="1205.5" y="774" width="37" height="86" fill="url(#vh17)"/>
<path d="M1205.5,774 L1205.5,741 L1219,729 Q1224,725.5 1229,729 L1242.5,741 L1242.5,774 Z" fill="url(#vc17)"/>
<rect x="1268" y="871" width="44" height="20" fill="url(#vr18)"/>
<rect x="1262" y="865" width="56" height="7" rx="2.5" fill="#bcb0ee" opacity="0.6"/>
<rect x="1267" y="858" width="46" height="10" rx="1" fill="#bcb0ee" opacity="0.85"/>
<rect x="1271.5" y="774" width="37" height="86" fill="url(#vb18)"/>
<rect x="1271.5" y="774" width="37" height="86" fill="url(#vh18)"/>
<path d="M1271.5,774 L1271.5,741 L1285,729 Q1290,725.5 1295,729 L1308.5,741 L1308.5,774 Z" fill="url(#vc18)"/>
<rect x="1336.5" y="871" width="44" height="20" fill="url(#vr19)"/>
<rect x="1330.5" y="865" width="56" height="7" rx="2.5" fill="#ee6474" opacity="0.6"/>
<rect x="1335.5" y="858" width="46" height="10" rx="1" fill="#ee6474" opacity="0.85"/>
<rect x="1340" y="774" width="37" height="86" fill="url(#vb19)"/>
<rect x="1340" y="774" width="37" height="86" fill="url(#vh19)"/>
<path d="M1340,774 L1340,741 L1353.5,729 Q1358.5,725.5 1363.5,729 L1377,741 L1377,774 Z" fill="url(#vc19)"/>
</g>
<polygon points="58.8,1220 60.1,1215.2 61.5,1213.7 62.8,1212 64.2,1211.8 65.5,1210.3 66.9,1213 68.2,1211.4 69.6,1208.2 70.9,1207.9 72.3,1206.2 73.6,1208.3 75,1206.8 76.3,1206.7 77.7,1204.8 79,1203.5 80.4,1204.8 81.7,1205 82.9,1199.1 84.1,1197.1 85.4,1197.9 86.6,1194.2 87.8,1194.7 89,1191.6 90.3,1191.6 91.5,1190.9 92.7,1185.9 93.9,1185.9 95.2,1184.7 96.4,1180 97.6,1177.8 98.8,1178.4 100.1,1174.6 101.3,1174 102.5,1176 103.7,1171 104.9,1170.3 106.2,1168.5 107.4,1167.7 108.6,1169.4 109.8,1169.1 111.1,1169.4 112.3,1169 113.5,1168.7 114.7,1167.1 116,1164.8 117.2,1166.1 118.4,1163.2 119.6,1163.2 120.9,1162.8 122.1,1160 123.3,1163.3 124.8,1159.9 126.2,1157.7 127.7,1159 129.2,1154.9 130.7,1157 132.1,1153.9 133.6,1151.8 135.1,1154 136.5,1150.8 138,1150.9 139.5,1149.3 140.9,1150.6 142.4,1150.1 143.9,1148.7 145.4,1144.4 146.8,1145.6 148.3,1146.7 150,1139.9 151.7,1140.3 153.5,1139.2 155.2,1136.9 156.9,1134 158.6,1134.7 160.3,1131 162,1128.5 163.8,1126.3 165.5,1127.9 167.2,1123.3 168.9,1124.4 170.6,1122.4 172.3,1119.5 174.1,1116.1 175.8,1116.3 177.5,1117.5 179.2,1114.8 180.9,1114.1 182.7,1114 184.4,1113.8 186.1,1113 187.8,1109.9 189.5,1107.2 191.2,1109.4 193,1110 194.7,1105.7 196.4,1105.8 198.1,1105.9 199.8,1106.1 201.5,1104.2 203.3,1102.1 205,1102.5 206.7,1105 208.4,1099.6 210.1,1100.7 211.8,1098.1 213.5,1094.9 215.3,1095.8 217,1092.6 218.7,1089.6 220.4,1089.1 222.1,1087.2 223.8,1088.5 225.5,1086.5 227.2,1086 229,1081.9 230.7,1082 232.4,1080.3 234.1,1076.5 235.8,1080 237.3,1076 238.7,1075.3 240.2,1073.5 241.7,1073.4 243.2,1073.5 244.6,1072.5 246.1,1072.7 247.6,1071.1 249,1067.5 250.5,1066 252,1066.3 253.4,1066.3 254.9,1066.4 256.4,1066.9 257.9,1065.6 259.3,1062.5 260.8,1065.4 262.5,1060.8 264.2,1059.3 266,1058.6 267.7,1057.9 269.4,1056.7 271.1,1057.4 272.8,1055.6 274.5,1056.2 276.3,1054.9 278,1052.8 279.7,1051.8 281.4,1052.6 283.1,1049.5 284.8,1049.2 286.6,1048.8 288.3,1050.5 290,1050.8 291,1047.1 292,1046.7 292.9,1044.7 293.9,1044.3 294.9,1043.2 295.9,1044.3 296.9,1043 297.9,1041.7 298.8,1040.6 299.8,1041.8 300.8,1039.7 301.8,1038.5 302.8,1038.5 303.8,1036.8 304.7,1036 305.7,1037.1 306.7,1040.4 308.2,1037.4 309.6,1036.8 311.1,1039.1 312.6,1039.4 314.1,1039.9 315.5,1040.5 317,1043.5 318.5,1042.4 319.9,1043.4 321.4,1043.9 322.9,1045.6 324.3,1045.7 325.8,1045.7 327.3,1046.7 328.8,1047.2 330.2,1050.8 331.7,1052.9 333.2,1050.1 334.6,1052 336.1,1050.9 337.6,1051.2 339.1,1054.1 340.5,1053.5 342,1054.7 343.5,1056.1 344.9,1056.6 346.4,1056.3 347.9,1057.1 349.3,1057.6 350.8,1058.8 352.3,1057.7 353.8,1058.1 355.2,1057.6 356.7,1061.3 358.4,1058.2 360.1,1062 361.8,1062.2 363.5,1063.4 365.3,1063.9 367,1066 368.7,1064.3 370.4,1066.4 372.1,1069.1 373.8,1068.2 375.5,1070.8 377.2,1070.4 379,1071.8 380.7,1071.9 382.4,1071 384.1,1072 385.8,1077.9 387.5,1074.8 389.2,1076.5 391,1078.3 392.7,1077.4 394.4,1077.7 396.1,1076.6 397.8,1076.6 399.5,1078.6 401.3,1080.7 403,1079.4 404.7,1083.3 406.4,1084.4 408.1,1083.2 409.8,1083.1 411.6,1085.5 413.3,1084.6 415,1088.3 416.5,1087 417.9,1088.6 419.4,1089.5 420.9,1087.6 422.4,1090.2 423.8,1089.3 425.3,1089.9 426.8,1092.1 428.2,1094.8 429.7,1093.3 431.2,1095.6 432.6,1097.3 434.1,1098.9 435.6,1097.3 437.1,1099.5 438.5,1101.8 440,1105 442,1103 443.9,1103.8 445.9,1105.2 447.8,1104 449.8,1104 451.8,1108 453.7,1107.5 455.7,1108.9 457.6,1107.1 459.6,1107.7 461.5,1110.7 463.5,1112 465.5,1113.4 467.4,1110.8 469.4,1113.4 471.3,1113.4 473.3,1117.5 474.8,1114.8 476.2,1114.6 477.7,1117.6 479.2,1116.2 480.7,1118.2 482.1,1118.2 483.6,1119.5 485.1,1120.5 486.5,1120.2 488,1120.8 489.5,1121.9 490.9,1121 492.4,1121.8 493.9,1124.8 495.4,1125.2 496.8,1124.9 498.3,1127.9 500,1125.8 501.7,1129.5 503.5,1128.3 505.2,1130.4 506.9,1131.4 508.6,1132 510.3,1133.5 512,1135.5 513.8,1135.2 515.5,1138.3 517.2,1140.2 518.9,1139.7 520.6,1143.3 522.3,1144.9 524.1,1144.1 525.8,1148 527.5,1150.8 529.5,1149.1 531.4,1150.8 533.4,1149.9 535.3,1149.7 537.3,1153.6 539.3,1154.1 541.2,1154.6 543.2,1155.6 545.1,1157.3 547.1,1159.3 549,1158.7 551,1158.3 553,1162 554.9,1163.1 556.9,1161.7 558.8,1162 560.8,1167.5 562,1164.9 563.3,1163.4 564.5,1163.3 565.7,1164.8 566.9,1168.3 568.2,1166.4 569.4,1168.8 570.6,1168.1 571.9,1166.9 573.1,1167.9 574.3,1171 575.6,1171.6 576.8,1169.5 578,1172.4 579.2,1171.7 580.5,1172.6 581.7,1175.8 582.8,1175.8 583.9,1177 585,1176.9 586.1,1178.9 587.2,1180.2 588.3,1179.1 589.4,1178.8 590.5,1178.8 591.6,1182.6 592.7,1183.2 593.8,1184.6 594.9,1184.5 596,1185.6 597.1,1184.7 598.2,1187.5 599.3,1190.4 600.4,1192.5 600.4,1201.6 600.4,1200.4 600.4,1202.7 600.4,1198.2 600.4,1198.4 600.4,1201.3 600.4,1200.3 600.4,1202.1 600.4,1204.2 600.4,1204.4 600.4,1199.3 600.4,1203.2 600.4,1202.6 600.4,1205.7 600.4,1199.3 600.4,1205.4 600.4,1199.2 598.8,1207.5 597.2,1207.1 595.6,1203.5 594,1208.4 592.4,1207.9 590.8,1213.4 589.2,1212.7 587.6,1215.3 586.1,1215.5 584.5,1214 582.9,1219.8 581.3,1216.3 579.7,1219.3 578.1,1227.8 576.5,1229.1 574.9,1224 573.3,1221.8 572.1,1232.5 570.9,1235 569.6,1230.6 568.4,1230.3 567.2,1230.9 566,1235.1 564.7,1236.5 563.5,1233.5 562.3,1234.5 561.1,1236.9 559.8,1235.6 558.6,1242.6 557.4,1241.3 556.2,1245.5 554.9,1241.1 553.7,1245.9 552.5,1244.1 551,1248 549.6,1247.1 548.1,1247.6 546.6,1250.6 545.1,1249.8 543.7,1252 542.2,1253.8 540.7,1260.2 539.3,1263.4 537.8,1261.9 536.3,1262.1 534.9,1263.3 533.4,1269.2 531.9,1271.5 530.4,1268.4 529,1272.1 527.5,1271.7 525.8,1269.8 524.1,1276.8 522.3,1276.3 520.6,1280.6 518.9,1279.6 517.2,1281.6 515.5,1278.4 513.8,1281.7 512,1280.6 510.3,1283.8 508.6,1286 506.9,1283.4 505.2,1290.2 503.5,1290.7 501.7,1295.5 500,1297.8 498.3,1290.5 496.3,1298.2 494.4,1297.3 492.4,1301.7 490.5,1301.6 488.5,1304.6 486.5,1302.4 484.6,1300.2 482.6,1305.4 480.7,1300.5 478.7,1304.6 476.8,1307 474.8,1308.5 472.8,1312.2 470.9,1314.6 468.9,1311.2 467,1314.4 465,1314.2 463.3,1315.7 461.6,1315.5 459.8,1317 458.1,1320.5 456.4,1321.3 454.7,1322.8 453,1320.1 451.3,1323.6 449.5,1321.9 447.8,1320.7 446.1,1329.9 444.4,1325.8 442.7,1324.8 441,1330.7 439.2,1334.2 437.5,1330.8 435.8,1330.8 433.8,1331.3 431.9,1335.3 429.9,1337.1 428,1338.1 426,1335.6 424,1340.3 422.1,1337.8 420.1,1343.3 418.2,1338.9 416.2,1340.5 414.3,1342.2 412.3,1347.3 410.3,1346.1 408.4,1343.5 406.4,1349.5 404.5,1352.8 402.5,1349.7 400.8,1356.2 399.1,1350.3 397.3,1355.2 395.6,1352.5 393.9,1359 392.2,1361.8 390.5,1361.9 388.8,1361.6 387,1364 385.3,1358.1 383.6,1360.8 381.9,1365.9 380.2,1363.8 378.5,1363.8 376.7,1368.2 375,1371.1 373.3,1368.7 372.1,1371.1 370.9,1370.2 369.6,1372 368.4,1372.7 367.2,1369.7 366,1373.3 364.7,1374.2 363.5,1376.4 362.3,1373.1 361.1,1376.8 359.8,1375.4 358.6,1379 357.4,1376.5 356.2,1376.9 354.9,1379.3 353.7,1379 352.5,1381.5 352.3,1378.1 352.1,1377.2 352,1378.9 351.8,1377.6 351.6,1378.2 351.4,1380.3 351.2,1380.1 351,1379.1 350.9,1378.2 350.7,1381.7 350.5,1381.8 350.3,1380.4 350.1,1380.1 349.9,1380.9 349.8,1377.6 349.6,1377.7 349.4,1374 348.1,1377.8 346.7,1377 345.4,1376.1 344,1374.1 342.7,1369.9 341.3,1370.2 340,1369.7 338.6,1365.9 337.3,1366 335.9,1364.6 334.6,1362.6 333.2,1367.8 331.9,1362.9 330.5,1361.3 329.2,1359.6 327.8,1360.7 326.5,1353.7 324.9,1363.2 323.3,1358.8 321.6,1354.6 320,1357.6 318.4,1358.1 316.8,1355.7 315.2,1350.3 313.6,1357.7 311.9,1355.6 310.3,1356.6 308.7,1353.4 307.1,1351.4 305.5,1350.3 303.9,1351.5 302.2,1348.9 300.6,1350.5 299,1348.1 297.9,1347.4 296.8,1352.8 295.8,1346 294.7,1346.3 293.6,1344.8 292.5,1350.3 291.4,1350 290.3,1348.3 289.3,1347.1 288.2,1342.6 287.1,1340.9 286,1341.8 284.9,1338.8 283.8,1339.1 282.8,1340.8 281.7,1335.5 280.6,1335.5 279.4,1342.8 278.2,1340.8 277,1336.1 275.8,1333.4 274.5,1336.6 273.3,1334 272.1,1335.6 270.9,1334.3 269.7,1337.3 268.5,1334.2 267.3,1332.6 266.1,1334.7 264.8,1336.3 263.6,1338.6 262.4,1333.8 261.2,1330.7 260,1328.6 258.8,1334.2 257.6,1328 256.4,1328.9 255.2,1329.7 253.9,1328.6 252.7,1332.8 251.5,1327.6 250.3,1326.8 249.1,1324 247.9,1330.1 246.7,1328 245.5,1326.5 244.2,1329.5 243,1324.9 241.8,1321.5 240.6,1321.5 239.4,1320.8 238.5,1319.5 237.5,1320.3 236.6,1320.1 235.6,1319.6 234.7,1316.9 233.7,1317.4 232.8,1321.2 231.8,1319.7 230.9,1318.1 229.9,1322.8 229,1317.6 228,1316.3 227.1,1314.9 226.1,1315.7 225.2,1317.3 224.2,1316.3 223.3,1308.2 222.4,1314.4 221.4,1309 220.5,1309.8 219.5,1306.8 218.6,1308 217.7,1307 216.7,1311.7 215.8,1307.6 214.8,1308.8 213.9,1308.1 212.9,1306.4 212,1307.4 211.1,1303.1 210.1,1307.3 209.2,1307.2 208.2,1304.3 207.3,1297.7 206.2,1305.8 205.1,1301 204.1,1301.7 203,1299 201.9,1302.9 200.8,1299.6 199.8,1299.6 198.7,1302.8 197.6,1300.9 196.5,1295 195.5,1297.9 194.4,1295 193.3,1297.1 192.2,1297.8 191.2,1297.8 190.1,1300.5 189,1292.9 188.1,1291.4 187.1,1295.9 186.2,1294.2 185.2,1295.7 184.3,1293.1 183.3,1295.8 182.4,1288.7 181.4,1289.8 180.5,1286 179.5,1291.9 178.6,1293.2 177.6,1289.9 176.7,1286.1 175.7,1289.6 174.8,1286.3 173.8,1282.1 172.9,1280.9 171.8,1290.6 170.7,1288.8 169.7,1282.8 168.6,1285.2 167.5,1283.9 166.4,1283.6 165.4,1282.1 164.3,1278 163.2,1279 162.1,1279 161.1,1278.9 160,1276 158.9,1276.2 157.8,1276.4 156.8,1276.1 155.7,1272.8 154.6,1272.6 153,1273.9 151.4,1275.2 149.7,1275.8 148.1,1270 146.5,1272 144.9,1269.7 143.3,1271.4 141.7,1271.4 140,1268.4 138.4,1266.7 136.8,1267 135.2,1267.7 133.6,1264.5 132,1267.1 130.3,1264.8 128.7,1264 127.1,1259.7 126,1259.7 124.9,1256.1 123.9,1262.3 122.8,1259.4 121.7,1260.4 120.6,1261.5 119.6,1259.9 118.5,1259.7 117.4,1259.2 116.3,1257.9 115.3,1253.8 114.2,1256.6 113.1,1257.6 112,1248 111,1245.1 109.9,1245.3 108.8,1242.3 107.9,1246.9 106.9,1246.7 106,1248.3 105,1244 104.1,1247.3 103.1,1247.5 102.2,1249.6 101.2,1246.1 100.3,1246.8 99.3,1251.1 98.4,1252.2 97.4,1250.5 96.5,1250 95.5,1251.7 94.6,1247.9 93.6,1249.9 92.7,1243.2 91.6,1246.1 90.5,1249 89.5,1247.7 88.4,1250 87.3,1249.7 86.2,1247.2 85.2,1246.1 84.1,1246.4 83,1246.2 81.9,1244.1 80.9,1244 79.8,1241.7 78.7,1242.1 77.6,1242.9 76.6,1239.6 75.5,1234.8 74.4,1233.5 73.5,1236 72.5,1235.7 71.6,1235.9 70.6,1230.9 69.7,1234 68.7,1238.2 67.8,1233.3 66.8,1229.8 65.9,1234.6 64.9,1229 64,1227.2 63,1229.8 62.1,1224.1 61.1,1227.1 60.2,1226.8 59.2,1222.1 58.3,1219.8 58.3,1225.7 58.4,1229 58.4,1226.1 58.4,1223.3 58.4,1230.8 58.5,1224.2 58.5,1224.3 58.5,1221.4 58.6,1222.1 58.6,1228.9 58.6,1229.5 58.7,1226.9 58.7,1226.3 58.7,1225.1 58.7,1230.1 58.8,1227.2 58.8,1223.2" fill="#2e0a06"/>
<polygon points="58.8,1220 60.1,1215.2 61.5,1213.7 62.8,1212 64.2,1211.8 65.5,1210.3 66.9,1213 68.2,1211.4 69.6,1208.2 70.9,1207.9 72.3,1206.2 73.6,1208.3 75,1206.8 76.3,1206.7 77.7,1204.8 79,1203.5 80.4,1204.8 81.7,1205 82.9,1199.1 84.1,1197.1 85.4,1197.9 86.6,1194.2 87.8,1194.7 89,1191.6 90.3,1191.6 91.5,1190.9 92.7,1185.9 93.9,1185.9 95.2,1184.7 96.4,1180 97.6,1177.8 98.8,1178.4 100.1,1174.6 101.3,1174 102.5,1176 103.7,1171 104.9,1170.3 106.2,1168.5 107.4,1167.7 108.6,1169.4 109.8,1169.1 111.1,1169.4 112.3,1169 113.5,1168.7 114.7,1167.1 116,1164.8 117.2,1166.1 118.4,1163.2 119.6,1163.2 120.9,1162.8 122.1,1160 123.3,1163.3 124.8,1159.9 126.2,1157.7 127.7,1159 129.2,1154.9 130.7,1157 132.1,1153.9 133.6,1151.8 135.1,1154 136.5,1150.8 138,1150.9 139.5,1149.3 140.9,1150.6 142.4,1150.1 143.9,1148.7 145.4,1144.4 146.8,1145.6 148.3,1146.7 150,1139.9 151.7,1140.3 153.5,1139.2 155.2,1136.9 156.9,1134 158.6,1134.7 160.3,1131 162,1128.5 163.8,1126.3 165.5,1127.9 167.2,1123.3 168.9,1124.4 170.6,1122.4 172.3,1119.5 174.1,1116.1 175.8,1116.3 177.5,1117.5 179.2,1114.8 180.9,1114.1 182.7,1114 184.4,1113.8 186.1,1113 187.8,1109.9 189.5,1107.2 191.2,1109.4 193,1110 194.7,1105.7 196.4,1105.8 198.1,1105.9 199.8,1106.1 201.5,1104.2 203.3,1102.1 205,1102.5 206.7,1105 208.4,1099.6 210.1,1100.7 211.8,1098.1 213.5,1094.9 215.3,1095.8 217,1092.6 218.7,1089.6 220.4,1089.1 222.1,1087.2 223.8,1088.5 225.5,1086.5 227.2,1086 229,1081.9 230.7,1082 232.4,1080.3 234.1,1076.5 235.8,1080 237.3,1076 238.7,1075.3 240.2,1073.5 241.7,1073.4 243.2,1073.5 244.6,1072.5 246.1,1072.7 247.6,1071.1 249,1067.5 250.5,1066 252,1066.3 253.4,1066.3 254.9,1066.4 256.4,1066.9 257.9,1065.6 259.3,1062.5 260.8,1065.4 262.5,1060.8 264.2,1059.3 266,1058.6 267.7,1057.9 269.4,1056.7 271.1,1057.4 272.8,1055.6 274.5,1056.2 276.3,1054.9 278,1052.8 279.7,1051.8 281.4,1052.6 283.1,1049.5 284.8,1049.2 286.6,1048.8 288.3,1050.5 290,1050.8 291,1047.1 292,1046.7 292.9,1044.7 293.9,1044.3 294.9,1043.2 295.9,1044.3 296.9,1043 297.9,1041.7 298.8,1040.6 299.8,1041.8 300.8,1039.7 301.8,1038.5 302.8,1038.5 303.8,1036.8 304.7,1036 305.7,1037.1 306.7,1040.4 308.2,1037.4 309.6,1036.8 311.1,1039.1 312.6,1039.4 314.1,1039.9 315.5,1040.5 317,1043.5 318.5,1042.4 319.9,1043.4 321.4,1043.9 322.9,1045.6 324.3,1045.7 325.8,1045.7 327.3,1046.7 328.8,1047.2 330.2,1050.8 331.7,1052.9 333.2,1050.1 334.6,1052 336.1,1050.9 337.6,1051.2 339.1,1054.1 340.5,1053.5 342,1054.7 343.5,1056.1 344.9,1056.6 346.4,1056.3 347.9,1057.1 349.3,1057.6 350.8,1058.8 352.3,1057.7 353.8,1058.1 355.2,1057.6 356.7,1061.3 358.4,1058.2 360.1,1062 361.8,1062.2 363.5,1063.4 365.3,1063.9 367,1066 368.7,1064.3 370.4,1066.4 372.1,1069.1 373.8,1068.2 375.5,1070.8 377.2,1070.4 379,1071.8 380.7,1071.9 382.4,1071 384.1,1072 385.8,1077.9 387.5,1074.8 389.2,1076.5 391,1078.3 392.7,1077.4 394.4,1077.7 396.1,1076.6 397.8,1076.6 399.5,1078.6 401.3,1080.7 403,1079.4 404.7,1083.3 406.4,1084.4 408.1,1083.2 409.8,1083.1 411.6,1085.5 413.3,1084.6 415,1088.3 416.5,1087 417.9,1088.6 419.4,1089.5 420.9,1087.6 422.4,1090.2 423.8,1089.3 425.3,1089.9 426.8,1092.1 428.2,1094.8 429.7,1093.3 431.2,1095.6 432.6,1097.3 434.1,1098.9 435.6,1097.3 437.1,1099.5 438.5,1101.8 440,1105 442,1103 443.9,1103.8 445.9,1105.2 447.8,1104 449.8,1104 451.8,1108 453.7,1107.5 455.7,1108.9 457.6,1107.1 459.6,1107.7 461.5,1110.7 463.5,1112 465.5,1113.4 467.4,1110.8 469.4,1113.4 471.3,1113.4 473.3,1117.5 474.8,1114.8 476.2,1114.6 477.7,1117.6 479.2,1116.2 480.7,1118.2 482.1,1118.2 483.6,1119.5 485.1,1120.5 486.5,1120.2 488,1120.8 489.5,1121.9 490.9,1121 492.4,1121.8 493.9,1124.8 495.4,1125.2 496.8,1124.9 498.3,1127.9 500,1125.8 501.7,1129.5 503.5,1128.3 505.2,1130.4 506.9,1131.4 508.6,1132 510.3,1133.5 512,1135.5 513.8,1135.2 515.5,1138.3 517.2,1140.2 518.9,1139.7 520.6,1143.3 522.3,1144.9 524.1,1144.1 525.8,1148 527.5,1150.8 529.5,1149.1 531.4,1150.8 533.4,1149.9 535.3,1149.7 537.3,1153.6 539.3,1154.1 541.2,1154.6 543.2,1155.6 545.1,1157.3 547.1,1159.3 549,1158.7 551,1158.3 553,1162 554.9,1163.1 556.9,1161.7 558.8,1162 560.8,1167.5 562,1164.9 563.3,1163.4 564.5,1163.3 565.7,1164.8 566.9,1168.3 568.2,1166.4 569.4,1168.8 570.6,1168.1 571.9,1166.9 573.1,1167.9 574.3,1171 575.6,1171.6 576.8,1169.5 578,1172.4 579.2,1171.7 580.5,1172.6 581.7,1175.8 582.8,1175.8 583.9,1177 585,1176.9 586.1,1178.9 587.2,1180.2 588.3,1179.1 589.4,1178.8 590.5,1178.8 591.6,1182.6 592.7,1183.2 593.8,1184.6 594.9,1184.5 596,1185.6 597.1,1184.7 598.2,1187.5 599.3,1190.4 600.4,1192.5 600.4,1196.2 600.4,1196.6 600.4,1198.9 600.4,1198 600.4,1198.2 600.4,1196.7 600.4,1197.8 600.4,1196.8 600.4,1199.2 600.4,1198.9 600.4,1197.1 600.4,1197.2 600.4,1198.1 600.4,1200.4 600.4,1198.4 600.4,1200.7 600.4,1196.7 598.8,1201.7 597.2,1201.1 595.6,1202.2 594,1205.9 592.4,1206.3 590.8,1210.6 589.2,1210.9 587.6,1211.3 586.1,1214.8 584.5,1213 582.9,1217 581.3,1215.9 579.7,1217 578.1,1222.5 576.5,1223.7 574.9,1222.8 573.3,1221.7 572.1,1227.5 570.9,1229.2 569.6,1227 568.4,1229.5 567.2,1229.5 566,1229.6 564.7,1230.8 563.5,1233.3 562.3,1233.4 561.1,1234.3 559.8,1234 558.6,1238.1 557.4,1239.1 556.2,1240.8 554.9,1240.2 553.7,1242.8 552.5,1238.3 551,1243.8 549.6,1246.6 548.1,1246.9 546.6,1246.7 545.1,1247.5 543.7,1249.8 542.2,1250.9 540.7,1256.7 539.3,1257.6 537.8,1260.5 536.3,1258.7 534.9,1261.7 533.4,1266 531.9,1267.1 530.4,1267.6 529,1269.2 527.5,1267.5 525.8,1269.8 524.1,1272.1 522.3,1273.8 520.6,1277.6 518.9,1275.9 517.2,1276.8 515.5,1278.1 513.8,1278.7 512,1280.4 510.3,1281.5 508.6,1283.9 506.9,1283.2 505.2,1288.4 503.5,1288 501.7,1291.6 500,1292.3 498.3,1288.3 496.3,1295 494.4,1293 492.4,1296 490.5,1295.9 488.5,1298.7 486.5,1300.6 484.6,1299.2 482.6,1299.8 480.7,1300 478.7,1301.9 476.8,1302.6 474.8,1305.3 472.8,1309.9 470.9,1309 468.9,1309.4 467,1311.1 465,1309.2 463.3,1314.9 461.6,1313.4 459.8,1314 458.1,1317.1 456.4,1320 454.7,1320.1 453,1319.7 451.3,1323 449.5,1319.8 447.8,1319.8 446.1,1324.1 444.4,1324.2 442.7,1323.1 441,1326 439.2,1329.8 437.5,1329.2 435.8,1325.8 433.8,1327.5 431.9,1332.9 429.9,1333.4 428,1336.6 426,1334 424,1335 422.1,1335.2 420.1,1337.9 418.2,1337.8 416.2,1339.7 414.3,1341.9 412.3,1342.9 410.3,1342.7 408.4,1343.5 406.4,1349.3 404.5,1347.9 402.5,1346.7 400.8,1351 399.1,1350.1 397.3,1351.6 395.6,1351.8 393.9,1354.7 392.2,1358.1 390.5,1358.2 388.8,1360.2 387,1358.3 385.3,1357.4 383.6,1360.4 381.9,1361.8 380.2,1363.3 378.5,1363.4 376.7,1365.4 375,1367.2 373.3,1363.3 372.1,1366.8 370.9,1369.8 369.6,1368.1 368.4,1367.6 367.2,1369 366,1368.7 364.7,1372.7 363.5,1374.6 362.3,1373.1 361.1,1372.3 359.8,1372.3 358.6,1373.6 357.4,1373.7 356.2,1376 354.9,1378 353.7,1377.4 352.5,1375.8 352.3,1376.8 352.1,1376.6 352,1376.8 351.8,1377.1 351.6,1375.6 351.4,1376.6 351.2,1376.2 351,1378 350.9,1377.4 350.7,1378.7 350.5,1377.7 350.3,1377.7 350.1,1376.6 349.9,1375.4 349.8,1376.8 349.6,1376.1 349.4,1371 348.1,1374.6 346.7,1371.6 345.4,1372.7 344,1370.2 342.7,1367.4 341.3,1365.5 340,1364.7 338.6,1364.2 337.3,1365.4 335.9,1363 334.6,1360.5 333.2,1362.5 331.9,1361.3 330.5,1357.5 329.2,1355.8 327.8,1354.9 326.5,1353 324.9,1358.5 323.3,1356.8 321.6,1354 320,1353.8 318.4,1353 316.8,1352.2 315.2,1350 313.6,1351.9 311.9,1353.3 310.3,1352.8 308.7,1349.1 307.1,1349.8 305.5,1347.8 303.9,1349.6 302.2,1348.4 300.6,1350.1 299,1343.8 297.9,1344.9 296.8,1347.6 295.8,1345.7 294.7,1344.5 293.6,1343.7 292.5,1344.6 291.4,1345.3 290.3,1343 289.3,1344 288.2,1342 287.1,1338.4 286,1340.5 284.9,1338.6 283.8,1335.7 282.8,1339.1 281.7,1334.8 280.6,1332.4 279.4,1337.2 278.2,1335.1 277,1333.3 275.8,1332.8 274.5,1332 273.3,1333.3 272.1,1332.4 270.9,1333.8 269.7,1331.4 268.5,1330.9 267.3,1330 266.1,1333.1 264.8,1333 263.6,1332.8 262.4,1331.2 261.2,1329.4 260,1325.5 258.8,1328.7 257.6,1325.7 256.4,1325.1 255.2,1324.2 253.9,1326.7 252.7,1328 251.5,1324.4 250.3,1326 249.1,1323.7 247.9,1324.5 246.7,1325.2 245.5,1323.8 244.2,1324 243,1321.5 241.8,1318.5 240.6,1319.8 239.4,1316.3 238.5,1318 237.5,1317.5 236.6,1315.5 235.6,1316 234.7,1316.1 233.7,1316.2 232.8,1317 231.8,1315.4 230.9,1317.4 229.9,1316.8 229,1316.8 228,1315.3 227.1,1314.3 226.1,1313 225.2,1313.6 224.2,1311.1 223.3,1307.2 222.4,1310.2 221.4,1308.4 220.5,1306.3 219.5,1305.3 218.6,1305.8 217.7,1306.7 216.7,1307.4 215.8,1306.9 214.8,1304.2 213.9,1306 212.9,1302.8 212,1303.6 211.1,1300.1 210.1,1302 209.2,1301.7 208.2,1302.6 207.3,1295.7 206.2,1300.6 205.1,1300.2 204.1,1299.2 203,1296.5 201.9,1297 200.8,1298.8 199.8,1295.7 198.7,1298.2 197.6,1296.5 196.5,1295 195.5,1292.2 194.4,1293.1 193.3,1292 192.2,1293.8 191.2,1295.3 190.1,1295.5 189,1288.8 188.1,1289.4 187.1,1291.5 186.2,1291.1 185.2,1291.4 184.3,1289.4 183.3,1291.1 182.4,1287.8 181.4,1286.9 180.5,1286 179.5,1287.2 178.6,1288.6 177.6,1284.9 176.7,1285.8 175.7,1286.4 174.8,1283.4 173.8,1281.3 172.9,1279.7 171.8,1284.7 170.7,1283.7 169.7,1281.4 168.6,1280.3 167.5,1280 166.4,1281.3 165.4,1278.2 164.3,1276.7 163.2,1277.4 162.1,1278.9 161.1,1275 160,1272.6 158.9,1271.8 157.8,1273.3 156.8,1273.5 155.7,1271 154.6,1268.2 153,1271.7 151.4,1271.6 149.7,1271.3 148.1,1267.4 146.5,1267.8 144.9,1269.3 143.3,1269.9 141.7,1266.3 140,1267.5 138.4,1266.3 136.8,1267 135.2,1263.1 133.6,1263.9 132,1264.4 130.3,1262.2 128.7,1259.2 127.1,1256.8 126,1256.6 124.9,1256 123.9,1257.5 122.8,1254.8 121.7,1256.6 120.6,1256.5 119.6,1256.2 118.5,1255.4 117.4,1254.1 116.3,1254.2 115.3,1253.7 114.2,1251.3 113.1,1251.7 112,1246.8 111,1244.7 109.9,1243.3 108.8,1241.7 107.9,1244.7 106.9,1246.1 106,1247 105,1243.9 104.1,1244.7 103.1,1245.7 102.2,1245.2 101.2,1243.8 100.3,1245.8 99.3,1245.4 98.4,1246.9 97.4,1246.4 96.5,1248.7 95.5,1249.3 94.6,1245.2 93.6,1247.5 92.7,1243 91.6,1243.4 90.5,1244.4 89.5,1243.6 88.4,1244.8 87.3,1245.6 86.2,1242.7 85.2,1240.8 84.1,1240.9 83,1241.4 81.9,1241.6 80.9,1240.1 79.8,1237.7 78.7,1236.8 77.6,1238.6 76.6,1237 75.5,1233.7 74.4,1231.5 73.5,1234.5 72.5,1231.6 71.6,1231.2 70.6,1229.8 69.7,1230.8 68.7,1233.1 67.8,1231.1 66.8,1229.3 65.9,1231 64.9,1226.8 64,1226.4 63,1228.1 62.1,1224 61.1,1226.2 60.2,1224.3 59.2,1221.5 58.3,1219.8 58.3,1222.4 58.4,1223.2 58.4,1221.1 58.4,1221.3 58.4,1225.2 58.5,1223.7 58.5,1223.4 58.5,1221.4 58.6,1221.8 58.6,1225.3 58.6,1225 58.7,1224 58.7,1221.4 58.7,1222.4 58.7,1224.6 58.8,1223.6 58.8,1220" fill="#420c08"/>
<polygon points="58.8,1220 60.1,1215.2 61.5,1213.7 62.8,1212 64.2,1211.8 65.5,1210.3 66.9,1213 68.2,1211.4 69.6,1208.2 70.9,1207.9 72.3,1206.2 73.6,1208.3 75,1206.8 76.3,1206.7 77.7,1204.8 79,1203.5 80.4,1204.8 81.7,1205 82.9,1199.1 84.1,1197.1 85.4,1197.9 86.6,1194.2 87.8,1194.7 89,1191.6 90.3,1191.6 91.5,1190.9 92.7,1185.9 93.9,1185.9 95.2,1184.7 96.4,1180 97.6,1177.8 98.8,1178.4 100.1,1174.6 101.3,1174 102.5,1176 103.7,1171 104.9,1170.3 106.2,1168.5 107.4,1167.7 108.6,1169.4 109.8,1169.1 111.1,1169.4 112.3,1169 113.5,1168.7 114.7,1167.1 116,1164.8 117.2,1166.1 118.4,1163.2 119.6,1163.2 120.9,1162.8 122.1,1160 123.3,1163.3 124.8,1159.9 126.2,1157.7 127.7,1159 129.2,1154.9 130.7,1157 132.1,1153.9 133.6,1151.8 135.1,1154 136.5,1150.8 138,1150.9 139.5,1149.3 140.9,1150.6 142.4,1150.1 143.9,1148.7 145.4,1144.4 146.8,1145.6 148.3,1146.7 150,1139.9 151.7,1140.3 153.5,1139.2 155.2,1136.9 156.9,1134 158.6,1134.7 160.3,1131 162,1128.5 163.8,1126.3 165.5,1127.9 167.2,1123.3 168.9,1124.4 170.6,1122.4 172.3,1119.5 174.1,1116.1 175.8,1116.3 177.5,1117.5 179.2,1114.8 180.9,1114.1 182.7,1114 184.4,1113.8 186.1,1113 187.8,1109.9 189.5,1107.2 191.2,1109.4 193,1110 194.7,1105.7 196.4,1105.8 198.1,1105.9 199.8,1106.1 201.5,1104.2 203.3,1102.1 205,1102.5 206.7,1105 208.4,1099.6 210.1,1100.7 211.8,1098.1 213.5,1094.9 215.3,1095.8 217,1092.6 218.7,1089.6 220.4,1089.1 222.1,1087.2 223.8,1088.5 225.5,1086.5 227.2,1086 229,1081.9 230.7,1082 232.4,1080.3 234.1,1076.5 235.8,1080 237.3,1076 238.7,1075.3 240.2,1073.5 241.7,1073.4 243.2,1073.5 244.6,1072.5 246.1,1072.7 247.6,1071.1 249,1067.5 250.5,1066 252,1066.3 253.4,1066.3 254.9,1066.4 256.4,1066.9 257.9,1065.6 259.3,1062.5 260.8,1065.4 262.5,1060.8 264.2,1059.3 266,1058.6 267.7,1057.9 269.4,1056.7 271.1,1057.4 272.8,1055.6 274.5,1056.2 276.3,1054.9 278,1052.8 279.7,1051.8 281.4,1052.6 283.1,1049.5 284.8,1049.2 286.6,1048.8 288.3,1050.5 290,1050.8 291,1047.1 292,1046.7 292.9,1044.7 293.9,1044.3 294.9,1043.2 295.9,1044.3 296.9,1043 297.9,1041.7 298.8,1040.6 299.8,1041.8 300.8,1039.7 301.8,1038.5 302.8,1038.5 303.8,1036.8 304.7,1036 305.7,1037.1 306.7,1040.4 308.2,1037.4 309.6,1036.8 311.1,1039.1 312.6,1039.4 314.1,1039.9 315.5,1040.5 317,1043.5 318.5,1042.4 319.9,1043.4 321.4,1043.9 322.9,1045.6 324.3,1045.7 325.8,1045.7 327.3,1046.7 328.8,1047.2 330.2,1050.8 331.7,1052.9 333.2,1050.1 334.6,1052 336.1,1050.9 337.6,1051.2 339.1,1054.1 340.5,1053.5 342,1054.7 343.5,1056.1 344.9,1056.6 346.4,1056.3 347.9,1057.1 349.3,1057.6 350.8,1058.8 352.3,1057.7 353.8,1058.1 355.2,1057.6 356.7,1061.3 358.4,1058.2 360.1,1062 361.8,1062.2 363.5,1063.4 365.3,1063.9 367,1066 368.7,1064.3 370.4,1066.4 372.1,1069.1 373.8,1068.2 375.5,1070.8 377.2,1070.4 379,1071.8 380.7,1071.9 382.4,1071 384.1,1072 385.8,1077.9 387.5,1074.8 389.2,1076.5 391,1078.3 392.7,1077.4 394.4,1077.7 396.1,1076.6 397.8,1076.6 399.5,1078.6 401.3,1080.7 403,1079.4 404.7,1083.3 406.4,1084.4 408.1,1083.2 409.8,1083.1 411.6,1085.5 413.3,1084.6 415,1088.3 416.5,1087 417.9,1088.6 419.4,1089.5 420.9,1087.6 422.4,1090.2 423.8,1089.3 425.3,1089.9 426.8,1092.1 428.2,1094.8 429.7,1093.3 431.2,1095.6 432.6,1097.3 434.1,1098.9 435.6,1097.3 437.1,1099.5 438.5,1101.8 440,1105 442,1103 443.9,1103.8 445.9,1105.2 447.8,1104 449.8,1104 451.8,1108 453.7,1107.5 455.7,1108.9 457.6,1107.1 459.6,1107.7 461.5,1110.7 463.5,1112 465.5,1113.4 467.4,1110.8 469.4,1113.4 471.3,1113.4 473.3,1117.5 474.8,1114.8 476.2,1114.6 477.7,1117.6 479.2,1116.2 480.7,1118.2 482.1,1118.2 483.6,1119.5 485.1,1120.5 486.5,1120.2 488,1120.8 489.5,1121.9 490.9,1121 492.4,1121.8 493.9,1124.8 495.4,1125.2 496.8,1124.9 498.3,1127.9 500,1125.8 501.7,1129.5 503.5,1128.3 505.2,1130.4 506.9,1131.4 508.6,1132 510.3,1133.5 512,1135.5 513.8,1135.2 515.5,1138.3 517.2,1140.2 518.9,1139.7 520.6,1143.3 522.3,1144.9 524.1,1144.1 525.8,1148 527.5,1150.8 529.5,1149.1 531.4,1150.8 533.4,1149.9 535.3,1149.7 537.3,1153.6 539.3,1154.1 541.2,1154.6 543.2,1155.6 545.1,1157.3 547.1,1159.3 549,1158.7 551,1158.3 553,1162 554.9,1163.1 556.9,1161.7 558.8,1162 560.8,1167.5 562,1164.9 563.3,1163.4 564.5,1163.3 565.7,1164.8 566.9,1168.3 568.2,1166.4 569.4,1168.8 570.6,1168.1 571.9,1166.9 573.1,1167.9 574.3,1171 575.6,1171.6 576.8,1169.5 578,1172.4 579.2,1171.7 580.5,1172.6 581.7,1175.8 582.8,1175.8 583.9,1177 585,1176.9 586.1,1178.9 587.2,1180.2 588.3,1179.1 589.4,1178.8 590.5,1178.8 591.6,1182.6 592.7,1183.2 593.8,1184.6 594.9,1184.5 596,1185.6 597.1,1184.7 598.2,1187.5 599.3,1190.4 600.4,1192.5 600.4,1196.2 600.4,1196.6 600.4,1198.9 600.4,1198 600.4,1198.2 600.4,1196.7 600.4,1197.8 600.4,1196.8 600.4,1199.2 600.4,1198.9 600.4,1197.1 600.4,1197.2 600.4,1198.1 600.4,1200.4 600.4,1198.4 600.4,1200.7 600.4,1196.7 598.8,1201.7 597.2,1201.1 595.6,1202.2 594,1205.9 592.4,1206.3 590.8,1210.6 589.2,1210.9 587.6,1211.3 586.1,1214.8 584.5,1213 582.9,1217 581.3,1215.9 579.7,1217 578.1,1222.5 576.5,1223.7 574.9,1222.8 573.3,1221.7 572.1,1227.5 570.9,1229.2 569.6,1227 568.4,1229.5 567.2,1229.5 566,1229.6 564.7,1230.8 563.5,1233.3 562.3,1233.4 561.1,1234.3 559.8,1234 558.6,1238.1 557.4,1239.1 556.2,1240.8 554.9,1240.2 553.7,1242.8 552.5,1238.3 551,1243.8 549.6,1246.6 548.1,1246.9 546.6,1246.7 545.1,1247.5 543.7,1249.8 542.2,1250.9 540.7,1256.7 539.3,1257.6 537.8,1260.5 536.3,1258.7 534.9,1261.7 533.4,1266 531.9,1267.1 530.4,1267.6 529,1269.2 527.5,1267.5 525.8,1269.8 524.1,1272.1 522.3,1273.8 520.6,1277.6 518.9,1275.9 517.2,1276.8 515.5,1278.1 513.8,1278.7 512,1280.4 510.3,1281.5 508.6,1283.9 506.9,1283.2 505.2,1288.4 503.5,1288 501.7,1291.6 500,1292.3 498.3,1288.3 496.3,1295 494.4,1293 492.4,1296 490.5,1295.9 488.5,1298.7 486.5,1300.6 484.6,1299.2 482.6,1299.8 480.7,1300 478.7,1301.9 476.8,1302.6 474.8,1305.3 472.8,1309.9 470.9,1309 468.9,1309.4 467,1311.1 465,1309.2 463.3,1314.9 461.6,1313.4 459.8,1314 458.1,1317.1 456.4,1320 454.7,1320.1 453,1319.7 451.3,1323 449.5,1319.8 447.8,1319.8 446.1,1324.1 444.4,1324.2 442.7,1323.1 441,1326 439.2,1329.8 437.5,1329.2 435.8,1325.8 433.8,1327.5 431.9,1332.9 429.9,1333.4 428,1336.6 426,1334 424,1335 422.1,1335.2 420.1,1337.9 418.2,1337.8 416.2,1339.7 414.3,1341.9 412.3,1342.9 410.3,1342.7 408.4,1343.5 406.4,1349.3 404.5,1347.9 402.5,1346.7 400.8,1351 399.1,1350.1 397.3,1351.6 395.6,1351.8 393.9,1354.7 392.2,1358.1 390.5,1358.2 388.8,1360.2 387,1358.3 385.3,1357.4 383.6,1360.4 381.9,1361.8 380.2,1363.3 378.5,1363.4 376.7,1365.4 375,1367.2 373.3,1363.3 372.1,1366.8 370.9,1369.8 369.6,1368.1 368.4,1367.6 367.2,1369 366,1368.7 364.7,1372.7 363.5,1374.6 362.3,1373.1 361.1,1372.3 359.8,1372.3 358.6,1373.6 357.4,1373.7 356.2,1376 354.9,1378 353.7,1377.4 352.5,1375.8 352.3,1376.8 352.1,1376.6 352,1376.8 351.8,1377.1 351.6,1375.6 351.4,1376.6 351.2,1376.2 351,1378 350.9,1377.4 350.7,1378.7 350.5,1377.7 350.3,1377.7 350.1,1376.6 349.9,1375.4 349.8,1376.8 349.6,1376.1 349.4,1371 348.1,1374.6 346.7,1371.6 345.4,1372.7 344,1370.2 342.7,1367.4 341.3,1365.5 340,1364.7 338.6,1364.2 337.3,1365.4 335.9,1363 334.6,1360.5 333.2,1362.5 331.9,1361.3 330.5,1357.5 329.2,1355.8 327.8,1354.9 326.5,1353 324.9,1358.5 323.3,1356.8 321.6,1354 320,1353.8 318.4,1353 316.8,1352.2 315.2,1350 313.6,1351.9 311.9,1353.3 310.3,1352.8 308.7,1349.1 307.1,1349.8 305.5,1347.8 303.9,1349.6 302.2,1348.4 300.6,1350.1 299,1343.8 297.9,1344.9 296.8,1347.6 295.8,1345.7 294.7,1344.5 293.6,1343.7 292.5,1344.6 291.4,1345.3 290.3,1343 289.3,1344 288.2,1342 287.1,1338.4 286,1340.5 284.9,1338.6 283.8,1335.7 282.8,1339.1 281.7,1334.8 280.6,1332.4 279.4,1337.2 278.2,1335.1 277,1333.3 275.8,1332.8 274.5,1332 273.3,1333.3 272.1,1332.4 270.9,1333.8 269.7,1331.4 268.5,1330.9 267.3,1330 266.1,1333.1 264.8,1333 263.6,1332.8 262.4,1331.2 261.2,1329.4 260,1325.5 258.8,1328.7 257.6,1325.7 256.4,1325.1 255.2,1324.2 253.9,1326.7 252.7,1328 251.5,1324.4 250.3,1326 249.1,1323.7 247.9,1324.5 246.7,1325.2 245.5,1323.8 244.2,1324 243,1321.5 241.8,1318.5 240.6,1319.8 239.4,1316.3 238.5,1318 237.5,1317.5 236.6,1315.5 235.6,1316 234.7,1316.1 233.7,1316.2 232.8,1317 231.8,1315.4 230.9,1317.4 229.9,1316.8 229,1316.8 228,1315.3 227.1,1314.3 226.1,1313 225.2,1313.6 224.2,1311.1 223.3,1307.2 222.4,1310.2 221.4,1308.4 220.5,1306.3 219.5,1305.3 218.6,1305.8 217.7,1306.7 216.7,1307.4 215.8,1306.9 214.8,1304.2 213.9,1306 212.9,1302.8 212,1303.6 211.1,1300.1 210.1,1302 209.2,1301.7 208.2,1302.6 207.3,1295.7 206.2,1300.6 205.1,1300.2 204.1,1299.2 203,1296.5 201.9,1297 200.8,1298.8 199.8,1295.7 198.7,1298.2 197.6,1296.5 196.5,1295 195.5,1292.2 194.4,1293.1 193.3,1292 192.2,1293.8 191.2,1295.3 190.1,1295.5 189,1288.8 188.1,1289.4 187.1,1291.5 186.2,1291.1 185.2,1291.4 184.3,1289.4 183.3,1291.1 182.4,1287.8 181.4,1286.9 180.5,1286 179.5,1287.2 178.6,1288.6 177.6,1284.9 176.7,1285.8 175.7,1286.4 174.8,1283.4 173.8,1281.3 172.9,1279.7 171.8,1284.7 170.7,1283.7 169.7,1281.4 168.6,1280.3 167.5,1280 166.4,1281.3 165.4,1278.2 164.3,1276.7 163.2,1277.4 162.1,1278.9 161.1,1275 160,1272.6 158.9,1271.8 157.8,1273.3 156.8,1273.5 155.7,1271 154.6,1268.2 153,1271.7 151.4,1271.6 149.7,1271.3 148.1,1267.4 146.5,1267.8 144.9,1269.3 143.3,1269.9 141.7,1266.3 140,1267.5 138.4,1266.3 136.8,1267 135.2,1263.1 133.6,1263.9 132,1264.4 130.3,1262.2 128.7,1259.2 127.1,1256.8 126,1256.6 124.9,1256 123.9,1257.5 122.8,1254.8 121.7,1256.6 120.6,1256.5 119.6,1256.2 118.5,1255.4 117.4,1254.1 116.3,1254.2 115.3,1253.7 114.2,1251.3 113.1,1251.7 112,1246.8 111,1244.7 109.9,1243.3 108.8,1241.7 107.9,1244.7 106.9,1246.1 106,1247 105,1243.9 104.1,1244.7 103.1,1245.7 102.2,1245.2 101.2,1243.8 100.3,1245.8 99.3,1245.4 98.4,1246.9 97.4,1246.4 96.5,1248.7 95.5,1249.3 94.6,1245.2 93.6,1247.5 92.7,1243 91.6,1243.4 90.5,1244.4 89.5,1243.6 88.4,1244.8 87.3,1245.6 86.2,1242.7 85.2,1240.8 84.1,1240.9 83,1241.4 81.9,1241.6 80.9,1240.1 79.8,1237.7 78.7,1236.8 77.6,1238.6 76.6,1237 75.5,1233.7 74.4,1231.5 73.5,1234.5 72.5,1231.6 71.6,1231.2 70.6,1229.8 69.7,1230.8 68.7,1233.1 67.8,1231.1 66.8,1229.3 65.9,1231 64.9,1226.8 64,1226.4 63,1228.1 62.1,1224 61.1,1226.2 60.2,1224.3 59.2,1221.5 58.3,1219.8 58.3,1222.4 58.4,1223.2 58.4,1221.1 58.4,1221.3 58.4,1225.2 58.5,1223.7 58.5,1223.4 58.5,1221.4 58.6,1221.8 58.6,1225.3 58.6,1225 58.7,1224 58.7,1221.4 58.7,1222.4 58.7,1224.6 58.8,1223.6 58.8,1220" fill="#000" filter="url(#afmtex)"/>
<g clip-path="url(#afmclip5)">
<use href="#cn5b2" x="299.1" y="1057.3"/>
<use href="#cn5b1" x="303.7" y="1059.3"/>
<use href="#cn5a6" x="302.7" y="1060.5"/>
<use href="#cn5a4" x="320.7" y="1061.4"/>
<use href="#cn5a7" x="353.2" y="1071.8"/>
<use href="#cn5a0" x="292" y="1072.5"/>
<use href="#cn5b1" x="322.1" y="1073.1"/>
<use href="#cn5a5" x="358.8" y="1073.4"/>
<use href="#cn5a7" x="261.7" y="1075.3"/>
<use href="#cn5a4" x="305" y="1076.7"/>
<use href="#cn5a1" x="282.1" y="1084.4"/>
<use href="#cn5b5" x="315" y="1088.4"/>
<use href="#cn5b5" x="394.4" y="1091.8"/>
<use href="#cn5a2" x="284.4" y="1095.4"/>
<use href="#cn5a4" x="321" y="1095.4"/>
<use href="#cn5a3" x="390.2" y="1097.4"/>
<use href="#cn5b2" x="249.1" y="1099.1"/>
<use href="#cn5a2" x="292.5" y="1100.1"/>
<use href="#cn5b7" x="408.3" y="1100.3"/>
<use href="#cn5b3" x="260.6" y="1100.9"/>
<use href="#cn5b6" x="396.7" y="1103.7"/>
<use href="#cn5b0" x="396.4" y="1106"/>
<use href="#cn5b2" x="231.6" y="1107.4"/>
<use href="#cn5a5" x="253.3" y="1108.2"/>
<use href="#cn5b0" x="238.3" y="1108.5"/>
<use href="#cn5b3" x="366.6" y="1109.8"/>
<use href="#cn5b6" x="331" y="1111.8"/>
<use href="#cn5a0" x="406.5" y="1111.9"/>
<use href="#cn5a7" x="319.1" y="1112.9"/>
<use href="#cn5b2" x="275.5" y="1114.1"/>
<use href="#cn5b7" x="349.5" y="1115.3"/>
<use href="#cn5a2" x="204.8" y="1116.2"/>
<use href="#cn5b3" x="368.9" y="1116.3"/>
<use href="#cn5a7" x="300.2" y="1116.3"/>
<use href="#cn5a5" x="355.5" y="1116.4"/>
<use href="#cn5a1" x="310.4" y="1117.2"/>
<use href="#cn5b4" x="323.3" y="1118.4"/>
<use href="#cn5a2" x="387.1" y="1118.7"/>
<use href="#cn5b1" x="449.2" y="1120.1"/>
<use href="#cn5b6" x="421.8" y="1120.3"/>
<use href="#cn5a3" x="300.6" y="1120.9"/>
<use href="#cn5a7" x="292.1" y="1122.3"/>
<use href="#cn5a7" x="444.3" y="1122.6"/>
<use href="#cn5a7" x="285.4" y="1123.8"/>
<use href="#cn5a3" x="426.9" y="1124.1"/>
<use href="#cn5a2" x="413" y="1124.1"/>
<use href="#cn5a4" x="246.4" y="1125.1"/>
<use href="#cn5a1" x="212.5" y="1126.8"/>
<use href="#cn5a6" x="440.7" y="1127"/>
<use href="#cn5a1" x="301.1" y="1129.5"/>
<use href="#cn5a7" x="450.3" y="1130.4"/>
<use href="#cn5a6" x="202.6" y="1132.6"/>
<use href="#cn5a2" x="421.1" y="1133.3"/>
<use href="#cn5a5" x="183.6" y="1133.4"/>
<use href="#cn5b3" x="426.6" y="1134.8"/>
<use href="#cn5a3" x="258.1" y="1135.4"/>
<use href="#cn5b1" x="237.4" y="1135.8"/>
<use href="#cn5b5" x="344.2" y="1136.2"/>
<use href="#cn5a6" x="297.5" y="1136.8"/>
<use href="#cn5a4" x="195.1" y="1136.9"/>
<use href="#cn5b4" x="221.9" y="1136.9"/>
<use href="#cn5a5" x="249.1" y="1137.2"/>
<use href="#cn5a5" x="453.8" y="1137.2"/>
<use href="#cn5a0" x="347.4" y="1138.3"/>
<use href="#cn5a6" x="305.6" y="1139.2"/>
<use href="#cn5b4" x="308.6" y="1139.7"/>
<use href="#cn5a0" x="344.5" y="1140.8"/>
<use href="#cn5a2" x="256.7" y="1141.3"/>
<use href="#cn5a5" x="202.7" y="1142.8"/>
<use href="#cn5a3" x="181.4" y="1143.2"/>
<use href="#cn5b6" x="342.7" y="1143.2"/>
<use href="#cn5a3" x="475.9" y="1143.7"/>
<use href="#cn5b7" x="198.7" y="1144"/>
<use href="#cn5b3" x="164.9" y="1144.3"/>
<use href="#cn5b1" x="266.1" y="1145"/>
<use href="#cn5a4" x="267.3" y="1146"/>
<use href="#cn5b0" x="270.4" y="1147.8"/>
<use href="#cn5b4" x="302.9" y="1149.1"/>
<use href="#cn5a5" x="254.9" y="1149.7"/>
<use href="#cn5a6" x="472.1" y="1149.7"/>
<use href="#cn5b0" x="191.1" y="1150.3"/>
<use href="#cn5b5" x="461.7" y="1150.7"/>
<use href="#cn5a5" x="313" y="1150.9"/>
<use href="#cn5a0" x="297.7" y="1151.8"/>
<use href="#cn5b4" x="202.1" y="1152.4"/>
<use href="#cn5b1" x="320.2" y="1152.6"/>
<use href="#cn5a2" x="343.1" y="1152.7"/>
<use href="#cn5a1" x="291.2" y="1154.1"/>
<use href="#cn5a5" x="336.5" y="1154.4"/>
<use href="#cn5a6" x="241.4" y="1154.5"/>
<use href="#cn5a4" x="472.8" y="1154.6"/>
<use href="#cn5a5" x="149" y="1154.7"/>
<use href="#cn5b0" x="330.4" y="1155.1"/>
<use href="#cn5b4" x="458.3" y="1155.4"/>
<use href="#cn5a1" x="386" y="1155.5"/>
<use href="#cn5b6" x="497.3" y="1156.1"/>
<use href="#cn5b5" x="165.7" y="1156.3"/>
<use href="#cn5a3" x="397.1" y="1156.4"/>
<use href="#cn5a1" x="207.5" y="1156.5"/>
<use href="#cn5b2" x="256.4" y="1157.8"/>
<use href="#cn5b4" x="286.4" y="1158.9"/>
<use href="#cn5a4" x="272.6" y="1159.7"/>
<use href="#cn5a2" x="360.2" y="1159.8"/>
<use href="#cn5b2" x="194.2" y="1160.3"/>
<use href="#cn5a5" x="297.4" y="1160.5"/>
<use href="#cn5b3" x="373.5" y="1160.7"/>
<use href="#cn5a2" x="283.8" y="1161.1"/>
<use href="#cn5b7" x="322.6" y="1161.1"/>
<use href="#cn5a2" x="459.6" y="1161.5"/>
<use href="#cn5b2" x="287.7" y="1161.6"/>
<use href="#cn5a4" x="484" y="1162.9"/>
<use href="#cn5b3" x="219.5" y="1163.2"/>
<use href="#cn5a6" x="538.6" y="1163.6"/>
<use href="#cn5b0" x="383.5" y="1164.4"/>
<use href="#cn5b2" x="405.8" y="1164.6"/>
<use href="#cn5a4" x="377.7" y="1164.9"/>
<use href="#cn5a7" x="449.4" y="1165.3"/>
<use href="#cn5b4" x="372.9" y="1165.7"/>
<use href="#cn5a7" x="489.6" y="1166.2"/>
<use href="#cn5b0" x="361.9" y="1167.3"/>
<use href="#cn5b1" x="285.7" y="1167.9"/>
<use href="#cn5a3" x="214.8" y="1168.5"/>
<use href="#cn5b4" x="208.2" y="1169.6"/>
<use href="#cn5b2" x="334.3" y="1170.8"/>
<use href="#cn5a3" x="405.2" y="1170.8"/>
<use href="#cn5b5" x="193.4" y="1171"/>
<use href="#cn5a6" x="127.2" y="1171.3"/>
<use href="#cn5a5" x="273.8" y="1171.4"/>
<use href="#cn5b2" x="141" y="1171.9"/>
<use href="#cn5b5" x="237.5" y="1172"/>
<use href="#cn5a6" x="262.9" y="1172.9"/>
<use href="#cn5b3" x="222" y="1173.4"/>
<use href="#cn5a0" x="140.2" y="1174.1"/>
<use href="#cn5a3" x="442.2" y="1174.7"/>
<use href="#cn5b1" x="360.2" y="1175.3"/>
<use href="#cn5b2" x="455.2" y="1175.7"/>
<use href="#cn5b3" x="483.1" y="1175.9"/>
<use href="#cn5b2" x="366.9" y="1176.8"/>
<use href="#cn5a6" x="340.8" y="1176.9"/>
<use href="#cn5b6" x="417.3" y="1178.6"/>
<use href="#cn5a7" x="510.8" y="1179.5"/>
<use href="#cn5b7" x="309.5" y="1179.7"/>
<use href="#cn5a5" x="117" y="1179.9"/>
<use href="#cn5a4" x="426" y="1180.6"/>
<use href="#cn5a4" x="344.4" y="1180.6"/>
<use href="#cn5a1" x="244" y="1180.7"/>
<use href="#cn5a5" x="484" y="1180.8"/>
<use href="#cn5a1" x="355.3" y="1181.6"/>
<use href="#cn5b5" x="144.9" y="1181.7"/>
<use href="#cn5a4" x="442.9" y="1182"/>
<use href="#cn5a0" x="157.4" y="1182"/>
<use href="#cn5a3" x="159.3" y="1182.5"/>
<use href="#cn5b5" x="267" y="1182.6"/>
<use href="#cn5a0" x="295.7" y="1183.5"/>
<use href="#cn5a0" x="285.2" y="1183.8"/>
<use href="#cn5a4" x="270.3" y="1184.6"/>
<use href="#cn5a1" x="547.9" y="1184.6"/>
<use href="#cn5a5" x="194.6" y="1184.7"/>
<use href="#cn5a0" x="146.1" y="1184.7"/>
<use href="#cn5b5" x="139.4" y="1185.7"/>
<use href="#cn5b2" x="499.9" y="1187.5"/>
<use href="#cn5b5" x="233.5" y="1187.6"/>
<use href="#cn5a5" x="135.6" y="1187.8"/>
<use href="#cn5b3" x="332.6" y="1188"/>
<use href="#cn5a5" x="391.2" y="1188.7"/>
<use href="#cn5b6" x="585" y="1189.2"/>
<use href="#cn5a3" x="357.1" y="1189.3"/>
<use href="#cn5a4" x="242.9" y="1189.4"/>
<use href="#cn5b7" x="503" y="1189.6"/>
<use href="#cn5b6" x="366.6" y="1190"/>
<use href="#cn5a4" x="175.9" y="1190.3"/>
<use href="#cn5a4" x="406" y="1190.6"/>
<use href="#cn5b3" x="444.5" y="1190.9"/>
<use href="#cn5b4" x="495.8" y="1191.8"/>
<use href="#cn5a6" x="414.6" y="1192.5"/>
<use href="#cn5a0" x="227.1" y="1192.9"/>
<use href="#cn5a7" x="398.3" y="1193.1"/>
<use href="#cn5a7" x="350.7" y="1194.1"/>
<use href="#cn5b6" x="167.8" y="1194.1"/>
<use href="#cn5a4" x="518.4" y="1194.5"/>
<use href="#cn5a6" x="229.6" y="1194.6"/>
<use href="#cn5a4" x="542.4" y="1195"/>
<use href="#cn5b3" x="566.2" y="1195.1"/>
<use href="#cn5a7" x="211" y="1195.8"/>
<use href="#cn5a0" x="163.7" y="1196.4"/>
<use href="#cn5b7" x="173.1" y="1196.7"/>
<use href="#cn5b6" x="254" y="1196.8"/>
<use href="#cn5a4" x="178.6" y="1197.1"/>
<use href="#cn5b2" x="321" y="1197.1"/>
<use href="#cn5b6" x="402.3" y="1197.9"/>
<use href="#cn5a3" x="104" y="1198.1"/>
<use href="#cn5a2" x="146.3" y="1198.1"/>
<use href="#cn5a6" x="550.9" y="1198.2"/>
<use href="#cn5a3" x="421.7" y="1198.9"/>
<use href="#cn5a0" x="411.5" y="1199.4"/>
<use href="#cn5a0" x="171.7" y="1200.5"/>
<use href="#cn5b6" x="215.1" y="1200.6"/>
<use href="#cn5b5" x="200.8" y="1201.3"/>
<use href="#cn5b7" x="216.4" y="1201.3"/>
<use href="#cn5b3" x="201.4" y="1201.6"/>
<use href="#cn5a7" x="271" y="1202.8"/>
<use href="#cn5b5" x="529.7" y="1202.8"/>
<use href="#cn5b5" x="563.1" y="1203.4"/>
<use href="#cn5a3" x="442.6" y="1203.4"/>
<use href="#cn5a7" x="453.4" y="1203.5"/>
<use href="#cn5a3" x="216.6" y="1203.5"/>
<use href="#cn5b7" x="423.1" y="1203.8"/>
<use href="#cn5b0" x="373.9" y="1204.1"/>
<use href="#cn5a7" x="468.6" y="1204.7"/>
<use href="#cn5b5" x="305.3" y="1204.7"/>
<use href="#cn5a1" x="501.1" y="1204.9"/>
<use href="#cn5a0" x="392" y="1205"/>
<use href="#cn5a1" x="452.9" y="1206.2"/>
<use href="#cn5a1" x="554.2" y="1206.3"/>
<use href="#cn5b3" x="586.3" y="1206.3"/>
<use href="#cn5a3" x="393.3" y="1206.4"/>
<use href="#cn5a2" x="429" y="1208.5"/>
<use href="#cn5b6" x="320.3" y="1209.3"/>
<use href="#cn5b6" x="71.1" y="1211.6"/>
<use href="#cn5a7" x="397.1" y="1212.5"/>
<use href="#cn5b3" x="268.1" y="1212.9"/>
<use href="#cn5b1" x="284.5" y="1213.6"/>
<use href="#cn5b6" x="221.5" y="1213.6"/>
<use href="#cn5b0" x="375.4" y="1213.8"/>
<use href="#cn5a6" x="318.4" y="1214.6"/>
<use href="#cn5b7" x="540.8" y="1215.3"/>
<use href="#cn5a4" x="389.1" y="1215.9"/>
<use href="#cn5a4" x="329.9" y="1216"/>
<use href="#cn5b7" x="242.8" y="1216.1"/>
<use href="#cn5a1" x="373.2" y="1216.1"/>
<use href="#cn5a5" x="215.3" y="1216.7"/>
<use href="#cn5b1" x="189.9" y="1217"/>
<use href="#cn5a1" x="301.7" y="1217.7"/>
<use href="#cn5b0" x="234.2" y="1217.7"/>
<use href="#cn5a1" x="71.9" y="1218.8"/>
<use href="#cn5b4" x="132.5" y="1219.5"/>
<use href="#cn5b4" x="125.7" y="1219.8"/>
<use href="#cn5a7" x="257.3" y="1219.8"/>
<use href="#cn5a7" x="116.2" y="1220.4"/>
<use href="#cn5a2" x="99.5" y="1220.6"/>
<use href="#cn5a4" x="206.9" y="1220.8"/>
<use href="#cn5a7" x="332.7" y="1220.9"/>
<use href="#cn5b0" x="390.7" y="1221.2"/>
<use href="#cn5a7" x="564" y="1221.4"/>
<use href="#cn5a5" x="132.1" y="1221.7"/>
<use href="#cn5a4" x="552.8" y="1222"/>
<use href="#cn5b4" x="254" y="1223.3"/>
<use href="#cn5a0" x="151" y="1223.5"/>
<use href="#cn5a2" x="412.6" y="1223.5"/>
<use href="#cn5b7" x="91" y="1223.5"/>
<use href="#cn5a0" x="199.2" y="1223.5"/>
<use href="#cn5b6" x="287.1" y="1223.8"/>
<use href="#cn5a1" x="428.5" y="1223.8"/>
<use href="#cn5b1" x="293.9" y="1224.4"/>
<use href="#cn5b0" x="202.3" y="1224.7"/>
<use href="#cn5a0" x="396" y="1224.7"/>
<use href="#cn5b5" x="511.9" y="1225.4"/>
<use href="#cn5a6" x="530" y="1226.1"/>
<use href="#cn5a3" x="224.4" y="1226.4"/>
<use href="#cn5b3" x="219.1" y="1227.4"/>
<use href="#cn5a6" x="145.4" y="1228"/>
<use href="#cn5b5" x="232.9" y="1228.1"/>
<use href="#cn5a0" x="360.2" y="1228.5"/>
<use href="#cn5a1" x="101" y="1229.5"/>
<use href="#cn5b0" x="505.7" y="1229.8"/>
<use href="#cn5b2" x="427.6" y="1230"/>
<use href="#cn5b2" x="512.6" y="1230.5"/>
<use href="#cn5b2" x="507.9" y="1230.7"/>
<use href="#cn5a7" x="373.8" y="1231.7"/>
<use href="#cn5a3" x="337.1" y="1232.2"/>
<use href="#cn5a7" x="374.2" y="1233.8"/>
<use href="#cn5b1" x="227.2" y="1233.9"/>
<use href="#cn5a2" x="178" y="1236.2"/>
<use href="#cn5a0" x="437.3" y="1237.1"/>
<use href="#cn5b2" x="436.9" y="1237.2"/>
<use href="#cn5b1" x="293.2" y="1237.3"/>
<use href="#cn5a2" x="271.7" y="1237.4"/>
<use href="#cn5b4" x="249.3" y="1237.8"/>
<use href="#cn5a3" x="141.1" y="1237.9"/>
<use href="#cn5a3" x="379.6" y="1238.4"/>
<use href="#cn5a6" x="400.8" y="1238.5"/>
<use href="#cn5a6" x="433.9" y="1239.2"/>
<use href="#cn5b5" x="477.8" y="1240"/>
<use href="#cn5a3" x="281.3" y="1240.5"/>
<use href="#cn5a0" x="157.2" y="1240.9"/>
<use href="#cn5a3" x="463.3" y="1241.4"/>
<use href="#cn5a1" x="266.1" y="1243.2"/>
<use href="#cn5a2" x="418.3" y="1243.5"/>
<use href="#cn5a3" x="513.5" y="1243.8"/>
<use href="#cn5b6" x="496.7" y="1243.9"/>
<use href="#cn5a4" x="461.2" y="1244"/>
<use href="#cn5a0" x="151.4" y="1244.1"/>
<use href="#cn5b1" x="206.4" y="1245.4"/>
<use href="#cn5a5" x="424.5" y="1246.1"/>
<use href="#cn5a1" x="440.2" y="1247"/>
<use href="#cn5b6" x="365.4" y="1247"/>
<use href="#cn5b0" x="388.9" y="1247"/>
<use href="#cn5a4" x="421.2" y="1248.3"/>
<use href="#cn5b2" x="326.5" y="1248.4"/>
<use href="#cn5a2" x="178" y="1250.1"/>
<use href="#cn5a4" x="131.2" y="1251.9"/>
<use href="#cn5b7" x="308.2" y="1253.7"/>
<use href="#cn5b5" x="144.2" y="1254"/>
<use href="#cn5b5" x="265.9" y="1254"/>
<use href="#cn5a3" x="384.9" y="1254.3"/>
<use href="#cn5a3" x="226.4" y="1255.8"/>
<use href="#cn5a3" x="259.6" y="1255.9"/>
<use href="#cn5b2" x="145.4" y="1256.3"/>
<use href="#cn5b4" x="181.2" y="1257.6"/>
<use href="#cn5b0" x="449.9" y="1258.6"/>
<use href="#cn5b5" x="241.9" y="1259"/>
<use href="#cn5a5" x="508.8" y="1259"/>
<use href="#cn5b2" x="420.1" y="1259.1"/>
<use href="#cn5a4" x="490.9" y="1259.5"/>
<use href="#cn5a2" x="266.2" y="1260"/>
<use href="#cn5a0" x="392.7" y="1260.4"/>
<use href="#cn5a1" x="181.8" y="1260.5"/>
<use href="#cn5a0" x="432.9" y="1260.7"/>
<use href="#cn5b6" x="435.9" y="1261.4"/>
<use href="#cn5a7" x="207.8" y="1261.4"/>
<use href="#cn5b2" x="323.7" y="1261.9"/>
<use href="#cn5a3" x="425.3" y="1262.9"/>
<use href="#cn5b3" x="400.1" y="1264.6"/>
<use href="#cn5b3" x="335.3" y="1264.6"/>
<use href="#cn5a7" x="220.4" y="1264.8"/>
<use href="#cn5a0" x="494.5" y="1264.8"/>
<use href="#cn5b6" x="273.9" y="1265.2"/>
<use href="#cn5b0" x="223" y="1265.5"/>
<use href="#cn5a2" x="170.6" y="1267.1"/>
<use href="#cn5a5" x="493.8" y="1267.7"/>
<use href="#cn5b5" x="216" y="1267.8"/>
<use href="#cn5b2" x="344.8" y="1268.4"/>
<use href="#cn5a4" x="409.6" y="1269.1"/>
<use href="#cn5a0" x="465.6" y="1270"/>
<use href="#cn5a0" x="334.6" y="1270"/>
<use href="#cn5a1" x="438.7" y="1271.3"/>
<use href="#cn5a7" x="204.6" y="1271.6"/>
<use href="#cn5a5" x="374.2" y="1271.7"/>
<use href="#cn5a5" x="320.7" y="1271.9"/>
<use href="#cn5b2" x="490.4" y="1272.7"/>
<use href="#cn5a5" x="435.6" y="1273.1"/>
<use href="#cn5a7" x="348.8" y="1273.1"/>
<use href="#cn5b0" x="410.1" y="1273.9"/>
<use href="#cn5a2" x="200" y="1274.8"/>
<use href="#cn5a6" x="436.8" y="1275.1"/>
<use href="#cn5a7" x="274.9" y="1277.5"/>
<use href="#cn5b5" x="325.3" y="1278.4"/>
<use href="#cn5a2" x="241.8" y="1278.7"/>
<use href="#cn5a3" x="432.3" y="1279.5"/>
<use href="#cn5b3" x="241.8" y="1280.5"/>
<use href="#cn5a7" x="294.1" y="1281.8"/>
<use href="#cn5a0" x="425.6" y="1282.1"/>
<use href="#cn5a0" x="454.2" y="1282.5"/>
<use href="#cn5b1" x="427.6" y="1282.5"/>
<use href="#cn5b4" x="362.5" y="1283.2"/>
<use href="#cn5a7" x="282.2" y="1286.6"/>
<use href="#cn5a1" x="304.8" y="1286.6"/>
<use href="#cn5a5" x="385.7" y="1287.9"/>
<use href="#cn5a4" x="230.9" y="1288"/>
<use href="#cn5b7" x="434.6" y="1288.7"/>
<use href="#cn5a1" x="310.9" y="1288.7"/>
<use href="#cn5a3" x="425.2" y="1289.9"/>
<use href="#cn5b1" x="218.1" y="1290.7"/>
<use href="#cn5a5" x="256.8" y="1291.1"/>
<use href="#cn5b5" x="434.5" y="1291.3"/>
<use href="#cn5b1" x="345.4" y="1291.5"/>
<use href="#cn5a4" x="409.5" y="1291.6"/>
<use href="#cn5b2" x="219.6" y="1292.6"/>
<use href="#cn5b2" x="330.2" y="1292.9"/>
<use href="#cn5a0" x="439.2" y="1293.6"/>
<use href="#cn5b4" x="210.4" y="1294"/>
<use href="#cn5a5" x="348.9" y="1294.4"/>
<use href="#cn5b5" x="299.6" y="1296.1"/>
<use href="#cn5a7" x="291.8" y="1297.1"/>
<use href="#cn5b3" x="383.9" y="1297.6"/>
<use href="#cn5b5" x="321.9" y="1298.3"/>
<use href="#cn5a0" x="222.9" y="1298.8"/>
<use href="#cn5a1" x="324.6" y="1299.9"/>
<use href="#cn5b6" x="365.7" y="1300.6"/>
<use href="#cn5a0" x="313.7" y="1300.6"/>
<use href="#cn5a2" x="431.2" y="1303"/>
<use href="#cn5b6" x="290.5" y="1304.1"/>
<use href="#cn5a2" x="267.4" y="1305"/>
<use href="#cn5b0" x="422.1" y="1305.1"/>
<use href="#cn5a0" x="376.4" y="1305.4"/>
<use href="#cn5b4" x="410.3" y="1306"/>
<use href="#cn5b1" x="391.3" y="1309"/>
<use href="#cn5a6" x="232.7" y="1309.5"/>
<use href="#cn5b6" x="415.4" y="1310.5"/>
<use href="#cn5b4" x="407.3" y="1310.7"/>
<use href="#cn5b1" x="343.8" y="1311.1"/>
<use href="#cn5a7" x="414.1" y="1311.9"/>
<use href="#cn5a3" x="428" y="1313.1"/>
<use href="#cn5a2" x="310.6" y="1313.1"/>
<use href="#cn5a7" x="361.1" y="1315.2"/>
<use href="#cn5a0" x="296.7" y="1316.8"/>
<use href="#cn5a4" x="311.6" y="1318.7"/>
<use href="#cn5b3" x="420.5" y="1319.4"/>
<use href="#cn5a1" x="259.5" y="1323.3"/>
<use href="#cn5b4" x="265.9" y="1323.3"/>
<use href="#cn5a1" x="388.1" y="1323.9"/>
<use href="#cn5a3" x="330.2" y="1323.9"/>
<use href="#cn5a1" x="335.9" y="1326.4"/>
<use href="#cn5b6" x="295.5" y="1326.6"/>
<use href="#cn5a3" x="360.7" y="1327.1"/>
<use href="#cn5b4" x="413.5" y="1327.5"/>
<use href="#cn5a7" x="378.8" y="1330.5"/>
<use href="#cn5b6" x="410.6" y="1332.6"/>
<use href="#cn5a6" x="404.9" y="1333.8"/>
<use href="#cn5a0" x="403.6" y="1334.7"/>
<use href="#cn5b3" x="400.5" y="1335.9"/>
<use href="#cn5a7" x="363.4" y="1337"/>
<use href="#cn5a5" x="325.7" y="1339.7"/>
<use href="#cn5b6" x="341.4" y="1343.4"/>
<use href="#cn5a0" x="357" y="1346.4"/>
<use href="#cn5b5" x="385.8" y="1347"/>
<use href="#cn5a4" x="332.5" y="1351.6"/>
<use href="#cn5a0" x="378.4" y="1355.3"/>
<use href="#cn5b7" x="323.4" y="1357.9"/>
<use href="#cn5b7" x="347.5" y="1361.7"/>
</g>
<g filter="url(#soft)">
<path d="M299.8,1065 C302.6,1038.6 303.4,1015.5 303.9,1003.1 Q304.5,999 306.7,999 L306.7,1065 Z" fill="url(#spkL)"/>
<path d="M313.6,1065 C310.8,1038.6 310,1015.5 309.5,1003.1 Q308.9,999 306.7,999 L306.7,1065 Z" fill="url(#spkR)"/>
<path d="M256.2,1080 C258,1064.8 258.6,1051.5 259,1044.8 Q259.3,1042 260.8,1042 L260.8,1080 Z" fill="url(#spkL2)"/>
<path d="M265.4,1080 C263.6,1064.8 263,1051.5 262.6,1044.8 Q262.3,1042 260.8,1042 L260.8,1080 Z" fill="url(#spkR2)"/>
<path d="M352.5,1090 C355,1066 355.8,1045 356.3,1033.8 Q356.8,1030 358.8,1030 L358.8,1090 Z" fill="url(#spkL)"/>
<path d="M365.1,1090 C362.6,1066 361.8,1045 361.3,1033.8 Q360.8,1030 358.8,1030 L358.8,1090 Z" fill="url(#spkR)"/>
<path d="M297,1094.8 C298.4,1083.1 298.8,1073 299.1,1067.8 Q299.4,1065.7 300.6,1065.7 L300.6,1094.8 Z" fill="url(#spkL2)"/>
<path d="M304.1,1094.8 C302.7,1083.1 302.3,1073 302,1067.8 Q301.7,1065.7 300.6,1065.7 L300.6,1094.8 Z" fill="url(#spkR2)"/>
<path d="M314.1,1095 C316,1085.3 316.6,1076.8 317,1073.6 Q317.4,1070.7 318.9,1070.7 L318.9,1095 Z" fill="url(#spkL2)"/>
<path d="M323.7,1095 C321.8,1085.3 321.2,1076.8 320.8,1073.6 Q320.4,1070.7 318.9,1070.7 L318.9,1095 Z" fill="url(#spkR2)"/>
<path d="M416.8,1099.3 C419.1,1076.4 419.7,1056.3 420.2,1045.5 Q420.7,1042 422.5,1042 L422.5,1099.3 Z" fill="url(#spkL2)"/>
<path d="M428.2,1099.3 C425.9,1076.4 425.3,1056.3 424.8,1045.5 Q424.3,1042 422.5,1042 L422.5,1099.3 Z" fill="url(#spkR2)"/>
<path d="M259.2,1110 C261.6,1091.2 262.2,1074.8 262.7,1066.5 Q263.2,1063 265,1063 L265,1110 Z" fill="url(#spkL2)"/>
<path d="M270.8,1110 C268.4,1091.2 267.8,1074.8 267.3,1066.5 Q266.8,1063 265,1063 L265,1110 Z" fill="url(#spkR2)"/>
<path d="M305.6,1120 C307.7,1097.2 308.3,1077.2 308.7,1066.1 Q309.1,1063 310.8,1063 L310.8,1120 Z" fill="url(#spkL2)"/>
<path d="M316,1120 C313.9,1097.2 313.3,1077.2 312.9,1066.1 Q312.5,1063 310.8,1063 L310.8,1120 Z" fill="url(#spkR2)"/>
<path d="M261.8,1120.3 C263.3,1110.2 263.7,1101.4 264,1097.3 Q264.3,1095.2 265.4,1095.2 L265.4,1120.3 Z" fill="url(#spkL)"/>
<path d="M269,1120.3 C267.6,1110.2 267.2,1101.4 266.9,1097.3 Q266.6,1095.2 265.4,1095.2 L265.4,1120.3 Z" fill="url(#spkR)"/>
<path d="M320.2,1125 C322.3,1103.8 322.9,1085.2 323.3,1075.1 Q323.7,1072 325.4,1072 L325.4,1125 Z" fill="url(#spkL2)"/>
<path d="M330.6,1125 C328.5,1103.8 327.9,1085.2 327.5,1075.1 Q327.1,1072 325.4,1072 L325.4,1125 Z" fill="url(#spkR2)"/>
<path d="M358,1125.5 C359.9,1109.5 360.5,1095.5 360.9,1088.4 Q361.3,1085.5 362.8,1085.5 L362.8,1125.5 Z" fill="url(#spkL)"/>
<path d="M367.6,1125.5 C365.7,1109.5 365.1,1095.5 364.7,1088.4 Q364.3,1085.5 362.8,1085.5 L362.8,1125.5 Z" fill="url(#spkR)"/>
<path d="M270,1130 C272,1119.4 272.5,1110 272.9,1106.3 Q273.3,1103.4 274.8,1103.4 L274.8,1130 Z" fill="url(#spkL2)"/>
<path d="M279.6,1130 C277.7,1119.4 277.2,1110 276.8,1106.3 Q276.4,1103.4 274.8,1103.4 L274.8,1130 Z" fill="url(#spkR2)"/>
<path d="M345.4,1135.3 C347.4,1125.8 348,1117.5 348.4,1114.5 Q348.8,1111.6 350.3,1111.6 L350.3,1135.3 Z" fill="url(#spkL2)"/>
<path d="M355.2,1135.3 C353.2,1125.8 352.7,1117.5 352.3,1114.5 Q351.9,1111.6 350.3,1111.6 L350.3,1135.3 Z" fill="url(#spkR2)"/>
<path d="M180.1,1138 C182.4,1112.4 183,1090 183.5,1077.5 Q184,1074 185.8,1074 L185.8,1138 Z" fill="url(#spkL)"/>
<path d="M191.6,1138 C189.2,1112.4 188.6,1090 188.1,1077.5 Q187.6,1074 185.8,1074 L185.8,1138 Z" fill="url(#spkR)"/>
<path d="M158.9,1140 C160.5,1116 161,1095 161.3,1082.4 Q161.6,1080 162.9,1080 L162.9,1140 Z" fill="url(#spkL2)"/>
<path d="M166.9,1140 C165.3,1116 164.8,1095 164.5,1082.4 Q164.2,1080 162.9,1080 L162.9,1140 Z" fill="url(#spkR2)"/>
<path d="M201.8,1144.2 C203.8,1133.6 204.5,1124.3 204.9,1120.7 Q205.3,1117.6 206.9,1117.6 L206.9,1144.2 Z" fill="url(#spkL2)"/>
<path d="M212.1,1144.2 C210,1133.6 209.4,1124.3 209,1120.7 Q208.6,1117.6 206.9,1117.6 L206.9,1144.2 Z" fill="url(#spkR2)"/>
<path d="M378.9,1145 C380.9,1135.3 381.5,1126.9 381.9,1123.9 Q382.3,1120.9 383.8,1120.9 L383.8,1145 Z" fill="url(#spkL)"/>
<path d="M388.8,1145 C386.8,1135.3 386.2,1126.9 385.8,1123.9 Q385.4,1120.9 383.8,1120.9 L383.8,1145 Z" fill="url(#spkR)"/>
<path d="M445.2,1145 C447.3,1125.8 447.9,1109 448.3,1100.1 Q448.7,1097 450.4,1097 L450.4,1145 Z" fill="url(#spkL2)"/>
<path d="M455.6,1145 C453.5,1125.8 452.9,1109 452.5,1100.1 Q452.1,1097 450.4,1097 L450.4,1145 Z" fill="url(#spkR2)"/>
<path d="M229.3,1146.8 C231.2,1135.3 231.8,1125.3 232.1,1121 Q232.5,1118.1 234.1,1118.1 L234.1,1146.8 Z" fill="url(#spkL2)"/>
<path d="M238.8,1146.8 C236.9,1135.3 236.4,1125.3 236,1121 Q235.6,1118.1 234.1,1118.1 L234.1,1146.8 Z" fill="url(#spkR2)"/>
<path d="M144.6,1151.8 C146.4,1127.1 147,1105.5 147.4,1092.8 Q147.7,1090 149.2,1090 L149.2,1151.8 Z" fill="url(#spkL2)"/>
<path d="M153.8,1151.8 C152,1127.1 151.4,1105.5 151,1092.8 Q150.7,1090 149.2,1090 L149.2,1151.8 Z" fill="url(#spkR2)"/>
<path d="M354.2,1150 C356.6,1128.4 357.2,1109.5 357.7,1099.5 Q358.2,1096 360,1096 L360,1150 Z" fill="url(#spkL2)"/>
<path d="M365.8,1150 C363.4,1128.4 362.8,1109.5 362.3,1099.5 Q361.8,1096 360,1096 L360,1150 Z" fill="url(#spkR2)"/>
<path d="M515.5,1151.9 C517.8,1130 518.5,1110.7 519,1100.5 Q519.5,1097 521.3,1097 L521.3,1151.9 Z" fill="url(#spkL2)"/>
<path d="M527,1151.9 C524.8,1130 524.1,1110.7 523.6,1100.5 Q523.1,1097 521.3,1097 L521.3,1151.9 Z" fill="url(#spkR2)"/>
<path d="M440.2,1154.1 C442,1141.5 442.6,1130.5 442.9,1125.4 Q443.3,1122.7 444.8,1122.7 L444.8,1154.1 Z" fill="url(#spkL2)"/>
<path d="M449.4,1154.1 C447.6,1141.5 447,1130.5 446.6,1125.4 Q446.3,1122.7 444.8,1122.7 L444.8,1154.1 Z" fill="url(#spkR2)"/>
<path d="M397.7,1158.5 C399.2,1143.3 399.6,1129.9 399.9,1122.7 Q400.2,1120.4 401.4,1120.4 L401.4,1158.5 Z" fill="url(#spkL2)"/>
<path d="M405.2,1158.5 C403.7,1143.3 403.3,1129.9 403,1122.7 Q402.7,1120.4 401.4,1120.4 L401.4,1158.5 Z" fill="url(#spkR2)"/>
<path d="M237.1,1168 C240.8,1138.4 241.9,1112.5 242.6,1099.5 Q243.4,1094 246.3,1094 L246.3,1168 Z" fill="url(#spkL)"/>
<path d="M255.5,1168 C251.8,1138.4 250.7,1112.5 250,1099.5 Q249.2,1094 246.3,1094 L246.3,1168 Z" fill="url(#spkR)"/>
<path d="M265.4,1170 C267.2,1154 267.8,1140 268.2,1132.8 Q268.5,1130 270,1130 L270,1170 Z" fill="url(#spkL2)"/>
<path d="M274.6,1170 C272.8,1154 272.2,1140 271.8,1132.8 Q271.5,1130 270,1130 L270,1170 Z" fill="url(#spkR2)"/>
<path d="M397,1176.9 C398.6,1162.9 399,1150.7 399.4,1144.3 Q399.7,1142 401,1142 L401,1176.9 Z" fill="url(#spkL2)"/>
<path d="M404.9,1176.9 C403.3,1162.9 402.9,1150.7 402.5,1144.3 Q402.2,1142 401,1142 L401,1176.9 Z" fill="url(#spkR2)"/>
<path d="M170.2,1180 C172.3,1161.6 172.9,1145.5 173.3,1137.1 Q173.7,1134 175.4,1134 L175.4,1180 Z" fill="url(#spkL2)"/>
<path d="M180.6,1180 C178.5,1161.6 177.9,1145.5 177.5,1137.1 Q177.1,1134 175.4,1134 L175.4,1180 Z" fill="url(#spkR2)"/>
<path d="M111.9,1185 C114,1164.6 114.6,1146.8 115,1137.1 Q115.4,1134 117.1,1134 L117.1,1185 Z" fill="url(#spkL2)"/>
<path d="M122.3,1185 C120.2,1164.6 119.6,1146.8 119.2,1137.1 Q118.8,1134 117.1,1134 L117.1,1185 Z" fill="url(#spkR2)"/>
<path d="M541.5,1186.4 C542.9,1172.6 543.3,1160.5 543.6,1154 Q543.9,1151.9 545,1151.9 L545,1186.4 Z" fill="url(#spkL2)"/>
<path d="M548.6,1186.4 C547.2,1172.6 546.7,1160.5 546.5,1154 Q546.2,1151.9 545,1151.9 L545,1186.4 Z" fill="url(#spkR2)"/>
<path d="M469.4,1195 C472.7,1168.2 473.6,1144.8 474.3,1132.8 Q474.9,1128 477.5,1128 L477.5,1195 Z" fill="url(#spkL)"/>
<path d="M485.6,1195 C482.3,1168.2 481.4,1144.8 480.7,1132.8 Q480.1,1128 477.5,1128 L477.5,1195 Z" fill="url(#spkR)"/>
<path d="M587.5,1195 C589.3,1175.8 589.9,1159 590.3,1149.8 Q590.6,1147 592.1,1147 L592.1,1195 Z" fill="url(#spkL2)"/>
<path d="M596.7,1195 C594.9,1175.8 594.3,1159 593.9,1149.8 Q593.6,1147 592.1,1147 L592.1,1195 Z" fill="url(#spkR2)"/>
<path d="M125.3,1195.8 C126.8,1179.4 127.3,1165 127.6,1157.1 Q127.9,1154.8 129.2,1154.8 L129.2,1195.8 Z" fill="url(#spkL2)"/>
<path d="M133,1195.8 C131.5,1179.4 131,1165 130.7,1157.1 Q130.4,1154.8 129.2,1154.8 L129.2,1195.8 Z" fill="url(#spkR2)"/>
<path d="M324.8,1200 C327.6,1175.2 328.4,1153.5 328.9,1142.1 Q329.5,1138 331.7,1138 L331.7,1200 Z" fill="url(#spkL2)"/>
<path d="M338.6,1200 C335.8,1175.2 335,1153.5 334.5,1142.1 Q333.9,1138 331.7,1138 L331.7,1200 Z" fill="url(#spkR2)"/>
<path d="M225.4,1200 C227.2,1184 227.8,1170 228.2,1162.8 Q228.5,1160 230,1160 L230,1200 Z" fill="url(#spkL2)"/>
<path d="M234.6,1200 C232.8,1184 232.2,1170 231.8,1162.8 Q231.5,1160 230,1160 L230,1200 Z" fill="url(#spkR2)"/>
<path d="M529.8,1200.4 C531.6,1186 532.1,1173.4 532.5,1167 Q532.8,1164.4 534.2,1164.4 L534.2,1200.4 Z" fill="url(#spkL2)"/>
<path d="M538.7,1200.4 C536.9,1186 536.4,1173.4 536,1167 Q535.7,1164.4 534.2,1164.4 L534.2,1200.4 Z" fill="url(#spkR2)"/>
<path d="M331.2,1204.8 C333.2,1193.7 333.8,1184.1 334.2,1180.1 Q334.6,1177.1 336.2,1177.1 L336.2,1204.8 Z" fill="url(#spkL2)"/>
<path d="M341.1,1204.8 C339.2,1193.7 338.6,1184.1 338.2,1180.1 Q337.8,1177.1 336.2,1177.1 L336.2,1204.8 Z" fill="url(#spkR2)"/>
<path d="M367.3,1205 C370.6,1181.4 371.5,1160.8 372.2,1150.8 Q372.8,1146 375.4,1146 L375.4,1205 Z" fill="url(#spkL)"/>
<path d="M383.4,1205 C380.2,1181.4 379.3,1160.8 378.6,1150.8 Q378,1146 375.4,1146 L375.4,1205 Z" fill="url(#spkR)"/>
<path d="M448.6,1207.3 C450.7,1196.4 451.3,1186.8 451.7,1183.1 Q452.1,1180 453.7,1180 L453.7,1207.3 Z" fill="url(#spkL2)"/>
<path d="M458.8,1207.3 C456.8,1196.4 456.1,1186.8 455.7,1183.1 Q455.3,1180 453.7,1180 L453.7,1207.3 Z" fill="url(#spkR2)"/>
<path d="M551,1210 C553.2,1188 553.9,1168.8 554.4,1158.5 Q554.9,1155 556.7,1155 L556.7,1210 Z" fill="url(#spkL)"/>
<path d="M562.5,1210 C560.2,1188 559.5,1168.8 559,1158.5 Q558.5,1155 556.7,1155 L556.7,1210 Z" fill="url(#spkR)"/>
<path d="M295.2,1210 C297.3,1189.6 297.9,1171.8 298.3,1162.1 Q298.7,1159 300.4,1159 L300.4,1210 Z" fill="url(#spkL2)"/>
<path d="M305.6,1210 C303.5,1189.6 302.9,1171.8 302.5,1162.1 Q302.1,1159 300.4,1159 L300.4,1210 Z" fill="url(#spkR2)"/>
<path d="M312.9,1212.9 C314.8,1199 315.4,1186.9 315.7,1181.1 Q316.1,1178.2 317.6,1178.2 L317.6,1212.9 Z" fill="url(#spkL2)"/>
<path d="M322.4,1212.9 C320.5,1199 319.9,1186.9 319.6,1181.1 Q319.2,1178.2 317.6,1178.2 L317.6,1212.9 Z" fill="url(#spkR2)"/>
<path d="M79.2,1215 C81.5,1192.6 82.2,1173 82.7,1162.5 Q83.2,1159 85,1159 L85,1215 Z" fill="url(#spkL)"/>
<path d="M90.8,1215 C88.5,1192.6 87.8,1173 87.3,1162.5 Q86.8,1159 85,1159 L85,1215 Z" fill="url(#spkR)"/>
<path d="M438.1,1218.3 C440.2,1209.6 440.8,1201.9 441.2,1199.4 Q441.6,1196.4 443.2,1196.4 L443.2,1218.3 Z" fill="url(#spkL2)"/>
<path d="M448.3,1218.3 C446.3,1209.6 445.7,1201.9 445.3,1199.4 Q444.9,1196.4 443.2,1196.4 L443.2,1218.3 Z" fill="url(#spkR2)"/>
<path d="M335.9,1220.1 C337.4,1207 337.8,1195.6 338.1,1189.6 Q338.4,1187.4 339.6,1187.4 L339.6,1220.1 Z" fill="url(#spkL2)"/>
<path d="M343.3,1220.1 C341.8,1207 341.4,1195.6 341.1,1189.6 Q340.8,1187.4 339.6,1187.4 L339.6,1220.1 Z" fill="url(#spkR2)"/>
<path d="M389.6,1225 C391.9,1201.8 392.6,1181.5 393.1,1170.5 Q393.6,1167 395.4,1167 L395.4,1225 Z" fill="url(#spkL2)"/>
<path d="M401.1,1225 C398.8,1201.8 398.2,1181.5 397.7,1170.5 Q397.2,1167 395.4,1167 L395.4,1225 Z" fill="url(#spkR2)"/>
<path d="M520.2,1230 C522.3,1210 522.9,1192.5 523.3,1183.1 Q523.7,1180 525.4,1180 L525.4,1230 Z" fill="url(#spkL2)"/>
<path d="M530.6,1230 C528.5,1210 527.9,1192.5 527.5,1183.1 Q527.1,1180 525.4,1180 L525.4,1230 Z" fill="url(#spkR2)"/>
<path d="M139,1230 C141.1,1211.6 141.7,1195.5 142.1,1187.1 Q142.5,1184 144.2,1184 L144.2,1230 Z" fill="url(#spkL2)"/>
<path d="M149.4,1230 C147.3,1211.6 146.7,1195.5 146.3,1187.1 Q145.9,1184 144.2,1184 L144.2,1230 Z" fill="url(#spkR2)"/>
<path d="M115.4,1230 C117.2,1218 117.8,1207.5 118.2,1202.8 Q118.5,1200 120,1200 L120,1230 Z" fill="url(#spkL2)"/>
<path d="M124.6,1230 C122.8,1218 122.2,1207.5 121.8,1202.8 Q121.5,1200 120,1200 L120,1230 Z" fill="url(#spkR2)"/>
<path d="M499.6,1230 C501.2,1217.7 501.6,1207 501.9,1201.6 Q502.2,1199.3 503.5,1199.3 L503.5,1230 Z" fill="url(#spkL2)"/>
<path d="M507.3,1230 C505.8,1217.7 505.3,1207 505,1201.6 Q504.7,1199.3 503.5,1199.3 L503.5,1230 Z" fill="url(#spkR2)"/>
<path d="M152.6,1233.8 C154.3,1221.2 154.8,1210.2 155.2,1204.9 Q155.5,1202.3 156.8,1202.3 L156.8,1233.8 Z" fill="url(#spkL2)"/>
<path d="M161,1233.8 C159.4,1221.2 158.9,1210.2 158.5,1204.9 Q158.2,1202.3 156.8,1202.3 L156.8,1233.8 Z" fill="url(#spkR2)"/>
<path d="M122.5,1235.6 C124.5,1227.5 125.1,1220.5 125.4,1218.4 Q125.8,1215.4 127.4,1215.4 L127.4,1235.6 Z" fill="url(#spkL2)"/>
<path d="M132.4,1235.6 C130.4,1227.5 129.8,1220.5 129.4,1218.4 Q129,1215.4 127.4,1215.4 L127.4,1235.6 Z" fill="url(#spkR2)"/>
<path d="M513.8,1237 C515.7,1225.2 516.3,1214.9 516.7,1210.4 Q517.1,1207.5 518.6,1207.5 L518.6,1237 Z" fill="url(#spkL2)"/>
<path d="M523.3,1237 C521.4,1225.2 520.8,1214.9 520.5,1210.4 Q520.1,1207.5 518.6,1207.5 L518.6,1237 Z" fill="url(#spkR2)"/>
<path d="M263,1237.8 C264.8,1228.8 265.3,1220.9 265.7,1217.9 Q266,1215.2 267.5,1215.2 L267.5,1237.8 Z" fill="url(#spkL2)"/>
<path d="M271.9,1237.8 C270.1,1228.8 269.6,1220.9 269.2,1217.9 Q268.9,1215.2 267.5,1215.2 L267.5,1237.8 Z" fill="url(#spkR2)"/>
<path d="M202.8,1238 C206,1211.6 206.9,1188.5 207.6,1176.8 Q208.2,1172 210.8,1172 L210.8,1238 Z" fill="url(#spkL)"/>
<path d="M218.9,1238 C215.6,1211.6 214.7,1188.5 214,1176.8 Q213.4,1172 210.8,1172 L210.8,1238 Z" fill="url(#spkR)"/>
<path d="M330.1,1240 C332.4,1216 333,1195 333.5,1183.5 Q334,1180 335.8,1180 L335.8,1240 Z" fill="url(#spkL2)"/>
<path d="M341.6,1240 C339.2,1216 338.6,1195 338.1,1183.5 Q337.6,1180 335.8,1180 L335.8,1240 Z" fill="url(#spkR2)"/>
<path d="M195.4,1240 C197.2,1224 197.8,1210 198.2,1202.8 Q198.5,1200 200,1200 L200,1240 Z" fill="url(#spkL2)"/>
<path d="M204.6,1240 C202.8,1224 202.2,1210 201.8,1202.8 Q201.5,1200 200,1200 L200,1240 Z" fill="url(#spkR2)"/>
<path d="M390.9,1247.6 C392.2,1233.2 392.7,1220.5 392.9,1213.6 Q393.2,1211.5 394.3,1211.5 L394.3,1247.6 Z" fill="url(#spkL2)"/>
<path d="M397.8,1247.6 C396.4,1233.2 396,1220.5 395.7,1213.6 Q395.5,1211.5 394.3,1211.5 L394.3,1247.6 Z" fill="url(#spkR2)"/>
<path d="M411.4,1250 C413.7,1228.4 414.3,1209.5 414.8,1199.5 Q415.3,1196 417.1,1196 L417.1,1250 Z" fill="url(#spkL2)"/>
<path d="M422.9,1250 C420.6,1228.4 419.9,1209.5 419.4,1199.5 Q418.9,1196 417.1,1196 L417.1,1250 Z" fill="url(#spkR2)"/>
<path d="M495.4,1250 C497.2,1234 497.8,1220 498.2,1212.8 Q498.5,1210 500,1210 L500,1250 Z" fill="url(#spkL2)"/>
<path d="M504.6,1250 C502.8,1234 502.2,1220 501.8,1212.8 Q501.5,1210 500,1210 L500,1250 Z" fill="url(#spkR2)"/>
<path d="M417.4,1257.2 C419.5,1249.8 420.1,1243.2 420.5,1241.6 Q420.9,1238.6 422.5,1238.6 L422.5,1257.2 Z" fill="url(#spkL2)"/>
<path d="M427.7,1257.2 C425.6,1249.8 425,1243.2 424.6,1241.6 Q424.2,1238.6 422.5,1238.6 L422.5,1257.2 Z" fill="url(#spkR2)"/>
<path d="M282.9,1268 C286.6,1239.2 287.7,1214 288.4,1201.5 Q289.2,1196 292.1,1196 L292.1,1268 Z" fill="url(#spkL)"/>
<path d="M301.3,1268 C297.6,1239.2 296.5,1214 295.8,1201.5 Q295,1196 292.1,1196 L292.1,1268 Z" fill="url(#spkR)"/>
<path d="M435.4,1280 C437.2,1264 437.8,1250 438.2,1242.8 Q438.5,1240 440,1240 L440,1280 Z" fill="url(#spkL2)"/>
<path d="M444.6,1280 C442.8,1264 442.2,1250 441.8,1242.8 Q441.5,1240 440,1240 L440,1280 Z" fill="url(#spkR2)"/>
<path d="M361.9,1285 C364,1263 364.6,1243.8 365,1233.1 Q365.4,1230 367.1,1230 L367.1,1285 Z" fill="url(#spkL2)"/>
<path d="M372.3,1285 C370.2,1263 369.6,1243.8 369.2,1233.1 Q368.8,1230 367.1,1230 L367.1,1285 Z" fill="url(#spkR2)"/>
<path d="M280.1,1290 C282.4,1268.4 283,1249.5 283.5,1239.5 Q284,1236 285.8,1236 L285.8,1290 Z" fill="url(#spkL)"/>
<path d="M291.6,1290 C289.2,1268.4 288.6,1249.5 288.1,1239.5 Q287.6,1236 285.8,1236 L285.8,1290 Z" fill="url(#spkR)"/>
<path d="M384.8,1290 C386.9,1270 387.5,1252.5 387.9,1243.1 Q388.3,1240 390,1240 L390,1290 Z" fill="url(#spkL2)"/>
<path d="M395.2,1290 C393.1,1270 392.5,1252.5 392.1,1243.1 Q391.7,1240 390,1240 L390,1290 Z" fill="url(#spkR2)"/>
<path d="M362.9,1293.2 C364.7,1285 365.3,1277.8 365.6,1275.4 Q366,1272.7 367.5,1272.7 L367.5,1293.2 Z" fill="url(#spkL2)"/>
<path d="M372,1293.2 C370.2,1285 369.6,1277.8 369.3,1275.4 Q368.9,1272.7 367.5,1272.7 L367.5,1293.2 Z" fill="url(#spkR2)"/>
<path d="M425.4,1295.2 C427.2,1281.1 427.8,1268.8 428.1,1262.8 Q428.5,1260.1 429.9,1260.1 L429.9,1295.2 Z" fill="url(#spkL2)"/>
<path d="M434.4,1295.2 C432.6,1281.1 432.1,1268.8 431.7,1262.8 Q431.4,1260.1 429.9,1260.1 L429.9,1295.2 Z" fill="url(#spkR2)"/>
<path d="M226.5,1300 C228.6,1282 229.2,1266.2 229.6,1258.1 Q230,1255 231.7,1255 L231.7,1300 Z" fill="url(#spkL2)"/>
<path d="M236.9,1300 C234.8,1282 234.2,1266.2 233.8,1258.1 Q233.4,1255 231.7,1255 L231.7,1300 Z" fill="url(#spkR2)"/>
<path d="M307.4,1313.9 C308.9,1301.6 309.3,1290.8 309.6,1285.4 Q310,1283.1 311.2,1283.1 L311.2,1313.9 Z" fill="url(#spkL2)"/>
<path d="M315,1313.9 C313.5,1301.6 313,1290.8 312.7,1285.4 Q312.4,1283.1 311.2,1283.1 L311.2,1313.9 Z" fill="url(#spkR2)"/>
<path d="M276.7,1316.3 C278.6,1303.4 279.1,1292.2 279.5,1286.9 Q279.8,1284.2 281.3,1284.2 L281.3,1316.3 Z" fill="url(#spkL)"/>
<path d="M285.8,1316.3 C284,1303.4 283.5,1292.2 283.1,1286.9 Q282.7,1284.2 281.3,1284.2 L281.3,1316.3 Z" fill="url(#spkR)"/>
<path d="M320.1,1324.2 C322,1307.6 322.5,1293 322.9,1285.5 Q323.3,1282.6 324.8,1282.6 L324.8,1324.2 Z" fill="url(#spkL2)"/>
<path d="M329.5,1324.2 C327.6,1307.6 327.1,1293 326.7,1285.5 Q326.3,1282.6 324.8,1282.6 L324.8,1324.2 Z" fill="url(#spkR2)"/>
<path d="M355.7,1330.5 C357.7,1322.8 358.3,1316 358.7,1314.1 Q359.1,1311.2 360.6,1311.2 L360.6,1330.5 Z" fill="url(#spkL)"/>
<path d="M365.5,1330.5 C363.6,1322.8 363,1316 362.6,1314.1 Q362.2,1311.2 360.6,1311.2 L360.6,1330.5 Z" fill="url(#spkR)"/>
<path d="M345.8,1334.2 C347.4,1325.9 347.9,1318.6 348.2,1315.9 Q348.6,1313.4 349.9,1313.4 L349.9,1334.2 Z" fill="url(#spkL2)"/>
<path d="M354,1334.2 C352.4,1325.9 351.9,1318.6 351.5,1315.9 Q351.2,1313.4 349.9,1313.4 L349.9,1334.2 Z" fill="url(#spkR2)"/>
<path d="M311.9,1335 C314,1315.4 314.6,1298.2 315,1289.1 Q315.4,1286 317.1,1286 L317.1,1335 Z" fill="url(#spkL2)"/>
<path d="M322.3,1335 C320.2,1315.4 319.6,1298.2 319.2,1289.1 Q318.8,1286 317.1,1286 L317.1,1335 Z" fill="url(#spkR2)"/>
<path d="M383.3,1335 C385.1,1316.2 385.7,1299.8 386.1,1290.8 Q386.4,1288 387.9,1288 L387.9,1335 Z" fill="url(#spkL2)"/>
<path d="M392.5,1335 C390.7,1316.2 390.1,1299.8 389.7,1290.8 Q389.4,1288 387.9,1288 L387.9,1335 Z" fill="url(#spkR2)"/>
</g>
<polygon points="710.9,1205.4 712.4,1199.9 713.8,1201.2 715.3,1198.3 716.8,1199.2 718.2,1198 719.7,1193.6 721.2,1194.8 722.6,1192.5 724.1,1191.7 725.5,1190.7 727,1189.4 728.5,1189.4 729.9,1185.9 731.4,1187.1 732.9,1186 734.3,1185.8 735.8,1185.1 737.7,1179.7 739.5,1180.1 741.4,1180.6 743.2,1179.4 745.1,1175.2 747,1177.1 748.8,1174.5 750.7,1174.1 752.5,1172 754.4,1172 756.2,1169.7 758.1,1169.1 760,1167.6 761.8,1165.3 763.7,1165.2 765.5,1166.3 767.4,1167 769.3,1162.4 771.1,1162.6 773,1158.5 774.8,1157.9 776.7,1156.2 778.6,1154.1 780.4,1155 782.3,1154.1 784.1,1150.7 786,1151.8 787.8,1148.6 789.7,1149.5 791.6,1146.4 793.4,1144.4 795.3,1141.9 797.1,1140.6 799,1144.4 800.9,1141.9 802.7,1138.7 804.6,1136.7 806.4,1136.9 808.3,1132.3 810.2,1131.5 812,1129.3 813.9,1129.6 815.7,1128.4 817.6,1128 819.4,1125.3 821.3,1123.7 823.2,1121.5 825,1119.9 826.9,1116.4 828.7,1114 830.6,1117.4 832.5,1114.9 834.3,1111.6 836.2,1108.4 838,1109.7 839.9,1106.8 841.8,1107 843.6,1107.3 845.5,1103.3 847.3,1103 849.2,1102.7 851,1100.5 852.9,1099.8 854.8,1097.9 856.6,1096.2 858.5,1094.9 860.3,1092.9 862.2,1094.8 863.8,1093.3 865.4,1092.1 867,1089.2 868.6,1088.3 870.1,1085.4 871.7,1085.1 873.3,1083.4 874.9,1081 876.5,1083.4 878.1,1083.5 879.7,1082.3 881.3,1080.2 882.8,1078 884.4,1075.9 886,1076.1 887.6,1072.9 889.2,1076.7 890.5,1073.4 891.9,1069.8 893.2,1071.3 894.5,1066.9 895.8,1065.5 897.2,1063.2 898.5,1063.3 899.8,1064.1 901.2,1060.1 902.5,1060.2 903.8,1060.8 905.2,1057.9 906.5,1056.5 907.8,1055.3 909.1,1055.3 910.5,1054.6 911.8,1054.2 913.4,1052.3 915,1050.4 916.6,1048.1 918.2,1046.9 919.8,1047 921.4,1046.8 923,1046.3 924.6,1046.2 926.1,1045.7 927.7,1043.9 929.3,1044.3 930.9,1041.2 932.5,1039.8 934.1,1039.2 935.7,1041 937.3,1039.5 938.9,1040.6 940.5,1036 942.1,1035.4 943.7,1036 945.3,1035 946.9,1036.6 948.5,1036.7 950.1,1035.2 951.7,1033.5 953.2,1033.2 954.8,1035.5 956.4,1033.3 958,1031.2 959.6,1030.9 961.2,1029.8 962.8,1029 964.4,1031.6 966,1033.9 967.6,1029.8 969.2,1032.2 970.8,1031 972.4,1031.5 974,1033.5 975.6,1034.1 977.2,1033.4 978.8,1034.3 980.3,1037.1 981.9,1036.1 983.5,1039 985.1,1039.6 986.7,1037.8 988.3,1038.2 989.9,1041 991.5,1042.4 993.1,1045.1 994.7,1042.5 996.3,1042.6 997.9,1044.5 999.5,1045.6 1001,1047.8 1002.6,1050.4 1004.2,1051.8 1005.8,1052.9 1007.4,1054 1009,1054 1010.6,1057.3 1012.2,1060 1013.7,1059 1015.3,1061.6 1016.9,1062.6 1018.5,1065.2 1020.1,1067.7 1022.2,1067.2 1024.4,1066 1026.5,1067.6 1028.6,1069.8 1030.7,1068.6 1032.9,1071 1035,1072.7 1037.1,1071.4 1039.3,1072.5 1041.4,1073.8 1043.5,1077 1045.7,1076.3 1047.8,1077.8 1049.9,1078 1052,1080.7 1054.2,1080.6 1056.3,1085.8 1058.4,1083.6 1060.5,1083.7 1062.7,1083.5 1064.8,1084.5 1066.9,1086.1 1069,1090.1 1071.2,1090 1073.3,1090.4 1075.4,1093.8 1077.5,1094 1079.7,1093.1 1081.8,1093.4 1083.9,1094.1 1086,1098.6 1088.2,1098.5 1090.3,1098.2 1092.4,1103.8 1094.5,1104.3 1096.6,1101.9 1098.8,1102.2 1100.9,1103.9 1103,1106.3 1105.1,1105.9 1107.3,1106.5 1109.4,1107.9 1111.5,1109.5 1113.6,1111.9 1115.8,1113.5 1117.9,1114.5 1120,1115.6 1122.1,1115.9 1124.3,1118.5 1126.4,1117.4 1128.5,1121.9 1130.6,1121.7 1132.7,1122 1134.9,1122.7 1137,1122.1 1139.1,1125.6 1141.2,1126.8 1143.4,1127.7 1145.5,1129.1 1147.6,1127.9 1149.7,1131 1151.9,1132.9 1154,1132.1 1156.1,1131.8 1158.2,1132.1 1160.4,1134 1162.5,1136.3 1164.6,1139.9 1166.2,1137.8 1167.8,1138.3 1169.4,1137.4 1171,1137.4 1172.6,1138.3 1174.2,1142.5 1175.8,1143.5 1177.4,1144 1178.9,1145.7 1180.5,1144.3 1182.1,1147.4 1183.7,1145.4 1185.3,1146.6 1186.9,1147.4 1188.5,1149.1 1190.1,1147.9 1191.7,1153.5 1193.6,1149.3 1195.4,1150.7 1197.3,1150.4 1199.1,1153 1201,1154.8 1202.9,1153.9 1204.7,1155.5 1206.6,1157.5 1208.4,1157.1 1210.3,1158.4 1212.1,1160.8 1214,1159.1 1215.9,1160.5 1217.7,1159.6 1219.6,1161.7 1221.4,1161.1 1223.3,1167 1224.9,1165.4 1226.5,1164.9 1228.1,1165.1 1229.7,1166.6 1231.3,1169.9 1232.9,1170.4 1234.5,1172.7 1236.1,1172.6 1237.6,1170.9 1239.2,1173.5 1240.8,1173.4 1242.4,1174.4 1244,1177.4 1245.6,1176.6 1247.2,1179.6 1248.8,1180.7 1250.4,1182.8 1250.4,1193.5 1250.5,1189.2 1250.5,1189.1 1250.5,1192 1250.6,1186.3 1250.6,1191.3 1250.6,1190.1 1250.7,1189.9 1250.7,1191 1250.8,1191.8 1250.8,1192.9 1250.8,1195.5 1250.9,1192 1250.9,1188.5 1250.9,1189.3 1251,1191.9 1251,1188.9 1249.9,1189.4 1248.9,1191.6 1247.8,1195.5 1246.7,1192.1 1245.7,1193.2 1244.6,1193.4 1243.5,1194.3 1242.5,1198.2 1241.4,1198.9 1240.4,1198.2 1239.3,1193.6 1238.2,1194.7 1237.2,1197 1236.1,1197.4 1235,1202.3 1234,1199.2 1232.9,1197.5 1232.5,1205.7 1232.1,1203.1 1231.6,1200.3 1231.2,1202 1230.8,1201.2 1230.4,1204.3 1229.9,1206.4 1229.5,1204.8 1229.1,1205.3 1228.7,1204.5 1228.2,1204.3 1227.8,1208.5 1227.4,1205 1227,1207.2 1226.5,1206 1226.1,1206.4 1225.7,1205 1225.2,1206.8 1224.6,1209.5 1224.1,1207.8 1223.6,1207.6 1223.1,1208.9 1222.5,1208.7 1222,1212 1221.5,1213.5 1220.9,1210.8 1220.4,1213.7 1219.9,1214.6 1219.3,1214 1218.8,1212 1218.3,1214.2 1217.8,1214.3 1217.2,1219.5 1216.7,1211.7 1216,1217.5 1215.2,1221.5 1214.5,1219.7 1213.7,1221.1 1213,1220.5 1212.2,1216.7 1211.5,1223.1 1210.7,1220.7 1210,1224.5 1209.2,1225.7 1208.5,1225.8 1207.7,1224.7 1207,1225.7 1206.2,1222.2 1205.5,1225.2 1204.7,1225.2 1204,1225 1202.9,1227.8 1201.9,1232.2 1200.8,1227.2 1199.8,1226.7 1198.7,1225.3 1197.6,1228 1196.6,1230.4 1195.5,1235.1 1194.5,1228.3 1193.4,1234.4 1192.4,1232.5 1191.3,1233.6 1190.2,1231.5 1189.2,1232.3 1188.1,1231.9 1187.1,1229.8 1186,1231.5 1185.7,1236.2 1185.4,1234.4 1185,1234.5 1184.7,1237 1184.4,1239.6 1184.1,1239 1183.8,1241.3 1183.5,1237.9 1183.1,1241.3 1182.8,1242.6 1182.5,1238.9 1182.2,1241.9 1181.9,1246 1181.6,1249.3 1181.2,1245.7 1180.9,1249.3 1180.6,1242.4 1179.5,1247.3 1178.5,1243.5 1177.4,1244.6 1176.3,1249.6 1175.3,1254.3 1174.2,1253.1 1173.1,1251.8 1172.1,1255.7 1171,1253.7 1170,1254.8 1168.9,1256.6 1167.8,1254.2 1166.8,1252.9 1165.7,1256 1164.6,1256.2 1163.6,1252.9 1162.5,1255.7 1161.6,1258.3 1160.8,1257.9 1159.9,1257.3 1159.1,1258.2 1158.2,1261.4 1157.4,1261.2 1156.5,1262.5 1155.7,1265 1154.8,1265.4 1154,1260.5 1153.1,1263 1152.3,1267.6 1151.4,1268.3 1150.6,1265.9 1149.7,1270.2 1148.9,1266.7 1148,1265.5 1146.9,1271.5 1145.9,1269.6 1144.8,1271.2 1143.8,1274.3 1142.7,1270.1 1141.6,1274.4 1140.6,1276.9 1139.5,1274.8 1138.5,1273.1 1137.4,1275.4 1136.4,1275.7 1135.3,1277.8 1134.2,1274.8 1133.2,1274.6 1132.1,1278.2 1131.1,1277.5 1130,1277.1 1129.3,1282.3 1128.5,1282.6 1127.8,1280.7 1127,1282.2 1126.3,1278.4 1125.6,1282.2 1124.8,1283.9 1124.1,1283.1 1123.3,1285.3 1122.6,1287.8 1121.8,1286.4 1121.1,1288.4 1120.4,1289.9 1119.6,1295.3 1118.9,1291 1118.1,1292.1 1117.4,1291.5 1116,1295 1114.6,1293.2 1113.3,1294.2 1111.9,1297.2 1110.5,1293.6 1109.1,1298.9 1107.7,1297.4 1106.3,1299.4 1105,1295.6 1103.6,1297.1 1102.2,1296.8 1100.8,1297.3 1099.4,1302.1 1098,1302.3 1096.7,1300.1 1095.3,1307.4 1093.9,1297.3 1092.8,1303.8 1091.8,1303.3 1090.7,1304.3 1089.6,1301.9 1088.6,1305.3 1087.5,1306.7 1086.4,1307.4 1085.4,1307.2 1084.3,1310.8 1083.3,1310.6 1082.2,1308.2 1081.1,1310.3 1080.1,1313 1079,1312.8 1077.9,1315.3 1076.9,1312.4 1075.8,1311.4 1074.8,1314.5 1073.9,1317.3 1072.9,1315.7 1072,1315.5 1071,1317.4 1070.1,1318.8 1069.1,1318.5 1068.2,1316.8 1067.2,1316.1 1066.3,1321.9 1065.3,1318.8 1064.4,1323.4 1063.4,1324.2 1062.5,1324.4 1061.5,1322.8 1060.6,1322.2 1059.6,1322.2 1058.9,1324.1 1058.1,1328.5 1057.4,1325.8 1056.6,1326.6 1055.9,1327.1 1055.2,1328.3 1054.4,1327.6 1053.7,1334.5 1052.9,1337.8 1052.2,1336.4 1051.4,1335.9 1050.7,1336.6 1050,1335.2 1049.2,1340.5 1048.5,1338.2 1047.7,1345.9 1047,1340.7 1045.6,1344.6 1044.2,1345.8 1042.9,1346.6 1041.5,1347.3 1040.1,1345.9 1038.7,1349.1 1037.3,1346.3 1035.9,1346.9 1034.6,1350.2 1033.2,1351.7 1031.8,1352.7 1030.4,1358.6 1029,1355.2 1027.6,1356.4 1026.3,1351.6 1024.9,1360.1 1023.5,1355.4 1022.8,1361.4 1022,1358.2 1021.3,1357.9 1020.5,1361.8 1019.8,1363.3 1019,1362.2 1018.3,1358 1017.5,1366.7 1016.8,1364.1 1016,1364.6 1015.3,1364.1 1014.5,1363.8 1013.8,1366.2 1013,1364.2 1012.3,1363.2 1011.5,1366.3 1010.8,1364.6 1010.6,1368.4 1010.3,1364.1 1010.1,1370 1009.8,1368.8 1009.6,1367.7 1009.3,1372.4 1009.1,1367.3 1008.8,1372.4 1008.6,1371 1008.3,1369.5 1008.1,1367.8 1007.8,1371.9 1007.6,1367.7 1007.3,1370 1007.1,1367 1006.8,1370.5 1006.6,1363.8 1005.5,1369.1 1004.5,1370.2 1003.4,1372.2 1002.4,1370.2 1001.3,1369.4 1000.2,1366.8 999.2,1362.3 998.1,1366.7 997.1,1362.1 996,1366.4 995,1367.5 993.9,1363.3 992.8,1366.8 991.8,1365.8 990.7,1367.8 989.7,1364.4 988.6,1360.8 986.7,1365.4 984.9,1362.3 983,1362.1 981.2,1361.3 979.3,1358.8 977.4,1355.2 975.6,1354.9 973.7,1351.5 971.9,1355.3 970,1353 968.2,1350.3 966.3,1357.7 964.4,1354.1 962.6,1354.5 960.7,1350.1 958.9,1352.2 957,1346.5 954.9,1352.4 952.7,1347.3 950.6,1348.3 948.5,1346 946.4,1344 944.2,1344.2 942.1,1344.3 940,1345.8 937.8,1343.3 935.7,1339.6 933.6,1341.4 931.4,1339.7 929.3,1338.8 927.2,1339.1 925.1,1338.3 922.9,1333.7 920.8,1332.7 918.7,1336 916.6,1331.7 914.4,1333.9 912.3,1333.2 910.2,1332.8 908.1,1331.4 905.9,1332.4 903.8,1325.9 901.7,1329.9 899.6,1324.9 897.4,1324 895.3,1326.9 893.2,1326 891.1,1321.8 888.9,1321.4 886.8,1320.7 884.7,1312.1 882.3,1318.8 879.9,1316.1 877.5,1315 875.1,1312.6 872.8,1312.1 870.4,1310.1 868,1305 865.6,1305.6 863.2,1306.4 860.8,1305.1 858.4,1304.2 856,1308.1 853.7,1300 851.3,1303.1 848.9,1297.2 846.5,1297.3 844.1,1291.4 842,1292 839.9,1292.6 837.7,1288.9 835.6,1288.6 833.5,1291 831.4,1290.1 829.2,1284.4 827.1,1288.5 825,1283.1 822.9,1285.1 820.7,1285.4 818.6,1281.6 816.5,1280.5 814.4,1280.3 812.2,1282.9 810.1,1277.4 808,1272.7 805.6,1277.5 803.2,1275.6 800.8,1277.7 798.4,1270.8 796.1,1271.5 793.7,1269 791.3,1271.8 788.9,1271.2 786.5,1268.7 784.1,1265.7 781.7,1265.7 779.3,1263.6 777,1257.9 774.6,1259.1 772.2,1253.8 769.8,1257.1 767.4,1250.4 765.8,1250.5 764.2,1249.5 762.6,1251.7 761,1248.6 759.4,1248 757.8,1247.3 756.2,1252.2 754.6,1253.3 753.1,1244.9 751.5,1245.9 749.9,1247.7 748.3,1247.1 746.7,1246.2 745.1,1240 743.5,1245.4 741.9,1241.8 740.3,1236 738.7,1240.3 737.1,1234.9 735.5,1237.3 733.9,1231.5 732.3,1235.3 730.7,1232.9 729.1,1231.7 727.5,1232.5 726,1230.8 724.4,1226.6 722.8,1230 721.2,1223.5 719.6,1221.9 718,1222 716.4,1220.6 714.8,1219.6 713.2,1215.2 713.1,1216.8 712.9,1219 712.8,1216.5 712.7,1220.2 712.5,1217.8 712.4,1221 712.3,1217.9 712.1,1216.4 712,1212.7 711.8,1212.3 711.7,1215 711.6,1215.4 711.4,1215.1 711.3,1213.6 711.2,1211.4 711,1211.8 710.9,1209.5" fill="#2e0a06"/>
<polygon points="710.9,1205.4 712.4,1199.9 713.8,1201.2 715.3,1198.3 716.8,1199.2 718.2,1198 719.7,1193.6 721.2,1194.8 722.6,1192.5 724.1,1191.7 725.5,1190.7 727,1189.4 728.5,1189.4 729.9,1185.9 731.4,1187.1 732.9,1186 734.3,1185.8 735.8,1185.1 737.7,1179.7 739.5,1180.1 741.4,1180.6 743.2,1179.4 745.1,1175.2 747,1177.1 748.8,1174.5 750.7,1174.1 752.5,1172 754.4,1172 756.2,1169.7 758.1,1169.1 760,1167.6 761.8,1165.3 763.7,1165.2 765.5,1166.3 767.4,1167 769.3,1162.4 771.1,1162.6 773,1158.5 774.8,1157.9 776.7,1156.2 778.6,1154.1 780.4,1155 782.3,1154.1 784.1,1150.7 786,1151.8 787.8,1148.6 789.7,1149.5 791.6,1146.4 793.4,1144.4 795.3,1141.9 797.1,1140.6 799,1144.4 800.9,1141.9 802.7,1138.7 804.6,1136.7 806.4,1136.9 808.3,1132.3 810.2,1131.5 812,1129.3 813.9,1129.6 815.7,1128.4 817.6,1128 819.4,1125.3 821.3,1123.7 823.2,1121.5 825,1119.9 826.9,1116.4 828.7,1114 830.6,1117.4 832.5,1114.9 834.3,1111.6 836.2,1108.4 838,1109.7 839.9,1106.8 841.8,1107 843.6,1107.3 845.5,1103.3 847.3,1103 849.2,1102.7 851,1100.5 852.9,1099.8 854.8,1097.9 856.6,1096.2 858.5,1094.9 860.3,1092.9 862.2,1094.8 863.8,1093.3 865.4,1092.1 867,1089.2 868.6,1088.3 870.1,1085.4 871.7,1085.1 873.3,1083.4 874.9,1081 876.5,1083.4 878.1,1083.5 879.7,1082.3 881.3,1080.2 882.8,1078 884.4,1075.9 886,1076.1 887.6,1072.9 889.2,1076.7 890.5,1073.4 891.9,1069.8 893.2,1071.3 894.5,1066.9 895.8,1065.5 897.2,1063.2 898.5,1063.3 899.8,1064.1 901.2,1060.1 902.5,1060.2 903.8,1060.8 905.2,1057.9 906.5,1056.5 907.8,1055.3 909.1,1055.3 910.5,1054.6 911.8,1054.2 913.4,1052.3 915,1050.4 916.6,1048.1 918.2,1046.9 919.8,1047 921.4,1046.8 923,1046.3 924.6,1046.2 926.1,1045.7 927.7,1043.9 929.3,1044.3 930.9,1041.2 932.5,1039.8 934.1,1039.2 935.7,1041 937.3,1039.5 938.9,1040.6 940.5,1036 942.1,1035.4 943.7,1036 945.3,1035 946.9,1036.6 948.5,1036.7 950.1,1035.2 951.7,1033.5 953.2,1033.2 954.8,1035.5 956.4,1033.3 958,1031.2 959.6,1030.9 961.2,1029.8 962.8,1029 964.4,1031.6 966,1033.9 967.6,1029.8 969.2,1032.2 970.8,1031 972.4,1031.5 974,1033.5 975.6,1034.1 977.2,1033.4 978.8,1034.3 980.3,1037.1 981.9,1036.1 983.5,1039 985.1,1039.6 986.7,1037.8 988.3,1038.2 989.9,1041 991.5,1042.4 993.1,1045.1 994.7,1042.5 996.3,1042.6 997.9,1044.5 999.5,1045.6 1001,1047.8 1002.6,1050.4 1004.2,1051.8 1005.8,1052.9 1007.4,1054 1009,1054 1010.6,1057.3 1012.2,1060 1013.7,1059 1015.3,1061.6 1016.9,1062.6 1018.5,1065.2 1020.1,1067.7 1022.2,1067.2 1024.4,1066 1026.5,1067.6 1028.6,1069.8 1030.7,1068.6 1032.9,1071 1035,1072.7 1037.1,1071.4 1039.3,1072.5 1041.4,1073.8 1043.5,1077 1045.7,1076.3 1047.8,1077.8 1049.9,1078 1052,1080.7 1054.2,1080.6 1056.3,1085.8 1058.4,1083.6 1060.5,1083.7 1062.7,1083.5 1064.8,1084.5 1066.9,1086.1 1069,1090.1 1071.2,1090 1073.3,1090.4 1075.4,1093.8 1077.5,1094 1079.7,1093.1 1081.8,1093.4 1083.9,1094.1 1086,1098.6 1088.2,1098.5 1090.3,1098.2 1092.4,1103.8 1094.5,1104.3 1096.6,1101.9 1098.8,1102.2 1100.9,1103.9 1103,1106.3 1105.1,1105.9 1107.3,1106.5 1109.4,1107.9 1111.5,1109.5 1113.6,1111.9 1115.8,1113.5 1117.9,1114.5 1120,1115.6 1122.1,1115.9 1124.3,1118.5 1126.4,1117.4 1128.5,1121.9 1130.6,1121.7 1132.7,1122 1134.9,1122.7 1137,1122.1 1139.1,1125.6 1141.2,1126.8 1143.4,1127.7 1145.5,1129.1 1147.6,1127.9 1149.7,1131 1151.9,1132.9 1154,1132.1 1156.1,1131.8 1158.2,1132.1 1160.4,1134 1162.5,1136.3 1164.6,1139.9 1166.2,1137.8 1167.8,1138.3 1169.4,1137.4 1171,1137.4 1172.6,1138.3 1174.2,1142.5 1175.8,1143.5 1177.4,1144 1178.9,1145.7 1180.5,1144.3 1182.1,1147.4 1183.7,1145.4 1185.3,1146.6 1186.9,1147.4 1188.5,1149.1 1190.1,1147.9 1191.7,1153.5 1193.6,1149.3 1195.4,1150.7 1197.3,1150.4 1199.1,1153 1201,1154.8 1202.9,1153.9 1204.7,1155.5 1206.6,1157.5 1208.4,1157.1 1210.3,1158.4 1212.1,1160.8 1214,1159.1 1215.9,1160.5 1217.7,1159.6 1219.6,1161.7 1221.4,1161.1 1223.3,1167 1224.9,1165.4 1226.5,1164.9 1228.1,1165.1 1229.7,1166.6 1231.3,1169.9 1232.9,1170.4 1234.5,1172.7 1236.1,1172.6 1237.6,1170.9 1239.2,1173.5 1240.8,1173.4 1242.4,1174.4 1244,1177.4 1245.6,1176.6 1247.2,1179.6 1248.8,1180.7 1250.4,1182.8 1250.4,1188 1250.5,1186.7 1250.5,1187.5 1250.5,1189.5 1250.6,1185.8 1250.6,1189.3 1250.6,1185.6 1250.7,1187.4 1250.7,1188.4 1250.8,1190.4 1250.8,1187.9 1250.8,1190.2 1250.9,1189.5 1250.9,1188.5 1250.9,1186.8 1251,1186.7 1251,1185 1249.9,1188 1248.9,1191 1247.8,1190.1 1246.7,1191.6 1245.7,1189.5 1244.6,1189.8 1243.5,1193.2 1242.5,1195.5 1241.4,1193.7 1240.4,1192.2 1239.3,1193.2 1238.2,1194.5 1237.2,1195.4 1236.1,1197.1 1235,1196.7 1234,1198.7 1232.9,1195.3 1232.5,1200.5 1232.1,1200.4 1231.6,1198.9 1231.2,1201.6 1230.8,1199.9 1230.4,1202.4 1229.9,1201.3 1229.5,1202.2 1229.1,1202 1228.7,1202.9 1228.2,1201.8 1227.8,1202.9 1227.4,1204.3 1227,1203 1226.5,1204.1 1226.1,1203.9 1225.7,1200.7 1225.2,1204.7 1224.6,1206.5 1224.1,1204.9 1223.6,1204.7 1223.1,1208.4 1222.5,1206.3 1222,1209.7 1221.5,1211 1220.9,1209.1 1220.4,1211.1 1219.9,1210.2 1219.3,1213.5 1218.8,1211.5 1218.3,1210.9 1217.8,1210.8 1217.2,1214.7 1216.7,1211.5 1216,1217.4 1215.2,1217.9 1214.5,1218.4 1213.7,1218.1 1213,1218.8 1212.2,1216.1 1211.5,1219.8 1210.7,1218.8 1210,1221.5 1209.2,1220.5 1208.5,1223.1 1207.7,1219.6 1207,1223.9 1206.2,1221.1 1205.5,1222.7 1204.7,1223.5 1204,1220.6 1202.9,1227.1 1201.9,1227.8 1200.8,1225.9 1199.8,1224.3 1198.7,1224 1197.6,1227.1 1196.6,1229.6 1195.5,1229.1 1194.5,1227.7 1193.4,1228.8 1192.4,1229.8 1191.3,1228.3 1190.2,1230.4 1189.2,1228.8 1188.1,1227.8 1187.1,1227.9 1186,1227.8 1185.7,1230.7 1185.4,1231.9 1185,1234.3 1184.7,1233.4 1184.4,1234.9 1184.1,1236.3 1183.8,1236.3 1183.5,1235.8 1183.1,1238.6 1182.8,1240 1182.5,1238.3 1182.2,1241.5 1181.9,1242.2 1181.6,1244 1181.2,1244.6 1180.9,1243.9 1180.6,1240.4 1179.5,1244.8 1178.5,1243.2 1177.4,1244.5 1176.3,1246.2 1175.3,1249 1174.2,1249.3 1173.1,1251 1172.1,1251.7 1171,1252.9 1170,1252 1168.9,1252.1 1167.8,1251.9 1166.8,1251 1165.7,1254.1 1164.6,1254.5 1163.6,1252.8 1162.5,1251.3 1161.6,1255.9 1160.8,1256.8 1159.9,1255.5 1159.1,1258 1158.2,1258.6 1157.4,1257.7 1156.5,1258.8 1155.7,1262.3 1154.8,1259.5 1154,1259.6 1153.1,1261.9 1152.3,1264.2 1151.4,1265.8 1150.6,1264.1 1149.7,1265.9 1148.9,1263.6 1148,1262.1 1146.9,1267.4 1145.9,1267 1144.8,1268.1 1143.8,1268.4 1142.7,1269.2 1141.6,1271.6 1140.6,1273.2 1139.5,1270.2 1138.5,1272.6 1137.4,1274.7 1136.4,1274.1 1135.3,1273.8 1134.2,1273.5 1133.2,1274.4 1132.1,1275.7 1131.1,1276.6 1130,1273 1129.3,1276.6 1128.5,1278.1 1127.8,1277.3 1127,1279.8 1126.3,1278.2 1125.6,1279.6 1124.8,1280.8 1124.1,1281.3 1123.3,1282.8 1122.6,1282.2 1121.8,1284.1 1121.1,1286.8 1120.4,1287.3 1119.6,1289.7 1118.9,1290.8 1118.1,1289.3 1117.4,1285.6 1116,1291.8 1114.6,1291.3 1113.3,1292.2 1111.9,1293 1110.5,1292.8 1109.1,1293.2 1107.7,1293.2 1106.3,1293.9 1105,1294.7 1103.6,1297 1102.2,1294.9 1100.8,1294.5 1099.4,1298.9 1098,1298.6 1096.7,1299.9 1095.3,1301.8 1093.9,1296.4 1092.8,1302.7 1091.8,1302.5 1090.7,1302 1089.6,1301 1088.6,1301 1087.5,1304.6 1086.4,1306.7 1085.4,1305 1084.3,1305.8 1083.3,1307.3 1082.2,1307.8 1081.1,1306.7 1080.1,1310.1 1079,1309.7 1077.9,1310.9 1076.9,1311.5 1075.8,1307.2 1074.8,1309.9 1073.9,1311.8 1072.9,1313.4 1072,1314.2 1071,1313.2 1070.1,1312.8 1069.1,1312.7 1068.2,1313.2 1067.2,1314.1 1066.3,1316.4 1065.3,1317.9 1064.4,1319.5 1063.4,1319.1 1062.5,1321 1061.5,1318.4 1060.6,1319.6 1059.6,1318 1058.9,1322.8 1058.1,1324.4 1057.4,1325 1056.6,1325.6 1055.9,1326.4 1055.2,1326.4 1054.4,1327.6 1053.7,1330.3 1052.9,1332.3 1052.2,1331.4 1051.4,1335.7 1050.7,1333.7 1050,1334.4 1049.2,1337.1 1048.5,1338.1 1047.7,1340.2 1047,1338 1045.6,1343.6 1044.2,1343.3 1042.9,1344.8 1041.5,1344.4 1040.1,1343.4 1038.7,1343.3 1037.3,1344.4 1035.9,1346.5 1034.6,1346.8 1033.2,1348.9 1031.8,1350.6 1030.4,1352.8 1029,1350.2 1027.6,1354 1026.3,1350.8 1024.9,1354.8 1023.5,1350.6 1022.8,1355.8 1022,1355.8 1021.3,1356.5 1020.5,1358.7 1019.8,1360.2 1019,1357.8 1018.3,1357.2 1017.5,1360.9 1016.8,1360.9 1016,1362.9 1015.3,1360.5 1014.5,1363.4 1013.8,1361.2 1013,1360.9 1012.3,1362 1011.5,1366 1010.8,1361.4 1010.6,1363.6 1010.3,1362.6 1010.1,1364.3 1009.8,1365.1 1009.6,1364.7 1009.3,1366.6 1009.1,1365.1 1008.8,1368.2 1008.6,1368.8 1008.3,1367.4 1008.1,1364.7 1007.8,1366.2 1007.6,1367.1 1007.3,1367.6 1007.1,1366.7 1006.8,1368 1006.6,1363.4 1005.5,1364.3 1004.5,1366.1 1003.4,1366.4 1002.4,1365.8 1001.3,1367.3 1000.2,1363 999.2,1361.3 998.1,1364.1 997.1,1361.5 996,1360.6 995,1363.5 993.9,1361.8 992.8,1363.6 991.8,1363.5 990.7,1362.4 989.7,1360.3 988.6,1356.6 986.7,1361.7 984.9,1361.4 983,1358.7 981.2,1356.2 979.3,1356.6 977.4,1355.1 975.6,1353 973.7,1351.4 971.9,1351.9 970,1350.1 968.2,1349.7 966.3,1352.5 964.4,1352.6 962.6,1351.8 960.7,1349.2 958.9,1349.1 957,1343.1 954.9,1348.1 952.7,1347.2 950.6,1347.4 948.5,1345.1 946.4,1342.2 944.2,1339.3 942.1,1339.2 940,1341.4 937.8,1340 935.7,1339.5 933.6,1339.7 931.4,1336.6 929.3,1334.3 927.2,1336.9 925.1,1335.6 922.9,1331.8 920.8,1329.5 918.7,1333.4 916.6,1329.5 914.4,1328.3 912.3,1329.5 910.2,1328.9 908.1,1326.3 905.9,1327.9 903.8,1324.3 901.7,1325.4 899.6,1321.2 897.4,1320.9 895.3,1322.7 893.2,1321 891.1,1320.1 888.9,1319.7 886.8,1317.5 884.7,1311.5 882.3,1314.1 879.9,1314.8 877.5,1313.1 875.1,1307.9 872.8,1306.8 870.4,1308.6 868,1304.3 865.6,1301.6 863.2,1302.7 860.8,1302.6 858.4,1303.2 856,1302.3 853.7,1299.4 851.3,1298 848.9,1295.8 846.5,1295.8 844.1,1288.9 842,1291.2 839.9,1288 837.7,1287.8 835.6,1286.9 833.5,1288.9 831.4,1285.2 829.2,1284.2 827.1,1284 825,1281.4 822.9,1281.2 820.7,1279.6 818.6,1280.5 816.5,1280.4 814.4,1278.5 812.2,1278.7 810.1,1276.1 808,1270.8 805.6,1271.6 803.2,1270.4 800.8,1272 798.4,1269.6 796.1,1267.3 793.7,1267.2 791.3,1267.6 788.9,1266.2 786.5,1264.7 784.1,1262.7 781.7,1261.8 779.3,1259.4 777,1256.9 774.6,1254.9 772.2,1253 769.8,1252 767.4,1248.3 765.8,1250 764.2,1249.4 762.6,1248 761,1248.2 759.4,1245.5 757.8,1247 756.2,1248.1 754.6,1248.1 753.1,1244.8 751.5,1242.3 749.9,1243.8 748.3,1243.8 746.7,1240.4 745.1,1238.2 743.5,1240 741.9,1238.5 740.3,1234.7 738.7,1238.7 737.1,1234.3 735.5,1232.7 733.9,1230.2 732.3,1231.8 730.7,1228.3 729.1,1230.2 727.5,1228.6 726,1226.7 724.4,1224 722.8,1225.3 721.2,1220.9 719.6,1221.1 718,1221.4 716.4,1219.7 714.8,1215.2 713.2,1212.2 713.1,1215.9 712.9,1213.3 712.8,1216.4 712.7,1216.7 712.5,1214.9 712.4,1215.6 712.3,1214.4 712.1,1211.3 712,1211.3 711.8,1209.1 711.7,1210.3 711.6,1213.1 711.4,1210.8 711.3,1211.1 711.2,1209.4 711,1210.1 710.9,1205.4" fill="#420c08"/>
<polygon points="710.9,1205.4 712.4,1199.9 713.8,1201.2 715.3,1198.3 716.8,1199.2 718.2,1198 719.7,1193.6 721.2,1194.8 722.6,1192.5 724.1,1191.7 725.5,1190.7 727,1189.4 728.5,1189.4 729.9,1185.9 731.4,1187.1 732.9,1186 734.3,1185.8 735.8,1185.1 737.7,1179.7 739.5,1180.1 741.4,1180.6 743.2,1179.4 745.1,1175.2 747,1177.1 748.8,1174.5 750.7,1174.1 752.5,1172 754.4,1172 756.2,1169.7 758.1,1169.1 760,1167.6 761.8,1165.3 763.7,1165.2 765.5,1166.3 767.4,1167 769.3,1162.4 771.1,1162.6 773,1158.5 774.8,1157.9 776.7,1156.2 778.6,1154.1 780.4,1155 782.3,1154.1 784.1,1150.7 786,1151.8 787.8,1148.6 789.7,1149.5 791.6,1146.4 793.4,1144.4 795.3,1141.9 797.1,1140.6 799,1144.4 800.9,1141.9 802.7,1138.7 804.6,1136.7 806.4,1136.9 808.3,1132.3 810.2,1131.5 812,1129.3 813.9,1129.6 815.7,1128.4 817.6,1128 819.4,1125.3 821.3,1123.7 823.2,1121.5 825,1119.9 826.9,1116.4 828.7,1114 830.6,1117.4 832.5,1114.9 834.3,1111.6 836.2,1108.4 838,1109.7 839.9,1106.8 841.8,1107 843.6,1107.3 845.5,1103.3 847.3,1103 849.2,1102.7 851,1100.5 852.9,1099.8 854.8,1097.9 856.6,1096.2 858.5,1094.9 860.3,1092.9 862.2,1094.8 863.8,1093.3 865.4,1092.1 867,1089.2 868.6,1088.3 870.1,1085.4 871.7,1085.1 873.3,1083.4 874.9,1081 876.5,1083.4 878.1,1083.5 879.7,1082.3 881.3,1080.2 882.8,1078 884.4,1075.9 886,1076.1 887.6,1072.9 889.2,1076.7 890.5,1073.4 891.9,1069.8 893.2,1071.3 894.5,1066.9 895.8,1065.5 897.2,1063.2 898.5,1063.3 899.8,1064.1 901.2,1060.1 902.5,1060.2 903.8,1060.8 905.2,1057.9 906.5,1056.5 907.8,1055.3 909.1,1055.3 910.5,1054.6 911.8,1054.2 913.4,1052.3 915,1050.4 916.6,1048.1 918.2,1046.9 919.8,1047 921.4,1046.8 923,1046.3 924.6,1046.2 926.1,1045.7 927.7,1043.9 929.3,1044.3 930.9,1041.2 932.5,1039.8 934.1,1039.2 935.7,1041 937.3,1039.5 938.9,1040.6 940.5,1036 942.1,1035.4 943.7,1036 945.3,1035 946.9,1036.6 948.5,1036.7 950.1,1035.2 951.7,1033.5 953.2,1033.2 954.8,1035.5 956.4,1033.3 958,1031.2 959.6,1030.9 961.2,1029.8 962.8,1029 964.4,1031.6 966,1033.9 967.6,1029.8 969.2,1032.2 970.8,1031 972.4,1031.5 974,1033.5 975.6,1034.1 977.2,1033.4 978.8,1034.3 980.3,1037.1 981.9,1036.1 983.5,1039 985.1,1039.6 986.7,1037.8 988.3,1038.2 989.9,1041 991.5,1042.4 993.1,1045.1 994.7,1042.5 996.3,1042.6 997.9,1044.5 999.5,1045.6 1001,1047.8 1002.6,1050.4 1004.2,1051.8 1005.8,1052.9 1007.4,1054 1009,1054 1010.6,1057.3 1012.2,1060 1013.7,1059 1015.3,1061.6 1016.9,1062.6 1018.5,1065.2 1020.1,1067.7 1022.2,1067.2 1024.4,1066 1026.5,1067.6 1028.6,1069.8 1030.7,1068.6 1032.9,1071 1035,1072.7 1037.1,1071.4 1039.3,1072.5 1041.4,1073.8 1043.5,1077 1045.7,1076.3 1047.8,1077.8 1049.9,1078 1052,1080.7 1054.2,1080.6 1056.3,1085.8 1058.4,1083.6 1060.5,1083.7 1062.7,1083.5 1064.8,1084.5 1066.9,1086.1 1069,1090.1 1071.2,1090 1073.3,1090.4 1075.4,1093.8 1077.5,1094 1079.7,1093.1 1081.8,1093.4 1083.9,1094.1 1086,1098.6 1088.2,1098.5 1090.3,1098.2 1092.4,1103.8 1094.5,1104.3 1096.6,1101.9 1098.8,1102.2 1100.9,1103.9 1103,1106.3 1105.1,1105.9 1107.3,1106.5 1109.4,1107.9 1111.5,1109.5 1113.6,1111.9 1115.8,1113.5 1117.9,1114.5 1120,1115.6 1122.1,1115.9 1124.3,1118.5 1126.4,1117.4 1128.5,1121.9 1130.6,1121.7 1132.7,1122 1134.9,1122.7 1137,1122.1 1139.1,1125.6 1141.2,1126.8 1143.4,1127.7 1145.5,1129.1 1147.6,1127.9 1149.7,1131 1151.9,1132.9 1154,1132.1 1156.1,1131.8 1158.2,1132.1 1160.4,1134 1162.5,1136.3 1164.6,1139.9 1166.2,1137.8 1167.8,1138.3 1169.4,1137.4 1171,1137.4 1172.6,1138.3 1174.2,1142.5 1175.8,1143.5 1177.4,1144 1178.9,1145.7 1180.5,1144.3 1182.1,1147.4 1183.7,1145.4 1185.3,1146.6 1186.9,1147.4 1188.5,1149.1 1190.1,1147.9 1191.7,1153.5 1193.6,1149.3 1195.4,1150.7 1197.3,1150.4 1199.1,1153 1201,1154.8 1202.9,1153.9 1204.7,1155.5 1206.6,1157.5 1208.4,1157.1 1210.3,1158.4 1212.1,1160.8 1214,1159.1 1215.9,1160.5 1217.7,1159.6 1219.6,1161.7 1221.4,1161.1 1223.3,1167 1224.9,1165.4 1226.5,1164.9 1228.1,1165.1 1229.7,1166.6 1231.3,1169.9 1232.9,1170.4 1234.5,1172.7 1236.1,1172.6 1237.6,1170.9 1239.2,1173.5 1240.8,1173.4 1242.4,1174.4 1244,1177.4 1245.6,1176.6 1247.2,1179.6 1248.8,1180.7 1250.4,1182.8 1250.4,1188 1250.5,1186.7 1250.5,1187.5 1250.5,1189.5 1250.6,1185.8 1250.6,1189.3 1250.6,1185.6 1250.7,1187.4 1250.7,1188.4 1250.8,1190.4 1250.8,1187.9 1250.8,1190.2 1250.9,1189.5 1250.9,1188.5 1250.9,1186.8 1251,1186.7 1251,1185 1249.9,1188 1248.9,1191 1247.8,1190.1 1246.7,1191.6 1245.7,1189.5 1244.6,1189.8 1243.5,1193.2 1242.5,1195.5 1241.4,1193.7 1240.4,1192.2 1239.3,1193.2 1238.2,1194.5 1237.2,1195.4 1236.1,1197.1 1235,1196.7 1234,1198.7 1232.9,1195.3 1232.5,1200.5 1232.1,1200.4 1231.6,1198.9 1231.2,1201.6 1230.8,1199.9 1230.4,1202.4 1229.9,1201.3 1229.5,1202.2 1229.1,1202 1228.7,1202.9 1228.2,1201.8 1227.8,1202.9 1227.4,1204.3 1227,1203 1226.5,1204.1 1226.1,1203.9 1225.7,1200.7 1225.2,1204.7 1224.6,1206.5 1224.1,1204.9 1223.6,1204.7 1223.1,1208.4 1222.5,1206.3 1222,1209.7 1221.5,1211 1220.9,1209.1 1220.4,1211.1 1219.9,1210.2 1219.3,1213.5 1218.8,1211.5 1218.3,1210.9 1217.8,1210.8 1217.2,1214.7 1216.7,1211.5 1216,1217.4 1215.2,1217.9 1214.5,1218.4 1213.7,1218.1 1213,1218.8 1212.2,1216.1 1211.5,1219.8 1210.7,1218.8 1210,1221.5 1209.2,1220.5 1208.5,1223.1 1207.7,1219.6 1207,1223.9 1206.2,1221.1 1205.5,1222.7 1204.7,1223.5 1204,1220.6 1202.9,1227.1 1201.9,1227.8 1200.8,1225.9 1199.8,1224.3 1198.7,1224 1197.6,1227.1 1196.6,1229.6 1195.5,1229.1 1194.5,1227.7 1193.4,1228.8 1192.4,1229.8 1191.3,1228.3 1190.2,1230.4 1189.2,1228.8 1188.1,1227.8 1187.1,1227.9 1186,1227.8 1185.7,1230.7 1185.4,1231.9 1185,1234.3 1184.7,1233.4 1184.4,1234.9 1184.1,1236.3 1183.8,1236.3 1183.5,1235.8 1183.1,1238.6 1182.8,1240 1182.5,1238.3 1182.2,1241.5 1181.9,1242.2 1181.6,1244 1181.2,1244.6 1180.9,1243.9 1180.6,1240.4 1179.5,1244.8 1178.5,1243.2 1177.4,1244.5 1176.3,1246.2 1175.3,1249 1174.2,1249.3 1173.1,1251 1172.1,1251.7 1171,1252.9 1170,1252 1168.9,1252.1 1167.8,1251.9 1166.8,1251 1165.7,1254.1 1164.6,1254.5 1163.6,1252.8 1162.5,1251.3 1161.6,1255.9 1160.8,1256.8 1159.9,1255.5 1159.1,1258 1158.2,1258.6 1157.4,1257.7 1156.5,1258.8 1155.7,1262.3 1154.8,1259.5 1154,1259.6 1153.1,1261.9 1152.3,1264.2 1151.4,1265.8 1150.6,1264.1 1149.7,1265.9 1148.9,1263.6 1148,1262.1 1146.9,1267.4 1145.9,1267 1144.8,1268.1 1143.8,1268.4 1142.7,1269.2 1141.6,1271.6 1140.6,1273.2 1139.5,1270.2 1138.5,1272.6 1137.4,1274.7 1136.4,1274.1 1135.3,1273.8 1134.2,1273.5 1133.2,1274.4 1132.1,1275.7 1131.1,1276.6 1130,1273 1129.3,1276.6 1128.5,1278.1 1127.8,1277.3 1127,1279.8 1126.3,1278.2 1125.6,1279.6 1124.8,1280.8 1124.1,1281.3 1123.3,1282.8 1122.6,1282.2 1121.8,1284.1 1121.1,1286.8 1120.4,1287.3 1119.6,1289.7 1118.9,1290.8 1118.1,1289.3 1117.4,1285.6 1116,1291.8 1114.6,1291.3 1113.3,1292.2 1111.9,1293 1110.5,1292.8 1109.1,1293.2 1107.7,1293.2 1106.3,1293.9 1105,1294.7 1103.6,1297 1102.2,1294.9 1100.8,1294.5 1099.4,1298.9 1098,1298.6 1096.7,1299.9 1095.3,1301.8 1093.9,1296.4 1092.8,1302.7 1091.8,1302.5 1090.7,1302 1089.6,1301 1088.6,1301 1087.5,1304.6 1086.4,1306.7 1085.4,1305 1084.3,1305.8 1083.3,1307.3 1082.2,1307.8 1081.1,1306.7 1080.1,1310.1 1079,1309.7 1077.9,1310.9 1076.9,1311.5 1075.8,1307.2 1074.8,1309.9 1073.9,1311.8 1072.9,1313.4 1072,1314.2 1071,1313.2 1070.1,1312.8 1069.1,1312.7 1068.2,1313.2 1067.2,1314.1 1066.3,1316.4 1065.3,1317.9 1064.4,1319.5 1063.4,1319.1 1062.5,1321 1061.5,1318.4 1060.6,1319.6 1059.6,1318 1058.9,1322.8 1058.1,1324.4 1057.4,1325 1056.6,1325.6 1055.9,1326.4 1055.2,1326.4 1054.4,1327.6 1053.7,1330.3 1052.9,1332.3 1052.2,1331.4 1051.4,1335.7 1050.7,1333.7 1050,1334.4 1049.2,1337.1 1048.5,1338.1 1047.7,1340.2 1047,1338 1045.6,1343.6 1044.2,1343.3 1042.9,1344.8 1041.5,1344.4 1040.1,1343.4 1038.7,1343.3 1037.3,1344.4 1035.9,1346.5 1034.6,1346.8 1033.2,1348.9 1031.8,1350.6 1030.4,1352.8 1029,1350.2 1027.6,1354 1026.3,1350.8 1024.9,1354.8 1023.5,1350.6 1022.8,1355.8 1022,1355.8 1021.3,1356.5 1020.5,1358.7 1019.8,1360.2 1019,1357.8 1018.3,1357.2 1017.5,1360.9 1016.8,1360.9 1016,1362.9 1015.3,1360.5 1014.5,1363.4 1013.8,1361.2 1013,1360.9 1012.3,1362 1011.5,1366 1010.8,1361.4 1010.6,1363.6 1010.3,1362.6 1010.1,1364.3 1009.8,1365.1 1009.6,1364.7 1009.3,1366.6 1009.1,1365.1 1008.8,1368.2 1008.6,1368.8 1008.3,1367.4 1008.1,1364.7 1007.8,1366.2 1007.6,1367.1 1007.3,1367.6 1007.1,1366.7 1006.8,1368 1006.6,1363.4 1005.5,1364.3 1004.5,1366.1 1003.4,1366.4 1002.4,1365.8 1001.3,1367.3 1000.2,1363 999.2,1361.3 998.1,1364.1 997.1,1361.5 996,1360.6 995,1363.5 993.9,1361.8 992.8,1363.6 991.8,1363.5 990.7,1362.4 989.7,1360.3 988.6,1356.6 986.7,1361.7 984.9,1361.4 983,1358.7 981.2,1356.2 979.3,1356.6 977.4,1355.1 975.6,1353 973.7,1351.4 971.9,1351.9 970,1350.1 968.2,1349.7 966.3,1352.5 964.4,1352.6 962.6,1351.8 960.7,1349.2 958.9,1349.1 957,1343.1 954.9,1348.1 952.7,1347.2 950.6,1347.4 948.5,1345.1 946.4,1342.2 944.2,1339.3 942.1,1339.2 940,1341.4 937.8,1340 935.7,1339.5 933.6,1339.7 931.4,1336.6 929.3,1334.3 927.2,1336.9 925.1,1335.6 922.9,1331.8 920.8,1329.5 918.7,1333.4 916.6,1329.5 914.4,1328.3 912.3,1329.5 910.2,1328.9 908.1,1326.3 905.9,1327.9 903.8,1324.3 901.7,1325.4 899.6,1321.2 897.4,1320.9 895.3,1322.7 893.2,1321 891.1,1320.1 888.9,1319.7 886.8,1317.5 884.7,1311.5 882.3,1314.1 879.9,1314.8 877.5,1313.1 875.1,1307.9 872.8,1306.8 870.4,1308.6 868,1304.3 865.6,1301.6 863.2,1302.7 860.8,1302.6 858.4,1303.2 856,1302.3 853.7,1299.4 851.3,1298 848.9,1295.8 846.5,1295.8 844.1,1288.9 842,1291.2 839.9,1288 837.7,1287.8 835.6,1286.9 833.5,1288.9 831.4,1285.2 829.2,1284.2 827.1,1284 825,1281.4 822.9,1281.2 820.7,1279.6 818.6,1280.5 816.5,1280.4 814.4,1278.5 812.2,1278.7 810.1,1276.1 808,1270.8 805.6,1271.6 803.2,1270.4 800.8,1272 798.4,1269.6 796.1,1267.3 793.7,1267.2 791.3,1267.6 788.9,1266.2 786.5,1264.7 784.1,1262.7 781.7,1261.8 779.3,1259.4 777,1256.9 774.6,1254.9 772.2,1253 769.8,1252 767.4,1248.3 765.8,1250 764.2,1249.4 762.6,1248 761,1248.2 759.4,1245.5 757.8,1247 756.2,1248.1 754.6,1248.1 753.1,1244.8 751.5,1242.3 749.9,1243.8 748.3,1243.8 746.7,1240.4 745.1,1238.2 743.5,1240 741.9,1238.5 740.3,1234.7 738.7,1238.7 737.1,1234.3 735.5,1232.7 733.9,1230.2 732.3,1231.8 730.7,1228.3 729.1,1230.2 727.5,1228.6 726,1226.7 724.4,1224 722.8,1225.3 721.2,1220.9 719.6,1221.1 718,1221.4 716.4,1219.7 714.8,1215.2 713.2,1212.2 713.1,1215.9 712.9,1213.3 712.8,1216.4 712.7,1216.7 712.5,1214.9 712.4,1215.6 712.3,1214.4 712.1,1211.3 712,1211.3 711.8,1209.1 711.7,1210.3 711.6,1213.1 711.4,1210.8 711.3,1211.1 711.2,1209.4 711,1210.1 710.9,1205.4" fill="#000" filter="url(#afmtex2)"/>
<g clip-path="url(#afmclip8)">
<use href="#cn8a5" x="963.6" y="1036"/>
<use href="#cn8b3" x="974.4" y="1042.4"/>
<use href="#cn8a5" x="948.3" y="1049.6"/>
<use href="#cn8a2" x="983.1" y="1054.3"/>
<use href="#cn8a3" x="1005" y="1057.7"/>
<use href="#cn8b0" x="976.9" y="1058.2"/>
<use href="#cn8a6" x="947.9" y="1059.5"/>
<use href="#cn8b5" x="966.7" y="1060.6"/>
<use href="#cn8a7" x="978.6" y="1064.1"/>
<use href="#cn8b2" x="951.6" y="1064.3"/>
<use href="#cn8b7" x="958.6" y="1068.2"/>
<use href="#cn8a2" x="913.9" y="1074.3"/>
<use href="#cn8a4" x="983.4" y="1074.9"/>
<use href="#cn8a0" x="936.3" y="1076"/>
<use href="#cn8b0" x="954.7" y="1076"/>
<use href="#cn8b4" x="1030.9" y="1076.4"/>
<use href="#cn8a4" x="981.4" y="1084.1"/>
<use href="#cn8b3" x="931.7" y="1087.1"/>
<use href="#cn8b5" x="913.4" y="1091.5"/>
<use href="#cn8a7" x="967.3" y="1091.9"/>
<use href="#cn8b4" x="996.1" y="1094.7"/>
<use href="#cn8a4" x="885.2" y="1095.1"/>
<use href="#cn8b7" x="1023.2" y="1095.9"/>
<use href="#cn8a3" x="870.3" y="1104.2"/>
<use href="#cn8a6" x="929" y="1106.9"/>
<use href="#cn8a1" x="1008.8" y="1107.4"/>
<use href="#cn8a4" x="874.2" y="1107.8"/>
<use href="#cn8a2" x="882.5" y="1111.3"/>
<use href="#cn8a2" x="1082.9" y="1111.5"/>
<use href="#cn8b5" x="960.5" y="1113.9"/>
<use href="#cn8a0" x="946" y="1114.8"/>
<use href="#cn8a6" x="853.2" y="1115.2"/>
<use href="#cn8b4" x="870.9" y="1116.3"/>
<use href="#cn8a6" x="1064.9" y="1116.5"/>
<use href="#cn8a1" x="1108.5" y="1122.1"/>
<use href="#cn8a3" x="848.8" y="1122.1"/>
<use href="#cn8b2" x="866.5" y="1122.4"/>
<use href="#cn8a5" x="875.9" y="1124.1"/>
<use href="#cn8a2" x="839.7" y="1124.5"/>
<use href="#cn8b3" x="883" y="1126.5"/>
<use href="#cn8b5" x="1043.7" y="1127"/>
<use href="#cn8a0" x="982.6" y="1127.3"/>
<use href="#cn8a1" x="997.9" y="1128.3"/>
<use href="#cn8b6" x="1067.9" y="1128.4"/>
<use href="#cn8b0" x="950.8" y="1130.5"/>
<use href="#cn8a7" x="921.7" y="1130.5"/>
<use href="#cn8a4" x="1119.5" y="1131.2"/>
<use href="#cn8a4" x="1133.9" y="1132.2"/>
<use href="#cn8a3" x="1054.5" y="1133.9"/>
<use href="#cn8b5" x="888.4" y="1133.9"/>
<use href="#cn8a6" x="877.4" y="1134.6"/>
<use href="#cn8a4" x="1091.6" y="1135.2"/>
<use href="#cn8b0" x="1113.7" y="1135.4"/>
<use href="#cn8a5" x="876.6" y="1138.3"/>
<use href="#cn8a3" x="884.3" y="1138.6"/>
<use href="#cn8a7" x="809.4" y="1141.2"/>
<use href="#cn8b1" x="880.4" y="1145.9"/>
<use href="#cn8b3" x="1144.2" y="1146"/>
<use href="#cn8b3" x="939.3" y="1147.7"/>
<use href="#cn8b2" x="897" y="1148"/>
<use href="#cn8a4" x="1158.9" y="1148.2"/>
<use href="#cn8a1" x="856.7" y="1148.3"/>
<use href="#cn8a1" x="1133.5" y="1148.4"/>
<use href="#cn8a4" x="1147.5" y="1148.5"/>
<use href="#cn8b1" x="1112.1" y="1149.6"/>
<use href="#cn8a2" x="940.3" y="1149.9"/>
<use href="#cn8a0" x="1040.1" y="1150.4"/>
<use href="#cn8a7" x="944.8" y="1151.7"/>
<use href="#cn8b4" x="1072.3" y="1151.7"/>
<use href="#cn8a2" x="799.9" y="1151.8"/>
<use href="#cn8a7" x="1050.6" y="1152.7"/>
<use href="#cn8a7" x="922.6" y="1152.9"/>
<use href="#cn8a0" x="1040.8" y="1155.5"/>
<use href="#cn8b5" x="832.8" y="1157.5"/>
<use href="#cn8a2" x="1026.8" y="1157.9"/>
<use href="#cn8a6" x="1124.1" y="1158.5"/>
<use href="#cn8a4" x="937.5" y="1158.9"/>
<use href="#cn8a0" x="1006.3" y="1160.6"/>
<use href="#cn8b2" x="818.5" y="1161.8"/>
<use href="#cn8a6" x="1013.5" y="1162.1"/>
<use href="#cn8a5" x="1030" y="1162.6"/>
<use href="#cn8a0" x="868.3" y="1162.6"/>
<use href="#cn8a4" x="984.1" y="1163.2"/>
<use href="#cn8a7" x="802.5" y="1166.7"/>
<use href="#cn8a0" x="986.9" y="1167"/>
<use href="#cn8b6" x="953.6" y="1167.3"/>
<use href="#cn8a5" x="887.7" y="1167.5"/>
<use href="#cn8a2" x="1020.8" y="1170.3"/>
<use href="#cn8a4" x="985.8" y="1170.8"/>
<use href="#cn8a0" x="1176" y="1171.1"/>
<use href="#cn8a6" x="894.4" y="1171.7"/>
<use href="#cn8a5" x="1094.5" y="1172"/>
<use href="#cn8b6" x="777.3" y="1172.1"/>
<use href="#cn8a6" x="822.4" y="1172.5"/>
<use href="#cn8a2" x="854.7" y="1174.3"/>
<use href="#cn8a4" x="897.1" y="1175.5"/>
<use href="#cn8b6" x="799.6" y="1176.5"/>
<use href="#cn8a1" x="878.5" y="1176.9"/>
<use href="#cn8a2" x="830.1" y="1176.9"/>
<use href="#cn8a4" x="983.4" y="1177.3"/>
<use href="#cn8a4" x="1232.4" y="1177.4"/>
<use href="#cn8b6" x="1219.1" y="1178.2"/>
<use href="#cn8a3" x="943.7" y="1178.3"/>
<use href="#cn8b5" x="876.3" y="1178.6"/>
<use href="#cn8a1" x="979.2" y="1178.7"/>
<use href="#cn8a4" x="784.7" y="1179"/>
<use href="#cn8b0" x="962.1" y="1179.4"/>
<use href="#cn8a6" x="1124.2" y="1179.9"/>
<use href="#cn8a3" x="1204.4" y="1180"/>
<use href="#cn8a3" x="877.2" y="1181.1"/>
<use href="#cn8b4" x="963.7" y="1181.7"/>
<use href="#cn8a7" x="1013.2" y="1182.9"/>
<use href="#cn8b4" x="1082.7" y="1183.6"/>
<use href="#cn8a5" x="1174.6" y="1183.8"/>
<use href="#cn8a3" x="1050" y="1184.3"/>
<use href="#cn8b3" x="977" y="1184.7"/>
<use href="#cn8a2" x="1130.1" y="1184.9"/>
<use href="#cn8b1" x="1072.8" y="1186.8"/>
<use href="#cn8a1" x="821.2" y="1187.2"/>
<use href="#cn8a2" x="925" y="1188.8"/>
<use href="#cn8b4" x="921.8" y="1190.6"/>
<use href="#cn8a5" x="755.7" y="1191.1"/>
<use href="#cn8a6" x="1038.4" y="1191.6"/>
<use href="#cn8a6" x="1237.5" y="1194.8"/>
<use href="#cn8a5" x="1246.5" y="1195.2"/>
<use href="#cn8a3" x="1252.8" y="1196"/>
<use href="#cn8a3" x="1024.1" y="1196.3"/>
<use href="#cn8a1" x="885.7" y="1198.5"/>
<use href="#cn8b2" x="1239.2" y="1198.8"/>
<use href="#cn8b3" x="877.6" y="1199"/>
<use href="#cn8b0" x="770.8" y="1199.4"/>
<use href="#cn8a3" x="853" y="1200.2"/>
<use href="#cn8b0" x="717.3" y="1201.4"/>
<use href="#cn8a6" x="893.7" y="1202.4"/>
<use href="#cn8a3" x="955.4" y="1203.1"/>
<use href="#cn8b3" x="1168.6" y="1203.8"/>
<use href="#cn8b7" x="1168.5" y="1204.3"/>
<use href="#cn8b4" x="734.2" y="1204.9"/>
<use href="#cn8b1" x="1182.5" y="1205.6"/>
<use href="#cn8a4" x="1235.7" y="1205.6"/>
<use href="#cn8a3" x="1194.7" y="1206"/>
<use href="#cn8a1" x="989.3" y="1206.3"/>
<use href="#cn8b1" x="815.7" y="1207.2"/>
<use href="#cn8b2" x="1142.6" y="1208.3"/>
<use href="#cn8b4" x="965.6" y="1209.2"/>
<use href="#cn8a7" x="1154.1" y="1210.2"/>
<use href="#cn8a2" x="970.6" y="1210.2"/>
<use href="#cn8a5" x="1044.9" y="1210.3"/>
<use href="#cn8a3" x="721.8" y="1210.8"/>
<use href="#cn8a3" x="1177.9" y="1213.6"/>
<use href="#cn8b6" x="1205.3" y="1213.9"/>
<use href="#cn8b0" x="1141.4" y="1214.9"/>
<use href="#cn8a5" x="879.7" y="1214.9"/>
<use href="#cn8a2" x="1130" y="1215.3"/>
<use href="#cn8a5" x="821.5" y="1216.5"/>
<use href="#cn8a7" x="999.1" y="1216.9"/>
<use href="#cn8a6" x="835" y="1217.4"/>
<use href="#cn8b6" x="1059.1" y="1218.7"/>
<use href="#cn8a0" x="964.2" y="1219"/>
<use href="#cn8a7" x="831.6" y="1219.3"/>
<use href="#cn8a5" x="1060.9" y="1219.5"/>
<use href="#cn8b3" x="752.9" y="1220"/>
<use href="#cn8b4" x="813" y="1221.5"/>
<use href="#cn8b4" x="790.4" y="1221.5"/>
<use href="#cn8a3" x="895.3" y="1222.8"/>
<use href="#cn8a7" x="875" y="1223.3"/>
<use href="#cn8b4" x="988" y="1224"/>
<use href="#cn8a0" x="955.3" y="1224"/>
<use href="#cn8b7" x="874.2" y="1224.2"/>
<use href="#cn8a2" x="907.9" y="1224.7"/>
<use href="#cn8a1" x="1154.5" y="1225.2"/>
<use href="#cn8a5" x="882.1" y="1225.8"/>
<use href="#cn8a1" x="842.1" y="1225.9"/>
<use href="#cn8a0" x="817.5" y="1226.8"/>
<use href="#cn8a6" x="793.5" y="1228.2"/>
<use href="#cn8b3" x="1187.7" y="1229.2"/>
<use href="#cn8a5" x="1190.4" y="1231.7"/>
<use href="#cn8a2" x="1118.5" y="1232.3"/>
<use href="#cn8a4" x="1087.5" y="1234.2"/>
<use href="#cn8a2" x="969.9" y="1235"/>
<use href="#cn8b6" x="874.9" y="1235.7"/>
<use href="#cn8a6" x="848.3" y="1237.4"/>
<use href="#cn8a4" x="933.4" y="1239"/>
<use href="#cn8a7" x="940.4" y="1240.9"/>
<use href="#cn8a3" x="1131.9" y="1243.9"/>
<use href="#cn8a2" x="852.5" y="1244.2"/>
<use href="#cn8b4" x="883.1" y="1244.4"/>
<use href="#cn8a6" x="905" y="1245.3"/>
<use href="#cn8a1" x="856.2" y="1246.1"/>
<use href="#cn8a0" x="953.5" y="1246.9"/>
<use href="#cn8a3" x="1114" y="1246.9"/>
<use href="#cn8a3" x="1053.6" y="1247.4"/>
<use href="#cn8a5" x="909.3" y="1247.5"/>
<use href="#cn8b3" x="1064.2" y="1249.6"/>
<use href="#cn8b4" x="1145.2" y="1250.3"/>
<use href="#cn8a5" x="1112.1" y="1252.9"/>
<use href="#cn8b3" x="1038.5" y="1254.1"/>
<use href="#cn8a4" x="903.9" y="1255.9"/>
<use href="#cn8a5" x="914" y="1256"/>
<use href="#cn8a3" x="826.3" y="1256.1"/>
<use href="#cn8b2" x="1021" y="1256.7"/>
<use href="#cn8b7" x="850.6" y="1257"/>
<use href="#cn8a3" x="1020.5" y="1257.9"/>
<use href="#cn8b2" x="937.9" y="1259.6"/>
<use href="#cn8a6" x="908.7" y="1259.9"/>
<use href="#cn8a6" x="1092.3" y="1259.9"/>
<use href="#cn8b0" x="1075" y="1260.8"/>
<use href="#cn8b1" x="1101.4" y="1261.4"/>
<use href="#cn8a5" x="817.9" y="1261.6"/>
<use href="#cn8a6" x="1129.5" y="1262.7"/>
<use href="#cn8a5" x="1123.8" y="1263.2"/>
<use href="#cn8b3" x="973.7" y="1263.2"/>
<use href="#cn8a0" x="1001.1" y="1264.6"/>
<use href="#cn8a6" x="1084.5" y="1264.7"/>
<use href="#cn8a6" x="1042" y="1265.8"/>
<use href="#cn8a4" x="960.3" y="1266.1"/>
<use href="#cn8b7" x="1004.5" y="1266.9"/>
<use href="#cn8b0" x="1000.2" y="1268.9"/>
<use href="#cn8a6" x="887.8" y="1269.4"/>
<use href="#cn8a5" x="850.5" y="1269.9"/>
<use href="#cn8b2" x="880.5" y="1272.1"/>
<use href="#cn8b1" x="875.5" y="1272.8"/>
<use href="#cn8a1" x="1014.5" y="1279.7"/>
<use href="#cn8b1" x="1043.3" y="1281.6"/>
<use href="#cn8a6" x="1088" y="1283.4"/>
<use href="#cn8b4" x="912.2" y="1283.6"/>
<use href="#cn8a0" x="966.3" y="1284.4"/>
<use href="#cn8a7" x="898.2" y="1285.7"/>
<use href="#cn8b4" x="1084.5" y="1285.7"/>
<use href="#cn8b5" x="1065.9" y="1286.4"/>
<use href="#cn8b4" x="950.7" y="1287.9"/>
<use href="#cn8a3" x="1015.3" y="1289.5"/>
<use href="#cn8a7" x="921.4" y="1292"/>
<use href="#cn8a2" x="979" y="1293.2"/>
<use href="#cn8a6" x="1029.4" y="1294.1"/>
<use href="#cn8b0" x="992" y="1295.1"/>
<use href="#cn8a0" x="1009.3" y="1296.5"/>
<use href="#cn8a6" x="1053.8" y="1296.8"/>
<use href="#cn8a1" x="1051.1" y="1299"/>
<use href="#cn8b2" x="1078.6" y="1299.2"/>
<use href="#cn8a0" x="898.5" y="1303.6"/>
<use href="#cn8b3" x="959.6" y="1303.6"/>
<use href="#cn8a7" x="1090.4" y="1305.4"/>
<use href="#cn8a0" x="919.1" y="1306.5"/>
<use href="#cn8a2" x="903.3" y="1307.6"/>
<use href="#cn8a3" x="1084.3" y="1309.4"/>
<use href="#cn8a4" x="1024.8" y="1310.7"/>
<use href="#cn8b0" x="987.4" y="1311.2"/>
<use href="#cn8a3" x="1049.1" y="1311.9"/>
<use href="#cn8b0" x="1007.3" y="1316.1"/>
<use href="#cn8b3" x="994.3" y="1317.8"/>
<use href="#cn8b7" x="937.3" y="1318.5"/>
<use href="#cn8b7" x="1010.5" y="1319.4"/>
<use href="#cn8b4" x="1066" y="1321.2"/>
<use href="#cn8a3" x="992.9" y="1322.3"/>
<use href="#cn8a2" x="1021.5" y="1323"/>
<use href="#cn8a0" x="1060.4" y="1324.6"/>
<use href="#cn8a0" x="1020.7" y="1334.7"/>
<use href="#cn8a4" x="988.5" y="1344.9"/>
<use href="#cn8a1" x="980.9" y="1348.3"/>
<polygon points="710.9,1205.4 712.4,1199.9 713.8,1201.2 715.3,1198.3 716.8,1199.2 718.2,1198 719.7,1193.6 721.2,1194.8 722.6,1192.5 724.1,1191.7 725.5,1190.7 727,1189.4 728.5,1189.4 729.9,1185.9 731.4,1187.1 732.9,1186 734.3,1185.8 735.8,1185.1 737.7,1179.7 739.5,1180.1 741.4,1180.6 743.2,1179.4 745.1,1175.2 747,1177.1 748.8,1174.5 750.7,1174.1 752.5,1172 754.4,1172 756.2,1169.7 758.1,1169.1 760,1167.6 761.8,1165.3 763.7,1165.2 765.5,1166.3 767.4,1167 769.3,1162.4 771.1,1162.6 773,1158.5 774.8,1157.9 776.7,1156.2 778.6,1154.1 780.4,1155 782.3,1154.1 784.1,1150.7 786,1151.8 787.8,1148.6 789.7,1149.5 791.6,1146.4 793.4,1144.4 795.3,1141.9 797.1,1140.6 799,1144.4 800.9,1141.9 802.7,1138.7 804.6,1136.7 806.4,1136.9 808.3,1132.3 810.2,1131.5 812,1129.3 813.9,1129.6 815.7,1128.4 817.6,1128 819.4,1125.3 821.3,1123.7 823.2,1121.5 825,1119.9 826.9,1116.4 828.7,1114 830.6,1117.4 832.5,1114.9 834.3,1111.6 836.2,1108.4 838,1109.7 839.9,1106.8 841.8,1107 843.6,1107.3 845.5,1103.3 847.3,1103 849.2,1102.7 851,1100.5 852.9,1099.8 854.8,1097.9 856.6,1096.2 858.5,1094.9 860.3,1092.9 862.2,1094.8 863.8,1093.3 865.4,1092.1 867,1089.2 868.6,1088.3 870.1,1085.4 871.7,1085.1 873.3,1083.4 874.9,1081 876.5,1083.4 878.1,1083.5 879.7,1082.3 881.3,1080.2 882.8,1078 884.4,1075.9 886,1076.1 887.6,1072.9 889.2,1076.7 890.5,1073.4 891.9,1069.8 893.2,1071.3 894.5,1066.9 895.8,1065.5 897.2,1063.2 898.5,1063.3 899.8,1064.1 901.2,1060.1 902.5,1060.2 903.8,1060.8 905.2,1057.9 906.5,1056.5 907.8,1055.3 909.1,1055.3 910.5,1054.6 911.8,1054.2 913.4,1052.3 915,1050.4 916.6,1048.1 918.2,1046.9 919.8,1047 921.4,1046.8 923,1046.3 924.6,1046.2 926.1,1045.7 927.7,1043.9 929.3,1044.3 930.9,1041.2 932.5,1039.8 934.1,1039.2 935.7,1041 937.3,1039.5 938.9,1040.6 940.5,1036 942.1,1035.4 943.7,1036 945.3,1035 946.9,1036.6 948.5,1036.7 950.1,1035.2 951.7,1033.5 953.2,1033.2 954.8,1035.5 956.4,1033.3 958,1031.2 959.6,1030.9 961.2,1029.8 962.8,1029 964.4,1031.6 966,1033.9 967.6,1029.8 969.2,1032.2 970.8,1031 972.4,1031.5 974,1033.5 975.6,1034.1 977.2,1033.4 978.8,1034.3 980.3,1037.1 981.9,1036.1 983.5,1039 985.1,1039.6 986.7,1037.8 988.3,1038.2 989.9,1041 991.5,1042.4 993.1,1045.1 994.7,1042.5 996.3,1042.6 997.9,1044.5 999.5,1045.6 1001,1047.8 1002.6,1050.4 1004.2,1051.8 1005.8,1052.9 1007.4,1054 1009,1054 1010.6,1057.3 1012.2,1060 1013.7,1059 1015.3,1061.6 1016.9,1062.6 1018.5,1065.2 1020.1,1067.7 1022.2,1067.2 1024.4,1066 1026.5,1067.6 1028.6,1069.8 1030.7,1068.6 1032.9,1071 1035,1072.7 1037.1,1071.4 1039.3,1072.5 1041.4,1073.8 1043.5,1077 1045.7,1076.3 1047.8,1077.8 1049.9,1078 1052,1080.7 1054.2,1080.6 1056.3,1085.8 1058.4,1083.6 1060.5,1083.7 1062.7,1083.5 1064.8,1084.5 1066.9,1086.1 1069,1090.1 1071.2,1090 1073.3,1090.4 1075.4,1093.8 1077.5,1094 1079.7,1093.1 1081.8,1093.4 1083.9,1094.1 1086,1098.6 1088.2,1098.5 1090.3,1098.2 1092.4,1103.8 1094.5,1104.3 1096.6,1101.9 1098.8,1102.2 1100.9,1103.9 1103,1106.3 1105.1,1105.9 1107.3,1106.5 1109.4,1107.9 1111.5,1109.5 1113.6,1111.9 1115.8,1113.5 1117.9,1114.5 1120,1115.6 1122.1,1115.9 1124.3,1118.5 1126.4,1117.4 1128.5,1121.9 1130.6,1121.7 1132.7,1122 1134.9,1122.7 1137,1122.1 1139.1,1125.6 1141.2,1126.8 1143.4,1127.7 1145.5,1129.1 1147.6,1127.9 1149.7,1131 1151.9,1132.9 1154,1132.1 1156.1,1131.8 1158.2,1132.1 1160.4,1134 1162.5,1136.3 1164.6,1139.9 1166.2,1137.8 1167.8,1138.3 1169.4,1137.4 1171,1137.4 1172.6,1138.3 1174.2,1142.5 1175.8,1143.5 1177.4,1144 1178.9,1145.7 1180.5,1144.3 1182.1,1147.4 1183.7,1145.4 1185.3,1146.6 1186.9,1147.4 1188.5,1149.1 1190.1,1147.9 1191.7,1153.5 1193.6,1149.3 1195.4,1150.7 1197.3,1150.4 1199.1,1153 1201,1154.8 1202.9,1153.9 1204.7,1155.5 1206.6,1157.5 1208.4,1157.1 1210.3,1158.4 1212.1,1160.8 1214,1159.1 1215.9,1160.5 1217.7,1159.6 1219.6,1161.7 1221.4,1161.1 1223.3,1167 1224.9,1165.4 1226.5,1164.9 1228.1,1165.1 1229.7,1166.6 1231.3,1169.9 1232.9,1170.4 1234.5,1172.7 1236.1,1172.6 1237.6,1170.9 1239.2,1173.5 1240.8,1173.4 1242.4,1174.4 1244,1177.4 1245.6,1176.6 1247.2,1179.6 1248.8,1180.7 1250.4,1182.8 1250.4,1188 1250.5,1186.7 1250.5,1187.5 1250.5,1189.5 1250.6,1185.8 1250.6,1189.3 1250.6,1185.6 1250.7,1187.4 1250.7,1188.4 1250.8,1190.4 1250.8,1187.9 1250.8,1190.2 1250.9,1189.5 1250.9,1188.5 1250.9,1186.8 1251,1186.7 1251,1185 1249.9,1188 1248.9,1191 1247.8,1190.1 1246.7,1191.6 1245.7,1189.5 1244.6,1189.8 1243.5,1193.2 1242.5,1195.5 1241.4,1193.7 1240.4,1192.2 1239.3,1193.2 1238.2,1194.5 1237.2,1195.4 1236.1,1197.1 1235,1196.7 1234,1198.7 1232.9,1195.3 1232.5,1200.5 1232.1,1200.4 1231.6,1198.9 1231.2,1201.6 1230.8,1199.9 1230.4,1202.4 1229.9,1201.3 1229.5,1202.2 1229.1,1202 1228.7,1202.9 1228.2,1201.8 1227.8,1202.9 1227.4,1204.3 1227,1203 1226.5,1204.1 1226.1,1203.9 1225.7,1200.7 1225.2,1204.7 1224.6,1206.5 1224.1,1204.9 1223.6,1204.7 1223.1,1208.4 1222.5,1206.3 1222,1209.7 1221.5,1211 1220.9,1209.1 1220.4,1211.1 1219.9,1210.2 1219.3,1213.5 1218.8,1211.5 1218.3,1210.9 1217.8,1210.8 1217.2,1214.7 1216.7,1211.5 1216,1217.4 1215.2,1217.9 1214.5,1218.4 1213.7,1218.1 1213,1218.8 1212.2,1216.1 1211.5,1219.8 1210.7,1218.8 1210,1221.5 1209.2,1220.5 1208.5,1223.1 1207.7,1219.6 1207,1223.9 1206.2,1221.1 1205.5,1222.7 1204.7,1223.5 1204,1220.6 1202.9,1227.1 1201.9,1227.8 1200.8,1225.9 1199.8,1224.3 1198.7,1224 1197.6,1227.1 1196.6,1229.6 1195.5,1229.1 1194.5,1227.7 1193.4,1228.8 1192.4,1229.8 1191.3,1228.3 1190.2,1230.4 1189.2,1228.8 1188.1,1227.8 1187.1,1227.9 1186,1227.8 1185.7,1230.7 1185.4,1231.9 1185,1234.3 1184.7,1233.4 1184.4,1234.9 1184.1,1236.3 1183.8,1236.3 1183.5,1235.8 1183.1,1238.6 1182.8,1240 1182.5,1238.3 1182.2,1241.5 1181.9,1242.2 1181.6,1244 1181.2,1244.6 1180.9,1243.9 1180.6,1240.4 1179.5,1244.8 1178.5,1243.2 1177.4,1244.5 1176.3,1246.2 1175.3,1249 1174.2,1249.3 1173.1,1251 1172.1,1251.7 1171,1252.9 1170,1252 1168.9,1252.1 1167.8,1251.9 1166.8,1251 1165.7,1254.1 1164.6,1254.5 1163.6,1252.8 1162.5,1251.3 1161.6,1255.9 1160.8,1256.8 1159.9,1255.5 1159.1,1258 1158.2,1258.6 1157.4,1257.7 1156.5,1258.8 1155.7,1262.3 1154.8,1259.5 1154,1259.6 1153.1,1261.9 1152.3,1264.2 1151.4,1265.8 1150.6,1264.1 1149.7,1265.9 1148.9,1263.6 1148,1262.1 1146.9,1267.4 1145.9,1267 1144.8,1268.1 1143.8,1268.4 1142.7,1269.2 1141.6,1271.6 1140.6,1273.2 1139.5,1270.2 1138.5,1272.6 1137.4,1274.7 1136.4,1274.1 1135.3,1273.8 1134.2,1273.5 1133.2,1274.4 1132.1,1275.7 1131.1,1276.6 1130,1273 1129.3,1276.6 1128.5,1278.1 1127.8,1277.3 1127,1279.8 1126.3,1278.2 1125.6,1279.6 1124.8,1280.8 1124.1,1281.3 1123.3,1282.8 1122.6,1282.2 1121.8,1284.1 1121.1,1286.8 1120.4,1287.3 1119.6,1289.7 1118.9,1290.8 1118.1,1289.3 1117.4,1285.6 1116,1291.8 1114.6,1291.3 1113.3,1292.2 1111.9,1293 1110.5,1292.8 1109.1,1293.2 1107.7,1293.2 1106.3,1293.9 1105,1294.7 1103.6,1297 1102.2,1294.9 1100.8,1294.5 1099.4,1298.9 1098,1298.6 1096.7,1299.9 1095.3,1301.8 1093.9,1296.4 1092.8,1302.7 1091.8,1302.5 1090.7,1302 1089.6,1301 1088.6,1301 1087.5,1304.6 1086.4,1306.7 1085.4,1305 1084.3,1305.8 1083.3,1307.3 1082.2,1307.8 1081.1,1306.7 1080.1,1310.1 1079,1309.7 1077.9,1310.9 1076.9,1311.5 1075.8,1307.2 1074.8,1309.9 1073.9,1311.8 1072.9,1313.4 1072,1314.2 1071,1313.2 1070.1,1312.8 1069.1,1312.7 1068.2,1313.2 1067.2,1314.1 1066.3,1316.4 1065.3,1317.9 1064.4,1319.5 1063.4,1319.1 1062.5,1321 1061.5,1318.4 1060.6,1319.6 1059.6,1318 1058.9,1322.8 1058.1,1324.4 1057.4,1325 1056.6,1325.6 1055.9,1326.4 1055.2,1326.4 1054.4,1327.6 1053.7,1330.3 1052.9,1332.3 1052.2,1331.4 1051.4,1335.7 1050.7,1333.7 1050,1334.4 1049.2,1337.1 1048.5,1338.1 1047.7,1340.2 1047,1338 1045.6,1343.6 1044.2,1343.3 1042.9,1344.8 1041.5,1344.4 1040.1,1343.4 1038.7,1343.3 1037.3,1344.4 1035.9,1346.5 1034.6,1346.8 1033.2,1348.9 1031.8,1350.6 1030.4,1352.8 1029,1350.2 1027.6,1354 1026.3,1350.8 1024.9,1354.8 1023.5,1350.6 1022.8,1355.8 1022,1355.8 1021.3,1356.5 1020.5,1358.7 1019.8,1360.2 1019,1357.8 1018.3,1357.2 1017.5,1360.9 1016.8,1360.9 1016,1362.9 1015.3,1360.5 1014.5,1363.4 1013.8,1361.2 1013,1360.9 1012.3,1362 1011.5,1366 1010.8,1361.4 1010.6,1363.6 1010.3,1362.6 1010.1,1364.3 1009.8,1365.1 1009.6,1364.7 1009.3,1366.6 1009.1,1365.1 1008.8,1368.2 1008.6,1368.8 1008.3,1367.4 1008.1,1364.7 1007.8,1366.2 1007.6,1367.1 1007.3,1367.6 1007.1,1366.7 1006.8,1368 1006.6,1363.4 1005.5,1364.3 1004.5,1366.1 1003.4,1366.4 1002.4,1365.8 1001.3,1367.3 1000.2,1363 999.2,1361.3 998.1,1364.1 997.1,1361.5 996,1360.6 995,1363.5 993.9,1361.8 992.8,1363.6 991.8,1363.5 990.7,1362.4 989.7,1360.3 988.6,1356.6 986.7,1361.7 984.9,1361.4 983,1358.7 981.2,1356.2 979.3,1356.6 977.4,1355.1 975.6,1353 973.7,1351.4 971.9,1351.9 970,1350.1 968.2,1349.7 966.3,1352.5 964.4,1352.6 962.6,1351.8 960.7,1349.2 958.9,1349.1 957,1343.1 954.9,1348.1 952.7,1347.2 950.6,1347.4 948.5,1345.1 946.4,1342.2 944.2,1339.3 942.1,1339.2 940,1341.4 937.8,1340 935.7,1339.5 933.6,1339.7 931.4,1336.6 929.3,1334.3 927.2,1336.9 925.1,1335.6 922.9,1331.8 920.8,1329.5 918.7,1333.4 916.6,1329.5 914.4,1328.3 912.3,1329.5 910.2,1328.9 908.1,1326.3 905.9,1327.9 903.8,1324.3 901.7,1325.4 899.6,1321.2 897.4,1320.9 895.3,1322.7 893.2,1321 891.1,1320.1 888.9,1319.7 886.8,1317.5 884.7,1311.5 882.3,1314.1 879.9,1314.8 877.5,1313.1 875.1,1307.9 872.8,1306.8 870.4,1308.6 868,1304.3 865.6,1301.6 863.2,1302.7 860.8,1302.6 858.4,1303.2 856,1302.3 853.7,1299.4 851.3,1298 848.9,1295.8 846.5,1295.8 844.1,1288.9 842,1291.2 839.9,1288 837.7,1287.8 835.6,1286.9 833.5,1288.9 831.4,1285.2 829.2,1284.2 827.1,1284 825,1281.4 822.9,1281.2 820.7,1279.6 818.6,1280.5 816.5,1280.4 814.4,1278.5 812.2,1278.7 810.1,1276.1 808,1270.8 805.6,1271.6 803.2,1270.4 800.8,1272 798.4,1269.6 796.1,1267.3 793.7,1267.2 791.3,1267.6 788.9,1266.2 786.5,1264.7 784.1,1262.7 781.7,1261.8 779.3,1259.4 777,1256.9 774.6,1254.9 772.2,1253 769.8,1252 767.4,1248.3 765.8,1250 764.2,1249.4 762.6,1248 761,1248.2 759.4,1245.5 757.8,1247 756.2,1248.1 754.6,1248.1 753.1,1244.8 751.5,1242.3 749.9,1243.8 748.3,1243.8 746.7,1240.4 745.1,1238.2 743.5,1240 741.9,1238.5 740.3,1234.7 738.7,1238.7 737.1,1234.3 735.5,1232.7 733.9,1230.2 732.3,1231.8 730.7,1228.3 729.1,1230.2 727.5,1228.6 726,1226.7 724.4,1224 722.8,1225.3 721.2,1220.9 719.6,1221.1 718,1221.4 716.4,1219.7 714.8,1215.2 713.2,1212.2 713.1,1215.9 712.9,1213.3 712.8,1216.4 712.7,1216.7 712.5,1214.9 712.4,1215.6 712.3,1214.4 712.1,1211.3 712,1211.3 711.8,1209.1 711.7,1210.3 711.6,1213.1 711.4,1210.8 711.3,1211.1 711.2,1209.4 711,1210.1 710.9,1205.4" fill="#000" filter="url(#speck)"/>
</g>
<g filter="url(#soft)">
<path d="M934.5,1060 C935.9,1046 936.3,1033.8 936.6,1027.1 Q936.9,1025 938,1025 L938,1060 Z" fill="url(#spkL2)"/>
<path d="M941.5,1060 C940.1,1046 939.7,1033.8 939.4,1027.1 Q939.1,1025 938,1025 L938,1060 Z" fill="url(#spkR2)"/>
<path d="M997.2,1065 C998.8,1049 999.3,1035 999.6,1027.4 Q999.9,1025 1001.2,1025 L1001.2,1065 Z" fill="url(#spkL2)"/>
<path d="M1005.2,1065 C1003.6,1049 1003.1,1035 1002.8,1027.4 Q1002.5,1025 1001.2,1025 L1001.2,1065 Z" fill="url(#spkR2)"/>
<path d="M905,1070 C906.8,1048.4 907.4,1029.5 907.8,1018.8 Q908.1,1016 909.6,1016 L909.6,1070 Z" fill="url(#spkL2)"/>
<path d="M914.2,1070 C912.4,1048.4 911.8,1029.5 911.4,1018.8 Q911.1,1016 909.6,1016 L909.6,1070 Z" fill="url(#spkR2)"/>
<path d="M1007,1090 C1008.6,1075.6 1009.1,1063 1009.4,1056.4 Q1009.7,1054 1011,1054 L1011,1090 Z" fill="url(#spkL2)"/>
<path d="M1015,1090 C1013.4,1075.6 1012.9,1063 1012.6,1056.4 Q1012.3,1054 1011,1054 L1011,1090 Z" fill="url(#spkR2)"/>
<path d="M980,1100 C981.6,1085.2 982.1,1072.2 982.4,1065.4 Q982.7,1063 984,1063 L984,1100 Z" fill="url(#spkL2)"/>
<path d="M988,1100 C986.4,1085.2 985.9,1072.2 985.6,1065.4 Q985.3,1063 984,1063 L984,1100 Z" fill="url(#spkR2)"/>
<path d="M959.7,1110 C961.3,1094.8 961.8,1081.5 962.1,1074.4 Q962.4,1072 963.7,1072 L963.7,1110 Z" fill="url(#spkL2)"/>
<path d="M967.7,1110 C966.1,1094.8 965.6,1081.5 965.3,1074.4 Q965,1072 963.7,1072 L963.7,1110 Z" fill="url(#spkR2)"/>
<path d="M867.2,1115 C868.8,1103.4 869.3,1093.2 869.6,1088.4 Q869.9,1086 871.2,1086 L871.2,1115 Z" fill="url(#spkL2)"/>
<path d="M875.2,1115 C873.6,1103.4 873.1,1093.2 872.8,1088.4 Q872.5,1086 871.2,1086 L871.2,1115 Z" fill="url(#spkR2)"/>
<path d="M914.6,1120 C916.2,1104.4 916.7,1090.8 917,1083.4 Q917.3,1081 918.6,1081 L918.6,1120 Z" fill="url(#spkL2)"/>
<path d="M922.6,1120 C921,1104.4 920.5,1090.8 920.2,1083.4 Q919.9,1081 918.6,1081 L918.6,1120 Z" fill="url(#spkR2)"/>
<path d="M1083.3,1125 C1085.1,1107.4 1085.7,1092 1086.1,1083.8 Q1086.4,1081 1087.9,1081 L1087.9,1125 Z" fill="url(#spkL2)"/>
<path d="M1092.5,1125 C1090.7,1107.4 1090.1,1092 1089.7,1083.8 Q1089.4,1081 1087.9,1081 L1087.9,1125 Z" fill="url(#spkR2)"/>
<path d="M953,1130 C954.6,1117.6 955.1,1106.8 955.4,1101.4 Q955.7,1099 957,1099 L957,1130 Z" fill="url(#spkL2)"/>
<path d="M961,1130 C959.4,1117.6 958.9,1106.8 958.6,1101.4 Q958.3,1099 957,1099 L957,1130 Z" fill="url(#spkR2)"/>
<path d="M837.8,1140 C839.4,1127.2 839.9,1116 840.2,1110.4 Q840.5,1108 841.8,1108 L841.8,1140 Z" fill="url(#spkL2)"/>
<path d="M845.8,1140 C844.2,1127.2 843.7,1116 843.4,1110.4 Q843.1,1108 841.8,1108 L841.8,1140 Z" fill="url(#spkR2)"/>
<path d="M1101.9,1165 C1103.5,1151.4 1104,1139.5 1104.3,1133.4 Q1104.6,1131 1105.9,1131 L1105.9,1165 Z" fill="url(#spkL2)"/>
<path d="M1109.9,1165 C1108.3,1151.4 1107.8,1139.5 1107.5,1133.4 Q1107.2,1131 1105.9,1131 L1105.9,1165 Z" fill="url(#spkR2)"/>
<path d="M1145.2,1185 C1147.5,1163.4 1148.2,1144.5 1148.7,1134.5 Q1149.2,1131 1151,1131 L1151,1185 Z" fill="url(#spkL)"/>
<path d="M1156.8,1185 C1154.5,1163.4 1153.8,1144.5 1153.3,1134.5 Q1152.8,1131 1151,1131 L1151,1185 Z" fill="url(#spkR)"/>
<path d="M795.5,1190 C797.8,1166.4 798.4,1145.8 798.9,1134.5 Q799.4,1131 801.2,1131 L801.2,1190 Z" fill="url(#spkL2)"/>
<path d="M807,1190 C804.7,1166.4 804,1145.8 803.5,1134.5 Q803,1131 801.2,1131 L801.2,1190 Z" fill="url(#spkR2)"/>
<path d="M1156,1190 C1157.6,1175.2 1158.1,1162.2 1158.4,1155.4 Q1158.7,1153 1160,1153 L1160,1190 Z" fill="url(#spkL2)"/>
<path d="M1164,1190 C1162.4,1175.2 1161.9,1162.2 1161.6,1155.4 Q1161.3,1153 1160,1153 L1160,1190 Z" fill="url(#spkR2)"/>
<path d="M1223.8,1190 C1225.4,1178 1225.9,1167.5 1226.2,1162.4 Q1226.5,1160 1227.8,1160 L1227.8,1190 Z" fill="url(#spkL2)"/>
<path d="M1231.8,1190 C1230.2,1178 1229.7,1167.5 1229.4,1162.4 Q1229.1,1160 1227.8,1160 L1227.8,1190 Z" fill="url(#spkR2)"/>
<path d="M946.2,1200 C947.8,1188.4 948.3,1178.2 948.6,1173.4 Q948.9,1171 950.2,1171 L950.2,1200 Z" fill="url(#spkL2)"/>
<path d="M954.2,1200 C952.6,1188.4 952.1,1178.2 951.8,1173.4 Q951.5,1171 950.2,1171 L950.2,1200 Z" fill="url(#spkR2)"/>
<path d="M819.8,1200 C821.4,1188.4 821.9,1178.2 822.2,1173.4 Q822.5,1171 823.8,1171 L823.8,1200 Z" fill="url(#spkL2)"/>
<path d="M827.8,1200 C826.2,1188.4 825.7,1178.2 825.4,1173.4 Q825.1,1171 823.8,1171 L823.8,1200 Z" fill="url(#spkR2)"/>
<path d="M882.9,1208 C885.4,1186.8 886.2,1168.2 886.7,1158.8 Q887.2,1155 889.2,1155 L889.2,1208 Z" fill="url(#spkL)"/>
<path d="M895.5,1208 C893,1186.8 892.2,1168.2 891.7,1158.8 Q891.2,1155 889.2,1155 L889.2,1208 Z" fill="url(#spkR)"/>
<path d="M1170.7,1225 C1172.8,1209 1173.4,1195 1173.8,1188.1 Q1174.2,1185 1175.9,1185 L1175.9,1225 Z" fill="url(#spkL2)"/>
<path d="M1181.1,1225 C1179,1209 1178.4,1195 1178,1188.1 Q1177.6,1185 1175.9,1185 L1175.9,1225 Z" fill="url(#spkR2)"/>
<path d="M785.9,1230 C787.5,1218.4 788,1208.2 788.3,1203.4 Q788.6,1201 789.9,1201 L789.9,1230 Z" fill="url(#spkL2)"/>
<path d="M793.9,1230 C792.3,1218.4 791.8,1208.2 791.5,1203.4 Q791.2,1201 789.9,1201 L789.9,1230 Z" fill="url(#spkR2)"/>
<path d="M1086.7,1240 C1089,1220 1089.6,1202.5 1090.1,1193.5 Q1090.6,1190 1092.4,1190 L1092.4,1240 Z" fill="url(#spkL)"/>
<path d="M1098.2,1240 C1095.9,1220 1095.2,1202.5 1094.7,1193.5 Q1094.2,1190 1092.4,1190 L1092.4,1240 Z" fill="url(#spkR)"/>
<path d="M1009.4,1240 C1011,1226 1011.5,1213.8 1011.8,1207.4 Q1012.1,1205 1013.4,1205 L1013.4,1240 Z" fill="url(#spkL2)"/>
<path d="M1017.4,1240 C1015.8,1226 1015.3,1213.8 1015,1207.4 Q1014.7,1205 1013.4,1205 L1013.4,1240 Z" fill="url(#spkR2)"/>
<path d="M981.7,1275 C983.5,1260.6 984.1,1248 984.5,1241.8 Q984.8,1239 986.3,1239 L986.3,1275 Z" fill="url(#spkL2)"/>
<path d="M990.9,1275 C989.1,1260.6 988.5,1248 988.1,1241.8 Q987.8,1239 986.3,1239 L986.3,1275 Z" fill="url(#spkR2)"/>
<path d="M1065.8,1275 C1067.4,1261.4 1067.9,1249.5 1068.2,1243.4 Q1068.5,1241 1069.8,1241 L1069.8,1275 Z" fill="url(#spkL2)"/>
<path d="M1073.8,1275 C1072.2,1261.4 1071.7,1249.5 1071.4,1243.4 Q1071.1,1241 1069.8,1241 L1069.8,1275 Z" fill="url(#spkR2)"/>
<path d="M1117.7,1275 C1119.3,1263.4 1119.8,1253.2 1120.1,1248.4 Q1120.4,1246 1121.7,1246 L1121.7,1275 Z" fill="url(#spkL2)"/>
<path d="M1125.7,1275 C1124.1,1263.4 1123.6,1253.2 1123.3,1248.4 Q1123,1246 1121.7,1246 L1121.7,1275 Z" fill="url(#spkR2)"/>
<path d="M868.8,1295 C870.6,1278.2 871.2,1263.5 871.6,1255.8 Q871.9,1253 873.4,1253 L873.4,1295 Z" fill="url(#spkL2)"/>
<path d="M878,1295 C876.2,1278.2 875.6,1263.5 875.2,1255.8 Q874.9,1253 873.4,1253 L873.4,1295 Z" fill="url(#spkR2)"/>
<path d="M1032,1300 C1033.6,1284.8 1034.1,1271.5 1034.4,1264.4 Q1034.7,1262 1036,1262 L1036,1300 Z" fill="url(#spkL2)"/>
<path d="M1040,1300 C1038.4,1284.8 1037.9,1271.5 1037.6,1264.4 Q1037.3,1262 1036,1262 L1036,1300 Z" fill="url(#spkR2)"/>
<path d="M934.9,1300 C936.5,1284.8 937,1271.5 937.3,1264.4 Q937.6,1262 938.9,1262 L938.9,1300 Z" fill="url(#spkL2)"/>
<path d="M942.9,1300 C941.3,1284.8 940.8,1271.5 940.5,1264.4 Q940.2,1262 938.9,1262 L938.9,1300 Z" fill="url(#spkR2)"/>
<path d="M984.6,1350 C986.2,1340 986.7,1331.2 987,1327.4 Q987.3,1325 988.6,1325 L988.6,1350 Z" fill="url(#spkL2)"/>
<path d="M992.6,1350 C991,1340 990.5,1331.2 990.2,1327.4 Q989.9,1325 988.6,1325 L988.6,1350 Z" fill="url(#spkR2)"/>
</g>
<line x1="55.8" y1="1153.3" x2="55.8" y2="1244.3" stroke="#333" stroke-width="1.3" />
<line x1="47.2" y1="1153.3" x2="55.8" y2="1153.3" stroke="#333" stroke-width="1.3" />
<line x1="47.2" y1="1198.5" x2="55.8" y2="1198.5" stroke="#333" stroke-width="1.3" />
<line x1="47.1" y1="1242.4" x2="363.5" y2="1402.9" stroke="#333" stroke-width="1.3" />
<line x1="348.3" y1="1405" x2="614" y2="1210.2" stroke="#333" stroke-width="1.3" />
<line x1="55.8" y1="1244.3" x2="72.2" y2="1232.5" stroke="#333" stroke-width="1.3" />
<line x1="103.7" y1="1271.1" x2="97.9" y2="1275.4" stroke="#333" stroke-width="1.3" />
<line x1="153.5" y1="1296.4" x2="147.7" y2="1300.7" stroke="#333" stroke-width="1.3" />
<line x1="203.3" y1="1321.6" x2="197.5" y2="1325.9" stroke="#333" stroke-width="1.3" />
<line x1="253.7" y1="1347.2" x2="247.9" y2="1351.5" stroke="#333" stroke-width="1.3" />
<line x1="304.4" y1="1372.9" x2="298.6" y2="1377.2" stroke="#333" stroke-width="1.3" />
<line x1="398.3" y1="1368.3" x2="405.5" y2="1371.9" stroke="#333" stroke-width="1.3" />
<line x1="442.1" y1="1336.2" x2="449.3" y2="1339.8" stroke="#333" stroke-width="1.3" />
<line x1="483.7" y1="1305.7" x2="490.9" y2="1309.3" stroke="#333" stroke-width="1.3" />
<line x1="525.4" y1="1275.2" x2="532.6" y2="1278.8" stroke="#333" stroke-width="1.3" />
<line x1="567.1" y1="1244.6" x2="574.3" y2="1248.2" stroke="#333" stroke-width="1.3" />
<line x1="589" y1="1206" x2="605.4" y2="1214.8" stroke="#333" stroke-width="1.3" />
<line x1="1228.1" y1="1201.4" x2="1260.6" y2="1222.5" stroke="#333" stroke-width="1.3" />
<line x1="705" y1="1153.8" x2="705" y2="1243.8" stroke="#333" stroke-width="1.3" />
<line x1="696.4" y1="1153.8" x2="705" y2="1153.8" stroke="#333" stroke-width="1.3" />
<line x1="696.4" y1="1198.8" x2="705" y2="1198.8" stroke="#333" stroke-width="1.3" />
<line x1="696.3" y1="1241.3" x2="1011" y2="1401.5" stroke="#333" stroke-width="1.3" />
<line x1="1002" y1="1401.7" x2="1264" y2="1209.9" stroke="#333" stroke-width="1.3" />
<line x1="705" y1="1243.8" x2="721.3" y2="1233.8" stroke="#333" stroke-width="1.3" />
<line x1="705" y1="1245.7" x2="699.2" y2="1250.3" stroke="#333" stroke-width="1.3" />
<line x1="767.5" y1="1277.5" x2="761.7" y2="1282.1" stroke="#333" stroke-width="1.3" />
<line x1="826.3" y1="1307.5" x2="820.5" y2="1312.1" stroke="#333" stroke-width="1.3" />
<line x1="885" y1="1337.4" x2="879.2" y2="1342" stroke="#333" stroke-width="1.3" />
<line x1="943.8" y1="1367.3" x2="938" y2="1371.9" stroke="#333" stroke-width="1.3" />
<line x1="1056" y1="1362.2" x2="1063.2" y2="1365.4" stroke="#333" stroke-width="1.3" />
<line x1="1105" y1="1326.3" x2="1112.2" y2="1329.5" stroke="#333" stroke-width="1.3" />
<line x1="1154.5" y1="1290.1" x2="1161.7" y2="1293.3" stroke="#333" stroke-width="1.3" />
<line x1="1203" y1="1254.6" x2="1210.2" y2="1257.8" stroke="#333" stroke-width="1.3" />
<line x1="1253" y1="1218" x2="1260.2" y2="1221.2" stroke="#333" stroke-width="1.3" />
<text x="75.2" y="1301.1" font-size="23" text-anchor="middle" font-weight="normal" fill="#111"  style="">2.5</text>
<text x="122.9" y="1328.2" font-size="23" text-anchor="middle" font-weight="normal" fill="#111"  style="">2.0</text>
<text x="172.5" y="1354.2" font-size="23" text-anchor="middle" font-weight="normal" fill="#111"  style="">1.5</text>
<text x="106.4" y="1374.8" font-size="23" text-anchor="middle" font-weight="normal" fill="#111"  style="">&#956;m</text>
<text x="220.9" y="1379" font-size="23" text-anchor="middle" font-weight="normal" fill="#111"  style="">1.0</text>
<text x="275.2" y="1408.5" font-size="23" text-anchor="middle" font-weight="normal" fill="#111"  style="">0.5</text>
<text x="596.5" y="1273.5" font-size="23" text-anchor="middle" font-weight="normal" fill="#111"  style="">2.5</text>
<text x="553.8" y="1302.6" font-size="23" text-anchor="middle" font-weight="normal" fill="#111"  style="">2.0</text>
<text x="512.2" y="1338" font-size="23" text-anchor="middle" font-weight="normal" fill="#111"  style="">1.5</text>
<text x="556.9" y="1358.8" font-size="23" text-anchor="middle" font-weight="normal" fill="#111"  style="">&#956;m</text>
<text x="470.5" y="1367.2" font-size="23" text-anchor="middle" font-weight="normal" fill="#111"  style="">1.0</text>
<text x="427.8" y="1401.6" font-size="23" text-anchor="middle" font-weight="normal" fill="#111"  style="">0.5</text>
<text x="683.3" y="1276.6" font-size="23" text-anchor="middle" font-weight="normal" fill="#111"  style="">3.0</text>
<text x="740.8" y="1312.9" font-size="23" text-anchor="middle" font-weight="normal" fill="#111"  style="">2.4</text>
<text x="799.6" y="1342.1" font-size="23" text-anchor="middle" font-weight="normal" fill="#111"  style="">1.8</text>
<text x="757.8" y="1366.3" font-size="23" text-anchor="middle" font-weight="normal" fill="#111"  style="">&#956;m</text>
<text x="858.3" y="1373.4" font-size="23" text-anchor="middle" font-weight="normal" fill="#111"  style="">1.2</text>
<text x="915.3" y="1405.9" font-size="23" text-anchor="middle" font-weight="normal" fill="#111"  style="">0.6</text>
<text x="1085.9" y="1396.4" font-size="23" text-anchor="middle" font-weight="normal" fill="#111"  style="">0.6</text>
<text x="1135.6" y="1358.9" font-size="23" text-anchor="middle" font-weight="normal" fill="#111"  style="">1.2</text>
<text x="1221.3" y="1355.8" font-size="23" text-anchor="middle" font-weight="normal" fill="#111"  style="">&#956;m</text>
<text x="1187.5" y="1322.8" font-size="23" text-anchor="middle" font-weight="normal" fill="#111"  style="">1.8</text>
<text x="1234.9" y="1286.7" font-size="23" text-anchor="middle" font-weight="normal" fill="#111"  style="">2.4</text>
<text x="1282.3" y="1250.6" font-size="23" text-anchor="middle" font-weight="normal" fill="#111"  style="">3.0</text>
<text x="19.8" y="1145.3" font-size="23" text-anchor="start" font-weight="normal" fill="#111" letter-spacing="0.3" style="">7.1 nm</text>
<text x="667.8" y="1145" font-size="23" text-anchor="start" font-weight="normal" fill="#111" letter-spacing="0.5" style="">7.1 nm</text>
<text x="273.5" y="982.7" font-size="23" text-anchor="start" font-weight="normal" fill="#111"  style="">NaGdF<tspan font-size="16" dy="6.5">4</tspan><tspan dy="-6.5">:Tb</tspan></text>
<text x="868" y="982.7" font-size="22.6" text-anchor="start" font-weight="normal" fill="#111"  style="">NaGdF<tspan font-size="16" dy="6.5">4</tspan><tspan dy="-6.5">:Tb@CzPPOA</tspan></text>
<text x="54.5" y="1033" font-size="23" text-anchor="start" font-weight="normal" fill="#111" letter-spacing="0.45" style=""><tspan font-style="italic">R</tspan><tspan font-style="italic" font-size="15" dy="6">q</tspan><tspan dy="-6"> = 1.24 nm</tspan></text>
<text x="693.5" y="1033" font-size="23" text-anchor="start" font-weight="normal" fill="#111" letter-spacing="0.4" style=""><tspan font-style="italic">R</tspan><tspan font-style="italic" font-size="15" dy="6">q</tspan><tspan dy="-6"> = 0.71 nm</tspan></text>
<rect x="1340.6" y="969.6" width="17.6" height="450.8" fill="url(#cbar)" stroke="#222" stroke-width="1"/>
<line x1="1349" y1="1120.8" x2="1358.2" y2="1120.8" stroke="#333" stroke-width="1.2" />
<line x1="1349" y1="1269.8" x2="1358.2" y2="1269.8" stroke="#333" stroke-width="1.2" />
<text x="1365" y="980.4" font-size="23" text-anchor="start" font-weight="normal" fill="#111"  style="">7.1</text>
<text x="1364.6" y="1128.2" font-size="23" text-anchor="start" font-weight="normal" fill="#111"  style="">3.3</text>
<text x="1365" y="1276.8" font-size="23" text-anchor="start" font-weight="normal" fill="#111"  style="">&#8211;0.4</text>
<text x="1365" y="1428.8" font-size="23" text-anchor="start" font-weight="normal" fill="#111"  style="">&#8211;4.2</text>
<text x="1405" y="1200.6" font-size="23" text-anchor="start" font-weight="normal" fill="#111"  style="">nm</text>
</svg></body></html>
